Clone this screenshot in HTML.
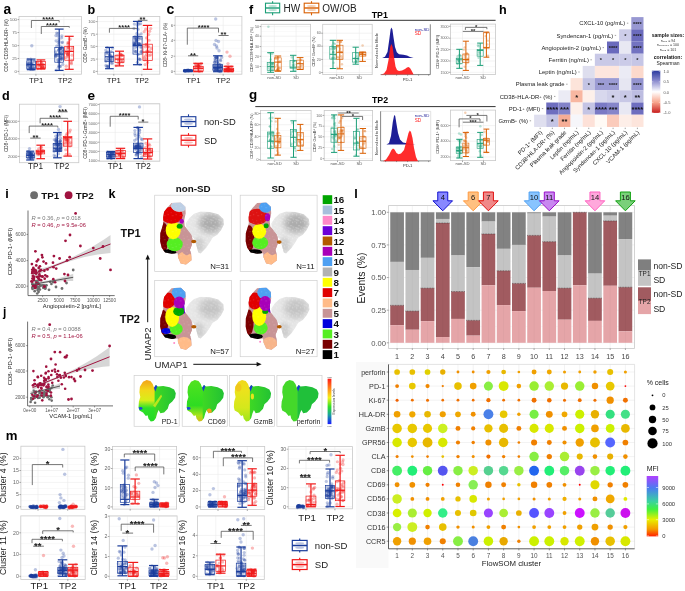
<!DOCTYPE html>
<html><head><meta charset="utf-8"><style>
html,body{margin:0;padding:0;background:#fff;width:685px;height:591px;overflow:hidden}
svg{display:block;will-change:transform;font-family:"Liberation Sans", sans-serif}
</style></head><body>
<svg width="685" height="591" viewBox="0 0 685 591">
<rect width="685" height="591" fill="#fff"/>
<text x="3.4" y="13.6" font-size="13.8" font-weight="bold" fill="#000">a</text>
<rect x="19" y="16.5" width="62.5" height="57.7" fill="#fff"/>
<line x1="19" y1="26.05" x2="81.5" y2="26.05" stroke="#f3f3f3" stroke-width="0.5"/>
<line x1="19" y1="39.05" x2="81.5" y2="39.05" stroke="#f3f3f3" stroke-width="0.5"/>
<line x1="19" y1="52.05" x2="81.5" y2="52.05" stroke="#f3f3f3" stroke-width="0.5"/>
<line x1="19" y1="64.95" x2="81.5" y2="64.95" stroke="#f3f3f3" stroke-width="0.5"/>
<line x1="19" y1="19.6" x2="81.5" y2="19.6" stroke="#ebebeb" stroke-width="0.6"/>
<line x1="19" y1="32.5" x2="81.5" y2="32.5" stroke="#ebebeb" stroke-width="0.6"/>
<line x1="19" y1="45.6" x2="81.5" y2="45.6" stroke="#ebebeb" stroke-width="0.6"/>
<line x1="19" y1="58.5" x2="81.5" y2="58.5" stroke="#ebebeb" stroke-width="0.6"/>
<line x1="19" y1="71.4" x2="81.5" y2="71.4" stroke="#ebebeb" stroke-width="0.6"/>
<line x1="35.9" y1="16.5" x2="35.9" y2="74.2" stroke="#ebebeb" stroke-width="0.6"/>
<line x1="63.9" y1="16.5" x2="63.9" y2="74.2" stroke="#ebebeb" stroke-width="0.6"/>
<rect x="19" y="16.5" width="62.5" height="57.7" fill="none" stroke="#c9c9c9" stroke-width="0.8"/>
<line x1="17.5" y1="19.6" x2="19" y2="19.6" stroke="#555" stroke-width="0.5"/>
<text x="17" y="21.11" font-size="4.3" text-anchor="end" fill="#666">100</text>
<line x1="17.5" y1="32.5" x2="19" y2="32.5" stroke="#555" stroke-width="0.5"/>
<text x="17" y="34.01" font-size="4.3" text-anchor="end" fill="#666">75</text>
<line x1="17.5" y1="45.6" x2="19" y2="45.6" stroke="#555" stroke-width="0.5"/>
<text x="17" y="47.11" font-size="4.3" text-anchor="end" fill="#666">50</text>
<line x1="17.5" y1="58.5" x2="19" y2="58.5" stroke="#555" stroke-width="0.5"/>
<text x="17" y="60.01" font-size="4.3" text-anchor="end" fill="#666">25</text>
<line x1="17.5" y1="71.4" x2="19" y2="71.4" stroke="#555" stroke-width="0.5"/>
<text x="17" y="72.91" font-size="4.3" text-anchor="end" fill="#666">0</text>
<line x1="35.9" y1="74.2" x2="35.9" y2="75.7" stroke="#555" stroke-width="0.5"/>
<line x1="63.9" y1="74.2" x2="63.9" y2="75.7" stroke="#555" stroke-width="0.5"/>
<circle cx="33.02" cy="67.76" r="1.6" fill="#1a3c9b" fill-opacity="0.3"/>
<circle cx="30.79" cy="64.91" r="1.6" fill="#1a3c9b" fill-opacity="0.3"/>
<circle cx="28.27" cy="67.46" r="1.6" fill="#1a3c9b" fill-opacity="0.3"/>
<circle cx="30.67" cy="67.67" r="1.6" fill="#1a3c9b" fill-opacity="0.3"/>
<circle cx="30.76" cy="59.12" r="1.6" fill="#1a3c9b" fill-opacity="0.3"/>
<circle cx="34.31" cy="61.52" r="1.6" fill="#1a3c9b" fill-opacity="0.3"/>
<circle cx="27.78" cy="59.42" r="1.6" fill="#1a3c9b" fill-opacity="0.3"/>
<circle cx="30.31" cy="69.05" r="1.6" fill="#1a3c9b" fill-opacity="0.3"/>
<circle cx="27.81" cy="64.32" r="1.6" fill="#1a3c9b" fill-opacity="0.3"/>
<circle cx="31.12" cy="64.45" r="1.6" fill="#1a3c9b" fill-opacity="0.3"/>
<circle cx="29.15" cy="62.77" r="1.6" fill="#1a3c9b" fill-opacity="0.3"/>
<circle cx="27.75" cy="63.25" r="1.6" fill="#1a3c9b" fill-opacity="0.3"/>
<circle cx="32.16" cy="65" r="1.6" fill="#1a3c9b" fill-opacity="0.3"/>
<circle cx="33.71" cy="68.94" r="1.6" fill="#1a3c9b" fill-opacity="0.3"/>
<circle cx="32.72" cy="63.59" r="1.6" fill="#1a3c9b" fill-opacity="0.3"/>
<circle cx="30.6" cy="69.03" r="1.6" fill="#1a3c9b" fill-opacity="0.3"/>
<circle cx="29.75" cy="66.21" r="1.6" fill="#1a3c9b" fill-opacity="0.3"/>
<circle cx="33.61" cy="68.45" r="1.6" fill="#1a3c9b" fill-opacity="0.3"/>
<circle cx="27.85" cy="65.34" r="1.6" fill="#1a3c9b" fill-opacity="0.3"/>
<circle cx="30.54" cy="67.36" r="1.6" fill="#1a3c9b" fill-opacity="0.3"/>
<circle cx="32.59" cy="65.35" r="1.6" fill="#1a3c9b" fill-opacity="0.3"/>
<circle cx="30.72" cy="63.07" r="1.6" fill="#1a3c9b" fill-opacity="0.3"/>
<circle cx="31.3" cy="67.35" r="1.6" fill="#1a3c9b" fill-opacity="0.3"/>
<circle cx="27.81" cy="64.87" r="1.6" fill="#1a3c9b" fill-opacity="0.3"/>
<circle cx="34.58" cy="66.6" r="1.6" fill="#1a3c9b" fill-opacity="0.3"/>
<circle cx="28.81" cy="63.27" r="1.6" fill="#1a3c9b" fill-opacity="0.3"/>
<circle cx="33.07" cy="69.51" r="1.6" fill="#1a3c9b" fill-opacity="0.3"/>
<circle cx="29.25" cy="68.22" r="1.6" fill="#1a3c9b" fill-opacity="0.3"/>
<circle cx="31.7" cy="69.2" r="1.6" fill="#1a3c9b" fill-opacity="0.3"/>
<circle cx="31.49" cy="63.08" r="1.6" fill="#1a3c9b" fill-opacity="0.3"/>
<circle cx="31.8" cy="45.7" r="1.68" fill="#1a3c9b" fill-opacity="0.3"/>
<rect x="26.8" y="60.9" width="8.7" height="8.1" fill="none" stroke="#1a3c9b" stroke-width="0.7"/>
<line x1="31.2" y1="59.1" x2="31.2" y2="69.7" stroke="#1a3c9b" stroke-width="1.2"/>
<line x1="26.85" y1="59.1" x2="35.55" y2="59.1" stroke="#1a3c9b" stroke-width="1.2"/>
<line x1="26.85" y1="69.7" x2="35.55" y2="69.7" stroke="#1a3c9b" stroke-width="1.2"/>
<line x1="26.8" y1="64.7" x2="35.5" y2="64.7" stroke="#1a3c9b" stroke-width="1.2"/>
<circle cx="37.71" cy="68.53" r="1.6" fill="#f01818" fill-opacity="0.3"/>
<circle cx="42.6" cy="67.2" r="1.6" fill="#f01818" fill-opacity="0.3"/>
<circle cx="41.66" cy="62.7" r="1.6" fill="#f01818" fill-opacity="0.3"/>
<circle cx="38.44" cy="65.19" r="1.6" fill="#f01818" fill-opacity="0.3"/>
<circle cx="42.51" cy="64.24" r="1.6" fill="#f01818" fill-opacity="0.3"/>
<circle cx="41.22" cy="68.54" r="1.6" fill="#f01818" fill-opacity="0.3"/>
<circle cx="37.56" cy="63.4" r="1.6" fill="#f01818" fill-opacity="0.3"/>
<circle cx="39.59" cy="64.71" r="1.6" fill="#f01818" fill-opacity="0.3"/>
<circle cx="41.09" cy="67.57" r="1.6" fill="#f01818" fill-opacity="0.3"/>
<circle cx="37.47" cy="62.05" r="1.6" fill="#f01818" fill-opacity="0.3"/>
<circle cx="40.97" cy="62.52" r="1.6" fill="#f01818" fill-opacity="0.3"/>
<circle cx="38.61" cy="66.04" r="1.6" fill="#f01818" fill-opacity="0.3"/>
<circle cx="42.59" cy="67.15" r="1.6" fill="#f01818" fill-opacity="0.3"/>
<circle cx="42.99" cy="66.84" r="1.6" fill="#f01818" fill-opacity="0.3"/>
<circle cx="44.23" cy="68.17" r="1.6" fill="#f01818" fill-opacity="0.3"/>
<circle cx="42.45" cy="66.65" r="1.6" fill="#f01818" fill-opacity="0.3"/>
<circle cx="40.83" cy="65.15" r="1.6" fill="#f01818" fill-opacity="0.3"/>
<circle cx="43.29" cy="64.46" r="1.6" fill="#f01818" fill-opacity="0.3"/>
<circle cx="43.78" cy="67.52" r="1.6" fill="#f01818" fill-opacity="0.3"/>
<rect x="36.5" y="61.6" width="8.8" height="6.7" fill="none" stroke="#f01818" stroke-width="0.7"/>
<line x1="40.9" y1="59.9" x2="40.9" y2="69" stroke="#f01818" stroke-width="1.2"/>
<line x1="36.5" y1="59.9" x2="45.3" y2="59.9" stroke="#f01818" stroke-width="1.2"/>
<line x1="36.5" y1="69" x2="45.3" y2="69" stroke="#f01818" stroke-width="1.2"/>
<line x1="36.5" y1="64.7" x2="45.3" y2="64.7" stroke="#f01818" stroke-width="1.2"/>
<circle cx="58.26" cy="55.45" r="1.6" fill="#1a3c9b" fill-opacity="0.3"/>
<circle cx="56.07" cy="54.94" r="1.6" fill="#1a3c9b" fill-opacity="0.3"/>
<circle cx="57.47" cy="59.79" r="1.6" fill="#1a3c9b" fill-opacity="0.3"/>
<circle cx="58.99" cy="62.14" r="1.6" fill="#1a3c9b" fill-opacity="0.3"/>
<circle cx="60.2" cy="48.77" r="1.6" fill="#1a3c9b" fill-opacity="0.3"/>
<circle cx="61.85" cy="56.8" r="1.6" fill="#1a3c9b" fill-opacity="0.3"/>
<circle cx="60.43" cy="59.71" r="1.6" fill="#1a3c9b" fill-opacity="0.3"/>
<circle cx="59.86" cy="58.62" r="1.6" fill="#1a3c9b" fill-opacity="0.3"/>
<circle cx="61.83" cy="47.86" r="1.6" fill="#1a3c9b" fill-opacity="0.3"/>
<circle cx="61.93" cy="58.04" r="1.6" fill="#1a3c9b" fill-opacity="0.3"/>
<circle cx="58.44" cy="67.14" r="1.6" fill="#1a3c9b" fill-opacity="0.3"/>
<circle cx="62.34" cy="47.46" r="1.6" fill="#1a3c9b" fill-opacity="0.3"/>
<circle cx="56.58" cy="33.12" r="1.6" fill="#1a3c9b" fill-opacity="0.3"/>
<circle cx="58.74" cy="61.69" r="1.6" fill="#1a3c9b" fill-opacity="0.3"/>
<circle cx="59.25" cy="41.53" r="1.6" fill="#1a3c9b" fill-opacity="0.3"/>
<circle cx="59.81" cy="52.59" r="1.6" fill="#1a3c9b" fill-opacity="0.3"/>
<circle cx="60.51" cy="66.44" r="1.6" fill="#1a3c9b" fill-opacity="0.3"/>
<circle cx="62.74" cy="64.47" r="1.6" fill="#1a3c9b" fill-opacity="0.3"/>
<circle cx="61.8" cy="35.84" r="1.6" fill="#1a3c9b" fill-opacity="0.3"/>
<circle cx="59.7" cy="66.46" r="1.6" fill="#1a3c9b" fill-opacity="0.3"/>
<circle cx="61.59" cy="37.82" r="1.6" fill="#1a3c9b" fill-opacity="0.3"/>
<circle cx="56.06" cy="40.87" r="1.6" fill="#1a3c9b" fill-opacity="0.3"/>
<circle cx="56.24" cy="69.98" r="1.6" fill="#1a3c9b" fill-opacity="0.3"/>
<circle cx="56.69" cy="46.05" r="1.6" fill="#1a3c9b" fill-opacity="0.3"/>
<circle cx="61.88" cy="58.78" r="1.6" fill="#1a3c9b" fill-opacity="0.3"/>
<circle cx="55.92" cy="56.5" r="1.6" fill="#1a3c9b" fill-opacity="0.3"/>
<circle cx="61.94" cy="42.77" r="1.6" fill="#1a3c9b" fill-opacity="0.3"/>
<circle cx="62.79" cy="49.97" r="1.6" fill="#1a3c9b" fill-opacity="0.3"/>
<circle cx="59.92" cy="48.54" r="1.6" fill="#1a3c9b" fill-opacity="0.3"/>
<circle cx="58.54" cy="50.32" r="1.6" fill="#1a3c9b" fill-opacity="0.3"/>
<circle cx="55.91" cy="35.55" r="1.6" fill="#1a3c9b" fill-opacity="0.3"/>
<circle cx="62.5" cy="42.06" r="1.6" fill="#1a3c9b" fill-opacity="0.3"/>
<circle cx="58.91" cy="44.7" r="1.6" fill="#1a3c9b" fill-opacity="0.3"/>
<circle cx="59.89" cy="55.69" r="1.6" fill="#1a3c9b" fill-opacity="0.3"/>
<circle cx="62.37" cy="54.71" r="1.6" fill="#1a3c9b" fill-opacity="0.3"/>
<circle cx="60.79" cy="46.91" r="1.6" fill="#1a3c9b" fill-opacity="0.3"/>
<circle cx="62.64" cy="51.86" r="1.6" fill="#1a3c9b" fill-opacity="0.3"/>
<circle cx="55.68" cy="51.75" r="1.6" fill="#1a3c9b" fill-opacity="0.3"/>
<circle cx="55.74" cy="55.98" r="1.6" fill="#1a3c9b" fill-opacity="0.3"/>
<circle cx="56.03" cy="55.21" r="1.6" fill="#1a3c9b" fill-opacity="0.3"/>
<circle cx="60.49" cy="48.36" r="1.6" fill="#1a3c9b" fill-opacity="0.3"/>
<circle cx="60.91" cy="57.86" r="1.6" fill="#1a3c9b" fill-opacity="0.3"/>
<circle cx="60.47" cy="48.3" r="1.6" fill="#1a3c9b" fill-opacity="0.3"/>
<circle cx="58.89" cy="39.47" r="1.6" fill="#1a3c9b" fill-opacity="0.3"/>
<circle cx="58.22" cy="42.32" r="1.6" fill="#1a3c9b" fill-opacity="0.3"/>
<circle cx="59.89" cy="52.86" r="1.6" fill="#1a3c9b" fill-opacity="0.3"/>
<circle cx="61.16" cy="52.98" r="1.6" fill="#1a3c9b" fill-opacity="0.3"/>
<circle cx="60.89" cy="55.83" r="1.6" fill="#1a3c9b" fill-opacity="0.3"/>
<circle cx="61.39" cy="50.69" r="1.6" fill="#1a3c9b" fill-opacity="0.3"/>
<circle cx="58.73" cy="50.17" r="1.6" fill="#1a3c9b" fill-opacity="0.3"/>
<circle cx="57.92" cy="33.31" r="1.6" fill="#1a3c9b" fill-opacity="0.3"/>
<circle cx="58.76" cy="59.74" r="1.6" fill="#1a3c9b" fill-opacity="0.3"/>
<circle cx="58.02" cy="36.09" r="1.6" fill="#1a3c9b" fill-opacity="0.3"/>
<circle cx="58.85" cy="65.65" r="1.6" fill="#1a3c9b" fill-opacity="0.3"/>
<circle cx="59.41" cy="49.19" r="1.6" fill="#1a3c9b" fill-opacity="0.3"/>
<circle cx="61.64" cy="59.34" r="1.6" fill="#1a3c9b" fill-opacity="0.3"/>
<rect x="54.8" y="47.4" width="8.8" height="14.8" fill="none" stroke="#1a3c9b" stroke-width="0.7"/>
<line x1="59.2" y1="29.1" x2="59.2" y2="70.4" stroke="#1a3c9b" stroke-width="1.2"/>
<line x1="54.8" y1="29.1" x2="63.6" y2="29.1" stroke="#1a3c9b" stroke-width="1.2"/>
<line x1="54.8" y1="70.4" x2="63.6" y2="70.4" stroke="#1a3c9b" stroke-width="1.2"/>
<line x1="54.8" y1="54.1" x2="63.6" y2="54.1" stroke="#1a3c9b" stroke-width="1.2"/>
<circle cx="68.43" cy="47.73" r="1.6" fill="#f01818" fill-opacity="0.3"/>
<circle cx="68.47" cy="47.22" r="1.6" fill="#f01818" fill-opacity="0.3"/>
<circle cx="71.16" cy="62.71" r="1.6" fill="#f01818" fill-opacity="0.3"/>
<circle cx="67.55" cy="53.76" r="1.6" fill="#f01818" fill-opacity="0.3"/>
<circle cx="67.09" cy="47.78" r="1.6" fill="#f01818" fill-opacity="0.3"/>
<circle cx="71.47" cy="63.65" r="1.6" fill="#f01818" fill-opacity="0.3"/>
<circle cx="67.79" cy="42.68" r="1.6" fill="#f01818" fill-opacity="0.3"/>
<circle cx="71.82" cy="60.45" r="1.6" fill="#f01818" fill-opacity="0.3"/>
<circle cx="69.98" cy="39.16" r="1.6" fill="#f01818" fill-opacity="0.3"/>
<circle cx="66.82" cy="53" r="1.6" fill="#f01818" fill-opacity="0.3"/>
<circle cx="72.42" cy="47.54" r="1.6" fill="#f01818" fill-opacity="0.3"/>
<circle cx="67.72" cy="54.37" r="1.6" fill="#f01818" fill-opacity="0.3"/>
<circle cx="72.03" cy="55.19" r="1.6" fill="#f01818" fill-opacity="0.3"/>
<circle cx="68.56" cy="53.08" r="1.6" fill="#f01818" fill-opacity="0.3"/>
<circle cx="66.69" cy="50.52" r="1.6" fill="#f01818" fill-opacity="0.3"/>
<circle cx="65.82" cy="57.6" r="1.6" fill="#f01818" fill-opacity="0.3"/>
<circle cx="67.58" cy="55.01" r="1.6" fill="#f01818" fill-opacity="0.3"/>
<circle cx="68.04" cy="51.85" r="1.6" fill="#f01818" fill-opacity="0.3"/>
<circle cx="68.55" cy="42.75" r="1.6" fill="#f01818" fill-opacity="0.3"/>
<circle cx="67.54" cy="55.09" r="1.6" fill="#f01818" fill-opacity="0.3"/>
<circle cx="67.87" cy="56.68" r="1.6" fill="#f01818" fill-opacity="0.3"/>
<circle cx="66.25" cy="66.14" r="1.6" fill="#f01818" fill-opacity="0.3"/>
<circle cx="71.16" cy="49.48" r="1.6" fill="#f01818" fill-opacity="0.3"/>
<circle cx="67.95" cy="44.13" r="1.6" fill="#f01818" fill-opacity="0.3"/>
<circle cx="65.82" cy="52.68" r="1.6" fill="#f01818" fill-opacity="0.3"/>
<rect x="64.7" y="46.3" width="9" height="13.9" fill="none" stroke="#f01818" stroke-width="0.7"/>
<line x1="69.2" y1="36.3" x2="69.2" y2="69.3" stroke="#f01818" stroke-width="1.2"/>
<line x1="64.7" y1="36.3" x2="73.7" y2="36.3" stroke="#f01818" stroke-width="1.2"/>
<line x1="64.7" y1="69.3" x2="73.7" y2="69.3" stroke="#f01818" stroke-width="1.2"/>
<line x1="64.7" y1="51.4" x2="73.7" y2="51.4" stroke="#f01818" stroke-width="1.2"/>
<path d="M31.4,28 L31.4,20.5 L59.2,20.5 L59.2,22.4" fill="none" stroke="#4a4a4a" stroke-width="0.75"/>
<text x="48.1" y="22.45" font-size="7.5" text-anchor="middle" font-weight="bold" fill="#1a1a1a">****</text>
<path d="M41.3,34 L41.3,26.5 L69.3,26.5 L69.3,27.7" fill="none" stroke="#4a4a4a" stroke-width="0.75"/>
<text x="51.9" y="28.45" font-size="7.5" text-anchor="middle" font-weight="bold" fill="#1a1a1a">****</text>
<text x="8.4" y="45.5" font-size="4.5" text-anchor="middle" fill="#333" transform="rotate(-90 8.4 45.5)">CD8<tspan baseline-shift="35%" font-size="70%">+</tspan> CD38<tspan baseline-shift="35%" font-size="70%">+</tspan>HLA-DR<tspan baseline-shift="35%" font-size="70%">+</tspan> (%)</text>
<text x="36.2" y="83" font-size="7.8" text-anchor="middle" fill="#222">TP1</text>
<text x="64.9" y="83" font-size="7.8" text-anchor="middle" fill="#222">TP2</text>
<text x="87.4" y="13.8" font-size="12.6" font-weight="bold" fill="#000">b</text>
<rect x="97.4" y="16.5" width="62.4" height="57.7" fill="#fff"/>
<line x1="97.4" y1="27.9" x2="159.8" y2="27.9" stroke="#f3f3f3" stroke-width="0.5"/>
<line x1="97.4" y1="40.3" x2="159.8" y2="40.3" stroke="#f3f3f3" stroke-width="0.5"/>
<line x1="97.4" y1="52.75" x2="159.8" y2="52.75" stroke="#f3f3f3" stroke-width="0.5"/>
<line x1="97.4" y1="65.25" x2="159.8" y2="65.25" stroke="#f3f3f3" stroke-width="0.5"/>
<line x1="97.4" y1="21.6" x2="159.8" y2="21.6" stroke="#ebebeb" stroke-width="0.6"/>
<line x1="97.4" y1="34.2" x2="159.8" y2="34.2" stroke="#ebebeb" stroke-width="0.6"/>
<line x1="97.4" y1="46.4" x2="159.8" y2="46.4" stroke="#ebebeb" stroke-width="0.6"/>
<line x1="97.4" y1="59.1" x2="159.8" y2="59.1" stroke="#ebebeb" stroke-width="0.6"/>
<line x1="97.4" y1="71.4" x2="159.8" y2="71.4" stroke="#ebebeb" stroke-width="0.6"/>
<line x1="113.8" y1="16.5" x2="113.8" y2="74.2" stroke="#ebebeb" stroke-width="0.6"/>
<line x1="141.8" y1="16.5" x2="141.8" y2="74.2" stroke="#ebebeb" stroke-width="0.6"/>
<rect x="97.4" y="16.5" width="62.4" height="57.7" fill="none" stroke="#c9c9c9" stroke-width="0.8"/>
<line x1="95.9" y1="21.6" x2="97.4" y2="21.6" stroke="#555" stroke-width="0.5"/>
<text x="95.4" y="23.11" font-size="4.3" text-anchor="end" fill="#666">100</text>
<line x1="95.9" y1="34.2" x2="97.4" y2="34.2" stroke="#555" stroke-width="0.5"/>
<text x="95.4" y="35.71" font-size="4.3" text-anchor="end" fill="#666">75</text>
<line x1="95.9" y1="46.4" x2="97.4" y2="46.4" stroke="#555" stroke-width="0.5"/>
<text x="95.4" y="47.91" font-size="4.3" text-anchor="end" fill="#666">50</text>
<line x1="95.9" y1="59.1" x2="97.4" y2="59.1" stroke="#555" stroke-width="0.5"/>
<text x="95.4" y="60.61" font-size="4.3" text-anchor="end" fill="#666">25</text>
<line x1="95.9" y1="71.4" x2="97.4" y2="71.4" stroke="#555" stroke-width="0.5"/>
<text x="95.4" y="72.91" font-size="4.3" text-anchor="end" fill="#666">0</text>
<line x1="113.8" y1="74.2" x2="113.8" y2="75.7" stroke="#555" stroke-width="0.5"/>
<line x1="141.8" y1="74.2" x2="141.8" y2="75.7" stroke="#555" stroke-width="0.5"/>
<circle cx="111.45" cy="63.2" r="1.6" fill="#1a3c9b" fill-opacity="0.3"/>
<circle cx="112.35" cy="63.16" r="1.6" fill="#1a3c9b" fill-opacity="0.3"/>
<circle cx="112.5" cy="56.52" r="1.6" fill="#1a3c9b" fill-opacity="0.3"/>
<circle cx="106.6" cy="66.59" r="1.6" fill="#1a3c9b" fill-opacity="0.3"/>
<circle cx="109.66" cy="54.44" r="1.6" fill="#1a3c9b" fill-opacity="0.3"/>
<circle cx="107.34" cy="47.68" r="1.6" fill="#1a3c9b" fill-opacity="0.3"/>
<circle cx="111.24" cy="60.81" r="1.6" fill="#1a3c9b" fill-opacity="0.3"/>
<circle cx="106.79" cy="59.67" r="1.6" fill="#1a3c9b" fill-opacity="0.3"/>
<circle cx="105.81" cy="50.1" r="1.6" fill="#1a3c9b" fill-opacity="0.3"/>
<circle cx="107.33" cy="51.86" r="1.6" fill="#1a3c9b" fill-opacity="0.3"/>
<circle cx="107.85" cy="65.98" r="1.6" fill="#1a3c9b" fill-opacity="0.3"/>
<circle cx="110.61" cy="58.89" r="1.6" fill="#1a3c9b" fill-opacity="0.3"/>
<circle cx="110.7" cy="61.04" r="1.6" fill="#1a3c9b" fill-opacity="0.3"/>
<circle cx="107.92" cy="66.44" r="1.6" fill="#1a3c9b" fill-opacity="0.3"/>
<circle cx="106.83" cy="53.68" r="1.6" fill="#1a3c9b" fill-opacity="0.3"/>
<circle cx="110.08" cy="54.96" r="1.6" fill="#1a3c9b" fill-opacity="0.3"/>
<circle cx="108.2" cy="58.54" r="1.6" fill="#1a3c9b" fill-opacity="0.3"/>
<circle cx="109.21" cy="59.88" r="1.6" fill="#1a3c9b" fill-opacity="0.3"/>
<circle cx="110.8" cy="56.67" r="1.6" fill="#1a3c9b" fill-opacity="0.3"/>
<circle cx="105.96" cy="61.36" r="1.6" fill="#1a3c9b" fill-opacity="0.3"/>
<circle cx="105.93" cy="65.4" r="1.6" fill="#1a3c9b" fill-opacity="0.3"/>
<circle cx="109.91" cy="55.2" r="1.6" fill="#1a3c9b" fill-opacity="0.3"/>
<circle cx="107.08" cy="52.54" r="1.6" fill="#1a3c9b" fill-opacity="0.3"/>
<circle cx="111.17" cy="51.59" r="1.6" fill="#1a3c9b" fill-opacity="0.3"/>
<circle cx="108.25" cy="67.47" r="1.6" fill="#1a3c9b" fill-opacity="0.3"/>
<circle cx="111.31" cy="57.08" r="1.6" fill="#1a3c9b" fill-opacity="0.3"/>
<circle cx="111.46" cy="59.21" r="1.6" fill="#1a3c9b" fill-opacity="0.3"/>
<circle cx="112.52" cy="48.18" r="1.6" fill="#1a3c9b" fill-opacity="0.3"/>
<rect x="105" y="52.1" width="8.7" height="9.5" fill="none" stroke="#1a3c9b" stroke-width="0.7"/>
<line x1="109.4" y1="47.4" x2="109.4" y2="68.7" stroke="#1a3c9b" stroke-width="1.2"/>
<line x1="105.05" y1="47.4" x2="113.75" y2="47.4" stroke="#1a3c9b" stroke-width="1.2"/>
<line x1="105.05" y1="68.7" x2="113.75" y2="68.7" stroke="#1a3c9b" stroke-width="1.2"/>
<line x1="105" y1="56.8" x2="113.7" y2="56.8" stroke="#1a3c9b" stroke-width="1.2"/>
<circle cx="119.39" cy="63.28" r="1.6" fill="#f01818" fill-opacity="0.3"/>
<circle cx="120.7" cy="55.2" r="1.6" fill="#f01818" fill-opacity="0.3"/>
<circle cx="118.56" cy="60.75" r="1.6" fill="#f01818" fill-opacity="0.3"/>
<circle cx="121.73" cy="55.21" r="1.6" fill="#f01818" fill-opacity="0.3"/>
<circle cx="119.78" cy="57.29" r="1.6" fill="#f01818" fill-opacity="0.3"/>
<circle cx="119.9" cy="54.04" r="1.6" fill="#f01818" fill-opacity="0.3"/>
<circle cx="121.74" cy="55.1" r="1.6" fill="#f01818" fill-opacity="0.3"/>
<circle cx="118.28" cy="63.61" r="1.6" fill="#f01818" fill-opacity="0.3"/>
<circle cx="121.76" cy="61.04" r="1.6" fill="#f01818" fill-opacity="0.3"/>
<circle cx="117.26" cy="55.88" r="1.6" fill="#f01818" fill-opacity="0.3"/>
<circle cx="122.84" cy="55.48" r="1.6" fill="#f01818" fill-opacity="0.3"/>
<circle cx="120.65" cy="54.15" r="1.6" fill="#f01818" fill-opacity="0.3"/>
<circle cx="122.53" cy="62.01" r="1.6" fill="#f01818" fill-opacity="0.3"/>
<circle cx="120.96" cy="60.68" r="1.6" fill="#f01818" fill-opacity="0.3"/>
<circle cx="116.01" cy="65.55" r="1.6" fill="#f01818" fill-opacity="0.3"/>
<circle cx="118.05" cy="59.59" r="1.6" fill="#f01818" fill-opacity="0.3"/>
<rect x="115" y="55.2" width="9" height="7.3" fill="none" stroke="#f01818" stroke-width="0.7"/>
<line x1="119.5" y1="51.2" x2="119.5" y2="65.9" stroke="#f01818" stroke-width="1.2"/>
<line x1="115" y1="51.2" x2="124" y2="51.2" stroke="#f01818" stroke-width="1.2"/>
<line x1="115" y1="65.9" x2="124" y2="65.9" stroke="#f01818" stroke-width="1.2"/>
<line x1="115" y1="59.1" x2="124" y2="59.1" stroke="#f01818" stroke-width="1.2"/>
<circle cx="138.68" cy="39.15" r="1.6" fill="#1a3c9b" fill-opacity="0.3"/>
<circle cx="136.54" cy="45.93" r="1.6" fill="#1a3c9b" fill-opacity="0.3"/>
<circle cx="134.08" cy="45.43" r="1.6" fill="#1a3c9b" fill-opacity="0.3"/>
<circle cx="134.48" cy="37.73" r="1.6" fill="#1a3c9b" fill-opacity="0.3"/>
<circle cx="134.73" cy="51.05" r="1.6" fill="#1a3c9b" fill-opacity="0.3"/>
<circle cx="140.91" cy="47.54" r="1.6" fill="#1a3c9b" fill-opacity="0.3"/>
<circle cx="141.12" cy="38.58" r="1.6" fill="#1a3c9b" fill-opacity="0.3"/>
<circle cx="135.97" cy="51.61" r="1.6" fill="#1a3c9b" fill-opacity="0.3"/>
<circle cx="136.11" cy="38.57" r="1.6" fill="#1a3c9b" fill-opacity="0.3"/>
<circle cx="138.16" cy="29.23" r="1.6" fill="#1a3c9b" fill-opacity="0.3"/>
<circle cx="137.91" cy="37.52" r="1.6" fill="#1a3c9b" fill-opacity="0.3"/>
<circle cx="135.34" cy="37.55" r="1.6" fill="#1a3c9b" fill-opacity="0.3"/>
<circle cx="136.16" cy="39.91" r="1.6" fill="#1a3c9b" fill-opacity="0.3"/>
<circle cx="136.05" cy="41.02" r="1.6" fill="#1a3c9b" fill-opacity="0.3"/>
<circle cx="135.63" cy="51.67" r="1.6" fill="#1a3c9b" fill-opacity="0.3"/>
<circle cx="140.36" cy="44.14" r="1.6" fill="#1a3c9b" fill-opacity="0.3"/>
<circle cx="141.15" cy="33.87" r="1.6" fill="#1a3c9b" fill-opacity="0.3"/>
<circle cx="139.48" cy="43.86" r="1.6" fill="#1a3c9b" fill-opacity="0.3"/>
<circle cx="134.09" cy="45.11" r="1.6" fill="#1a3c9b" fill-opacity="0.3"/>
<circle cx="138.1" cy="54.51" r="1.6" fill="#1a3c9b" fill-opacity="0.3"/>
<circle cx="139.01" cy="34.99" r="1.6" fill="#1a3c9b" fill-opacity="0.3"/>
<circle cx="137.22" cy="46.51" r="1.6" fill="#1a3c9b" fill-opacity="0.3"/>
<circle cx="137.36" cy="62.3" r="1.6" fill="#1a3c9b" fill-opacity="0.3"/>
<circle cx="139.06" cy="24.03" r="1.6" fill="#1a3c9b" fill-opacity="0.3"/>
<circle cx="139.96" cy="64.4" r="1.6" fill="#1a3c9b" fill-opacity="0.3"/>
<circle cx="138.81" cy="43.29" r="1.6" fill="#1a3c9b" fill-opacity="0.3"/>
<circle cx="135.06" cy="44.63" r="1.6" fill="#1a3c9b" fill-opacity="0.3"/>
<circle cx="139.56" cy="37.54" r="1.6" fill="#1a3c9b" fill-opacity="0.3"/>
<circle cx="136.73" cy="40.86" r="1.6" fill="#1a3c9b" fill-opacity="0.3"/>
<circle cx="137.17" cy="24.89" r="1.6" fill="#1a3c9b" fill-opacity="0.3"/>
<circle cx="139.94" cy="59.65" r="1.6" fill="#1a3c9b" fill-opacity="0.3"/>
<circle cx="136.91" cy="33.46" r="1.6" fill="#1a3c9b" fill-opacity="0.3"/>
<circle cx="140.98" cy="52.06" r="1.6" fill="#1a3c9b" fill-opacity="0.3"/>
<circle cx="135.54" cy="39.6" r="1.6" fill="#1a3c9b" fill-opacity="0.3"/>
<circle cx="138.22" cy="45.04" r="1.6" fill="#1a3c9b" fill-opacity="0.3"/>
<circle cx="136.94" cy="36.57" r="1.6" fill="#1a3c9b" fill-opacity="0.3"/>
<circle cx="140.95" cy="46.47" r="1.6" fill="#1a3c9b" fill-opacity="0.3"/>
<circle cx="138.43" cy="43.72" r="1.6" fill="#1a3c9b" fill-opacity="0.3"/>
<circle cx="140.55" cy="23.74" r="1.6" fill="#1a3c9b" fill-opacity="0.3"/>
<circle cx="139.78" cy="59.27" r="1.6" fill="#1a3c9b" fill-opacity="0.3"/>
<circle cx="134.58" cy="43.52" r="1.6" fill="#1a3c9b" fill-opacity="0.3"/>
<circle cx="134.31" cy="24.1" r="1.6" fill="#1a3c9b" fill-opacity="0.3"/>
<circle cx="136.35" cy="39.36" r="1.6" fill="#1a3c9b" fill-opacity="0.3"/>
<circle cx="134.93" cy="36.5" r="1.6" fill="#1a3c9b" fill-opacity="0.3"/>
<circle cx="133.99" cy="42.9" r="1.6" fill="#1a3c9b" fill-opacity="0.3"/>
<circle cx="134.91" cy="47.99" r="1.6" fill="#1a3c9b" fill-opacity="0.3"/>
<circle cx="136.53" cy="42.61" r="1.6" fill="#1a3c9b" fill-opacity="0.3"/>
<circle cx="141.25" cy="51.44" r="1.6" fill="#1a3c9b" fill-opacity="0.3"/>
<circle cx="134.44" cy="45.02" r="1.6" fill="#1a3c9b" fill-opacity="0.3"/>
<circle cx="135.79" cy="42.53" r="1.6" fill="#1a3c9b" fill-opacity="0.3"/>
<circle cx="133.97" cy="28.39" r="1.6" fill="#1a3c9b" fill-opacity="0.3"/>
<circle cx="134.9" cy="44.27" r="1.6" fill="#1a3c9b" fill-opacity="0.3"/>
<circle cx="137.76" cy="22.57" r="1.6" fill="#1a3c9b" fill-opacity="0.3"/>
<circle cx="139.02" cy="58.78" r="1.6" fill="#1a3c9b" fill-opacity="0.3"/>
<circle cx="135.05" cy="42.95" r="1.6" fill="#1a3c9b" fill-opacity="0.3"/>
<circle cx="139.64" cy="44.46" r="1.6" fill="#1a3c9b" fill-opacity="0.3"/>
<rect x="133" y="36.5" width="9.1" height="17.6" fill="none" stroke="#1a3c9b" stroke-width="0.7"/>
<line x1="137.5" y1="21.4" x2="137.5" y2="64.7" stroke="#1a3c9b" stroke-width="1.2"/>
<line x1="132.95" y1="21.4" x2="142.05" y2="21.4" stroke="#1a3c9b" stroke-width="1.2"/>
<line x1="132.95" y1="64.7" x2="142.05" y2="64.7" stroke="#1a3c9b" stroke-width="1.2"/>
<line x1="133" y1="45.3" x2="142.1" y2="45.3" stroke="#1a3c9b" stroke-width="1.2"/>
<circle cx="144.69" cy="59.98" r="1.6" fill="#f01818" fill-opacity="0.3"/>
<circle cx="145.63" cy="29.14" r="1.6" fill="#f01818" fill-opacity="0.3"/>
<circle cx="148.71" cy="34.59" r="1.6" fill="#f01818" fill-opacity="0.3"/>
<circle cx="147.56" cy="51.63" r="1.6" fill="#f01818" fill-opacity="0.3"/>
<circle cx="144.4" cy="57.82" r="1.6" fill="#f01818" fill-opacity="0.3"/>
<circle cx="145.78" cy="44.53" r="1.6" fill="#f01818" fill-opacity="0.3"/>
<circle cx="146.66" cy="58.99" r="1.6" fill="#f01818" fill-opacity="0.3"/>
<circle cx="151.43" cy="48.44" r="1.6" fill="#f01818" fill-opacity="0.3"/>
<circle cx="146.64" cy="54.37" r="1.6" fill="#f01818" fill-opacity="0.3"/>
<circle cx="149.09" cy="40.26" r="1.6" fill="#f01818" fill-opacity="0.3"/>
<circle cx="150.73" cy="54.86" r="1.6" fill="#f01818" fill-opacity="0.3"/>
<circle cx="144.2" cy="31.64" r="1.6" fill="#f01818" fill-opacity="0.3"/>
<circle cx="145.21" cy="46.85" r="1.6" fill="#f01818" fill-opacity="0.3"/>
<circle cx="149.39" cy="50.82" r="1.6" fill="#f01818" fill-opacity="0.3"/>
<circle cx="146.48" cy="37.94" r="1.6" fill="#f01818" fill-opacity="0.3"/>
<circle cx="149.66" cy="31.33" r="1.6" fill="#f01818" fill-opacity="0.3"/>
<circle cx="149.18" cy="55.52" r="1.6" fill="#f01818" fill-opacity="0.3"/>
<circle cx="147.63" cy="62.43" r="1.6" fill="#f01818" fill-opacity="0.3"/>
<circle cx="147.82" cy="46.66" r="1.6" fill="#f01818" fill-opacity="0.3"/>
<circle cx="150.75" cy="28.54" r="1.6" fill="#f01818" fill-opacity="0.3"/>
<circle cx="145.42" cy="56.19" r="1.6" fill="#f01818" fill-opacity="0.3"/>
<circle cx="146.38" cy="44.4" r="1.6" fill="#f01818" fill-opacity="0.3"/>
<circle cx="146.64" cy="51.14" r="1.6" fill="#f01818" fill-opacity="0.3"/>
<circle cx="145.07" cy="64.54" r="1.6" fill="#f01818" fill-opacity="0.3"/>
<circle cx="148.87" cy="46.93" r="1.6" fill="#f01818" fill-opacity="0.3"/>
<rect x="142.9" y="44.2" width="9.4" height="16.4" fill="none" stroke="#f01818" stroke-width="0.7"/>
<line x1="147.5" y1="25.4" x2="147.5" y2="69.3" stroke="#f01818" stroke-width="1.2"/>
<line x1="142.8" y1="25.4" x2="152.2" y2="25.4" stroke="#f01818" stroke-width="1.2"/>
<line x1="142.8" y1="69.3" x2="152.2" y2="69.3" stroke="#f01818" stroke-width="1.2"/>
<line x1="142.9" y1="52.1" x2="152.3" y2="52.1" stroke="#f01818" stroke-width="1.2"/>
<path d="M109.4,32.7 L109.4,28.4 L137.1,28.4 L137.1,28.4" fill="none" stroke="#4a4a4a" stroke-width="0.75"/>
<text x="124.2" y="30.35" font-size="7.5" text-anchor="middle" font-weight="bold" fill="#1a1a1a">****</text>
<path d="M137.8,20.3 L137.8,20.3 L147.5,20.3 L147.5,20.3" fill="none" stroke="#4a4a4a" stroke-width="0.75"/>
<text x="142.5" y="22.25" font-size="7.5" text-anchor="middle" font-weight="bold" fill="#1a1a1a">**</text>
<text x="87.2" y="45" font-size="4.6" text-anchor="middle" fill="#333" transform="rotate(-90 87.2 45)">CD8<tspan baseline-shift="35%" font-size="70%">+</tspan> GzmB<tspan baseline-shift="35%" font-size="70%">+</tspan> (%)</text>
<text x="113.8" y="83" font-size="7.8" text-anchor="middle" fill="#222">TP1</text>
<text x="141.8" y="83" font-size="7.8" text-anchor="middle" fill="#222">TP2</text>
<text x="166.6" y="13.5" font-size="14" font-weight="bold" fill="#000">c</text>
<rect x="175.1" y="16.5" width="66.8" height="57.7" fill="#fff"/>
<line x1="175.1" y1="32.8" x2="241.9" y2="32.8" stroke="#f3f3f3" stroke-width="0.5"/>
<line x1="175.1" y1="48.25" x2="241.9" y2="48.25" stroke="#f3f3f3" stroke-width="0.5"/>
<line x1="175.1" y1="63.8" x2="241.9" y2="63.8" stroke="#f3f3f3" stroke-width="0.5"/>
<line x1="175.1" y1="25.3" x2="241.9" y2="25.3" stroke="#ebebeb" stroke-width="0.6"/>
<line x1="175.1" y1="40.3" x2="241.9" y2="40.3" stroke="#ebebeb" stroke-width="0.6"/>
<line x1="175.1" y1="56.2" x2="241.9" y2="56.2" stroke="#ebebeb" stroke-width="0.6"/>
<line x1="175.1" y1="71.4" x2="241.9" y2="71.4" stroke="#ebebeb" stroke-width="0.6"/>
<line x1="193.4" y1="16.5" x2="193.4" y2="74.2" stroke="#ebebeb" stroke-width="0.6"/>
<line x1="223.2" y1="16.5" x2="223.2" y2="74.2" stroke="#ebebeb" stroke-width="0.6"/>
<rect x="175.1" y="16.5" width="66.8" height="57.7" fill="none" stroke="#c9c9c9" stroke-width="0.8"/>
<line x1="173.6" y1="25.3" x2="175.1" y2="25.3" stroke="#555" stroke-width="0.5"/>
<text x="173.1" y="26.8" font-size="4.3" text-anchor="end" fill="#666">6</text>
<line x1="173.6" y1="40.3" x2="175.1" y2="40.3" stroke="#555" stroke-width="0.5"/>
<text x="173.1" y="41.8" font-size="4.3" text-anchor="end" fill="#666">4</text>
<line x1="173.6" y1="56.2" x2="175.1" y2="56.2" stroke="#555" stroke-width="0.5"/>
<text x="173.1" y="57.71" font-size="4.3" text-anchor="end" fill="#666">2</text>
<line x1="173.6" y1="71.4" x2="175.1" y2="71.4" stroke="#555" stroke-width="0.5"/>
<text x="173.1" y="72.91" font-size="4.3" text-anchor="end" fill="#666">0</text>
<line x1="193.4" y1="74.2" x2="193.4" y2="75.7" stroke="#555" stroke-width="0.5"/>
<line x1="223.2" y1="74.2" x2="223.2" y2="75.7" stroke="#555" stroke-width="0.5"/>
<circle cx="185.18" cy="70.77" r="1.2" fill="#1a3c9b" fill-opacity="0.3"/>
<circle cx="188.02" cy="69.81" r="1.2" fill="#1a3c9b" fill-opacity="0.3"/>
<circle cx="188.42" cy="69.95" r="1.2" fill="#1a3c9b" fill-opacity="0.3"/>
<circle cx="187.06" cy="69.88" r="1.2" fill="#1a3c9b" fill-opacity="0.3"/>
<circle cx="189.76" cy="70.66" r="1.2" fill="#1a3c9b" fill-opacity="0.3"/>
<circle cx="184.97" cy="70.64" r="1.2" fill="#1a3c9b" fill-opacity="0.3"/>
<circle cx="188.71" cy="71.56" r="1.2" fill="#1a3c9b" fill-opacity="0.3"/>
<circle cx="189.92" cy="70.53" r="1.2" fill="#1a3c9b" fill-opacity="0.3"/>
<circle cx="189.36" cy="70.69" r="1.2" fill="#1a3c9b" fill-opacity="0.3"/>
<circle cx="184.78" cy="70.6" r="1.2" fill="#1a3c9b" fill-opacity="0.3"/>
<circle cx="186.29" cy="70.61" r="1.2" fill="#1a3c9b" fill-opacity="0.3"/>
<circle cx="191.01" cy="70.18" r="1.2" fill="#1a3c9b" fill-opacity="0.3"/>
<circle cx="187.05" cy="69.9" r="1.2" fill="#1a3c9b" fill-opacity="0.3"/>
<circle cx="187.41" cy="70.42" r="1.2" fill="#1a3c9b" fill-opacity="0.3"/>
<circle cx="188.76" cy="70.01" r="1.2" fill="#1a3c9b" fill-opacity="0.3"/>
<circle cx="191.08" cy="70.98" r="1.2" fill="#1a3c9b" fill-opacity="0.3"/>
<circle cx="184.75" cy="70.41" r="1.2" fill="#1a3c9b" fill-opacity="0.3"/>
<circle cx="184.76" cy="69.83" r="1.2" fill="#1a3c9b" fill-opacity="0.3"/>
<circle cx="187.38" cy="71.32" r="1.2" fill="#1a3c9b" fill-opacity="0.3"/>
<circle cx="184.83" cy="71.04" r="1.2" fill="#1a3c9b" fill-opacity="0.3"/>
<circle cx="188.85" cy="70.13" r="1.2" fill="#1a3c9b" fill-opacity="0.3"/>
<circle cx="188.43" cy="69.9" r="1.2" fill="#1a3c9b" fill-opacity="0.3"/>
<circle cx="186.19" cy="70.08" r="1.2" fill="#1a3c9b" fill-opacity="0.3"/>
<circle cx="185.05" cy="71.7" r="1.2" fill="#1a3c9b" fill-opacity="0.3"/>
<circle cx="185.95" cy="71.61" r="1.2" fill="#1a3c9b" fill-opacity="0.3"/>
<circle cx="186.95" cy="69.88" r="1.2" fill="#1a3c9b" fill-opacity="0.3"/>
<circle cx="190.14" cy="70.92" r="1.2" fill="#1a3c9b" fill-opacity="0.3"/>
<circle cx="190.84" cy="70.75" r="1.2" fill="#1a3c9b" fill-opacity="0.3"/>
<circle cx="187.24" cy="70.66" r="1.2" fill="#1a3c9b" fill-opacity="0.3"/>
<circle cx="184.24" cy="70.89" r="1.2" fill="#1a3c9b" fill-opacity="0.3"/>
<circle cx="187.48" cy="70.42" r="1.2" fill="#1a3c9b" fill-opacity="0.3"/>
<circle cx="186.63" cy="70.84" r="1.2" fill="#1a3c9b" fill-opacity="0.3"/>
<circle cx="184.9" cy="71.03" r="1.2" fill="#1a3c9b" fill-opacity="0.3"/>
<circle cx="190.19" cy="69.85" r="1.2" fill="#1a3c9b" fill-opacity="0.3"/>
<circle cx="189.63" cy="70.74" r="1.2" fill="#1a3c9b" fill-opacity="0.3"/>
<rect x="183.3" y="70.4" width="9.4" height="1" fill="none" stroke="#1a3c9b" stroke-width="0.7"/>
<line x1="188" y1="69.8" x2="188" y2="71.7" stroke="#1a3c9b" stroke-width="1.2"/>
<line x1="183.3" y1="69.8" x2="192.7" y2="69.8" stroke="#1a3c9b" stroke-width="1.2"/>
<line x1="183.3" y1="71.7" x2="192.7" y2="71.7" stroke="#1a3c9b" stroke-width="1.2"/>
<line x1="183.3" y1="70.9" x2="192.7" y2="70.9" stroke="#1a3c9b" stroke-width="1.2"/>
<circle cx="198.94" cy="66.9" r="1.6" fill="#f01818" fill-opacity="0.3"/>
<circle cx="200.95" cy="70.12" r="1.6" fill="#f01818" fill-opacity="0.3"/>
<circle cx="198.47" cy="64.65" r="1.6" fill="#f01818" fill-opacity="0.3"/>
<circle cx="202.01" cy="67.47" r="1.6" fill="#f01818" fill-opacity="0.3"/>
<circle cx="201.25" cy="63.67" r="1.6" fill="#f01818" fill-opacity="0.3"/>
<circle cx="196.53" cy="66.51" r="1.6" fill="#f01818" fill-opacity="0.3"/>
<circle cx="199.82" cy="67.14" r="1.6" fill="#f01818" fill-opacity="0.3"/>
<circle cx="200.5" cy="64.42" r="1.6" fill="#f01818" fill-opacity="0.3"/>
<circle cx="199.23" cy="71.44" r="1.6" fill="#f01818" fill-opacity="0.3"/>
<circle cx="195.3" cy="66.32" r="1.6" fill="#f01818" fill-opacity="0.3"/>
<circle cx="197.2" cy="65.84" r="1.6" fill="#f01818" fill-opacity="0.3"/>
<circle cx="198.7" cy="65.94" r="1.6" fill="#f01818" fill-opacity="0.3"/>
<circle cx="198.99" cy="66.61" r="1.6" fill="#f01818" fill-opacity="0.3"/>
<circle cx="196.04" cy="64.61" r="1.6" fill="#f01818" fill-opacity="0.3"/>
<circle cx="198.27" cy="66.47" r="1.6" fill="#f01818" fill-opacity="0.3"/>
<circle cx="198.57" cy="68.83" r="1.6" fill="#f01818" fill-opacity="0.3"/>
<circle cx="198.85" cy="64.56" r="1.6" fill="#f01818" fill-opacity="0.3"/>
<circle cx="195.13" cy="69.13" r="1.6" fill="#f01818" fill-opacity="0.3"/>
<circle cx="195.56" cy="64.11" r="1.6" fill="#f01818" fill-opacity="0.3"/>
<rect x="193.4" y="66.3" width="9.8" height="4.7" fill="none" stroke="#f01818" stroke-width="0.7"/>
<line x1="198.2" y1="63.3" x2="198.2" y2="71.7" stroke="#f01818" stroke-width="1.2"/>
<line x1="193.3" y1="63.3" x2="203.1" y2="63.3" stroke="#f01818" stroke-width="1.2"/>
<line x1="193.3" y1="71.7" x2="203.1" y2="71.7" stroke="#f01818" stroke-width="1.2"/>
<line x1="193.4" y1="68.3" x2="203.2" y2="68.3" stroke="#f01818" stroke-width="1.2"/>
<circle cx="221.1" cy="67.71" r="1.6" fill="#1a3c9b" fill-opacity="0.3"/>
<circle cx="218.44" cy="67.4" r="1.6" fill="#1a3c9b" fill-opacity="0.3"/>
<circle cx="218.78" cy="67.42" r="1.6" fill="#1a3c9b" fill-opacity="0.3"/>
<circle cx="216.2" cy="57.3" r="1.6" fill="#1a3c9b" fill-opacity="0.3"/>
<circle cx="219.28" cy="69.24" r="1.6" fill="#1a3c9b" fill-opacity="0.3"/>
<circle cx="221.42" cy="70.29" r="1.6" fill="#1a3c9b" fill-opacity="0.3"/>
<circle cx="215.04" cy="65.59" r="1.6" fill="#1a3c9b" fill-opacity="0.3"/>
<circle cx="214.27" cy="67.52" r="1.6" fill="#1a3c9b" fill-opacity="0.3"/>
<circle cx="214.04" cy="65.78" r="1.6" fill="#1a3c9b" fill-opacity="0.3"/>
<circle cx="220.46" cy="66.99" r="1.6" fill="#1a3c9b" fill-opacity="0.3"/>
<circle cx="217.75" cy="65.98" r="1.6" fill="#1a3c9b" fill-opacity="0.3"/>
<circle cx="216" cy="63.07" r="1.6" fill="#1a3c9b" fill-opacity="0.3"/>
<circle cx="220.44" cy="71.63" r="1.6" fill="#1a3c9b" fill-opacity="0.3"/>
<circle cx="215.61" cy="60.81" r="1.6" fill="#1a3c9b" fill-opacity="0.3"/>
<circle cx="219.85" cy="64.73" r="1.6" fill="#1a3c9b" fill-opacity="0.3"/>
<circle cx="216.85" cy="69.46" r="1.6" fill="#1a3c9b" fill-opacity="0.3"/>
<circle cx="213.8" cy="69.27" r="1.6" fill="#1a3c9b" fill-opacity="0.3"/>
<circle cx="217.51" cy="69.85" r="1.6" fill="#1a3c9b" fill-opacity="0.3"/>
<circle cx="214.38" cy="62.12" r="1.6" fill="#1a3c9b" fill-opacity="0.3"/>
<circle cx="215.93" cy="68.18" r="1.6" fill="#1a3c9b" fill-opacity="0.3"/>
<circle cx="221.42" cy="66.33" r="1.6" fill="#1a3c9b" fill-opacity="0.3"/>
<circle cx="215.75" cy="57.68" r="1.6" fill="#1a3c9b" fill-opacity="0.3"/>
<circle cx="220.1" cy="64.67" r="1.6" fill="#1a3c9b" fill-opacity="0.3"/>
<circle cx="217.33" cy="67.71" r="1.6" fill="#1a3c9b" fill-opacity="0.3"/>
<circle cx="214.83" cy="68.76" r="1.6" fill="#1a3c9b" fill-opacity="0.3"/>
<circle cx="217.12" cy="57.65" r="1.6" fill="#1a3c9b" fill-opacity="0.3"/>
<circle cx="221.47" cy="65.95" r="1.6" fill="#1a3c9b" fill-opacity="0.3"/>
<circle cx="220.79" cy="60.64" r="1.6" fill="#1a3c9b" fill-opacity="0.3"/>
<circle cx="220.55" cy="66.71" r="1.6" fill="#1a3c9b" fill-opacity="0.3"/>
<circle cx="221.62" cy="57.4" r="1.6" fill="#1a3c9b" fill-opacity="0.3"/>
<circle cx="219.9" cy="65.88" r="1.6" fill="#1a3c9b" fill-opacity="0.3"/>
<circle cx="214.38" cy="66.11" r="1.6" fill="#1a3c9b" fill-opacity="0.3"/>
<circle cx="215.72" cy="67.85" r="1.6" fill="#1a3c9b" fill-opacity="0.3"/>
<circle cx="217.38" cy="61.71" r="1.6" fill="#1a3c9b" fill-opacity="0.3"/>
<circle cx="218.34" cy="63.49" r="1.6" fill="#1a3c9b" fill-opacity="0.3"/>
<circle cx="215.02" cy="58.71" r="1.6" fill="#1a3c9b" fill-opacity="0.3"/>
<circle cx="215.77" cy="68.8" r="1.6" fill="#1a3c9b" fill-opacity="0.3"/>
<circle cx="221.23" cy="68.81" r="1.6" fill="#1a3c9b" fill-opacity="0.3"/>
<circle cx="220.77" cy="70.1" r="1.6" fill="#1a3c9b" fill-opacity="0.3"/>
<circle cx="214.62" cy="62.5" r="1.6" fill="#1a3c9b" fill-opacity="0.3"/>
<circle cx="215.68" cy="70.17" r="1.6" fill="#1a3c9b" fill-opacity="0.3"/>
<circle cx="220.31" cy="59.89" r="1.6" fill="#1a3c9b" fill-opacity="0.3"/>
<circle cx="215.19" cy="60.47" r="1.6" fill="#1a3c9b" fill-opacity="0.3"/>
<circle cx="215.6" cy="56.89" r="1.6" fill="#1a3c9b" fill-opacity="0.3"/>
<circle cx="218.65" cy="69.35" r="1.6" fill="#1a3c9b" fill-opacity="0.3"/>
<circle cx="215.41" cy="69.9" r="1.6" fill="#1a3c9b" fill-opacity="0.3"/>
<circle cx="217.32" cy="65.94" r="1.6" fill="#1a3c9b" fill-opacity="0.3"/>
<circle cx="216.71" cy="65.38" r="1.6" fill="#1a3c9b" fill-opacity="0.3"/>
<circle cx="216.66" cy="57.89" r="1.6" fill="#1a3c9b" fill-opacity="0.3"/>
<circle cx="218.99" cy="71.39" r="1.6" fill="#1a3c9b" fill-opacity="0.3"/>
<circle cx="215.7" cy="19" r="1.68" fill="#1a3c9b" fill-opacity="0.3"/>
<circle cx="216" cy="40.5" r="1.68" fill="#1a3c9b" fill-opacity="0.3"/>
<circle cx="218.5" cy="41.5" r="1.68" fill="#1a3c9b" fill-opacity="0.3"/>
<circle cx="214.5" cy="44.5" r="1.68" fill="#1a3c9b" fill-opacity="0.3"/>
<circle cx="217" cy="48" r="1.68" fill="#1a3c9b" fill-opacity="0.3"/>
<circle cx="219" cy="50.7" r="1.68" fill="#1a3c9b" fill-opacity="0.3"/>
<circle cx="216.5" cy="46" r="1.68" fill="#1a3c9b" fill-opacity="0.3"/>
<rect x="213" y="64.3" width="9.5" height="6.1" fill="none" stroke="#1a3c9b" stroke-width="0.7"/>
<line x1="217.8" y1="55.8" x2="217.8" y2="71.7" stroke="#1a3c9b" stroke-width="1.2"/>
<line x1="213.05" y1="55.8" x2="222.55" y2="55.8" stroke="#1a3c9b" stroke-width="1.2"/>
<line x1="213.05" y1="71.7" x2="222.55" y2="71.7" stroke="#1a3c9b" stroke-width="1.2"/>
<line x1="213" y1="67.7" x2="222.5" y2="67.7" stroke="#1a3c9b" stroke-width="1.2"/>
<circle cx="230.16" cy="70.08" r="1.6" fill="#f01818" fill-opacity="0.3"/>
<circle cx="227.77" cy="68.33" r="1.6" fill="#f01818" fill-opacity="0.3"/>
<circle cx="230.36" cy="70.49" r="1.6" fill="#f01818" fill-opacity="0.3"/>
<circle cx="230.12" cy="69.31" r="1.6" fill="#f01818" fill-opacity="0.3"/>
<circle cx="226.03" cy="69.49" r="1.6" fill="#f01818" fill-opacity="0.3"/>
<circle cx="231.41" cy="66.62" r="1.6" fill="#f01818" fill-opacity="0.3"/>
<circle cx="227.46" cy="70.15" r="1.6" fill="#f01818" fill-opacity="0.3"/>
<circle cx="224.85" cy="70.57" r="1.6" fill="#f01818" fill-opacity="0.3"/>
<circle cx="228.87" cy="70.77" r="1.6" fill="#f01818" fill-opacity="0.3"/>
<circle cx="232.46" cy="70.97" r="1.6" fill="#f01818" fill-opacity="0.3"/>
<circle cx="225.81" cy="69.44" r="1.6" fill="#f01818" fill-opacity="0.3"/>
<circle cx="226.04" cy="69.98" r="1.6" fill="#f01818" fill-opacity="0.3"/>
<circle cx="226.1" cy="66.58" r="1.6" fill="#f01818" fill-opacity="0.3"/>
<circle cx="228.13" cy="68.46" r="1.6" fill="#f01818" fill-opacity="0.3"/>
<circle cx="227.85" cy="68.87" r="1.6" fill="#f01818" fill-opacity="0.3"/>
<circle cx="232.63" cy="70.26" r="1.6" fill="#f01818" fill-opacity="0.3"/>
<circle cx="227.62" cy="69.88" r="1.6" fill="#f01818" fill-opacity="0.3"/>
<circle cx="230.22" cy="70.16" r="1.6" fill="#f01818" fill-opacity="0.3"/>
<circle cx="227.68" cy="68.93" r="1.6" fill="#f01818" fill-opacity="0.3"/>
<circle cx="228.8" cy="70.67" r="1.6" fill="#f01818" fill-opacity="0.3"/>
<circle cx="228.23" cy="70.52" r="1.6" fill="#f01818" fill-opacity="0.3"/>
<circle cx="228.2" cy="67.5" r="1.6" fill="#f01818" fill-opacity="0.3"/>
<circle cx="225.54" cy="70.38" r="1.6" fill="#f01818" fill-opacity="0.3"/>
<circle cx="230.41" cy="67.26" r="1.6" fill="#f01818" fill-opacity="0.3"/>
<circle cx="227.52" cy="69.05" r="1.6" fill="#f01818" fill-opacity="0.3"/>
<circle cx="228.47" cy="66.58" r="1.6" fill="#f01818" fill-opacity="0.3"/>
<circle cx="228.61" cy="69.06" r="1.6" fill="#f01818" fill-opacity="0.3"/>
<circle cx="232.54" cy="68.9" r="1.6" fill="#f01818" fill-opacity="0.3"/>
<circle cx="227.69" cy="70.8" r="1.6" fill="#f01818" fill-opacity="0.3"/>
<circle cx="232.18" cy="70.32" r="1.6" fill="#f01818" fill-opacity="0.3"/>
<circle cx="227" cy="52.1" r="1.68" fill="#f01818" fill-opacity="0.3"/>
<circle cx="230" cy="56.2" r="1.68" fill="#f01818" fill-opacity="0.3"/>
<circle cx="228" cy="63.6" r="1.68" fill="#f01818" fill-opacity="0.3"/>
<rect x="223.9" y="68.3" width="9.8" height="2.7" fill="none" stroke="#f01818" stroke-width="0.7"/>
<line x1="228.6" y1="66.3" x2="228.6" y2="71.7" stroke="#f01818" stroke-width="1.2"/>
<line x1="223.7" y1="66.3" x2="233.5" y2="66.3" stroke="#f01818" stroke-width="1.2"/>
<line x1="223.7" y1="71.7" x2="233.5" y2="71.7" stroke="#f01818" stroke-width="1.2"/>
<line x1="223.9" y1="69.7" x2="233.7" y2="69.7" stroke="#f01818" stroke-width="1.2"/>
<path d="M187.3,44.7 L187.3,28.1 L218.5,28.1 L218.5,32.5" fill="none" stroke="#4a4a4a" stroke-width="0.75"/>
<text x="203.6" y="30.05" font-size="7.5" text-anchor="middle" font-weight="bold" fill="#1a1a1a">****</text>
<path d="M218.5,35.5 L218.5,35.5 L228.6,35.5 L228.6,35.5" fill="none" stroke="#4a4a4a" stroke-width="0.75"/>
<text x="223.5" y="37.45" font-size="7.5" text-anchor="middle" font-weight="bold" fill="#1a1a1a">**</text>
<path d="M188,55.8 L188,55.8 L198.2,55.8 L198.2,55.8" fill="none" stroke="#4a4a4a" stroke-width="0.75"/>
<text x="193" y="57.75" font-size="7.5" text-anchor="middle" font-weight="bold" fill="#1a1a1a">**</text>
<text x="166.8" y="45" font-size="4.6" text-anchor="middle" fill="#333" transform="rotate(-90 166.8 45)">CD8<tspan baseline-shift="35%" font-size="70%">+</tspan> Ki-67<tspan baseline-shift="35%" font-size="70%">+</tspan>CLA<tspan baseline-shift="35%" font-size="70%">+</tspan> (%)</text>
<text x="193.4" y="83" font-size="7.8" text-anchor="middle" fill="#222">TP1</text>
<text x="223.2" y="83" font-size="7.8" text-anchor="middle" fill="#222">TP2</text>
<text x="2.1" y="100.2" font-size="12.6" font-weight="bold" fill="#000">d</text>
<rect x="19.4" y="104.2" width="59.4" height="58.5" fill="#fff"/>
<line x1="19.4" y1="130.05" x2="78.8" y2="130.05" stroke="#f3f3f3" stroke-width="0.5"/>
<line x1="19.4" y1="147.6" x2="78.8" y2="147.6" stroke="#f3f3f3" stroke-width="0.5"/>
<line x1="19.4" y1="121.3" x2="78.8" y2="121.3" stroke="#ebebeb" stroke-width="0.6"/>
<line x1="19.4" y1="138.8" x2="78.8" y2="138.8" stroke="#ebebeb" stroke-width="0.6"/>
<line x1="19.4" y1="156.4" x2="78.8" y2="156.4" stroke="#ebebeb" stroke-width="0.6"/>
<line x1="35.5" y1="104.2" x2="35.5" y2="162.7" stroke="#ebebeb" stroke-width="0.6"/>
<line x1="61.8" y1="104.2" x2="61.8" y2="162.7" stroke="#ebebeb" stroke-width="0.6"/>
<rect x="19.4" y="104.2" width="59.4" height="58.5" fill="none" stroke="#c9c9c9" stroke-width="0.8"/>
<line x1="17.9" y1="121.3" x2="19.4" y2="121.3" stroke="#555" stroke-width="0.5"/>
<text x="17.4" y="122.8" font-size="4.3" text-anchor="end" fill="#666">6000</text>
<line x1="17.9" y1="138.8" x2="19.4" y2="138.8" stroke="#555" stroke-width="0.5"/>
<text x="17.4" y="140.31" font-size="4.3" text-anchor="end" fill="#666">4000</text>
<line x1="17.9" y1="156.4" x2="19.4" y2="156.4" stroke="#555" stroke-width="0.5"/>
<text x="17.4" y="157.91" font-size="4.3" text-anchor="end" fill="#666">2000</text>
<line x1="35.5" y1="162.7" x2="35.5" y2="164.2" stroke="#555" stroke-width="0.5"/>
<line x1="61.8" y1="162.7" x2="61.8" y2="164.2" stroke="#555" stroke-width="0.5"/>
<circle cx="31.55" cy="156.23" r="1.6" fill="#1a3c9b" fill-opacity="0.3"/>
<circle cx="28.6" cy="152.83" r="1.6" fill="#1a3c9b" fill-opacity="0.3"/>
<circle cx="31.87" cy="153.93" r="1.6" fill="#1a3c9b" fill-opacity="0.3"/>
<circle cx="28.49" cy="155.46" r="1.6" fill="#1a3c9b" fill-opacity="0.3"/>
<circle cx="32.54" cy="154.96" r="1.6" fill="#1a3c9b" fill-opacity="0.3"/>
<circle cx="28.89" cy="151.33" r="1.6" fill="#1a3c9b" fill-opacity="0.3"/>
<circle cx="32.36" cy="157.16" r="1.6" fill="#1a3c9b" fill-opacity="0.3"/>
<circle cx="31.94" cy="158.47" r="1.6" fill="#1a3c9b" fill-opacity="0.3"/>
<circle cx="28.77" cy="158.19" r="1.6" fill="#1a3c9b" fill-opacity="0.3"/>
<circle cx="32.01" cy="155.48" r="1.6" fill="#1a3c9b" fill-opacity="0.3"/>
<circle cx="29.47" cy="154.98" r="1.6" fill="#1a3c9b" fill-opacity="0.3"/>
<circle cx="27.86" cy="154.37" r="1.6" fill="#1a3c9b" fill-opacity="0.3"/>
<circle cx="33.51" cy="158.22" r="1.6" fill="#1a3c9b" fill-opacity="0.3"/>
<circle cx="31.96" cy="156.08" r="1.6" fill="#1a3c9b" fill-opacity="0.3"/>
<circle cx="29.98" cy="156.18" r="1.6" fill="#1a3c9b" fill-opacity="0.3"/>
<circle cx="30.5" cy="153.81" r="1.6" fill="#1a3c9b" fill-opacity="0.3"/>
<circle cx="31.04" cy="155.1" r="1.6" fill="#1a3c9b" fill-opacity="0.3"/>
<circle cx="30.29" cy="153.45" r="1.6" fill="#1a3c9b" fill-opacity="0.3"/>
<circle cx="28.36" cy="153.98" r="1.6" fill="#1a3c9b" fill-opacity="0.3"/>
<circle cx="31.33" cy="153.17" r="1.6" fill="#1a3c9b" fill-opacity="0.3"/>
<circle cx="31.77" cy="154.63" r="1.6" fill="#1a3c9b" fill-opacity="0.3"/>
<circle cx="28.02" cy="151.58" r="1.6" fill="#1a3c9b" fill-opacity="0.3"/>
<circle cx="31.25" cy="158.58" r="1.6" fill="#1a3c9b" fill-opacity="0.3"/>
<circle cx="32.74" cy="154.87" r="1.6" fill="#1a3c9b" fill-opacity="0.3"/>
<circle cx="28.42" cy="158.27" r="1.6" fill="#1a3c9b" fill-opacity="0.3"/>
<circle cx="31.76" cy="154.5" r="1.6" fill="#1a3c9b" fill-opacity="0.3"/>
<circle cx="31.02" cy="157.66" r="1.6" fill="#1a3c9b" fill-opacity="0.3"/>
<circle cx="31.11" cy="153.06" r="1.6" fill="#1a3c9b" fill-opacity="0.3"/>
<circle cx="29.44" cy="156.4" r="1.6" fill="#1a3c9b" fill-opacity="0.3"/>
<circle cx="29.02" cy="154.2" r="1.6" fill="#1a3c9b" fill-opacity="0.3"/>
<circle cx="29.5" cy="148.6" r="1.68" fill="#1a3c9b" fill-opacity="0.3"/>
<rect x="26.3" y="152.8" width="8.1" height="5" fill="none" stroke="#1a3c9b" stroke-width="0.7"/>
<line x1="30.2" y1="151.2" x2="30.2" y2="160" stroke="#1a3c9b" stroke-width="1.2"/>
<line x1="26.15" y1="151.2" x2="34.25" y2="151.2" stroke="#1a3c9b" stroke-width="1.2"/>
<line x1="26.15" y1="160" x2="34.25" y2="160" stroke="#1a3c9b" stroke-width="1.2"/>
<line x1="26.3" y1="155.4" x2="34.4" y2="155.4" stroke="#1a3c9b" stroke-width="1.2"/>
<circle cx="41.46" cy="152.8" r="1.6" fill="#f01818" fill-opacity="0.3"/>
<circle cx="38.69" cy="148.86" r="1.6" fill="#f01818" fill-opacity="0.3"/>
<circle cx="39.02" cy="154.09" r="1.6" fill="#f01818" fill-opacity="0.3"/>
<circle cx="42.34" cy="150.56" r="1.6" fill="#f01818" fill-opacity="0.3"/>
<circle cx="43.21" cy="151.03" r="1.6" fill="#f01818" fill-opacity="0.3"/>
<circle cx="42.53" cy="151.16" r="1.6" fill="#f01818" fill-opacity="0.3"/>
<circle cx="40.76" cy="147.22" r="1.6" fill="#f01818" fill-opacity="0.3"/>
<circle cx="41.46" cy="147.43" r="1.6" fill="#f01818" fill-opacity="0.3"/>
<circle cx="37.48" cy="151.45" r="1.6" fill="#f01818" fill-opacity="0.3"/>
<circle cx="39.73" cy="153.82" r="1.6" fill="#f01818" fill-opacity="0.3"/>
<circle cx="41.15" cy="151.12" r="1.6" fill="#f01818" fill-opacity="0.3"/>
<circle cx="37.68" cy="154.47" r="1.6" fill="#f01818" fill-opacity="0.3"/>
<circle cx="38.17" cy="153.76" r="1.6" fill="#f01818" fill-opacity="0.3"/>
<circle cx="40.5" cy="153.44" r="1.6" fill="#f01818" fill-opacity="0.3"/>
<circle cx="38.43" cy="151.87" r="1.6" fill="#f01818" fill-opacity="0.3"/>
<circle cx="37.62" cy="151.96" r="1.6" fill="#f01818" fill-opacity="0.3"/>
<rect x="36.1" y="150.2" width="8.6" height="3.7" fill="none" stroke="#f01818" stroke-width="0.7"/>
<line x1="40.7" y1="145.2" x2="40.7" y2="158.7" stroke="#f01818" stroke-width="1.2"/>
<line x1="36.4" y1="145.2" x2="45" y2="145.2" stroke="#f01818" stroke-width="1.2"/>
<line x1="36.4" y1="158.7" x2="45" y2="158.7" stroke="#f01818" stroke-width="1.2"/>
<line x1="36.1" y1="151.8" x2="44.7" y2="151.8" stroke="#f01818" stroke-width="1.2"/>
<circle cx="59.15" cy="132.79" r="1.6" fill="#1a3c9b" fill-opacity="0.3"/>
<circle cx="54.12" cy="151.39" r="1.6" fill="#1a3c9b" fill-opacity="0.3"/>
<circle cx="60" cy="149.74" r="1.6" fill="#1a3c9b" fill-opacity="0.3"/>
<circle cx="56.37" cy="138.56" r="1.6" fill="#1a3c9b" fill-opacity="0.3"/>
<circle cx="55.84" cy="139.6" r="1.6" fill="#1a3c9b" fill-opacity="0.3"/>
<circle cx="60.12" cy="150.38" r="1.6" fill="#1a3c9b" fill-opacity="0.3"/>
<circle cx="60.47" cy="138.15" r="1.6" fill="#1a3c9b" fill-opacity="0.3"/>
<circle cx="57.19" cy="138.35" r="1.6" fill="#1a3c9b" fill-opacity="0.3"/>
<circle cx="57.95" cy="144.22" r="1.6" fill="#1a3c9b" fill-opacity="0.3"/>
<circle cx="60.51" cy="148.1" r="1.6" fill="#1a3c9b" fill-opacity="0.3"/>
<circle cx="60.05" cy="142.75" r="1.6" fill="#1a3c9b" fill-opacity="0.3"/>
<circle cx="60.62" cy="144.9" r="1.6" fill="#1a3c9b" fill-opacity="0.3"/>
<circle cx="55.21" cy="144.71" r="1.6" fill="#1a3c9b" fill-opacity="0.3"/>
<circle cx="59.03" cy="149.97" r="1.6" fill="#1a3c9b" fill-opacity="0.3"/>
<circle cx="60.21" cy="147.51" r="1.6" fill="#1a3c9b" fill-opacity="0.3"/>
<circle cx="54.33" cy="144.52" r="1.6" fill="#1a3c9b" fill-opacity="0.3"/>
<circle cx="57.88" cy="150.24" r="1.6" fill="#1a3c9b" fill-opacity="0.3"/>
<circle cx="55.25" cy="147.57" r="1.6" fill="#1a3c9b" fill-opacity="0.3"/>
<circle cx="55.65" cy="141.45" r="1.6" fill="#1a3c9b" fill-opacity="0.3"/>
<circle cx="56.23" cy="150.12" r="1.6" fill="#1a3c9b" fill-opacity="0.3"/>
<circle cx="57.09" cy="141.01" r="1.6" fill="#1a3c9b" fill-opacity="0.3"/>
<circle cx="59.57" cy="150.77" r="1.6" fill="#1a3c9b" fill-opacity="0.3"/>
<circle cx="57.45" cy="144.51" r="1.6" fill="#1a3c9b" fill-opacity="0.3"/>
<circle cx="60.5" cy="150.24" r="1.6" fill="#1a3c9b" fill-opacity="0.3"/>
<circle cx="54.29" cy="139.77" r="1.6" fill="#1a3c9b" fill-opacity="0.3"/>
<circle cx="55.11" cy="156.4" r="1.6" fill="#1a3c9b" fill-opacity="0.3"/>
<circle cx="60.84" cy="147.4" r="1.6" fill="#1a3c9b" fill-opacity="0.3"/>
<circle cx="59.91" cy="144.09" r="1.6" fill="#1a3c9b" fill-opacity="0.3"/>
<circle cx="59.44" cy="144.2" r="1.6" fill="#1a3c9b" fill-opacity="0.3"/>
<circle cx="55.79" cy="150.02" r="1.6" fill="#1a3c9b" fill-opacity="0.3"/>
<circle cx="56.33" cy="143.67" r="1.6" fill="#1a3c9b" fill-opacity="0.3"/>
<circle cx="56.43" cy="142.11" r="1.6" fill="#1a3c9b" fill-opacity="0.3"/>
<circle cx="58.17" cy="150.34" r="1.6" fill="#1a3c9b" fill-opacity="0.3"/>
<circle cx="59.6" cy="150.09" r="1.6" fill="#1a3c9b" fill-opacity="0.3"/>
<circle cx="54.11" cy="155.08" r="1.6" fill="#1a3c9b" fill-opacity="0.3"/>
<circle cx="56.72" cy="141.31" r="1.6" fill="#1a3c9b" fill-opacity="0.3"/>
<circle cx="55.75" cy="136.14" r="1.6" fill="#1a3c9b" fill-opacity="0.3"/>
<circle cx="60.39" cy="140.87" r="1.6" fill="#1a3c9b" fill-opacity="0.3"/>
<circle cx="56.23" cy="140.46" r="1.6" fill="#1a3c9b" fill-opacity="0.3"/>
<circle cx="56.38" cy="150.26" r="1.6" fill="#1a3c9b" fill-opacity="0.3"/>
<circle cx="60.02" cy="144.96" r="1.6" fill="#1a3c9b" fill-opacity="0.3"/>
<circle cx="59.85" cy="135.24" r="1.6" fill="#1a3c9b" fill-opacity="0.3"/>
<circle cx="60.26" cy="140.97" r="1.6" fill="#1a3c9b" fill-opacity="0.3"/>
<circle cx="56.41" cy="144.38" r="1.6" fill="#1a3c9b" fill-opacity="0.3"/>
<circle cx="57.39" cy="146.36" r="1.6" fill="#1a3c9b" fill-opacity="0.3"/>
<circle cx="59.52" cy="142.47" r="1.6" fill="#1a3c9b" fill-opacity="0.3"/>
<circle cx="55.09" cy="149.79" r="1.6" fill="#1a3c9b" fill-opacity="0.3"/>
<circle cx="58.59" cy="153.71" r="1.6" fill="#1a3c9b" fill-opacity="0.3"/>
<circle cx="59.26" cy="146.42" r="1.6" fill="#1a3c9b" fill-opacity="0.3"/>
<circle cx="57.9" cy="145.44" r="1.6" fill="#1a3c9b" fill-opacity="0.3"/>
<circle cx="57.71" cy="135.44" r="1.6" fill="#1a3c9b" fill-opacity="0.3"/>
<circle cx="58.95" cy="144.84" r="1.6" fill="#1a3c9b" fill-opacity="0.3"/>
<circle cx="60.06" cy="141.07" r="1.6" fill="#1a3c9b" fill-opacity="0.3"/>
<circle cx="56.85" cy="149.25" r="1.6" fill="#1a3c9b" fill-opacity="0.3"/>
<circle cx="55.91" cy="144.63" r="1.6" fill="#1a3c9b" fill-opacity="0.3"/>
<circle cx="60.41" cy="134.03" r="1.6" fill="#1a3c9b" fill-opacity="0.3"/>
<circle cx="58.5" cy="129.4" r="1.68" fill="#1a3c9b" fill-opacity="0.3"/>
<circle cx="60" cy="106.6" r="1.68" fill="#1a3c9b" fill-opacity="0.3"/>
<rect x="53.2" y="143.6" width="8.6" height="7.9" fill="none" stroke="#1a3c9b" stroke-width="0.7"/>
<line x1="57.4" y1="132.5" x2="57.4" y2="157.8" stroke="#1a3c9b" stroke-width="1.2"/>
<line x1="53.1" y1="132.5" x2="61.7" y2="132.5" stroke="#1a3c9b" stroke-width="1.2"/>
<line x1="53.1" y1="157.8" x2="61.7" y2="157.8" stroke="#1a3c9b" stroke-width="1.2"/>
<line x1="53.2" y1="148.2" x2="61.8" y2="148.2" stroke="#1a3c9b" stroke-width="1.2"/>
<circle cx="67.02" cy="141.11" r="1.6" fill="#f01818" fill-opacity="0.3"/>
<circle cx="68.7" cy="140.41" r="1.6" fill="#f01818" fill-opacity="0.3"/>
<circle cx="64.17" cy="142.62" r="1.6" fill="#f01818" fill-opacity="0.3"/>
<circle cx="65.09" cy="139.68" r="1.6" fill="#f01818" fill-opacity="0.3"/>
<circle cx="69.62" cy="132.09" r="1.6" fill="#f01818" fill-opacity="0.3"/>
<circle cx="70.35" cy="130.12" r="1.6" fill="#f01818" fill-opacity="0.3"/>
<circle cx="64.29" cy="144.53" r="1.6" fill="#f01818" fill-opacity="0.3"/>
<circle cx="66.17" cy="142.54" r="1.6" fill="#f01818" fill-opacity="0.3"/>
<circle cx="65.91" cy="139.44" r="1.6" fill="#f01818" fill-opacity="0.3"/>
<circle cx="67.06" cy="133.4" r="1.6" fill="#f01818" fill-opacity="0.3"/>
<circle cx="66.15" cy="154.3" r="1.6" fill="#f01818" fill-opacity="0.3"/>
<circle cx="69.93" cy="145.94" r="1.6" fill="#f01818" fill-opacity="0.3"/>
<circle cx="65.74" cy="139.51" r="1.6" fill="#f01818" fill-opacity="0.3"/>
<circle cx="67.33" cy="139.38" r="1.6" fill="#f01818" fill-opacity="0.3"/>
<circle cx="69.2" cy="143.25" r="1.6" fill="#f01818" fill-opacity="0.3"/>
<circle cx="67.54" cy="144.66" r="1.6" fill="#f01818" fill-opacity="0.3"/>
<circle cx="69.67" cy="137.83" r="1.6" fill="#f01818" fill-opacity="0.3"/>
<circle cx="67.59" cy="142.41" r="1.6" fill="#f01818" fill-opacity="0.3"/>
<circle cx="65.73" cy="137.81" r="1.6" fill="#f01818" fill-opacity="0.3"/>
<circle cx="67.87" cy="140.02" r="1.6" fill="#f01818" fill-opacity="0.3"/>
<circle cx="66.34" cy="135.22" r="1.6" fill="#f01818" fill-opacity="0.3"/>
<circle cx="69.58" cy="154.46" r="1.6" fill="#f01818" fill-opacity="0.3"/>
<circle cx="65.69" cy="149.73" r="1.6" fill="#f01818" fill-opacity="0.3"/>
<circle cx="64.95" cy="137.31" r="1.6" fill="#f01818" fill-opacity="0.3"/>
<circle cx="70.53" cy="142.53" r="1.6" fill="#f01818" fill-opacity="0.3"/>
<rect x="63.3" y="136.4" width="8.6" height="9.8" fill="none" stroke="#f01818" stroke-width="0.7"/>
<line x1="67.7" y1="121.3" x2="67.7" y2="156.1" stroke="#f01818" stroke-width="1.2"/>
<line x1="63.4" y1="121.3" x2="72" y2="121.3" stroke="#f01818" stroke-width="1.2"/>
<line x1="63.4" y1="156.1" x2="72" y2="156.1" stroke="#f01818" stroke-width="1.2"/>
<line x1="63.3" y1="137.7" x2="71.9" y2="137.7" stroke="#f01818" stroke-width="1.2"/>
<path d="M30.2,138.1 L30.2,138.1 L40.7,138.1 L40.7,138.1" fill="none" stroke="#4a4a4a" stroke-width="0.75"/>
<text x="35.5" y="140.05" font-size="7.5" text-anchor="middle" font-weight="bold" fill="#1a1a1a">**</text>
<path d="M29.2,133.1 L29.2,126.1 L57.8,126.1 L57.8,127.6" fill="none" stroke="#4a4a4a" stroke-width="0.75"/>
<text x="47" y="128.05" font-size="7.5" text-anchor="middle" font-weight="bold" fill="#1a1a1a">****</text>
<path d="M40.1,123.3 L40.1,118.3 L67.7,118.3 L67.7,119.3" fill="none" stroke="#4a4a4a" stroke-width="0.75"/>
<text x="55.2" y="120.25" font-size="7.5" text-anchor="middle" font-weight="bold" fill="#1a1a1a">****</text>
<path d="M57.8,111.8 L57.8,111.8 L67.7,111.8 L67.7,111.8" fill="none" stroke="#4a4a4a" stroke-width="0.75"/>
<text x="62.7" y="113.75" font-size="7.5" text-anchor="middle" font-weight="bold" fill="#1a1a1a">***</text>
<text x="7.8" y="133.5" font-size="4.6" text-anchor="middle" fill="#333" transform="rotate(-90 7.8 133.5)">CD8<tspan baseline-shift="35%" font-size="70%">+</tspan> PD-1<tspan baseline-shift="35%" font-size="70%">+</tspan> (MFI)</text>
<text x="35.5" y="169.4" font-size="8.2" text-anchor="middle" fill="#222">TP1</text>
<text x="61.8" y="169.4" font-size="8.2" text-anchor="middle" fill="#222">TP2</text>
<text x="87.4" y="100.1" font-size="13.6" font-weight="bold" fill="#000">e</text>
<rect x="99.4" y="103.7" width="60.4" height="57.5" fill="#fff"/>
<line x1="99.4" y1="104.4" x2="159.8" y2="104.4" stroke="#ebebeb" stroke-width="0.6"/>
<line x1="99.4" y1="113.8" x2="159.8" y2="113.8" stroke="#ebebeb" stroke-width="0.6"/>
<line x1="99.4" y1="123.1" x2="159.8" y2="123.1" stroke="#ebebeb" stroke-width="0.6"/>
<line x1="99.4" y1="132.4" x2="159.8" y2="132.4" stroke="#ebebeb" stroke-width="0.6"/>
<line x1="99.4" y1="142.2" x2="159.8" y2="142.2" stroke="#ebebeb" stroke-width="0.6"/>
<line x1="99.4" y1="151.4" x2="159.8" y2="151.4" stroke="#ebebeb" stroke-width="0.6"/>
<line x1="99.4" y1="160.9" x2="159.8" y2="160.9" stroke="#ebebeb" stroke-width="0.6"/>
<line x1="115.2" y1="103.7" x2="115.2" y2="161.2" stroke="#ebebeb" stroke-width="0.6"/>
<line x1="143.3" y1="103.7" x2="143.3" y2="161.2" stroke="#ebebeb" stroke-width="0.6"/>
<rect x="99.4" y="103.7" width="60.4" height="57.5" fill="none" stroke="#c9c9c9" stroke-width="0.8"/>
<line x1="97.9" y1="104.4" x2="99.4" y2="104.4" stroke="#555" stroke-width="0.5"/>
<text x="97.4" y="105.8" font-size="4.0" text-anchor="end" fill="#666">7000</text>
<line x1="97.9" y1="113.8" x2="99.4" y2="113.8" stroke="#555" stroke-width="0.5"/>
<text x="97.4" y="115.2" font-size="4.0" text-anchor="end" fill="#666">6000</text>
<line x1="97.9" y1="123.1" x2="99.4" y2="123.1" stroke="#555" stroke-width="0.5"/>
<text x="97.4" y="124.5" font-size="4.0" text-anchor="end" fill="#666">5000</text>
<line x1="97.9" y1="132.4" x2="99.4" y2="132.4" stroke="#555" stroke-width="0.5"/>
<text x="97.4" y="133.8" font-size="4.0" text-anchor="end" fill="#666">4000</text>
<line x1="97.9" y1="142.2" x2="99.4" y2="142.2" stroke="#555" stroke-width="0.5"/>
<text x="97.4" y="143.6" font-size="4.0" text-anchor="end" fill="#666">3000</text>
<line x1="97.9" y1="151.4" x2="99.4" y2="151.4" stroke="#555" stroke-width="0.5"/>
<text x="97.4" y="152.8" font-size="4.0" text-anchor="end" fill="#666">2000</text>
<line x1="97.9" y1="160.9" x2="99.4" y2="160.9" stroke="#555" stroke-width="0.5"/>
<text x="97.4" y="162.3" font-size="4.0" text-anchor="end" fill="#666">1000</text>
<line x1="115.2" y1="161.2" x2="115.2" y2="162.7" stroke="#555" stroke-width="0.5"/>
<line x1="143.3" y1="161.2" x2="143.3" y2="162.7" stroke="#555" stroke-width="0.5"/>
<circle cx="114.12" cy="157.21" r="1.6" fill="#1a3c9b" fill-opacity="0.3"/>
<circle cx="112.33" cy="155.89" r="1.6" fill="#1a3c9b" fill-opacity="0.3"/>
<circle cx="107.59" cy="152.19" r="1.6" fill="#1a3c9b" fill-opacity="0.3"/>
<circle cx="109.17" cy="155.81" r="1.6" fill="#1a3c9b" fill-opacity="0.3"/>
<circle cx="113.32" cy="153.69" r="1.6" fill="#1a3c9b" fill-opacity="0.3"/>
<circle cx="114.39" cy="154.29" r="1.6" fill="#1a3c9b" fill-opacity="0.3"/>
<circle cx="113.53" cy="156.09" r="1.6" fill="#1a3c9b" fill-opacity="0.3"/>
<circle cx="111.31" cy="155.63" r="1.6" fill="#1a3c9b" fill-opacity="0.3"/>
<circle cx="111.18" cy="152.91" r="1.6" fill="#1a3c9b" fill-opacity="0.3"/>
<circle cx="109.56" cy="156" r="1.6" fill="#1a3c9b" fill-opacity="0.3"/>
<circle cx="110.72" cy="156.64" r="1.6" fill="#1a3c9b" fill-opacity="0.3"/>
<circle cx="113.09" cy="152.42" r="1.6" fill="#1a3c9b" fill-opacity="0.3"/>
<circle cx="107.52" cy="158.02" r="1.6" fill="#1a3c9b" fill-opacity="0.3"/>
<circle cx="112.66" cy="152.82" r="1.6" fill="#1a3c9b" fill-opacity="0.3"/>
<circle cx="110.02" cy="156.73" r="1.6" fill="#1a3c9b" fill-opacity="0.3"/>
<circle cx="109.07" cy="157.65" r="1.6" fill="#1a3c9b" fill-opacity="0.3"/>
<circle cx="111.09" cy="158.29" r="1.6" fill="#1a3c9b" fill-opacity="0.3"/>
<circle cx="112.91" cy="153.75" r="1.6" fill="#1a3c9b" fill-opacity="0.3"/>
<circle cx="111.29" cy="155.2" r="1.6" fill="#1a3c9b" fill-opacity="0.3"/>
<circle cx="112.01" cy="152.33" r="1.6" fill="#1a3c9b" fill-opacity="0.3"/>
<circle cx="109.72" cy="153.7" r="1.6" fill="#1a3c9b" fill-opacity="0.3"/>
<circle cx="109.31" cy="155.56" r="1.6" fill="#1a3c9b" fill-opacity="0.3"/>
<circle cx="109.84" cy="155.84" r="1.6" fill="#1a3c9b" fill-opacity="0.3"/>
<circle cx="111.83" cy="153.77" r="1.6" fill="#1a3c9b" fill-opacity="0.3"/>
<circle cx="107.93" cy="153.63" r="1.6" fill="#1a3c9b" fill-opacity="0.3"/>
<circle cx="107.54" cy="157.95" r="1.6" fill="#1a3c9b" fill-opacity="0.3"/>
<circle cx="110.22" cy="156.34" r="1.6" fill="#1a3c9b" fill-opacity="0.3"/>
<circle cx="111.53" cy="158.31" r="1.6" fill="#1a3c9b" fill-opacity="0.3"/>
<circle cx="109.16" cy="153.44" r="1.6" fill="#1a3c9b" fill-opacity="0.3"/>
<circle cx="108.89" cy="153.07" r="1.6" fill="#1a3c9b" fill-opacity="0.3"/>
<rect x="106.6" y="152.6" width="8.6" height="4.3" fill="none" stroke="#1a3c9b" stroke-width="0.7"/>
<line x1="110.9" y1="151.4" x2="110.9" y2="158.6" stroke="#1a3c9b" stroke-width="1.2"/>
<line x1="106.6" y1="151.4" x2="115.2" y2="151.4" stroke="#1a3c9b" stroke-width="1.2"/>
<line x1="106.6" y1="158.6" x2="115.2" y2="158.6" stroke="#1a3c9b" stroke-width="1.2"/>
<line x1="106.6" y1="154.7" x2="115.2" y2="154.7" stroke="#1a3c9b" stroke-width="1.2"/>
<circle cx="119.31" cy="154.7" r="1.6" fill="#f01818" fill-opacity="0.3"/>
<circle cx="120.55" cy="153.58" r="1.6" fill="#f01818" fill-opacity="0.3"/>
<circle cx="118.76" cy="153.38" r="1.6" fill="#f01818" fill-opacity="0.3"/>
<circle cx="119.23" cy="154.9" r="1.6" fill="#f01818" fill-opacity="0.3"/>
<circle cx="123.45" cy="156.41" r="1.6" fill="#f01818" fill-opacity="0.3"/>
<circle cx="118.55" cy="150.72" r="1.6" fill="#f01818" fill-opacity="0.3"/>
<circle cx="118.27" cy="154.23" r="1.6" fill="#f01818" fill-opacity="0.3"/>
<circle cx="123.22" cy="157.29" r="1.6" fill="#f01818" fill-opacity="0.3"/>
<circle cx="116.75" cy="152.34" r="1.6" fill="#f01818" fill-opacity="0.3"/>
<circle cx="122.37" cy="150.57" r="1.6" fill="#f01818" fill-opacity="0.3"/>
<circle cx="120.81" cy="154.41" r="1.6" fill="#f01818" fill-opacity="0.3"/>
<circle cx="119.06" cy="154.48" r="1.6" fill="#f01818" fill-opacity="0.3"/>
<circle cx="123.9" cy="153.5" r="1.6" fill="#f01818" fill-opacity="0.3"/>
<circle cx="121.62" cy="154.85" r="1.6" fill="#f01818" fill-opacity="0.3"/>
<circle cx="122.05" cy="151.74" r="1.6" fill="#f01818" fill-opacity="0.3"/>
<circle cx="120.45" cy="153.05" r="1.6" fill="#f01818" fill-opacity="0.3"/>
<rect x="115.9" y="150.4" width="9.4" height="6.5" fill="none" stroke="#f01818" stroke-width="0.7"/>
<line x1="120.5" y1="148.3" x2="120.5" y2="158.6" stroke="#f01818" stroke-width="1.2"/>
<line x1="115.8" y1="148.3" x2="125.2" y2="148.3" stroke="#f01818" stroke-width="1.2"/>
<line x1="115.8" y1="158.6" x2="125.2" y2="158.6" stroke="#f01818" stroke-width="1.2"/>
<line x1="115.9" y1="153.3" x2="125.3" y2="153.3" stroke="#f01818" stroke-width="1.2"/>
<circle cx="138.41" cy="151.89" r="1.6" fill="#1a3c9b" fill-opacity="0.3"/>
<circle cx="142.17" cy="139.68" r="1.6" fill="#1a3c9b" fill-opacity="0.3"/>
<circle cx="136.36" cy="144.59" r="1.6" fill="#1a3c9b" fill-opacity="0.3"/>
<circle cx="136.42" cy="146.28" r="1.6" fill="#1a3c9b" fill-opacity="0.3"/>
<circle cx="136.76" cy="146.26" r="1.6" fill="#1a3c9b" fill-opacity="0.3"/>
<circle cx="134.86" cy="133.69" r="1.6" fill="#1a3c9b" fill-opacity="0.3"/>
<circle cx="137.37" cy="148.3" r="1.6" fill="#1a3c9b" fill-opacity="0.3"/>
<circle cx="137.57" cy="152.46" r="1.6" fill="#1a3c9b" fill-opacity="0.3"/>
<circle cx="140.27" cy="150.04" r="1.6" fill="#1a3c9b" fill-opacity="0.3"/>
<circle cx="136.66" cy="149.39" r="1.6" fill="#1a3c9b" fill-opacity="0.3"/>
<circle cx="140.56" cy="153.41" r="1.6" fill="#1a3c9b" fill-opacity="0.3"/>
<circle cx="138.61" cy="134.66" r="1.6" fill="#1a3c9b" fill-opacity="0.3"/>
<circle cx="137.38" cy="152.41" r="1.6" fill="#1a3c9b" fill-opacity="0.3"/>
<circle cx="135.13" cy="149.09" r="1.6" fill="#1a3c9b" fill-opacity="0.3"/>
<circle cx="137.89" cy="127.62" r="1.6" fill="#1a3c9b" fill-opacity="0.3"/>
<circle cx="138.09" cy="144.33" r="1.6" fill="#1a3c9b" fill-opacity="0.3"/>
<circle cx="141.38" cy="138.92" r="1.6" fill="#1a3c9b" fill-opacity="0.3"/>
<circle cx="136.23" cy="155.18" r="1.6" fill="#1a3c9b" fill-opacity="0.3"/>
<circle cx="135.2" cy="146.74" r="1.6" fill="#1a3c9b" fill-opacity="0.3"/>
<circle cx="135.31" cy="135.6" r="1.6" fill="#1a3c9b" fill-opacity="0.3"/>
<circle cx="140.11" cy="146.99" r="1.6" fill="#1a3c9b" fill-opacity="0.3"/>
<circle cx="139.65" cy="146.03" r="1.6" fill="#1a3c9b" fill-opacity="0.3"/>
<circle cx="139.73" cy="145.17" r="1.6" fill="#1a3c9b" fill-opacity="0.3"/>
<circle cx="134.83" cy="130.56" r="1.6" fill="#1a3c9b" fill-opacity="0.3"/>
<circle cx="134.43" cy="147.88" r="1.6" fill="#1a3c9b" fill-opacity="0.3"/>
<circle cx="134.97" cy="145.78" r="1.6" fill="#1a3c9b" fill-opacity="0.3"/>
<circle cx="137.99" cy="145.89" r="1.6" fill="#1a3c9b" fill-opacity="0.3"/>
<circle cx="141.24" cy="149.03" r="1.6" fill="#1a3c9b" fill-opacity="0.3"/>
<circle cx="139.42" cy="129.52" r="1.6" fill="#1a3c9b" fill-opacity="0.3"/>
<circle cx="137.34" cy="127.67" r="1.6" fill="#1a3c9b" fill-opacity="0.3"/>
<circle cx="141.64" cy="157.04" r="1.6" fill="#1a3c9b" fill-opacity="0.3"/>
<circle cx="141.87" cy="145.77" r="1.6" fill="#1a3c9b" fill-opacity="0.3"/>
<circle cx="134.79" cy="147.99" r="1.6" fill="#1a3c9b" fill-opacity="0.3"/>
<circle cx="135.96" cy="147.79" r="1.6" fill="#1a3c9b" fill-opacity="0.3"/>
<circle cx="140.24" cy="148.12" r="1.6" fill="#1a3c9b" fill-opacity="0.3"/>
<circle cx="138.35" cy="146.24" r="1.6" fill="#1a3c9b" fill-opacity="0.3"/>
<circle cx="140.03" cy="151.51" r="1.6" fill="#1a3c9b" fill-opacity="0.3"/>
<circle cx="139.68" cy="147.4" r="1.6" fill="#1a3c9b" fill-opacity="0.3"/>
<circle cx="137.69" cy="147.94" r="1.6" fill="#1a3c9b" fill-opacity="0.3"/>
<circle cx="141.01" cy="143.79" r="1.6" fill="#1a3c9b" fill-opacity="0.3"/>
<circle cx="141.65" cy="147.51" r="1.6" fill="#1a3c9b" fill-opacity="0.3"/>
<circle cx="136.36" cy="154.5" r="1.6" fill="#1a3c9b" fill-opacity="0.3"/>
<circle cx="136.86" cy="146.76" r="1.6" fill="#1a3c9b" fill-opacity="0.3"/>
<circle cx="140.95" cy="147.39" r="1.6" fill="#1a3c9b" fill-opacity="0.3"/>
<circle cx="139.57" cy="130.35" r="1.6" fill="#1a3c9b" fill-opacity="0.3"/>
<circle cx="134.62" cy="140.29" r="1.6" fill="#1a3c9b" fill-opacity="0.3"/>
<circle cx="137.2" cy="146.18" r="1.6" fill="#1a3c9b" fill-opacity="0.3"/>
<circle cx="136.64" cy="138.85" r="1.6" fill="#1a3c9b" fill-opacity="0.3"/>
<circle cx="137.4" cy="152.39" r="1.6" fill="#1a3c9b" fill-opacity="0.3"/>
<circle cx="139.54" cy="132.57" r="1.6" fill="#1a3c9b" fill-opacity="0.3"/>
<circle cx="138.36" cy="149.55" r="1.6" fill="#1a3c9b" fill-opacity="0.3"/>
<circle cx="134.67" cy="145.73" r="1.6" fill="#1a3c9b" fill-opacity="0.3"/>
<circle cx="136.24" cy="146.53" r="1.6" fill="#1a3c9b" fill-opacity="0.3"/>
<circle cx="136.49" cy="153.47" r="1.6" fill="#1a3c9b" fill-opacity="0.3"/>
<circle cx="138.96" cy="145.92" r="1.6" fill="#1a3c9b" fill-opacity="0.3"/>
<circle cx="137.85" cy="143.88" r="1.6" fill="#1a3c9b" fill-opacity="0.3"/>
<circle cx="139.5" cy="106.9" r="1.68" fill="#1a3c9b" fill-opacity="0.3"/>
<circle cx="139" cy="136.8" r="1.68" fill="#1a3c9b" fill-opacity="0.3"/>
<rect x="133.5" y="143.2" width="9.5" height="9.4" fill="none" stroke="#1a3c9b" stroke-width="0.7"/>
<line x1="138.2" y1="127.4" x2="138.2" y2="158.6" stroke="#1a3c9b" stroke-width="1.2"/>
<line x1="133.45" y1="127.4" x2="142.95" y2="127.4" stroke="#1a3c9b" stroke-width="1.2"/>
<line x1="133.45" y1="158.6" x2="142.95" y2="158.6" stroke="#1a3c9b" stroke-width="1.2"/>
<line x1="133.5" y1="148.3" x2="143" y2="148.3" stroke="#1a3c9b" stroke-width="1.2"/>
<circle cx="150" cy="152.69" r="1.6" fill="#f01818" fill-opacity="0.3"/>
<circle cx="149" cy="144.12" r="1.6" fill="#f01818" fill-opacity="0.3"/>
<circle cx="148.51" cy="156.43" r="1.6" fill="#f01818" fill-opacity="0.3"/>
<circle cx="151.75" cy="151.55" r="1.6" fill="#f01818" fill-opacity="0.3"/>
<circle cx="151.42" cy="150.82" r="1.6" fill="#f01818" fill-opacity="0.3"/>
<circle cx="146.54" cy="149.95" r="1.6" fill="#f01818" fill-opacity="0.3"/>
<circle cx="147.39" cy="145.64" r="1.6" fill="#f01818" fill-opacity="0.3"/>
<circle cx="147.89" cy="155.09" r="1.6" fill="#f01818" fill-opacity="0.3"/>
<circle cx="144.37" cy="152.83" r="1.6" fill="#f01818" fill-opacity="0.3"/>
<circle cx="149.44" cy="149.8" r="1.6" fill="#f01818" fill-opacity="0.3"/>
<circle cx="145.36" cy="153.75" r="1.6" fill="#f01818" fill-opacity="0.3"/>
<circle cx="149.53" cy="148.48" r="1.6" fill="#f01818" fill-opacity="0.3"/>
<circle cx="145.93" cy="143.32" r="1.6" fill="#f01818" fill-opacity="0.3"/>
<circle cx="146.42" cy="153.39" r="1.6" fill="#f01818" fill-opacity="0.3"/>
<circle cx="148.72" cy="153.41" r="1.6" fill="#f01818" fill-opacity="0.3"/>
<circle cx="149.02" cy="149.51" r="1.6" fill="#f01818" fill-opacity="0.3"/>
<circle cx="145.37" cy="147.6" r="1.6" fill="#f01818" fill-opacity="0.3"/>
<circle cx="149.41" cy="156.25" r="1.6" fill="#f01818" fill-opacity="0.3"/>
<circle cx="146.75" cy="150.57" r="1.6" fill="#f01818" fill-opacity="0.3"/>
<circle cx="148.1" cy="153.1" r="1.6" fill="#f01818" fill-opacity="0.3"/>
<circle cx="150.56" cy="156.14" r="1.6" fill="#f01818" fill-opacity="0.3"/>
<circle cx="144.12" cy="155.29" r="1.6" fill="#f01818" fill-opacity="0.3"/>
<circle cx="149.72" cy="145.24" r="1.6" fill="#f01818" fill-opacity="0.3"/>
<circle cx="149.97" cy="149.56" r="1.6" fill="#f01818" fill-opacity="0.3"/>
<circle cx="145.01" cy="153.57" r="1.6" fill="#f01818" fill-opacity="0.3"/>
<rect x="143.3" y="148.3" width="9.3" height="7.9" fill="none" stroke="#f01818" stroke-width="0.7"/>
<line x1="147.6" y1="138.9" x2="147.6" y2="159" stroke="#f01818" stroke-width="1.2"/>
<line x1="142.95" y1="138.9" x2="152.25" y2="138.9" stroke="#f01818" stroke-width="1.2"/>
<line x1="142.95" y1="159" x2="152.25" y2="159" stroke="#f01818" stroke-width="1.2"/>
<line x1="143.3" y1="152.6" x2="152.6" y2="152.6" stroke="#f01818" stroke-width="1.2"/>
<path d="M110.2,126.7 L110.2,116.3 L138.2,116.3 L138.2,119.5" fill="none" stroke="#4a4a4a" stroke-width="0.75"/>
<text x="124.6" y="118.25" font-size="7.5" text-anchor="middle" font-weight="bold" fill="#1a1a1a">****</text>
<path d="M138.2,122.1 L138.2,122.1 L148.3,122.1 L148.3,122.1" fill="none" stroke="#4a4a4a" stroke-width="0.75"/>
<text x="143" y="124.05" font-size="7.5" text-anchor="middle" font-weight="bold" fill="#1a1a1a">*</text>
<text x="87.2" y="133" font-size="4.6" text-anchor="middle" fill="#333" transform="rotate(-90 87.2 133)">CD8<tspan baseline-shift="35%" font-size="70%">+</tspan> PD-1<tspan baseline-shift="35%" font-size="70%">+</tspan>GzmB<tspan baseline-shift="35%" font-size="70%">+</tspan> (MFI)</text>
<text x="115.2" y="168.8" font-size="8.2" text-anchor="middle" fill="#222">TP1</text>
<text x="143.3" y="168.8" font-size="8.2" text-anchor="middle" fill="#222">TP2</text>
<rect x="181.15" y="116.7" width="14.7" height="9.8" fill="#fff" stroke="#1a3c9b" stroke-width="1.1"/>
<ellipse cx="188.5" cy="119.45" rx="4.41" ry="1" fill="#1a3c9b" fill-opacity="0.3"/>
<ellipse cx="188.5" cy="123.75" rx="4.41" ry="1" fill="#1a3c9b" fill-opacity="0.3"/>
<line x1="181.15" y1="121.6" x2="195.85" y2="121.6" stroke="#1a3c9b" stroke-width="1.4300000000000002"/>
<line x1="188.5" y1="114.3" x2="188.5" y2="116.7" stroke="#1a3c9b" stroke-width="1.1"/>
<line x1="188.5" y1="126.5" x2="188.5" y2="128.8" stroke="#1a3c9b" stroke-width="1.1"/>
<text x="203.9" y="125.3" font-size="9.4" fill="#222">non-SD</text>
<rect x="181.15" y="135.3" width="14.7" height="9.9" fill="#fff" stroke="#f01818" stroke-width="1.1"/>
<ellipse cx="188.5" cy="138.05" rx="4.41" ry="1" fill="#f01818" fill-opacity="0.3"/>
<ellipse cx="188.5" cy="142.4" rx="4.41" ry="1" fill="#f01818" fill-opacity="0.3"/>
<line x1="181.15" y1="140.2" x2="195.85" y2="140.2" stroke="#f01818" stroke-width="1.4300000000000002"/>
<line x1="188.5" y1="133.1" x2="188.5" y2="135.3" stroke="#f01818" stroke-width="1.1"/>
<line x1="188.5" y1="145.2" x2="188.5" y2="147.5" stroke="#f01818" stroke-width="1.1"/>
<text x="203.9" y="144.3" font-size="9.4" fill="#222">SD</text>
<text x="249" y="13.5" font-size="12.6" font-weight="bold" fill="#000">f</text>
<text x="249" y="99.4" font-size="13.4" font-weight="bold" fill="#000">g</text>
<rect x="265.5" y="3.2" width="14.2" height="9.6" fill="#fff" stroke="#1b9e77" stroke-width="1.1"/>
<ellipse cx="272.6" cy="5.9" rx="4.26" ry="1" fill="#1b9e77" fill-opacity="0.3"/>
<ellipse cx="272.6" cy="10.1" rx="4.26" ry="1" fill="#1b9e77" fill-opacity="0.3"/>
<line x1="265.5" y1="8" x2="279.7" y2="8" stroke="#1b9e77" stroke-width="1.4300000000000002"/>
<line x1="272.6" y1="1.2" x2="272.6" y2="3.2" stroke="#1b9e77" stroke-width="1.1"/>
<line x1="272.6" y1="12.8" x2="272.6" y2="15.3" stroke="#1b9e77" stroke-width="1.1"/>
<text x="283.5" y="11.8" font-size="10" fill="#222">HW</text>
<rect x="304.2" y="3.2" width="14.6" height="9.6" fill="#fff" stroke="#d95f02" stroke-width="1.1"/>
<ellipse cx="311.5" cy="5.9" rx="4.38" ry="1" fill="#d95f02" fill-opacity="0.3"/>
<ellipse cx="311.5" cy="10.1" rx="4.38" ry="1" fill="#d95f02" fill-opacity="0.3"/>
<line x1="304.2" y1="8" x2="318.8" y2="8" stroke="#d95f02" stroke-width="1.4300000000000002"/>
<line x1="311.5" y1="1.2" x2="311.5" y2="3.2" stroke="#d95f02" stroke-width="1.1"/>
<line x1="311.5" y1="12.8" x2="311.5" y2="15.3" stroke="#d95f02" stroke-width="1.1"/>
<text x="322.3" y="12.4" font-size="10" fill="#222">OW/OB</text>
<text x="379.8" y="17.8" font-size="8.8" text-anchor="middle" font-weight="bold" fill="#000">TP1</text>
<line x1="255.3" y1="20.3" x2="495.6" y2="20.3" stroke="#333" stroke-width="1.0"/>
<text x="380" y="102.9" font-size="8.8" text-anchor="middle" font-weight="bold" fill="#000">TP2</text>
<line x1="255.3" y1="106.6" x2="495.6" y2="106.6" stroke="#333" stroke-width="1.0"/>
<rect x="261.1" y="24.3" width="49.5" height="50.3" fill="#fff"/>
<line x1="261.1" y1="31.4" x2="310.6" y2="31.4" stroke="#f3f3f3" stroke-width="0.5"/>
<line x1="261.1" y1="41.4" x2="310.6" y2="41.4" stroke="#f3f3f3" stroke-width="0.5"/>
<line x1="261.1" y1="51.45" x2="310.6" y2="51.45" stroke="#f3f3f3" stroke-width="0.5"/>
<line x1="261.1" y1="61.4" x2="310.6" y2="61.4" stroke="#f3f3f3" stroke-width="0.5"/>
<line x1="261.1" y1="26.6" x2="310.6" y2="26.6" stroke="#ebebeb" stroke-width="0.6"/>
<line x1="261.1" y1="36.2" x2="310.6" y2="36.2" stroke="#ebebeb" stroke-width="0.6"/>
<line x1="261.1" y1="46.6" x2="310.6" y2="46.6" stroke="#ebebeb" stroke-width="0.6"/>
<line x1="261.1" y1="56.3" x2="310.6" y2="56.3" stroke="#ebebeb" stroke-width="0.6"/>
<line x1="261.1" y1="66.5" x2="310.6" y2="66.5" stroke="#ebebeb" stroke-width="0.6"/>
<line x1="274.3" y1="24.3" x2="274.3" y2="74.6" stroke="#ebebeb" stroke-width="0.6"/>
<line x1="296.1" y1="24.3" x2="296.1" y2="74.6" stroke="#ebebeb" stroke-width="0.6"/>
<rect x="261.1" y="24.3" width="49.5" height="50.3" fill="none" stroke="#c9c9c9" stroke-width="0.8"/>
<line x1="259.6" y1="26.6" x2="261.1" y2="26.6" stroke="#555" stroke-width="0.5"/>
<text x="259.1" y="27.86" font-size="3.6" text-anchor="end" fill="#666">50</text>
<line x1="259.6" y1="36.2" x2="261.1" y2="36.2" stroke="#555" stroke-width="0.5"/>
<text x="259.1" y="37.46" font-size="3.6" text-anchor="end" fill="#666">40</text>
<line x1="259.6" y1="46.6" x2="261.1" y2="46.6" stroke="#555" stroke-width="0.5"/>
<text x="259.1" y="47.86" font-size="3.6" text-anchor="end" fill="#666">30</text>
<line x1="259.6" y1="56.3" x2="261.1" y2="56.3" stroke="#555" stroke-width="0.5"/>
<text x="259.1" y="57.56" font-size="3.6" text-anchor="end" fill="#666">20</text>
<line x1="259.6" y1="66.5" x2="261.1" y2="66.5" stroke="#555" stroke-width="0.5"/>
<text x="259.1" y="67.76" font-size="3.6" text-anchor="end" fill="#666">10</text>
<line x1="274.3" y1="74.6" x2="274.3" y2="76.1" stroke="#555" stroke-width="0.5"/>
<line x1="296.1" y1="74.6" x2="296.1" y2="76.1" stroke="#555" stroke-width="0.5"/>
<circle cx="271.37" cy="67.91" r="1.2" fill="#1b9e77" fill-opacity="0.3"/>
<circle cx="272.2" cy="64.26" r="1.2" fill="#1b9e77" fill-opacity="0.3"/>
<circle cx="270.68" cy="62.74" r="1.2" fill="#1b9e77" fill-opacity="0.3"/>
<circle cx="269.97" cy="62.62" r="1.2" fill="#1b9e77" fill-opacity="0.3"/>
<circle cx="272.21" cy="54.06" r="1.2" fill="#1b9e77" fill-opacity="0.3"/>
<circle cx="268.22" cy="64.39" r="1.2" fill="#1b9e77" fill-opacity="0.3"/>
<circle cx="272.64" cy="67.18" r="1.2" fill="#1b9e77" fill-opacity="0.3"/>
<circle cx="269.74" cy="53.37" r="1.2" fill="#1b9e77" fill-opacity="0.3"/>
<circle cx="273.05" cy="63.49" r="1.2" fill="#1b9e77" fill-opacity="0.3"/>
<circle cx="272.33" cy="63.79" r="1.2" fill="#1b9e77" fill-opacity="0.3"/>
<circle cx="270.4" cy="69.75" r="1.2" fill="#1b9e77" fill-opacity="0.3"/>
<circle cx="270.57" cy="59.42" r="1.2" fill="#1b9e77" fill-opacity="0.3"/>
<circle cx="272.59" cy="62.89" r="1.2" fill="#1b9e77" fill-opacity="0.3"/>
<circle cx="269.11" cy="68.61" r="1.2" fill="#1b9e77" fill-opacity="0.3"/>
<circle cx="272" cy="70.22" r="1.2" fill="#1b9e77" fill-opacity="0.3"/>
<circle cx="271.87" cy="64.08" r="1.2" fill="#1b9e77" fill-opacity="0.3"/>
<circle cx="272.38" cy="66.27" r="1.2" fill="#1b9e77" fill-opacity="0.3"/>
<circle cx="272.7" cy="69.71" r="1.2" fill="#1b9e77" fill-opacity="0.3"/>
<circle cx="270.39" cy="65.41" r="1.2" fill="#1b9e77" fill-opacity="0.3"/>
<circle cx="268.4" cy="26.8" r="1.26" fill="#1b9e77" fill-opacity="0.3"/>
<rect x="267.2" y="62.6" width="6.9" height="7.7" fill="none" stroke="#1b9e77" stroke-width="0.6"/>
<line x1="270.6" y1="52.7" x2="270.6" y2="72.3" stroke="#1b9e77" stroke-width="1.0"/>
<line x1="267.15" y1="52.7" x2="274.05" y2="52.7" stroke="#1b9e77" stroke-width="1.0"/>
<line x1="267.15" y1="72.3" x2="274.05" y2="72.3" stroke="#1b9e77" stroke-width="1.0"/>
<line x1="267.2" y1="66.7" x2="274.1" y2="66.7" stroke="#1b9e77" stroke-width="1.0"/>
<circle cx="275.52" cy="58.15" r="1.2" fill="#d95f02" fill-opacity="0.3"/>
<circle cx="276" cy="58.82" r="1.2" fill="#d95f02" fill-opacity="0.3"/>
<circle cx="279.85" cy="61.29" r="1.2" fill="#d95f02" fill-opacity="0.3"/>
<circle cx="277" cy="69.79" r="1.2" fill="#d95f02" fill-opacity="0.3"/>
<circle cx="278.83" cy="70.26" r="1.2" fill="#d95f02" fill-opacity="0.3"/>
<circle cx="275.64" cy="66.83" r="1.2" fill="#d95f02" fill-opacity="0.3"/>
<circle cx="276.95" cy="65.02" r="1.2" fill="#d95f02" fill-opacity="0.3"/>
<circle cx="278.31" cy="68.42" r="1.2" fill="#d95f02" fill-opacity="0.3"/>
<circle cx="280.21" cy="67.84" r="1.2" fill="#d95f02" fill-opacity="0.3"/>
<circle cx="278.46" cy="66.69" r="1.2" fill="#d95f02" fill-opacity="0.3"/>
<circle cx="276.96" cy="69.76" r="1.2" fill="#d95f02" fill-opacity="0.3"/>
<circle cx="278.65" cy="70.61" r="1.2" fill="#d95f02" fill-opacity="0.3"/>
<circle cx="278.74" cy="68.12" r="1.2" fill="#d95f02" fill-opacity="0.3"/>
<circle cx="278.06" cy="58.41" r="1.2" fill="#d95f02" fill-opacity="0.3"/>
<circle cx="277.93" cy="69.36" r="1.2" fill="#d95f02" fill-opacity="0.3"/>
<circle cx="278.7" cy="62.26" r="1.2" fill="#d95f02" fill-opacity="0.3"/>
<rect x="274.6" y="57.8" width="6.6" height="12.5" fill="none" stroke="#d95f02" stroke-width="0.6"/>
<line x1="277.9" y1="56" x2="277.9" y2="71.3" stroke="#d95f02" stroke-width="1.0"/>
<line x1="274.6" y1="56" x2="281.2" y2="56" stroke="#d95f02" stroke-width="1.0"/>
<line x1="274.6" y1="71.3" x2="281.2" y2="71.3" stroke="#d95f02" stroke-width="1.0"/>
<line x1="274.6" y1="62.1" x2="281.2" y2="62.1" stroke="#d95f02" stroke-width="1.0"/>
<circle cx="295.08" cy="70.48" r="1.2" fill="#1b9e77" fill-opacity="0.3"/>
<circle cx="292.83" cy="65.02" r="1.2" fill="#1b9e77" fill-opacity="0.3"/>
<circle cx="291.72" cy="57.38" r="1.2" fill="#1b9e77" fill-opacity="0.3"/>
<circle cx="292.98" cy="62.12" r="1.2" fill="#1b9e77" fill-opacity="0.3"/>
<circle cx="294.21" cy="61.07" r="1.2" fill="#1b9e77" fill-opacity="0.3"/>
<circle cx="294.32" cy="64.4" r="1.2" fill="#1b9e77" fill-opacity="0.3"/>
<circle cx="294.56" cy="60.85" r="1.2" fill="#1b9e77" fill-opacity="0.3"/>
<circle cx="293.78" cy="65.83" r="1.2" fill="#1b9e77" fill-opacity="0.3"/>
<circle cx="294.45" cy="61.1" r="1.2" fill="#1b9e77" fill-opacity="0.3"/>
<rect x="290" y="60.4" width="6.4" height="7.8" fill="none" stroke="#1b9e77" stroke-width="0.6"/>
<line x1="293.2" y1="55.3" x2="293.2" y2="71.3" stroke="#1b9e77" stroke-width="1.0"/>
<line x1="290" y1="55.3" x2="296.4" y2="55.3" stroke="#1b9e77" stroke-width="1.0"/>
<line x1="290" y1="71.3" x2="296.4" y2="71.3" stroke="#1b9e77" stroke-width="1.0"/>
<line x1="290" y1="67.2" x2="296.4" y2="67.2" stroke="#1b9e77" stroke-width="1.0"/>
<circle cx="298.53" cy="67.59" r="1.2" fill="#d95f02" fill-opacity="0.3"/>
<circle cx="301.02" cy="59.91" r="1.2" fill="#d95f02" fill-opacity="0.3"/>
<circle cx="298.37" cy="67" r="1.2" fill="#d95f02" fill-opacity="0.3"/>
<circle cx="301.51" cy="66.22" r="1.2" fill="#d95f02" fill-opacity="0.3"/>
<circle cx="302.64" cy="67.98" r="1.2" fill="#d95f02" fill-opacity="0.3"/>
<circle cx="302.49" cy="64.8" r="1.2" fill="#d95f02" fill-opacity="0.3"/>
<circle cx="299.15" cy="62.89" r="1.2" fill="#d95f02" fill-opacity="0.3"/>
<rect x="296.8" y="60.1" width="6.7" height="9.1" fill="none" stroke="#d95f02" stroke-width="0.6"/>
<line x1="300.1" y1="57.6" x2="300.1" y2="69.5" stroke="#d95f02" stroke-width="1.0"/>
<line x1="296.75" y1="57.6" x2="303.45" y2="57.6" stroke="#d95f02" stroke-width="1.0"/>
<line x1="296.75" y1="69.5" x2="303.45" y2="69.5" stroke="#d95f02" stroke-width="1.0"/>
<line x1="296.8" y1="63.7" x2="303.5" y2="63.7" stroke="#d95f02" stroke-width="1.0"/>
<text x="253.2" y="49.5" font-size="3.9" text-anchor="middle" fill="#333" transform="rotate(-90 253.2 49.5)">CD8<tspan baseline-shift="35%" font-size="70%">+</tspan> CD38<tspan baseline-shift="35%" font-size="70%">+</tspan>HLA-DR<tspan baseline-shift="35%" font-size="70%">+</tspan> (%)</text>
<text x="274.3" y="79.3" font-size="4.2" text-anchor="middle" fill="#555">non-SD</text>
<text x="296.1" y="79.3" font-size="4.2" text-anchor="middle" fill="#555">SD</text>
<rect x="322.7" y="24.3" width="49.5" height="50.3" fill="#fff"/>
<line x1="322.7" y1="39.7" x2="372.2" y2="39.7" stroke="#f3f3f3" stroke-width="0.5"/>
<line x1="322.7" y1="52.8" x2="372.2" y2="52.8" stroke="#f3f3f3" stroke-width="0.5"/>
<line x1="322.7" y1="65.95" x2="372.2" y2="65.95" stroke="#f3f3f3" stroke-width="0.5"/>
<line x1="322.7" y1="33.2" x2="372.2" y2="33.2" stroke="#ebebeb" stroke-width="0.6"/>
<line x1="322.7" y1="46.2" x2="372.2" y2="46.2" stroke="#ebebeb" stroke-width="0.6"/>
<line x1="322.7" y1="59.4" x2="372.2" y2="59.4" stroke="#ebebeb" stroke-width="0.6"/>
<line x1="322.7" y1="72.5" x2="372.2" y2="72.5" stroke="#ebebeb" stroke-width="0.6"/>
<line x1="336.6" y1="24.3" x2="336.6" y2="74.6" stroke="#ebebeb" stroke-width="0.6"/>
<line x1="359.3" y1="24.3" x2="359.3" y2="74.6" stroke="#ebebeb" stroke-width="0.6"/>
<rect x="322.7" y="24.3" width="49.5" height="50.3" fill="none" stroke="#c9c9c9" stroke-width="0.8"/>
<line x1="321.2" y1="33.2" x2="322.7" y2="33.2" stroke="#555" stroke-width="0.5"/>
<text x="320.7" y="34.46" font-size="3.6" text-anchor="end" fill="#666">60</text>
<line x1="321.2" y1="46.2" x2="322.7" y2="46.2" stroke="#555" stroke-width="0.5"/>
<text x="320.7" y="47.46" font-size="3.6" text-anchor="end" fill="#666">40</text>
<line x1="321.2" y1="59.4" x2="322.7" y2="59.4" stroke="#555" stroke-width="0.5"/>
<text x="320.7" y="60.66" font-size="3.6" text-anchor="end" fill="#666">20</text>
<line x1="321.2" y1="72.5" x2="322.7" y2="72.5" stroke="#555" stroke-width="0.5"/>
<text x="320.7" y="73.76" font-size="3.6" text-anchor="end" fill="#666">0</text>
<line x1="336.6" y1="74.6" x2="336.6" y2="76.1" stroke="#555" stroke-width="0.5"/>
<line x1="359.3" y1="74.6" x2="359.3" y2="76.1" stroke="#555" stroke-width="0.5"/>
<circle cx="334.65" cy="58.18" r="1.2" fill="#1b9e77" fill-opacity="0.3"/>
<circle cx="333.66" cy="57.5" r="1.2" fill="#1b9e77" fill-opacity="0.3"/>
<circle cx="331.83" cy="58.51" r="1.2" fill="#1b9e77" fill-opacity="0.3"/>
<circle cx="333.42" cy="51.9" r="1.2" fill="#1b9e77" fill-opacity="0.3"/>
<circle cx="334.59" cy="55.18" r="1.2" fill="#1b9e77" fill-opacity="0.3"/>
<circle cx="333.6" cy="62.7" r="1.2" fill="#1b9e77" fill-opacity="0.3"/>
<circle cx="332.32" cy="45.4" r="1.2" fill="#1b9e77" fill-opacity="0.3"/>
<circle cx="335.27" cy="47.9" r="1.2" fill="#1b9e77" fill-opacity="0.3"/>
<circle cx="333.4" cy="43.07" r="1.2" fill="#1b9e77" fill-opacity="0.3"/>
<circle cx="331.37" cy="48.97" r="1.2" fill="#1b9e77" fill-opacity="0.3"/>
<circle cx="333.3" cy="47.48" r="1.2" fill="#1b9e77" fill-opacity="0.3"/>
<circle cx="334.8" cy="43.88" r="1.2" fill="#1b9e77" fill-opacity="0.3"/>
<circle cx="334.52" cy="48.75" r="1.2" fill="#1b9e77" fill-opacity="0.3"/>
<circle cx="333.29" cy="51.9" r="1.2" fill="#1b9e77" fill-opacity="0.3"/>
<circle cx="333.02" cy="52.78" r="1.2" fill="#1b9e77" fill-opacity="0.3"/>
<circle cx="334.52" cy="47.32" r="1.2" fill="#1b9e77" fill-opacity="0.3"/>
<circle cx="332.56" cy="47.2" r="1.2" fill="#1b9e77" fill-opacity="0.3"/>
<circle cx="332.79" cy="58.03" r="1.2" fill="#1b9e77" fill-opacity="0.3"/>
<circle cx="333.57" cy="49.35" r="1.2" fill="#1b9e77" fill-opacity="0.3"/>
<rect x="329.8" y="46.6" width="6.4" height="12.5" fill="none" stroke="#1b9e77" stroke-width="0.6"/>
<line x1="333" y1="40.3" x2="333" y2="68.5" stroke="#1b9e77" stroke-width="1.0"/>
<line x1="329.8" y1="40.3" x2="336.2" y2="40.3" stroke="#1b9e77" stroke-width="1.0"/>
<line x1="329.8" y1="68.5" x2="336.2" y2="68.5" stroke="#1b9e77" stroke-width="1.0"/>
<line x1="329.8" y1="54.3" x2="336.2" y2="54.3" stroke="#1b9e77" stroke-width="1.0"/>
<circle cx="338.38" cy="46.08" r="1.2" fill="#d95f02" fill-opacity="0.3"/>
<circle cx="341.13" cy="41.92" r="1.2" fill="#d95f02" fill-opacity="0.3"/>
<circle cx="340.68" cy="41.49" r="1.2" fill="#d95f02" fill-opacity="0.3"/>
<circle cx="341.98" cy="58.41" r="1.2" fill="#d95f02" fill-opacity="0.3"/>
<circle cx="341.45" cy="51.96" r="1.2" fill="#d95f02" fill-opacity="0.3"/>
<circle cx="337.54" cy="68" r="1.2" fill="#d95f02" fill-opacity="0.3"/>
<circle cx="338.02" cy="46.64" r="1.2" fill="#d95f02" fill-opacity="0.3"/>
<circle cx="341.99" cy="64.21" r="1.2" fill="#d95f02" fill-opacity="0.3"/>
<circle cx="337.55" cy="56.95" r="1.2" fill="#d95f02" fill-opacity="0.3"/>
<circle cx="340.01" cy="48.66" r="1.2" fill="#d95f02" fill-opacity="0.3"/>
<circle cx="337.44" cy="45.82" r="1.2" fill="#d95f02" fill-opacity="0.3"/>
<circle cx="341.32" cy="56.29" r="1.2" fill="#d95f02" fill-opacity="0.3"/>
<circle cx="341.47" cy="52.37" r="1.2" fill="#d95f02" fill-opacity="0.3"/>
<circle cx="338.6" cy="57.71" r="1.2" fill="#d95f02" fill-opacity="0.3"/>
<circle cx="339.45" cy="51.25" r="1.2" fill="#d95f02" fill-opacity="0.3"/>
<circle cx="337.76" cy="41.98" r="1.2" fill="#d95f02" fill-opacity="0.3"/>
<rect x="336.6" y="45.2" width="6.4" height="14.2" fill="none" stroke="#d95f02" stroke-width="0.6"/>
<line x1="339.8" y1="40.3" x2="339.8" y2="68.8" stroke="#d95f02" stroke-width="1.0"/>
<line x1="336.6" y1="40.3" x2="343" y2="40.3" stroke="#d95f02" stroke-width="1.0"/>
<line x1="336.6" y1="68.8" x2="343" y2="68.8" stroke="#d95f02" stroke-width="1.0"/>
<line x1="336.6" y1="52.3" x2="343" y2="52.3" stroke="#d95f02" stroke-width="1.0"/>
<circle cx="357.8" cy="59.12" r="1.2" fill="#1b9e77" fill-opacity="0.3"/>
<circle cx="357.17" cy="53.31" r="1.2" fill="#1b9e77" fill-opacity="0.3"/>
<circle cx="357.13" cy="56.2" r="1.2" fill="#1b9e77" fill-opacity="0.3"/>
<circle cx="355.61" cy="61.25" r="1.2" fill="#1b9e77" fill-opacity="0.3"/>
<circle cx="355.99" cy="61.33" r="1.2" fill="#1b9e77" fill-opacity="0.3"/>
<circle cx="356.94" cy="60.58" r="1.2" fill="#1b9e77" fill-opacity="0.3"/>
<circle cx="357.97" cy="58.38" r="1.2" fill="#1b9e77" fill-opacity="0.3"/>
<circle cx="356.32" cy="61.86" r="1.2" fill="#1b9e77" fill-opacity="0.3"/>
<circle cx="354.89" cy="58.46" r="1.2" fill="#1b9e77" fill-opacity="0.3"/>
<rect x="352.5" y="52.7" width="6.3" height="9.4" fill="none" stroke="#1b9e77" stroke-width="0.6"/>
<line x1="355.7" y1="47.2" x2="355.7" y2="64.2" stroke="#1b9e77" stroke-width="1.0"/>
<line x1="352.55" y1="47.2" x2="358.85" y2="47.2" stroke="#1b9e77" stroke-width="1.0"/>
<line x1="352.55" y1="64.2" x2="358.85" y2="64.2" stroke="#1b9e77" stroke-width="1.0"/>
<line x1="352.5" y1="58.4" x2="358.8" y2="58.4" stroke="#1b9e77" stroke-width="1.0"/>
<circle cx="363.09" cy="52.8" r="1.2" fill="#d95f02" fill-opacity="0.3"/>
<circle cx="362.42" cy="52.8" r="1.2" fill="#d95f02" fill-opacity="0.3"/>
<circle cx="362.06" cy="53.11" r="1.2" fill="#d95f02" fill-opacity="0.3"/>
<circle cx="361.04" cy="53.23" r="1.2" fill="#d95f02" fill-opacity="0.3"/>
<circle cx="360.57" cy="53.21" r="1.2" fill="#d95f02" fill-opacity="0.3"/>
<circle cx="365.05" cy="54.96" r="1.2" fill="#d95f02" fill-opacity="0.3"/>
<circle cx="362.63" cy="55.74" r="1.2" fill="#d95f02" fill-opacity="0.3"/>
<circle cx="362.6" cy="45.4" r="1.26" fill="#d95f02" fill-opacity="0.3"/>
<rect x="359.3" y="52.3" width="6.6" height="3.8" fill="none" stroke="#d95f02" stroke-width="0.6"/>
<line x1="362.6" y1="52" x2="362.6" y2="61.4" stroke="#d95f02" stroke-width="1.0"/>
<line x1="359.3" y1="52" x2="365.9" y2="52" stroke="#d95f02" stroke-width="1.0"/>
<line x1="359.3" y1="61.4" x2="365.9" y2="61.4" stroke="#d95f02" stroke-width="1.0"/>
<line x1="359.3" y1="54.3" x2="365.9" y2="54.3" stroke="#d95f02" stroke-width="1.0"/>
<text x="314.8" y="51.5" font-size="3.9" text-anchor="middle" fill="#333" transform="rotate(-90 314.8 51.5)">CD8<tspan baseline-shift="35%" font-size="70%">+</tspan> GzmB<tspan baseline-shift="35%" font-size="70%">+</tspan> (%)</text>
<text x="336.6" y="79.3" font-size="4.2" text-anchor="middle" fill="#555">non-SD</text>
<text x="359.3" y="79.3" font-size="4.2" text-anchor="middle" fill="#555">SD</text>
<line x1="430.3" y1="24.3" x2="430.3" y2="74.6" stroke="#333" stroke-width="0.6"/>
<line x1="380.6" y1="74.6" x2="430.3" y2="74.6" stroke="#333" stroke-width="0.6"/>
<path d="M382.1,58.1 L385,56.8 L387.5,52 L389.5,38 L390.6,29.5 L391.4,27.6 L392.4,29.5 L393.6,38 L395,47 L396.8,52.3 L399,54.2 L403.4,54.8 L407,55.5 L410,57 L413.6,58.1 Z" fill="#1e1e96"/>
<path d="M381.1,74.6 L384,73.5 L386.5,70 L388.5,60 L390.2,47 L391.4,43.9 L392.6,47 L394,57 L395.5,66.5 L397,70 L399,71 L402,70.6 L405,69 L407,67.6 L408.5,67.1 L410,68 L411.5,70.5 L413.6,74.6 Z" fill="#ff1a1a" fill-opacity="0.92"/>
<text x="414.8" y="30.7" font-size="4.3" fill="#1e1e96">non-SD</text>
<text x="414.8" y="35.3" font-size="4.6" fill="#ff1a1a">SD</text>
<text x="377.6" y="50.5" font-size="3.9" text-anchor="middle" fill="#333" transform="rotate(-90 377.6 50.5)">Normalized to Mode</text>
<line x1="385.6" y1="74.6" x2="385.6" y2="75.8" stroke="#333" stroke-width="0.4"/>
<line x1="396.6" y1="74.6" x2="396.6" y2="75.8" stroke="#333" stroke-width="0.4"/>
<line x1="407.6" y1="74.6" x2="407.6" y2="75.8" stroke="#333" stroke-width="0.4"/>
<line x1="418.6" y1="74.6" x2="418.6" y2="75.8" stroke="#333" stroke-width="0.4"/>
<line x1="428.6" y1="74.6" x2="428.6" y2="75.8" stroke="#333" stroke-width="0.4"/>
<text x="407.45" y="80.6" font-size="4.2" text-anchor="middle" fill="#333">PD-1</text>
<rect x="450.4" y="24.1" width="45.2" height="50.4" fill="#fff"/>
<line x1="450.4" y1="32.25" x2="495.6" y2="32.25" stroke="#f3f3f3" stroke-width="0.5"/>
<line x1="450.4" y1="43.9" x2="495.6" y2="43.9" stroke="#f3f3f3" stroke-width="0.5"/>
<line x1="450.4" y1="55.3" x2="495.6" y2="55.3" stroke="#f3f3f3" stroke-width="0.5"/>
<line x1="450.4" y1="66.65" x2="495.6" y2="66.65" stroke="#f3f3f3" stroke-width="0.5"/>
<line x1="450.4" y1="26.3" x2="495.6" y2="26.3" stroke="#ebebeb" stroke-width="0.6"/>
<line x1="450.4" y1="38.2" x2="495.6" y2="38.2" stroke="#ebebeb" stroke-width="0.6"/>
<line x1="450.4" y1="49.6" x2="495.6" y2="49.6" stroke="#ebebeb" stroke-width="0.6"/>
<line x1="450.4" y1="61" x2="495.6" y2="61" stroke="#ebebeb" stroke-width="0.6"/>
<line x1="450.4" y1="72.3" x2="495.6" y2="72.3" stroke="#ebebeb" stroke-width="0.6"/>
<line x1="462.5" y1="24.1" x2="462.5" y2="74.5" stroke="#ebebeb" stroke-width="0.6"/>
<line x1="483.2" y1="24.1" x2="483.2" y2="74.5" stroke="#ebebeb" stroke-width="0.6"/>
<rect x="450.4" y="24.1" width="45.2" height="50.4" fill="none" stroke="#c9c9c9" stroke-width="0.8"/>
<line x1="448.9" y1="26.3" x2="450.4" y2="26.3" stroke="#555" stroke-width="0.5"/>
<text x="448.4" y="27.56" font-size="3.6" text-anchor="end" fill="#666">3500</text>
<line x1="448.9" y1="38.2" x2="450.4" y2="38.2" stroke="#555" stroke-width="0.5"/>
<text x="448.4" y="39.46" font-size="3.6" text-anchor="end" fill="#666">3000</text>
<line x1="448.9" y1="49.6" x2="450.4" y2="49.6" stroke="#555" stroke-width="0.5"/>
<text x="448.4" y="50.86" font-size="3.6" text-anchor="end" fill="#666">2500</text>
<line x1="448.9" y1="61" x2="450.4" y2="61" stroke="#555" stroke-width="0.5"/>
<text x="448.4" y="62.26" font-size="3.6" text-anchor="end" fill="#666">2000</text>
<line x1="448.9" y1="72.3" x2="450.4" y2="72.3" stroke="#555" stroke-width="0.5"/>
<text x="448.4" y="73.56" font-size="3.6" text-anchor="end" fill="#666">1500</text>
<line x1="462.5" y1="74.5" x2="462.5" y2="76" stroke="#555" stroke-width="0.5"/>
<line x1="483.2" y1="74.5" x2="483.2" y2="76" stroke="#555" stroke-width="0.5"/>
<circle cx="460.97" cy="55.87" r="1.2" fill="#1b9e77" fill-opacity="0.3"/>
<circle cx="458.62" cy="60.86" r="1.2" fill="#1b9e77" fill-opacity="0.3"/>
<circle cx="457.49" cy="63.36" r="1.2" fill="#1b9e77" fill-opacity="0.3"/>
<circle cx="458.64" cy="59.31" r="1.2" fill="#1b9e77" fill-opacity="0.3"/>
<circle cx="459.86" cy="55.56" r="1.2" fill="#1b9e77" fill-opacity="0.3"/>
<circle cx="459.1" cy="62.04" r="1.2" fill="#1b9e77" fill-opacity="0.3"/>
<circle cx="458.92" cy="60.44" r="1.2" fill="#1b9e77" fill-opacity="0.3"/>
<circle cx="457.92" cy="59.99" r="1.2" fill="#1b9e77" fill-opacity="0.3"/>
<circle cx="459.41" cy="54.97" r="1.2" fill="#1b9e77" fill-opacity="0.3"/>
<circle cx="460.69" cy="60.32" r="1.2" fill="#1b9e77" fill-opacity="0.3"/>
<circle cx="460.56" cy="63.59" r="1.2" fill="#1b9e77" fill-opacity="0.3"/>
<circle cx="458.87" cy="61.56" r="1.2" fill="#1b9e77" fill-opacity="0.3"/>
<circle cx="457.47" cy="64.07" r="1.2" fill="#1b9e77" fill-opacity="0.3"/>
<circle cx="457.65" cy="56.28" r="1.2" fill="#1b9e77" fill-opacity="0.3"/>
<rect x="456.2" y="58.1" width="6.3" height="5.4" fill="none" stroke="#1b9e77" stroke-width="0.6"/>
<line x1="459.4" y1="49.3" x2="459.4" y2="68.3" stroke="#1b9e77" stroke-width="1.0"/>
<line x1="456.25" y1="49.3" x2="462.55" y2="49.3" stroke="#1b9e77" stroke-width="1.0"/>
<line x1="456.25" y1="68.3" x2="462.55" y2="68.3" stroke="#1b9e77" stroke-width="1.0"/>
<line x1="456.2" y1="59.1" x2="462.5" y2="59.1" stroke="#1b9e77" stroke-width="1.0"/>
<circle cx="463.74" cy="49.64" r="1.2" fill="#d95f02" fill-opacity="0.3"/>
<circle cx="464.76" cy="47.33" r="1.2" fill="#d95f02" fill-opacity="0.3"/>
<circle cx="468.05" cy="59.45" r="1.2" fill="#d95f02" fill-opacity="0.3"/>
<circle cx="468.07" cy="62.44" r="1.2" fill="#d95f02" fill-opacity="0.3"/>
<circle cx="464.32" cy="54.62" r="1.2" fill="#d95f02" fill-opacity="0.3"/>
<circle cx="467.73" cy="58.71" r="1.2" fill="#d95f02" fill-opacity="0.3"/>
<circle cx="466.01" cy="60.31" r="1.2" fill="#d95f02" fill-opacity="0.3"/>
<circle cx="467.22" cy="54.2" r="1.2" fill="#d95f02" fill-opacity="0.3"/>
<circle cx="466.15" cy="63.48" r="1.2" fill="#d95f02" fill-opacity="0.3"/>
<circle cx="467.63" cy="59.85" r="1.2" fill="#d95f02" fill-opacity="0.3"/>
<circle cx="464.99" cy="58.2" r="1.2" fill="#d95f02" fill-opacity="0.3"/>
<circle cx="464.73" cy="66.81" r="1.2" fill="#d95f02" fill-opacity="0.3"/>
<circle cx="465.02" cy="56.07" r="1.2" fill="#d95f02" fill-opacity="0.3"/>
<circle cx="466.97" cy="53.16" r="1.2" fill="#d95f02" fill-opacity="0.3"/>
<rect x="462.8" y="54" width="6.1" height="8.5" fill="none" stroke="#d95f02" stroke-width="0.6"/>
<line x1="465.9" y1="41.2" x2="465.9" y2="70.4" stroke="#d95f02" stroke-width="1.0"/>
<line x1="462.85" y1="41.2" x2="468.95" y2="41.2" stroke="#d95f02" stroke-width="1.0"/>
<line x1="462.85" y1="70.4" x2="468.95" y2="70.4" stroke="#d95f02" stroke-width="1.0"/>
<line x1="462.8" y1="59.6" x2="468.9" y2="59.6" stroke="#d95f02" stroke-width="1.0"/>
<circle cx="479.67" cy="50.34" r="1.2" fill="#1b9e77" fill-opacity="0.3"/>
<circle cx="478.41" cy="46.19" r="1.2" fill="#1b9e77" fill-opacity="0.3"/>
<circle cx="478.56" cy="54.6" r="1.2" fill="#1b9e77" fill-opacity="0.3"/>
<circle cx="478.51" cy="57.87" r="1.2" fill="#1b9e77" fill-opacity="0.3"/>
<circle cx="479.76" cy="53.08" r="1.2" fill="#1b9e77" fill-opacity="0.3"/>
<circle cx="477.99" cy="45.18" r="1.2" fill="#1b9e77" fill-opacity="0.3"/>
<circle cx="478.79" cy="52.09" r="1.2" fill="#1b9e77" fill-opacity="0.3"/>
<rect x="477.1" y="49.6" width="6.1" height="6.6" fill="none" stroke="#1b9e77" stroke-width="0.6"/>
<line x1="480.2" y1="43.1" x2="480.2" y2="65.4" stroke="#1b9e77" stroke-width="1.0"/>
<line x1="477.15" y1="43.1" x2="483.25" y2="43.1" stroke="#1b9e77" stroke-width="1.0"/>
<line x1="477.15" y1="65.4" x2="483.25" y2="65.4" stroke="#1b9e77" stroke-width="1.0"/>
<line x1="477.1" y1="50.4" x2="483.2" y2="50.4" stroke="#1b9e77" stroke-width="1.0"/>
<circle cx="485.57" cy="36.09" r="1.2" fill="#d95f02" fill-opacity="0.3"/>
<circle cx="487.33" cy="44.56" r="1.2" fill="#d95f02" fill-opacity="0.3"/>
<circle cx="487.84" cy="40.64" r="1.2" fill="#d95f02" fill-opacity="0.3"/>
<circle cx="488" cy="55.81" r="1.2" fill="#d95f02" fill-opacity="0.3"/>
<circle cx="487.47" cy="32.81" r="1.2" fill="#d95f02" fill-opacity="0.3"/>
<rect x="483.5" y="32.8" width="5.8" height="15.4" fill="none" stroke="#d95f02" stroke-width="0.6"/>
<line x1="486.4" y1="32.1" x2="486.4" y2="57.2" stroke="#d95f02" stroke-width="1.0"/>
<line x1="483.5" y1="32.1" x2="489.3" y2="32.1" stroke="#d95f02" stroke-width="1.0"/>
<line x1="483.5" y1="57.2" x2="489.3" y2="57.2" stroke="#d95f02" stroke-width="1.0"/>
<line x1="483.5" y1="47.4" x2="489.3" y2="47.4" stroke="#d95f02" stroke-width="1.0"/>
<path d="M465.4,29.9 L465.4,27.4 L486.9,27.4 L486.9,29.2" fill="none" stroke="#4a4a4a" stroke-width="0.75"/>
<text x="476.2" y="28.96" font-size="6" text-anchor="middle" font-weight="bold" fill="#1a1a1a">*</text>
<path d="M462.8,31.4 L462.8,31.4 L483.5,31.4 L483.5,31.4" fill="none" stroke="#4a4a4a" stroke-width="0.75"/>
<text x="473" y="32.96" font-size="6" text-anchor="middle" font-weight="bold" fill="#1a1a1a">**</text>
<text x="438.6" y="51.8" font-size="4.2" text-anchor="middle" fill="#333" transform="rotate(-90 438.6 51.8)">CD8<tspan baseline-shift="35%" font-size="70%">+</tspan> PD-1<tspan baseline-shift="35%" font-size="70%">+</tspan> (MFI)</text>
<text x="462.5" y="79.3" font-size="4.2" text-anchor="middle" fill="#555">non-SD</text>
<text x="483.2" y="79.3" font-size="4.2" text-anchor="middle" fill="#555">SD</text>
<rect x="260.4" y="110.5" width="50.7" height="50.1" fill="#fff"/>
<line x1="260.4" y1="119.1" x2="311.1" y2="119.1" stroke="#f3f3f3" stroke-width="0.5"/>
<line x1="260.4" y1="130.55" x2="311.1" y2="130.55" stroke="#f3f3f3" stroke-width="0.5"/>
<line x1="260.4" y1="142.25" x2="311.1" y2="142.25" stroke="#f3f3f3" stroke-width="0.5"/>
<line x1="260.4" y1="153.9" x2="311.1" y2="153.9" stroke="#f3f3f3" stroke-width="0.5"/>
<line x1="260.4" y1="113.5" x2="311.1" y2="113.5" stroke="#ebebeb" stroke-width="0.6"/>
<line x1="260.4" y1="124.7" x2="311.1" y2="124.7" stroke="#ebebeb" stroke-width="0.6"/>
<line x1="260.4" y1="136.4" x2="311.1" y2="136.4" stroke="#ebebeb" stroke-width="0.6"/>
<line x1="260.4" y1="148.1" x2="311.1" y2="148.1" stroke="#ebebeb" stroke-width="0.6"/>
<line x1="260.4" y1="159.7" x2="311.1" y2="159.7" stroke="#ebebeb" stroke-width="0.6"/>
<line x1="274.6" y1="110.5" x2="274.6" y2="160.6" stroke="#ebebeb" stroke-width="0.6"/>
<line x1="296.2" y1="110.5" x2="296.2" y2="160.6" stroke="#ebebeb" stroke-width="0.6"/>
<rect x="260.4" y="110.5" width="50.7" height="50.1" fill="none" stroke="#c9c9c9" stroke-width="0.8"/>
<line x1="258.9" y1="113.5" x2="260.4" y2="113.5" stroke="#555" stroke-width="0.5"/>
<text x="258.4" y="114.76" font-size="3.6" text-anchor="end" fill="#666">80</text>
<line x1="258.9" y1="124.7" x2="260.4" y2="124.7" stroke="#555" stroke-width="0.5"/>
<text x="258.4" y="125.96" font-size="3.6" text-anchor="end" fill="#666">60</text>
<line x1="258.9" y1="136.4" x2="260.4" y2="136.4" stroke="#555" stroke-width="0.5"/>
<text x="258.4" y="137.66" font-size="3.6" text-anchor="end" fill="#666">40</text>
<line x1="258.9" y1="148.1" x2="260.4" y2="148.1" stroke="#555" stroke-width="0.5"/>
<text x="258.4" y="149.36" font-size="3.6" text-anchor="end" fill="#666">20</text>
<line x1="258.9" y1="159.7" x2="260.4" y2="159.7" stroke="#555" stroke-width="0.5"/>
<text x="258.4" y="160.96" font-size="3.6" text-anchor="end" fill="#666">0</text>
<line x1="274.6" y1="160.6" x2="274.6" y2="162.1" stroke="#555" stroke-width="0.5"/>
<line x1="296.2" y1="160.6" x2="296.2" y2="162.1" stroke="#555" stroke-width="0.5"/>
<circle cx="272.2" cy="141.34" r="1.2" fill="#1b9e77" fill-opacity="0.3"/>
<circle cx="272.56" cy="142.76" r="1.2" fill="#1b9e77" fill-opacity="0.3"/>
<circle cx="271.39" cy="121.15" r="1.2" fill="#1b9e77" fill-opacity="0.3"/>
<circle cx="272.93" cy="135.5" r="1.2" fill="#1b9e77" fill-opacity="0.3"/>
<circle cx="272.82" cy="132.87" r="1.2" fill="#1b9e77" fill-opacity="0.3"/>
<circle cx="269.72" cy="126.35" r="1.2" fill="#1b9e77" fill-opacity="0.3"/>
<circle cx="271.18" cy="132.87" r="1.2" fill="#1b9e77" fill-opacity="0.3"/>
<circle cx="272.35" cy="132" r="1.2" fill="#1b9e77" fill-opacity="0.3"/>
<circle cx="271.54" cy="137.87" r="1.2" fill="#1b9e77" fill-opacity="0.3"/>
<circle cx="273" cy="132.92" r="1.2" fill="#1b9e77" fill-opacity="0.3"/>
<circle cx="272.59" cy="135.52" r="1.2" fill="#1b9e77" fill-opacity="0.3"/>
<circle cx="269.78" cy="118.28" r="1.2" fill="#1b9e77" fill-opacity="0.3"/>
<circle cx="268.23" cy="136.5" r="1.2" fill="#1b9e77" fill-opacity="0.3"/>
<circle cx="270.13" cy="126.49" r="1.2" fill="#1b9e77" fill-opacity="0.3"/>
<circle cx="268.36" cy="133.82" r="1.2" fill="#1b9e77" fill-opacity="0.3"/>
<circle cx="270.94" cy="146.56" r="1.2" fill="#1b9e77" fill-opacity="0.3"/>
<circle cx="268.79" cy="134.46" r="1.2" fill="#1b9e77" fill-opacity="0.3"/>
<circle cx="269.55" cy="132.95" r="1.2" fill="#1b9e77" fill-opacity="0.3"/>
<circle cx="271.4" cy="135.18" r="1.2" fill="#1b9e77" fill-opacity="0.3"/>
<circle cx="269.95" cy="139.81" r="1.2" fill="#1b9e77" fill-opacity="0.3"/>
<circle cx="269.71" cy="148.27" r="1.2" fill="#1b9e77" fill-opacity="0.3"/>
<circle cx="270.06" cy="139.94" r="1.2" fill="#1b9e77" fill-opacity="0.3"/>
<circle cx="272.48" cy="117.73" r="1.2" fill="#1b9e77" fill-opacity="0.3"/>
<circle cx="270.37" cy="140.95" r="1.2" fill="#1b9e77" fill-opacity="0.3"/>
<circle cx="271.64" cy="146.67" r="1.2" fill="#1b9e77" fill-opacity="0.3"/>
<circle cx="271.2" cy="140.17" r="1.2" fill="#1b9e77" fill-opacity="0.3"/>
<circle cx="271.15" cy="133.44" r="1.2" fill="#1b9e77" fill-opacity="0.3"/>
<circle cx="270.27" cy="133.66" r="1.2" fill="#1b9e77" fill-opacity="0.3"/>
<rect x="267.4" y="132" width="6.5" height="16.5" fill="none" stroke="#1b9e77" stroke-width="0.6"/>
<line x1="270.6" y1="112.7" x2="270.6" y2="158" stroke="#1b9e77" stroke-width="1.0"/>
<line x1="267.35" y1="112.7" x2="273.85" y2="112.7" stroke="#1b9e77" stroke-width="1.0"/>
<line x1="267.35" y1="158" x2="273.85" y2="158" stroke="#1b9e77" stroke-width="1.0"/>
<line x1="267.4" y1="141.2" x2="273.9" y2="141.2" stroke="#1b9e77" stroke-width="1.0"/>
<circle cx="279.38" cy="139.86" r="1.2" fill="#d95f02" fill-opacity="0.3"/>
<circle cx="277.18" cy="150.76" r="1.2" fill="#d95f02" fill-opacity="0.3"/>
<circle cx="276.91" cy="133.91" r="1.2" fill="#d95f02" fill-opacity="0.3"/>
<circle cx="276.21" cy="141.74" r="1.2" fill="#d95f02" fill-opacity="0.3"/>
<circle cx="279.07" cy="142.97" r="1.2" fill="#d95f02" fill-opacity="0.3"/>
<circle cx="275.78" cy="121.48" r="1.2" fill="#d95f02" fill-opacity="0.3"/>
<circle cx="279.36" cy="142.24" r="1.2" fill="#d95f02" fill-opacity="0.3"/>
<circle cx="278.21" cy="152.66" r="1.2" fill="#d95f02" fill-opacity="0.3"/>
<circle cx="276.94" cy="129.04" r="1.2" fill="#d95f02" fill-opacity="0.3"/>
<circle cx="278.29" cy="142.04" r="1.2" fill="#d95f02" fill-opacity="0.3"/>
<circle cx="277.45" cy="132.72" r="1.2" fill="#d95f02" fill-opacity="0.3"/>
<circle cx="278.17" cy="145.51" r="1.2" fill="#d95f02" fill-opacity="0.3"/>
<circle cx="276.79" cy="148.17" r="1.2" fill="#d95f02" fill-opacity="0.3"/>
<circle cx="279.67" cy="138.91" r="1.2" fill="#d95f02" fill-opacity="0.3"/>
<circle cx="279.07" cy="133.22" r="1.2" fill="#d95f02" fill-opacity="0.3"/>
<circle cx="275.92" cy="146.13" r="1.2" fill="#d95f02" fill-opacity="0.3"/>
<circle cx="277.43" cy="154.38" r="1.2" fill="#d95f02" fill-opacity="0.3"/>
<circle cx="276.77" cy="137.02" r="1.2" fill="#d95f02" fill-opacity="0.3"/>
<circle cx="275.82" cy="139.07" r="1.2" fill="#d95f02" fill-opacity="0.3"/>
<circle cx="277.91" cy="136.69" r="1.2" fill="#d95f02" fill-opacity="0.3"/>
<circle cx="279.84" cy="138.22" r="1.2" fill="#d95f02" fill-opacity="0.3"/>
<circle cx="279.62" cy="141.99" r="1.2" fill="#d95f02" fill-opacity="0.3"/>
<rect x="274.7" y="135.4" width="6.2" height="12.4" fill="none" stroke="#d95f02" stroke-width="0.6"/>
<line x1="277.8" y1="118.3" x2="277.8" y2="155.1" stroke="#d95f02" stroke-width="1.0"/>
<line x1="274.7" y1="118.3" x2="280.9" y2="118.3" stroke="#d95f02" stroke-width="1.0"/>
<line x1="274.7" y1="155.1" x2="280.9" y2="155.1" stroke="#d95f02" stroke-width="1.0"/>
<line x1="274.7" y1="141.2" x2="280.9" y2="141.2" stroke="#d95f02" stroke-width="1.0"/>
<circle cx="294.64" cy="148.19" r="1.2" fill="#1b9e77" fill-opacity="0.3"/>
<circle cx="295.64" cy="131.24" r="1.2" fill="#1b9e77" fill-opacity="0.3"/>
<circle cx="294.67" cy="148.08" r="1.2" fill="#1b9e77" fill-opacity="0.3"/>
<circle cx="292.89" cy="130.81" r="1.2" fill="#1b9e77" fill-opacity="0.3"/>
<circle cx="294.65" cy="142.16" r="1.2" fill="#1b9e77" fill-opacity="0.3"/>
<circle cx="291.25" cy="145.55" r="1.2" fill="#1b9e77" fill-opacity="0.3"/>
<circle cx="291.32" cy="134.47" r="1.2" fill="#1b9e77" fill-opacity="0.3"/>
<circle cx="292.28" cy="122.68" r="1.2" fill="#1b9e77" fill-opacity="0.3"/>
<circle cx="291.96" cy="132.14" r="1.2" fill="#1b9e77" fill-opacity="0.3"/>
<circle cx="291.58" cy="143.71" r="1.2" fill="#1b9e77" fill-opacity="0.3"/>
<circle cx="295.38" cy="130.79" r="1.2" fill="#1b9e77" fill-opacity="0.3"/>
<circle cx="295.67" cy="150.82" r="1.2" fill="#1b9e77" fill-opacity="0.3"/>
<circle cx="292.99" cy="136.13" r="1.2" fill="#1b9e77" fill-opacity="0.3"/>
<circle cx="295.64" cy="139.49" r="1.2" fill="#1b9e77" fill-opacity="0.3"/>
<rect x="290.4" y="129.5" width="6.2" height="16.8" fill="none" stroke="#1b9e77" stroke-width="0.6"/>
<line x1="293.5" y1="120.8" x2="293.5" y2="157.3" stroke="#1b9e77" stroke-width="1.0"/>
<line x1="290.4" y1="120.8" x2="296.6" y2="120.8" stroke="#1b9e77" stroke-width="1.0"/>
<line x1="290.4" y1="157.3" x2="296.6" y2="157.3" stroke="#1b9e77" stroke-width="1.0"/>
<line x1="290.4" y1="137.3" x2="296.6" y2="137.3" stroke="#1b9e77" stroke-width="1.0"/>
<circle cx="302.51" cy="145.77" r="1.2" fill="#d95f02" fill-opacity="0.3"/>
<circle cx="302.11" cy="144.94" r="1.2" fill="#d95f02" fill-opacity="0.3"/>
<circle cx="299.16" cy="140.93" r="1.2" fill="#d95f02" fill-opacity="0.3"/>
<circle cx="300.63" cy="135.64" r="1.2" fill="#d95f02" fill-opacity="0.3"/>
<circle cx="301.89" cy="139.38" r="1.2" fill="#d95f02" fill-opacity="0.3"/>
<circle cx="301.79" cy="133.38" r="1.2" fill="#d95f02" fill-opacity="0.3"/>
<circle cx="298.58" cy="134.59" r="1.2" fill="#d95f02" fill-opacity="0.3"/>
<circle cx="300.46" cy="142.8" r="1.2" fill="#d95f02" fill-opacity="0.3"/>
<circle cx="299.53" cy="141.99" r="1.2" fill="#d95f02" fill-opacity="0.3"/>
<circle cx="300.79" cy="128.78" r="1.2" fill="#d95f02" fill-opacity="0.3"/>
<circle cx="298.65" cy="145.8" r="1.2" fill="#d95f02" fill-opacity="0.3"/>
<rect x="297.2" y="132.4" width="6.3" height="13.6" fill="none" stroke="#d95f02" stroke-width="0.6"/>
<line x1="300.3" y1="124.4" x2="300.3" y2="150.4" stroke="#d95f02" stroke-width="1.0"/>
<line x1="297.15" y1="124.4" x2="303.45" y2="124.4" stroke="#d95f02" stroke-width="1.0"/>
<line x1="297.15" y1="150.4" x2="303.45" y2="150.4" stroke="#d95f02" stroke-width="1.0"/>
<line x1="297.2" y1="139.7" x2="303.5" y2="139.7" stroke="#d95f02" stroke-width="1.0"/>
<text x="252.6" y="136" font-size="3.9" text-anchor="middle" fill="#333" transform="rotate(-90 252.6 136)">CD8<tspan baseline-shift="35%" font-size="70%">+</tspan> CD38<tspan baseline-shift="35%" font-size="70%">+</tspan>HLA-DR<tspan baseline-shift="35%" font-size="70%">+</tspan> (%)</text>
<text x="274.6" y="165.4" font-size="4.2" text-anchor="middle" fill="#555">non-SD</text>
<text x="296.2" y="165.4" font-size="4.2" text-anchor="middle" fill="#555">SD</text>
<rect x="324.2" y="110.5" width="48.4" height="50.1" fill="#fff"/>
<line x1="324.2" y1="120.8" x2="372.6" y2="120.8" stroke="#f3f3f3" stroke-width="0.5"/>
<line x1="324.2" y1="131.5" x2="372.6" y2="131.5" stroke="#f3f3f3" stroke-width="0.5"/>
<line x1="324.2" y1="142.15" x2="372.6" y2="142.15" stroke="#f3f3f3" stroke-width="0.5"/>
<line x1="324.2" y1="153.1" x2="372.6" y2="153.1" stroke="#f3f3f3" stroke-width="0.5"/>
<line x1="324.2" y1="115.4" x2="372.6" y2="115.4" stroke="#ebebeb" stroke-width="0.6"/>
<line x1="324.2" y1="126.2" x2="372.6" y2="126.2" stroke="#ebebeb" stroke-width="0.6"/>
<line x1="324.2" y1="136.8" x2="372.6" y2="136.8" stroke="#ebebeb" stroke-width="0.6"/>
<line x1="324.2" y1="147.5" x2="372.6" y2="147.5" stroke="#ebebeb" stroke-width="0.6"/>
<line x1="324.2" y1="158.7" x2="372.6" y2="158.7" stroke="#ebebeb" stroke-width="0.6"/>
<line x1="337.5" y1="110.5" x2="337.5" y2="160.6" stroke="#ebebeb" stroke-width="0.6"/>
<line x1="359.4" y1="110.5" x2="359.4" y2="160.6" stroke="#ebebeb" stroke-width="0.6"/>
<rect x="324.2" y="110.5" width="48.4" height="50.1" fill="none" stroke="#c9c9c9" stroke-width="0.8"/>
<line x1="322.7" y1="115.4" x2="324.2" y2="115.4" stroke="#555" stroke-width="0.5"/>
<text x="322.2" y="116.66" font-size="3.6" text-anchor="end" fill="#666">100</text>
<line x1="322.7" y1="126.2" x2="324.2" y2="126.2" stroke="#555" stroke-width="0.5"/>
<text x="322.2" y="127.46" font-size="3.6" text-anchor="end" fill="#666">75</text>
<line x1="322.7" y1="136.8" x2="324.2" y2="136.8" stroke="#555" stroke-width="0.5"/>
<text x="322.2" y="138.06" font-size="3.6" text-anchor="end" fill="#666">50</text>
<line x1="322.7" y1="147.5" x2="324.2" y2="147.5" stroke="#555" stroke-width="0.5"/>
<text x="322.2" y="148.76" font-size="3.6" text-anchor="end" fill="#666">25</text>
<line x1="322.7" y1="158.7" x2="324.2" y2="158.7" stroke="#555" stroke-width="0.5"/>
<text x="322.2" y="159.96" font-size="3.6" text-anchor="end" fill="#666">0</text>
<line x1="337.5" y1="160.6" x2="337.5" y2="162.1" stroke="#555" stroke-width="0.5"/>
<line x1="359.4" y1="160.6" x2="359.4" y2="162.1" stroke="#555" stroke-width="0.5"/>
<circle cx="334.64" cy="118.34" r="1.2" fill="#1b9e77" fill-opacity="0.3"/>
<circle cx="334.17" cy="146.2" r="1.2" fill="#1b9e77" fill-opacity="0.3"/>
<circle cx="334.23" cy="128.75" r="1.2" fill="#1b9e77" fill-opacity="0.3"/>
<circle cx="334.56" cy="137.73" r="1.2" fill="#1b9e77" fill-opacity="0.3"/>
<circle cx="335.19" cy="133.44" r="1.2" fill="#1b9e77" fill-opacity="0.3"/>
<circle cx="336.27" cy="141.63" r="1.2" fill="#1b9e77" fill-opacity="0.3"/>
<circle cx="332.15" cy="118.31" r="1.2" fill="#1b9e77" fill-opacity="0.3"/>
<circle cx="335.04" cy="133.19" r="1.2" fill="#1b9e77" fill-opacity="0.3"/>
<circle cx="334.74" cy="136" r="1.2" fill="#1b9e77" fill-opacity="0.3"/>
<circle cx="334.22" cy="116.18" r="1.2" fill="#1b9e77" fill-opacity="0.3"/>
<circle cx="331.84" cy="133.98" r="1.2" fill="#1b9e77" fill-opacity="0.3"/>
<circle cx="332.12" cy="149.03" r="1.2" fill="#1b9e77" fill-opacity="0.3"/>
<circle cx="333.42" cy="115.78" r="1.2" fill="#1b9e77" fill-opacity="0.3"/>
<circle cx="335.15" cy="140.23" r="1.2" fill="#1b9e77" fill-opacity="0.3"/>
<circle cx="335.11" cy="123.07" r="1.2" fill="#1b9e77" fill-opacity="0.3"/>
<circle cx="336.01" cy="134.05" r="1.2" fill="#1b9e77" fill-opacity="0.3"/>
<circle cx="335.1" cy="125.51" r="1.2" fill="#1b9e77" fill-opacity="0.3"/>
<circle cx="334.64" cy="131.1" r="1.2" fill="#1b9e77" fill-opacity="0.3"/>
<circle cx="334.36" cy="134.43" r="1.2" fill="#1b9e77" fill-opacity="0.3"/>
<circle cx="332.21" cy="137.24" r="1.2" fill="#1b9e77" fill-opacity="0.3"/>
<circle cx="331.94" cy="127.69" r="1.2" fill="#1b9e77" fill-opacity="0.3"/>
<circle cx="332.52" cy="117.31" r="1.2" fill="#1b9e77" fill-opacity="0.3"/>
<circle cx="334.24" cy="124.09" r="1.2" fill="#1b9e77" fill-opacity="0.3"/>
<circle cx="334.3" cy="136.23" r="1.2" fill="#1b9e77" fill-opacity="0.3"/>
<circle cx="334.99" cy="131.08" r="1.2" fill="#1b9e77" fill-opacity="0.3"/>
<circle cx="336.01" cy="135.44" r="1.2" fill="#1b9e77" fill-opacity="0.3"/>
<circle cx="334.39" cy="132.01" r="1.2" fill="#1b9e77" fill-opacity="0.3"/>
<circle cx="333.65" cy="138.73" r="1.2" fill="#1b9e77" fill-opacity="0.3"/>
<rect x="331" y="128.1" width="6.2" height="14.1" fill="none" stroke="#1b9e77" stroke-width="0.6"/>
<line x1="334.1" y1="114.9" x2="334.1" y2="152.4" stroke="#1b9e77" stroke-width="1.0"/>
<line x1="331" y1="114.9" x2="337.2" y2="114.9" stroke="#1b9e77" stroke-width="1.0"/>
<line x1="331" y1="152.4" x2="337.2" y2="152.4" stroke="#1b9e77" stroke-width="1.0"/>
<line x1="331" y1="134.6" x2="337.2" y2="134.6" stroke="#1b9e77" stroke-width="1.0"/>
<circle cx="342" cy="130.13" r="1.2" fill="#d95f02" fill-opacity="0.3"/>
<circle cx="340.36" cy="138.05" r="1.2" fill="#d95f02" fill-opacity="0.3"/>
<circle cx="340.22" cy="120.94" r="1.2" fill="#d95f02" fill-opacity="0.3"/>
<circle cx="342.02" cy="132.37" r="1.2" fill="#d95f02" fill-opacity="0.3"/>
<circle cx="341.34" cy="142.13" r="1.2" fill="#d95f02" fill-opacity="0.3"/>
<circle cx="341.08" cy="136.74" r="1.2" fill="#d95f02" fill-opacity="0.3"/>
<circle cx="338.65" cy="135.41" r="1.2" fill="#d95f02" fill-opacity="0.3"/>
<circle cx="341.83" cy="135.56" r="1.2" fill="#d95f02" fill-opacity="0.3"/>
<circle cx="338.72" cy="136.72" r="1.2" fill="#d95f02" fill-opacity="0.3"/>
<circle cx="342.11" cy="131.15" r="1.2" fill="#d95f02" fill-opacity="0.3"/>
<circle cx="342.23" cy="117.98" r="1.2" fill="#d95f02" fill-opacity="0.3"/>
<circle cx="340.73" cy="130.12" r="1.2" fill="#d95f02" fill-opacity="0.3"/>
<circle cx="339.84" cy="131.73" r="1.2" fill="#d95f02" fill-opacity="0.3"/>
<circle cx="339.37" cy="137.92" r="1.2" fill="#d95f02" fill-opacity="0.3"/>
<circle cx="342.02" cy="130.98" r="1.2" fill="#d95f02" fill-opacity="0.3"/>
<circle cx="338.74" cy="138.69" r="1.2" fill="#d95f02" fill-opacity="0.3"/>
<circle cx="342.99" cy="130.08" r="1.2" fill="#d95f02" fill-opacity="0.3"/>
<circle cx="338.74" cy="144.81" r="1.2" fill="#d95f02" fill-opacity="0.3"/>
<circle cx="342.77" cy="133.55" r="1.2" fill="#d95f02" fill-opacity="0.3"/>
<circle cx="342.85" cy="127.23" r="1.2" fill="#d95f02" fill-opacity="0.3"/>
<circle cx="339.29" cy="122.74" r="1.2" fill="#d95f02" fill-opacity="0.3"/>
<circle cx="339.36" cy="137.43" r="1.2" fill="#d95f02" fill-opacity="0.3"/>
<rect x="337.8" y="127.3" width="6.3" height="15.4" fill="none" stroke="#d95f02" stroke-width="0.6"/>
<line x1="341" y1="114.9" x2="341" y2="150.4" stroke="#d95f02" stroke-width="1.0"/>
<line x1="337.85" y1="114.9" x2="344.15" y2="114.9" stroke="#d95f02" stroke-width="1.0"/>
<line x1="337.85" y1="150.4" x2="344.15" y2="150.4" stroke="#d95f02" stroke-width="1.0"/>
<line x1="337.8" y1="133.9" x2="344.1" y2="133.9" stroke="#d95f02" stroke-width="1.0"/>
<circle cx="354.98" cy="138.57" r="1.2" fill="#1b9e77" fill-opacity="0.3"/>
<circle cx="357.01" cy="141.87" r="1.2" fill="#1b9e77" fill-opacity="0.3"/>
<circle cx="354.9" cy="138.02" r="1.2" fill="#1b9e77" fill-opacity="0.3"/>
<circle cx="358.07" cy="129.44" r="1.2" fill="#1b9e77" fill-opacity="0.3"/>
<circle cx="356.01" cy="131.56" r="1.2" fill="#1b9e77" fill-opacity="0.3"/>
<circle cx="358" cy="145.39" r="1.2" fill="#1b9e77" fill-opacity="0.3"/>
<circle cx="357.32" cy="129.66" r="1.2" fill="#1b9e77" fill-opacity="0.3"/>
<circle cx="355.54" cy="136.19" r="1.2" fill="#1b9e77" fill-opacity="0.3"/>
<circle cx="354.3" cy="144.59" r="1.2" fill="#1b9e77" fill-opacity="0.3"/>
<circle cx="356.89" cy="142.93" r="1.2" fill="#1b9e77" fill-opacity="0.3"/>
<circle cx="357.7" cy="142.31" r="1.2" fill="#1b9e77" fill-opacity="0.3"/>
<circle cx="355.84" cy="154.98" r="1.2" fill="#1b9e77" fill-opacity="0.3"/>
<circle cx="356.04" cy="133.93" r="1.2" fill="#1b9e77" fill-opacity="0.3"/>
<circle cx="357.49" cy="148.77" r="1.2" fill="#1b9e77" fill-opacity="0.3"/>
<rect x="353.3" y="131.4" width="6.1" height="18.6" fill="none" stroke="#1b9e77" stroke-width="0.6"/>
<line x1="356.4" y1="118.3" x2="356.4" y2="156.2" stroke="#1b9e77" stroke-width="1.0"/>
<line x1="353.35" y1="118.3" x2="359.45" y2="118.3" stroke="#1b9e77" stroke-width="1.0"/>
<line x1="353.35" y1="156.2" x2="359.45" y2="156.2" stroke="#1b9e77" stroke-width="1.0"/>
<line x1="353.3" y1="143.1" x2="359.4" y2="143.1" stroke="#1b9e77" stroke-width="1.0"/>
<circle cx="360.65" cy="147.07" r="1.2" fill="#d95f02" fill-opacity="0.3"/>
<circle cx="363.62" cy="148.05" r="1.2" fill="#d95f02" fill-opacity="0.3"/>
<circle cx="364.63" cy="140.88" r="1.2" fill="#d95f02" fill-opacity="0.3"/>
<circle cx="364.71" cy="137.13" r="1.2" fill="#d95f02" fill-opacity="0.3"/>
<circle cx="363.41" cy="144.3" r="1.2" fill="#d95f02" fill-opacity="0.3"/>
<circle cx="361.33" cy="148.06" r="1.2" fill="#d95f02" fill-opacity="0.3"/>
<circle cx="365.04" cy="131.32" r="1.2" fill="#d95f02" fill-opacity="0.3"/>
<circle cx="364.41" cy="142.8" r="1.2" fill="#d95f02" fill-opacity="0.3"/>
<circle cx="364.62" cy="130.92" r="1.2" fill="#d95f02" fill-opacity="0.3"/>
<circle cx="364.06" cy="136.33" r="1.2" fill="#d95f02" fill-opacity="0.3"/>
<circle cx="361.26" cy="138.6" r="1.2" fill="#d95f02" fill-opacity="0.3"/>
<rect x="359.7" y="136.8" width="6.3" height="11.7" fill="none" stroke="#d95f02" stroke-width="0.6"/>
<line x1="362.9" y1="128.5" x2="362.9" y2="153.3" stroke="#d95f02" stroke-width="1.0"/>
<line x1="359.75" y1="128.5" x2="366.05" y2="128.5" stroke="#d95f02" stroke-width="1.0"/>
<line x1="359.75" y1="153.3" x2="366.05" y2="153.3" stroke="#d95f02" stroke-width="1.0"/>
<line x1="359.7" y1="141.2" x2="366" y2="141.2" stroke="#d95f02" stroke-width="1.0"/>
<path d="M338.2,113 L338.2,113 L358.7,113 L358.7,113" fill="none" stroke="#4a4a4a" stroke-width="0.75"/>
<text x="348.5" y="114.56" font-size="6" text-anchor="middle" font-weight="bold" fill="#1a1a1a">**</text>
<path d="M341.9,116.4 L341.9,116.4 L362.6,116.4 L362.6,120" fill="none" stroke="#4a4a4a" stroke-width="0.75"/>
<text x="352.8" y="117.96" font-size="6" text-anchor="middle" font-weight="bold" fill="#1a1a1a">*</text>
<text x="316" y="137" font-size="3.9" text-anchor="middle" fill="#333" transform="rotate(-90 316 137)">CD8<tspan baseline-shift="35%" font-size="70%">+</tspan> GzmB<tspan baseline-shift="35%" font-size="70%">+</tspan> (%)</text>
<text x="337.5" y="165.4" font-size="4.2" text-anchor="middle" fill="#555">non-SD</text>
<text x="359.4" y="165.4" font-size="4.2" text-anchor="middle" fill="#555">SD</text>
<line x1="380.6" y1="111.3" x2="430.7" y2="111.3" stroke="#d0d0d0" stroke-width="0.6"/>
<line x1="380.6" y1="111.3" x2="380.6" y2="160.9" stroke="#333" stroke-width="0.6"/>
<line x1="430.7" y1="111.3" x2="430.7" y2="160.9" stroke="#d0d0d0" stroke-width="0.6"/>
<line x1="380.6" y1="160.9" x2="430.7" y2="160.9" stroke="#333" stroke-width="0.6"/>
<path d="M386.4,144.6 L389,143 L391,136 L392.8,122 L394,116 L394.5,114.9 L395.2,116 L396.5,124 L398,133 L400,139.5 L403,142.4 L407,143.2 L411,144 L415.6,144.6 Z" fill="#1e1e96"/>
<path d="M383,161.2 L386,159.5 L389,155 L391.5,150 L393,148.5 L394.5,149.5 L396.5,153 L398.5,154.2 L401,153.6 L404,150 L406.5,141 L408.5,133 L409.8,130.5 L411,132 L412.5,138 L414,148 L416,157 L418,161.2 Z" fill="#ff1a1a" fill-opacity="0.92"/>
<text x="414.8" y="117" font-size="4.3" fill="#1e1e96">non-SD</text>
<text x="414.8" y="121.6" font-size="4.6" fill="#ff1a1a">SD</text>
<text x="377.7" y="137.5" font-size="3.9" text-anchor="middle" fill="#333" transform="rotate(-90 377.7 137.5)">Normalized to Mode</text>
<line x1="385.6" y1="160.9" x2="385.6" y2="162.1" stroke="#333" stroke-width="0.4"/>
<line x1="396.6" y1="160.9" x2="396.6" y2="162.1" stroke="#333" stroke-width="0.4"/>
<line x1="407.6" y1="160.9" x2="407.6" y2="162.1" stroke="#333" stroke-width="0.4"/>
<line x1="418.6" y1="160.9" x2="418.6" y2="162.1" stroke="#333" stroke-width="0.4"/>
<line x1="428.6" y1="160.9" x2="428.6" y2="162.1" stroke="#333" stroke-width="0.4"/>
<text x="407.65" y="166.9" font-size="4.2" text-anchor="middle" fill="#333">PD-1</text>
<rect x="450.4" y="110.1" width="45.2" height="50.5" fill="#fff"/>
<line x1="450.4" y1="133.4" x2="495.6" y2="133.4" stroke="#f3f3f3" stroke-width="0.5"/>
<line x1="450.4" y1="149.1" x2="495.6" y2="149.1" stroke="#f3f3f3" stroke-width="0.5"/>
<line x1="450.4" y1="125.6" x2="495.6" y2="125.6" stroke="#ebebeb" stroke-width="0.6"/>
<line x1="450.4" y1="141.2" x2="495.6" y2="141.2" stroke="#ebebeb" stroke-width="0.6"/>
<line x1="450.4" y1="157" x2="495.6" y2="157" stroke="#ebebeb" stroke-width="0.6"/>
<line x1="462.5" y1="110.1" x2="462.5" y2="160.6" stroke="#ebebeb" stroke-width="0.6"/>
<line x1="483.5" y1="110.1" x2="483.5" y2="160.6" stroke="#ebebeb" stroke-width="0.6"/>
<rect x="450.4" y="110.1" width="45.2" height="50.5" fill="none" stroke="#c9c9c9" stroke-width="0.8"/>
<line x1="448.9" y1="125.6" x2="450.4" y2="125.6" stroke="#555" stroke-width="0.5"/>
<text x="448.4" y="126.86" font-size="3.6" text-anchor="end" fill="#666">6000</text>
<line x1="448.9" y1="141.2" x2="450.4" y2="141.2" stroke="#555" stroke-width="0.5"/>
<text x="448.4" y="142.46" font-size="3.6" text-anchor="end" fill="#666">4000</text>
<line x1="448.9" y1="157" x2="450.4" y2="157" stroke="#555" stroke-width="0.5"/>
<text x="448.4" y="158.26" font-size="3.6" text-anchor="end" fill="#666">2000</text>
<line x1="462.5" y1="160.6" x2="462.5" y2="162.1" stroke="#555" stroke-width="0.5"/>
<line x1="483.5" y1="160.6" x2="483.5" y2="162.1" stroke="#555" stroke-width="0.5"/>
<circle cx="457.78" cy="148.45" r="1.2" fill="#1b9e77" fill-opacity="0.3"/>
<circle cx="460.24" cy="150.11" r="1.2" fill="#1b9e77" fill-opacity="0.3"/>
<circle cx="460.44" cy="146.47" r="1.2" fill="#1b9e77" fill-opacity="0.3"/>
<circle cx="460.11" cy="153.91" r="1.2" fill="#1b9e77" fill-opacity="0.3"/>
<circle cx="457.73" cy="147.52" r="1.2" fill="#1b9e77" fill-opacity="0.3"/>
<circle cx="457.79" cy="151.56" r="1.2" fill="#1b9e77" fill-opacity="0.3"/>
<circle cx="457.28" cy="150.91" r="1.2" fill="#1b9e77" fill-opacity="0.3"/>
<circle cx="461.07" cy="139.92" r="1.2" fill="#1b9e77" fill-opacity="0.3"/>
<circle cx="460.41" cy="143.34" r="1.2" fill="#1b9e77" fill-opacity="0.3"/>
<circle cx="460.15" cy="141.64" r="1.2" fill="#1b9e77" fill-opacity="0.3"/>
<circle cx="460.24" cy="152.75" r="1.2" fill="#1b9e77" fill-opacity="0.3"/>
<circle cx="458.49" cy="140.3" r="1.2" fill="#1b9e77" fill-opacity="0.3"/>
<circle cx="457.86" cy="150.67" r="1.2" fill="#1b9e77" fill-opacity="0.3"/>
<circle cx="458.42" cy="155.13" r="1.2" fill="#1b9e77" fill-opacity="0.3"/>
<circle cx="458.91" cy="151.21" r="1.2" fill="#1b9e77" fill-opacity="0.3"/>
<circle cx="458.86" cy="148.52" r="1.2" fill="#1b9e77" fill-opacity="0.3"/>
<circle cx="459.15" cy="147.85" r="1.2" fill="#1b9e77" fill-opacity="0.3"/>
<circle cx="460.5" cy="147.26" r="1.2" fill="#1b9e77" fill-opacity="0.3"/>
<circle cx="460.08" cy="155.76" r="1.2" fill="#1b9e77" fill-opacity="0.3"/>
<circle cx="457.31" cy="147.87" r="1.2" fill="#1b9e77" fill-opacity="0.3"/>
<circle cx="461.11" cy="152.43" r="1.2" fill="#1b9e77" fill-opacity="0.3"/>
<circle cx="460.1" cy="141.34" r="1.2" fill="#1b9e77" fill-opacity="0.3"/>
<circle cx="460.08" cy="152.6" r="1.2" fill="#1b9e77" fill-opacity="0.3"/>
<circle cx="458.97" cy="150.69" r="1.2" fill="#1b9e77" fill-opacity="0.3"/>
<circle cx="458.14" cy="157.28" r="1.2" fill="#1b9e77" fill-opacity="0.3"/>
<circle cx="460.2" cy="151.62" r="1.2" fill="#1b9e77" fill-opacity="0.3"/>
<circle cx="461.55" cy="149.84" r="1.2" fill="#1b9e77" fill-opacity="0.3"/>
<circle cx="460.22" cy="148.33" r="1.2" fill="#1b9e77" fill-opacity="0.3"/>
<circle cx="459.1" cy="133.6" r="1.26" fill="#1b9e77" fill-opacity="0.3"/>
<circle cx="461" cy="134.5" r="1.26" fill="#1b9e77" fill-opacity="0.3"/>
<rect x="456.2" y="147" width="6.3" height="6.3" fill="none" stroke="#1b9e77" stroke-width="0.6"/>
<line x1="459.4" y1="139.3" x2="459.4" y2="158" stroke="#1b9e77" stroke-width="1.0"/>
<line x1="456.25" y1="139.3" x2="462.55" y2="139.3" stroke="#1b9e77" stroke-width="1.0"/>
<line x1="456.25" y1="158" x2="462.55" y2="158" stroke="#1b9e77" stroke-width="1.0"/>
<line x1="456.2" y1="150.4" x2="462.5" y2="150.4" stroke="#1b9e77" stroke-width="1.0"/>
<circle cx="464.84" cy="133" r="1.2" fill="#d95f02" fill-opacity="0.3"/>
<circle cx="466.65" cy="150.32" r="1.2" fill="#d95f02" fill-opacity="0.3"/>
<circle cx="465.5" cy="134.5" r="1.2" fill="#d95f02" fill-opacity="0.3"/>
<circle cx="465.87" cy="145.24" r="1.2" fill="#d95f02" fill-opacity="0.3"/>
<circle cx="466.52" cy="145.05" r="1.2" fill="#d95f02" fill-opacity="0.3"/>
<circle cx="466.25" cy="137.71" r="1.2" fill="#d95f02" fill-opacity="0.3"/>
<circle cx="467.23" cy="132.56" r="1.2" fill="#d95f02" fill-opacity="0.3"/>
<circle cx="464.3" cy="140.6" r="1.2" fill="#d95f02" fill-opacity="0.3"/>
<circle cx="464.02" cy="140.51" r="1.2" fill="#d95f02" fill-opacity="0.3"/>
<circle cx="466.32" cy="151.41" r="1.2" fill="#d95f02" fill-opacity="0.3"/>
<circle cx="466.01" cy="149.99" r="1.2" fill="#d95f02" fill-opacity="0.3"/>
<circle cx="466.08" cy="141.52" r="1.2" fill="#d95f02" fill-opacity="0.3"/>
<circle cx="467.48" cy="147.31" r="1.2" fill="#d95f02" fill-opacity="0.3"/>
<circle cx="463.81" cy="149.38" r="1.2" fill="#d95f02" fill-opacity="0.3"/>
<circle cx="463.96" cy="145.94" r="1.2" fill="#d95f02" fill-opacity="0.3"/>
<circle cx="464.85" cy="144.09" r="1.2" fill="#d95f02" fill-opacity="0.3"/>
<circle cx="465.27" cy="141.19" r="1.2" fill="#d95f02" fill-opacity="0.3"/>
<circle cx="467.81" cy="145.72" r="1.2" fill="#d95f02" fill-opacity="0.3"/>
<circle cx="464.37" cy="147.08" r="1.2" fill="#d95f02" fill-opacity="0.3"/>
<circle cx="465.31" cy="136.34" r="1.2" fill="#d95f02" fill-opacity="0.3"/>
<circle cx="466.11" cy="147.82" r="1.2" fill="#d95f02" fill-opacity="0.3"/>
<circle cx="467.09" cy="152.71" r="1.2" fill="#d95f02" fill-opacity="0.3"/>
<circle cx="465.3" cy="112.7" r="1.26" fill="#d95f02" fill-opacity="0.3"/>
<rect x="462.8" y="143.1" width="6.1" height="9.8" fill="none" stroke="#d95f02" stroke-width="0.6"/>
<line x1="465.9" y1="132.4" x2="465.9" y2="156.5" stroke="#d95f02" stroke-width="1.0"/>
<line x1="462.85" y1="132.4" x2="468.95" y2="132.4" stroke="#d95f02" stroke-width="1.0"/>
<line x1="462.85" y1="156.5" x2="468.95" y2="156.5" stroke="#d95f02" stroke-width="1.0"/>
<line x1="462.8" y1="147.8" x2="468.9" y2="147.8" stroke="#d95f02" stroke-width="1.0"/>
<circle cx="478.55" cy="145.71" r="1.2" fill="#1b9e77" fill-opacity="0.3"/>
<circle cx="481.47" cy="145.48" r="1.2" fill="#1b9e77" fill-opacity="0.3"/>
<circle cx="477.99" cy="143.88" r="1.2" fill="#1b9e77" fill-opacity="0.3"/>
<circle cx="481.74" cy="142.73" r="1.2" fill="#1b9e77" fill-opacity="0.3"/>
<circle cx="479.85" cy="151.21" r="1.2" fill="#1b9e77" fill-opacity="0.3"/>
<circle cx="481.59" cy="147.13" r="1.2" fill="#1b9e77" fill-opacity="0.3"/>
<circle cx="480.21" cy="140.18" r="1.2" fill="#1b9e77" fill-opacity="0.3"/>
<circle cx="480.59" cy="146.41" r="1.2" fill="#1b9e77" fill-opacity="0.3"/>
<circle cx="479.6" cy="146.72" r="1.2" fill="#1b9e77" fill-opacity="0.3"/>
<circle cx="482.14" cy="139.86" r="1.2" fill="#1b9e77" fill-opacity="0.3"/>
<circle cx="481.9" cy="139.77" r="1.2" fill="#1b9e77" fill-opacity="0.3"/>
<circle cx="481.75" cy="134.97" r="1.2" fill="#1b9e77" fill-opacity="0.3"/>
<circle cx="480.96" cy="155.63" r="1.2" fill="#1b9e77" fill-opacity="0.3"/>
<circle cx="481.44" cy="145.03" r="1.2" fill="#1b9e77" fill-opacity="0.3"/>
<circle cx="480.3" cy="126.3" r="1.26" fill="#1b9e77" fill-opacity="0.3"/>
<rect x="477.1" y="139.3" width="6.1" height="9.2" fill="none" stroke="#1b9e77" stroke-width="0.6"/>
<line x1="480.2" y1="132.4" x2="480.2" y2="157.3" stroke="#1b9e77" stroke-width="1.0"/>
<line x1="477.15" y1="132.4" x2="483.25" y2="132.4" stroke="#1b9e77" stroke-width="1.0"/>
<line x1="477.15" y1="157.3" x2="483.25" y2="157.3" stroke="#1b9e77" stroke-width="1.0"/>
<line x1="477.1" y1="143.4" x2="483.2" y2="143.4" stroke="#1b9e77" stroke-width="1.0"/>
<circle cx="487.92" cy="141.99" r="1.2" fill="#d95f02" fill-opacity="0.3"/>
<circle cx="484.42" cy="139.83" r="1.2" fill="#d95f02" fill-opacity="0.3"/>
<circle cx="484.96" cy="138.36" r="1.2" fill="#d95f02" fill-opacity="0.3"/>
<circle cx="487.21" cy="152.16" r="1.2" fill="#d95f02" fill-opacity="0.3"/>
<circle cx="487.2" cy="141.05" r="1.2" fill="#d95f02" fill-opacity="0.3"/>
<circle cx="487.83" cy="138.8" r="1.2" fill="#d95f02" fill-opacity="0.3"/>
<circle cx="484.59" cy="131.71" r="1.2" fill="#d95f02" fill-opacity="0.3"/>
<circle cx="484.75" cy="144.82" r="1.2" fill="#d95f02" fill-opacity="0.3"/>
<circle cx="484.45" cy="151.69" r="1.2" fill="#d95f02" fill-opacity="0.3"/>
<circle cx="488.15" cy="141.55" r="1.2" fill="#d95f02" fill-opacity="0.3"/>
<circle cx="485.34" cy="140.06" r="1.2" fill="#d95f02" fill-opacity="0.3"/>
<rect x="483.5" y="138.3" width="5.8" height="6.8" fill="none" stroke="#d95f02" stroke-width="0.6"/>
<line x1="486.4" y1="129.1" x2="486.4" y2="152.4" stroke="#d95f02" stroke-width="1.0"/>
<line x1="483.5" y1="129.1" x2="489.3" y2="129.1" stroke="#d95f02" stroke-width="1.0"/>
<line x1="483.5" y1="152.4" x2="489.3" y2="152.4" stroke="#d95f02" stroke-width="1.0"/>
<line x1="483.5" y1="140.2" x2="489.3" y2="140.2" stroke="#d95f02" stroke-width="1.0"/>
<path d="M466.4,115.4 L466.4,115.4 L486.9,115.4 L486.9,121.5" fill="none" stroke="#4a4a4a" stroke-width="0.75"/>
<text x="477.7" y="116.96" font-size="6" text-anchor="middle" font-weight="bold" fill="#1a1a1a">*</text>
<path d="M459.1,127.3 L459.1,118.9 L480,118.9 L480,121.5" fill="none" stroke="#4a4a4a" stroke-width="0.75"/>
<text x="470.4" y="120.46" font-size="6" text-anchor="middle" font-weight="bold" fill="#1a1a1a">*</text>
<path d="M462.8,122.2 L462.8,122.2 L483.5,122.2 L483.5,122.2" fill="none" stroke="#4a4a4a" stroke-width="0.75"/>
<text x="473" y="123.76" font-size="6" text-anchor="middle" font-weight="bold" fill="#1a1a1a">***</text>
<text x="438.6" y="137" font-size="4.2" text-anchor="middle" fill="#333" transform="rotate(-90 438.6 137)">CD8<tspan baseline-shift="35%" font-size="70%">+</tspan> PD-1<tspan baseline-shift="35%" font-size="70%">+</tspan> (MFI)</text>
<text x="462.5" y="165.4" font-size="4.2" text-anchor="middle" fill="#555">non-SD</text>
<text x="483.5" y="165.4" font-size="4.2" text-anchor="middle" fill="#555">SD</text>
<text x="499" y="13.6" font-size="12.6" font-weight="bold" fill="#000">h</text>
<rect x="631.3" y="17.1" width="12.2" height="12.25" fill="#9898d2"/>
<text x="637.38" y="25.8" font-size="5.6" text-anchor="middle" font-weight="bold" fill="#1a1a1a">****</text>
<text x="625.3" y="25.3" font-size="5.9" text-anchor="end" fill="#222">CXCL-10 (pg/mL)</text>
<line x1="626.9" y1="23.2" x2="628.3" y2="23.2" stroke="#444" stroke-width="0.5"/>
<rect x="619.15" y="29.3" width="12.2" height="12.25" fill="#cdcde9"/>
<text x="625.23" y="38" font-size="5.6" text-anchor="middle" font-weight="bold" fill="#1a1a1a">*</text>
<rect x="631.3" y="29.3" width="12.2" height="12.25" fill="#6b6bbd"/>
<text x="637.38" y="38" font-size="5.6" text-anchor="middle" font-weight="bold" fill="#1a1a1a">****</text>
<text x="613.15" y="37.5" font-size="5.9" text-anchor="end" fill="#222">Syndencan-1 (pg/mL)</text>
<line x1="614.75" y1="35.4" x2="616.15" y2="35.4" stroke="#444" stroke-width="0.5"/>
<rect x="607" y="41.5" width="12.2" height="12.25" fill="#6a6abd"/>
<text x="613.08" y="50.2" font-size="5.6" text-anchor="middle" font-weight="bold" fill="#1a1a1a">****</text>
<rect x="619.15" y="41.5" width="12.2" height="12.25" fill="#e8e8f3"/>
<rect x="631.3" y="41.5" width="12.2" height="12.25" fill="#7373c1"/>
<text x="637.38" y="50.2" font-size="5.6" text-anchor="middle" font-weight="bold" fill="#1a1a1a">****</text>
<text x="601" y="49.7" font-size="5.9" text-anchor="end" fill="#222">Angiopoietin-2 (pg/mL)</text>
<line x1="602.6" y1="47.6" x2="604" y2="47.6" stroke="#444" stroke-width="0.5"/>
<rect x="594.85" y="53.7" width="12.2" height="12.25" fill="#c9c9e7"/>
<text x="600.93" y="62.4" font-size="5.6" text-anchor="middle" font-weight="bold" fill="#1a1a1a">*</text>
<rect x="607" y="53.7" width="12.2" height="12.25" fill="#c9c9e7"/>
<text x="613.08" y="62.4" font-size="5.6" text-anchor="middle" font-weight="bold" fill="#1a1a1a">*</text>
<rect x="619.15" y="53.7" width="12.2" height="12.25" fill="#cbcbe8"/>
<text x="625.23" y="62.4" font-size="5.6" text-anchor="middle" font-weight="bold" fill="#1a1a1a">*</text>
<rect x="631.3" y="53.7" width="12.2" height="12.25" fill="#c6c6e6"/>
<text x="637.38" y="62.4" font-size="5.6" text-anchor="middle" font-weight="bold" fill="#1a1a1a">*</text>
<text x="588.85" y="61.9" font-size="5.9" text-anchor="end" fill="#222">Ferritin (ng/mL)</text>
<line x1="590.45" y1="59.8" x2="591.85" y2="59.8" stroke="#444" stroke-width="0.5"/>
<rect x="582.7" y="65.9" width="12.2" height="12.25" fill="#dedeee"/>
<rect x="594.85" y="65.9" width="12.2" height="12.25" fill="#fde6de"/>
<rect x="607" y="65.9" width="12.2" height="12.25" fill="#fde6de"/>
<rect x="619.15" y="65.9" width="12.2" height="12.25" fill="#ebebf5"/>
<rect x="631.3" y="65.9" width="12.2" height="12.25" fill="#fcd9cc"/>
<text x="576.7" y="74.1" font-size="5.9" text-anchor="end" fill="#222">Leptin (ng/mL)</text>
<line x1="578.3" y1="72" x2="579.7" y2="72" stroke="#444" stroke-width="0.5"/>
<rect x="570.55" y="78.1" width="12.2" height="12.25" fill="#fde4da"/>
<rect x="582.7" y="78.1" width="12.2" height="12.25" fill="#c4c4e4"/>
<text x="588.78" y="86.8" font-size="5.6" text-anchor="middle" font-weight="bold" fill="#1a1a1a">*</text>
<rect x="594.85" y="78.1" width="12.2" height="12.25" fill="#9c9cd4"/>
<text x="600.93" y="86.8" font-size="5.6" text-anchor="middle" font-weight="bold" fill="#1a1a1a">***</text>
<rect x="607" y="78.1" width="12.2" height="12.25" fill="#9c9cd4"/>
<text x="613.08" y="86.8" font-size="5.6" text-anchor="middle" font-weight="bold" fill="#1a1a1a">****</text>
<rect x="619.15" y="78.1" width="12.2" height="12.25" fill="#e6e6f2"/>
<rect x="631.3" y="78.1" width="12.2" height="12.25" fill="#9494d0"/>
<text x="637.38" y="86.8" font-size="5.6" text-anchor="middle" font-weight="bold" fill="#1a1a1a">****</text>
<text x="564.55" y="86.3" font-size="5.9" text-anchor="end" fill="#222">Plasma leak grade</text>
<line x1="566.15" y1="84.2" x2="567.55" y2="84.2" stroke="#444" stroke-width="0.5"/>
<rect x="558.4" y="90.3" width="12.2" height="12.25" fill="#ebebf5"/>
<rect x="570.55" y="90.3" width="12.2" height="12.25" fill="#f8b7a1"/>
<text x="576.63" y="99.8" font-size="7.6" text-anchor="middle" font-weight="bold" fill="#111">*</text>
<rect x="582.7" y="90.3" width="12.2" height="12.25" fill="#fdf0ea"/>
<rect x="594.85" y="90.3" width="12.2" height="12.25" fill="#d8d8ed"/>
<rect x="607" y="90.3" width="12.2" height="12.25" fill="#cfcfe9"/>
<text x="613.08" y="99.8" font-size="7.6" text-anchor="middle" font-weight="bold" fill="#111">*</text>
<rect x="619.15" y="90.3" width="12.2" height="12.25" fill="#c8c8e6"/>
<text x="625.23" y="99.8" font-size="7.6" text-anchor="middle" font-weight="bold" fill="#111">*</text>
<rect x="631.3" y="90.3" width="12.2" height="12.25" fill="#bdbde1"/>
<text x="637.38" y="99.8" font-size="7.6" text-anchor="middle" font-weight="bold" fill="#111">**</text>
<text x="552.4" y="98.5" font-size="5.9" text-anchor="end" fill="#222">CD38<tspan baseline-shift="35%" font-size="70%">+</tspan>HLA-DR<tspan baseline-shift="35%" font-size="70%">+</tspan> (%)</text>
<line x1="554" y1="96.4" x2="555.4" y2="96.4" stroke="#444" stroke-width="0.5"/>
<rect x="546.25" y="102.5" width="12.2" height="12.25" fill="#6e6ebf"/>
<text x="552.33" y="112" font-size="7.6" text-anchor="middle" font-weight="bold" fill="#111">****</text>
<rect x="558.4" y="102.5" width="12.2" height="12.25" fill="#8282c8"/>
<text x="564.48" y="112" font-size="7.6" text-anchor="middle" font-weight="bold" fill="#111">***</text>
<rect x="570.55" y="102.5" width="12.2" height="12.25" fill="#fdf0ea"/>
<rect x="582.7" y="102.5" width="12.2" height="12.25" fill="#c4c4e4"/>
<text x="588.78" y="112" font-size="7.6" text-anchor="middle" font-weight="bold" fill="#111">*</text>
<rect x="594.85" y="102.5" width="12.2" height="12.25" fill="#7a7ac5"/>
<text x="600.93" y="112" font-size="7.6" text-anchor="middle" font-weight="bold" fill="#111">****</text>
<rect x="607" y="102.5" width="12.2" height="12.25" fill="#8686ca"/>
<text x="613.08" y="112" font-size="7.6" text-anchor="middle" font-weight="bold" fill="#111">***</text>
<rect x="619.15" y="102.5" width="12.2" height="12.25" fill="#e8e8f3"/>
<rect x="631.3" y="102.5" width="12.2" height="12.25" fill="#6e6ebf"/>
<text x="637.38" y="112" font-size="7.6" text-anchor="middle" font-weight="bold" fill="#111">****</text>
<text x="540.25" y="110.7" font-size="5.9" text-anchor="end" fill="#222">PD-1<tspan baseline-shift="35%" font-size="70%">+</tspan> (MFI)</text>
<line x1="541.85" y1="108.6" x2="543.25" y2="108.6" stroke="#444" stroke-width="0.5"/>
<rect x="534.1" y="114.7" width="12.2" height="12.25" fill="#dfdfef"/>
<rect x="546.25" y="114.7" width="12.2" height="12.25" fill="#c4c4e4"/>
<text x="552.33" y="124.2" font-size="7.6" text-anchor="middle" font-weight="bold" fill="#111">*</text>
<rect x="558.4" y="114.7" width="12.2" height="12.25" fill="#f6ad96"/>
<text x="564.48" y="124.2" font-size="7.6" text-anchor="middle" font-weight="bold" fill="#111">**</text>
<rect x="570.55" y="114.7" width="12.2" height="12.25" fill="#f6f6fa"/>
<rect x="582.7" y="114.7" width="12.2" height="12.25" fill="#fde1d8"/>
<rect x="594.85" y="114.7" width="12.2" height="12.25" fill="#fffaf5"/>
<rect x="607" y="114.7" width="12.2" height="12.25" fill="#fbcbbb"/>
<rect x="619.15" y="114.7" width="12.2" height="12.25" fill="#fdeee8"/>
<rect x="631.3" y="114.7" width="12.2" height="12.25" fill="#fde5dc"/>
<text x="528.1" y="122.9" font-size="5.9" text-anchor="end" fill="#222">GzmB<tspan baseline-shift="35%" font-size="70%">+</tspan> (%)</text>
<line x1="529.7" y1="120.8" x2="531.1" y2="120.8" stroke="#444" stroke-width="0.5"/>
<line x1="540.18" y1="127.7" x2="540.18" y2="129.1" stroke="#444" stroke-width="0.5"/>
<text x="542.58" y="132.9" font-size="5.9" text-anchor="end" fill="#222" transform="rotate(-45 542.58 132.9)">PD-1<tspan baseline-shift="35%" font-size="70%">+</tspan> (MFI)</text>
<line x1="552.33" y1="127.7" x2="552.33" y2="129.1" stroke="#444" stroke-width="0.5"/>
<text x="554.73" y="132.9" font-size="5.9" text-anchor="end" fill="#222" transform="rotate(-45 554.73 132.9)">CD38<tspan baseline-shift="35%" font-size="70%">+</tspan>HLA-DR<tspan baseline-shift="35%" font-size="70%">+</tspan> (%)</text>
<line x1="564.48" y1="127.7" x2="564.48" y2="129.1" stroke="#444" stroke-width="0.5"/>
<text x="566.88" y="132.9" font-size="5.9" text-anchor="end" fill="#222" transform="rotate(-45 566.88 132.9)">Plasma leak grade</text>
<line x1="576.63" y1="127.7" x2="576.63" y2="129.1" stroke="#444" stroke-width="0.5"/>
<text x="579.03" y="132.9" font-size="5.9" text-anchor="end" fill="#222" transform="rotate(-45 579.03 132.9)">Leptin (ng/mL)</text>
<line x1="588.78" y1="127.7" x2="588.78" y2="129.1" stroke="#444" stroke-width="0.5"/>
<text x="591.18" y="132.9" font-size="5.9" text-anchor="end" fill="#222" transform="rotate(-45 591.18 132.9)">Ferritin (ng/mL)</text>
<line x1="600.93" y1="127.7" x2="600.93" y2="129.1" stroke="#444" stroke-width="0.5"/>
<text x="603.33" y="132.9" font-size="5.9" text-anchor="end" fill="#222" transform="rotate(-45 603.33 132.9)">Angiopoietin-2 (pg/mL)</text>
<line x1="613.08" y1="127.7" x2="613.08" y2="129.1" stroke="#444" stroke-width="0.5"/>
<text x="615.48" y="132.9" font-size="5.9" text-anchor="end" fill="#222" transform="rotate(-45 615.48 132.9)">Syndencan-1 (pg/mL)</text>
<line x1="625.23" y1="127.7" x2="625.23" y2="129.1" stroke="#444" stroke-width="0.5"/>
<text x="627.62" y="132.9" font-size="5.9" text-anchor="end" fill="#222" transform="rotate(-45 627.62 132.9)">CXCL-10 (pg/mL)</text>
<line x1="637.38" y1="127.7" x2="637.38" y2="129.1" stroke="#444" stroke-width="0.5"/>
<text x="639.78" y="132.9" font-size="5.9" text-anchor="end" fill="#222" transform="rotate(-45 639.78 132.9)">VCAM-1 (pg/mL)</text>
<text x="668" y="36.6" font-size="5.0" text-anchor="middle" font-weight="bold" fill="#111">sample sizes:</text>
<text x="668" y="41.8" font-size="3.6" text-anchor="middle" fill="#333">n<tspan font-size="2.5">TP1</tspan> = 94</text>
<text x="668" y="46.2" font-size="3.6" text-anchor="middle" fill="#333">n<tspan font-size="2.5">TP2/TP1</tspan> = 100</text>
<text x="668" y="51" font-size="3.6" text-anchor="middle" fill="#333">n<tspan font-size="2.5">TP2</tspan> = 101</text>
<text x="668" y="58.6" font-size="5.2" text-anchor="middle" font-weight="bold" fill="#111">correlation:</text>
<text x="668" y="65" font-size="5.0" text-anchor="middle" fill="#222">Spearman</text>
<defs><linearGradient id="hgr" x1="0" y1="0" x2="0" y2="1"><stop offset="0" stop-color="#2b3a9f"/><stop offset="0.25" stop-color="#8f8fd0"/><stop offset="0.5" stop-color="#ffffff"/><stop offset="0.75" stop-color="#f7a58c"/><stop offset="1" stop-color="#c81e1e"/></linearGradient></defs>
<rect x="651.9" y="70.7" width="8.4" height="42.2" fill="url(#hgr)"/>
<text x="663.5" y="72.9" font-size="4.0" fill="#555">1.0</text>
<line x1="651.9" y1="71.5" x2="653.4" y2="71.5" stroke="#fff" stroke-width="0.4"/>
<line x1="658.8" y1="71.5" x2="660.3" y2="71.5" stroke="#fff" stroke-width="0.4"/>
<text x="663.5" y="83.2" font-size="4.0" fill="#555">0.5</text>
<line x1="651.9" y1="81.8" x2="653.4" y2="81.8" stroke="#fff" stroke-width="0.4"/>
<line x1="658.8" y1="81.8" x2="660.3" y2="81.8" stroke="#fff" stroke-width="0.4"/>
<text x="663.5" y="93.5" font-size="4.0" fill="#555">0.0</text>
<line x1="651.9" y1="92.1" x2="653.4" y2="92.1" stroke="#fff" stroke-width="0.4"/>
<line x1="658.8" y1="92.1" x2="660.3" y2="92.1" stroke="#fff" stroke-width="0.4"/>
<text x="663.5" y="103.8" font-size="4.0" fill="#555">-0.5</text>
<line x1="651.9" y1="102.4" x2="653.4" y2="102.4" stroke="#fff" stroke-width="0.4"/>
<line x1="658.8" y1="102.4" x2="660.3" y2="102.4" stroke="#fff" stroke-width="0.4"/>
<text x="663.5" y="114" font-size="4.0" fill="#555">-1.0</text>
<line x1="651.9" y1="112.6" x2="653.4" y2="112.6" stroke="#fff" stroke-width="0.4"/>
<line x1="658.8" y1="112.6" x2="660.3" y2="112.6" stroke="#fff" stroke-width="0.4"/>
<text x="5.3" y="197.6" font-size="12.6" font-weight="bold" fill="#000">i</text>
<circle cx="34.1" cy="195.2" r="3.9" fill="#6e6e6e"/>
<text x="41.3" y="199.4" font-size="9.8" font-weight="bold" fill="#111">TP1</text>
<circle cx="68.6" cy="195.2" r="3.9" fill="#a0133f"/>
<text x="75.8" y="199.4" font-size="9.8" font-weight="bold" fill="#111">TP2</text>
<line x1="28" y1="210.5" x2="28" y2="295.6" stroke="#333" stroke-width="0.7"/>
<line x1="28" y1="295.6" x2="114.7" y2="295.6" stroke="#333" stroke-width="0.7"/>
<line x1="26.5" y1="234.4" x2="28" y2="234.4" stroke="#333" stroke-width="0.5"/>
<text x="25.8" y="236" font-size="4.6" text-anchor="end" fill="#555">6000</text>
<line x1="26.5" y1="260.6" x2="28" y2="260.6" stroke="#333" stroke-width="0.5"/>
<text x="25.8" y="262.2" font-size="4.6" text-anchor="end" fill="#555">4000</text>
<line x1="26.5" y1="286.2" x2="28" y2="286.2" stroke="#333" stroke-width="0.5"/>
<text x="25.8" y="287.8" font-size="4.6" text-anchor="end" fill="#555">2000</text>
<line x1="42.6" y1="295.6" x2="42.6" y2="297.1" stroke="#333" stroke-width="0.5"/>
<text x="42.6" y="301.8" font-size="4.6" text-anchor="middle" fill="#555">2500</text>
<line x1="58.9" y1="295.6" x2="58.9" y2="297.1" stroke="#333" stroke-width="0.5"/>
<text x="58.9" y="301.8" font-size="4.6" text-anchor="middle" fill="#555">5000</text>
<line x1="75.1" y1="295.6" x2="75.1" y2="297.1" stroke="#333" stroke-width="0.5"/>
<text x="75.1" y="301.8" font-size="4.6" text-anchor="middle" fill="#555">7500</text>
<line x1="93.4" y1="295.6" x2="93.4" y2="297.1" stroke="#333" stroke-width="0.5"/>
<text x="93.4" y="301.8" font-size="4.6" text-anchor="middle" fill="#555">10000</text>
<line x1="109.6" y1="295.6" x2="109.6" y2="297.1" stroke="#333" stroke-width="0.5"/>
<text x="109.6" y="301.8" font-size="4.6" text-anchor="middle" fill="#555">12500</text>
<text x="71.85" y="307.9" font-size="5.8" text-anchor="middle" fill="#222">Angiopoietin-2 [pg/mL]</text>
<text x="12.3" y="251.5" font-size="5.9" text-anchor="middle" fill="#222" transform="rotate(-90 12.3 251.5)">CD8<tspan baseline-shift="35%" font-size="70%">+</tspan> PD-1<tspan baseline-shift="35%" font-size="70%">+</tspan> (MFI)</text>
<path d="M33,270.6 L39.46,269.05 L45.92,267.25 L52.38,265.19 L58.83,262.87 L65.29,260.29 L71.75,257.45 L78.21,254.35 L84.67,251 L91.12,247.39 L97.58,243.52 L104.04,239.39 L110.5,235 L110.5,253 L104.04,253.63 L97.58,254.52 L91.12,255.66 L84.67,257.07 L78.21,258.73 L71.75,260.65 L65.29,262.83 L58.83,265.27 L52.38,267.96 L45.92,270.92 L39.46,274.13 L33,277.6 Z" fill="#cfcfcf" fill-opacity="0.85"/>
<path d="M31.4,282 L34.88,281.86 L38.37,281.62 L41.85,281.28 L45.33,280.83 L48.82,280.29 L52.3,279.65 L55.78,278.91 L59.27,278.07 L62.75,277.12 L66.23,276.08 L69.72,274.94 L73.2,273.7 L73.2,280.9 L69.72,280.88 L66.23,280.95 L62.75,281.12 L59.27,281.4 L55.78,281.78 L52.3,282.25 L48.82,282.82 L45.33,283.5 L41.85,284.28 L38.37,285.15 L34.88,286.12 L31.4,287.2 Z" fill="#cfcfcf" fill-opacity="0.85"/>
<circle cx="36.74" cy="285.11" r="1.35" fill="#6e6e6e"/>
<circle cx="53.16" cy="282.1" r="1.35" fill="#6e6e6e"/>
<circle cx="45.45" cy="285.8" r="1.35" fill="#6e6e6e"/>
<circle cx="32.57" cy="288.97" r="1.35" fill="#6e6e6e"/>
<circle cx="34.68" cy="291.22" r="1.35" fill="#6e6e6e"/>
<circle cx="37.24" cy="293.5" r="1.35" fill="#6e6e6e"/>
<circle cx="36.92" cy="287.01" r="1.35" fill="#6e6e6e"/>
<circle cx="45.54" cy="287.73" r="1.35" fill="#6e6e6e"/>
<circle cx="38.55" cy="288.56" r="1.35" fill="#6e6e6e"/>
<circle cx="37.55" cy="290.07" r="1.35" fill="#6e6e6e"/>
<circle cx="36.63" cy="287.4" r="1.35" fill="#6e6e6e"/>
<circle cx="38.71" cy="287" r="1.35" fill="#6e6e6e"/>
<circle cx="45.29" cy="288.68" r="1.35" fill="#6e6e6e"/>
<circle cx="37.28" cy="281.77" r="1.35" fill="#6e6e6e"/>
<circle cx="38.41" cy="283.73" r="1.35" fill="#6e6e6e"/>
<circle cx="38.61" cy="288.17" r="1.35" fill="#6e6e6e"/>
<circle cx="43.27" cy="287.84" r="1.35" fill="#6e6e6e"/>
<circle cx="42.16" cy="285.47" r="1.35" fill="#6e6e6e"/>
<circle cx="39.98" cy="285.01" r="1.35" fill="#6e6e6e"/>
<circle cx="46.47" cy="285.36" r="1.35" fill="#6e6e6e"/>
<circle cx="43.87" cy="285.31" r="1.35" fill="#6e6e6e"/>
<circle cx="32.51" cy="287.47" r="1.35" fill="#6e6e6e"/>
<circle cx="32.55" cy="287.84" r="1.35" fill="#6e6e6e"/>
<circle cx="39.87" cy="289.62" r="1.35" fill="#6e6e6e"/>
<circle cx="32.29" cy="283.8" r="1.35" fill="#6e6e6e"/>
<circle cx="37.54" cy="283.05" r="1.35" fill="#6e6e6e"/>
<circle cx="51.43" cy="284" r="1.35" fill="#6e6e6e"/>
<circle cx="38.59" cy="291.85" r="1.35" fill="#6e6e6e"/>
<circle cx="36.49" cy="281.65" r="1.35" fill="#6e6e6e"/>
<circle cx="35.19" cy="286.42" r="1.35" fill="#6e6e6e"/>
<circle cx="40.03" cy="286.23" r="1.35" fill="#6e6e6e"/>
<circle cx="50.26" cy="281.94" r="1.35" fill="#6e6e6e"/>
<circle cx="33.66" cy="285.23" r="1.35" fill="#6e6e6e"/>
<circle cx="35.74" cy="280.98" r="1.35" fill="#6e6e6e"/>
<circle cx="37.45" cy="280.75" r="1.35" fill="#6e6e6e"/>
<circle cx="34.99" cy="287.95" r="1.35" fill="#6e6e6e"/>
<circle cx="73.2" cy="270" r="1.4" fill="#6e6e6e"/>
<circle cx="62" cy="288.5" r="1.4" fill="#6e6e6e"/>
<circle cx="66.5" cy="283" r="1.4" fill="#6e6e6e"/>
<circle cx="56" cy="287" r="1.4" fill="#6e6e6e"/>
<circle cx="49" cy="289.8" r="1.4" fill="#6e6e6e"/>
<circle cx="36.26" cy="265.4" r="1.35" fill="#a0133f"/>
<circle cx="40.83" cy="269.96" r="1.35" fill="#a0133f"/>
<circle cx="36.13" cy="273.42" r="1.35" fill="#a0133f"/>
<circle cx="53.53" cy="267.24" r="1.35" fill="#a0133f"/>
<circle cx="33.65" cy="278.47" r="1.35" fill="#a0133f"/>
<circle cx="47.54" cy="269.52" r="1.35" fill="#a0133f"/>
<circle cx="33.73" cy="278.18" r="1.35" fill="#a0133f"/>
<circle cx="35.18" cy="287.9" r="1.35" fill="#a0133f"/>
<circle cx="53.3" cy="279.14" r="1.35" fill="#a0133f"/>
<circle cx="31.5" cy="281.4" r="1.35" fill="#a0133f"/>
<circle cx="55.09" cy="282.25" r="1.35" fill="#a0133f"/>
<circle cx="39.34" cy="271.49" r="1.35" fill="#a0133f"/>
<circle cx="44.71" cy="278.65" r="1.35" fill="#a0133f"/>
<circle cx="32.81" cy="275.98" r="1.35" fill="#a0133f"/>
<circle cx="46.04" cy="263.42" r="1.35" fill="#a0133f"/>
<circle cx="45.3" cy="275.29" r="1.35" fill="#a0133f"/>
<circle cx="34.22" cy="271.72" r="1.35" fill="#a0133f"/>
<circle cx="33.85" cy="285.79" r="1.35" fill="#a0133f"/>
<circle cx="44.39" cy="270.79" r="1.35" fill="#a0133f"/>
<circle cx="44.58" cy="286.53" r="1.35" fill="#a0133f"/>
<circle cx="35.44" cy="285.41" r="1.35" fill="#a0133f"/>
<circle cx="40.26" cy="270.49" r="1.35" fill="#a0133f"/>
<circle cx="38.81" cy="276.49" r="1.35" fill="#a0133f"/>
<circle cx="37.2" cy="276.89" r="1.35" fill="#a0133f"/>
<circle cx="38.82" cy="279.04" r="1.35" fill="#a0133f"/>
<circle cx="39.7" cy="279.87" r="1.35" fill="#a0133f"/>
<circle cx="39.91" cy="266.24" r="1.35" fill="#a0133f"/>
<circle cx="35.52" cy="270.16" r="1.35" fill="#a0133f"/>
<circle cx="38.73" cy="267.96" r="1.35" fill="#a0133f"/>
<circle cx="41.12" cy="280.17" r="1.35" fill="#a0133f"/>
<circle cx="38.38" cy="283.95" r="1.35" fill="#a0133f"/>
<circle cx="32.28" cy="271.98" r="1.35" fill="#a0133f"/>
<circle cx="42.63" cy="276.72" r="1.35" fill="#a0133f"/>
<circle cx="32.42" cy="278.53" r="1.35" fill="#a0133f"/>
<circle cx="64.4" cy="274.05" r="1.35" fill="#a0133f"/>
<circle cx="32.25" cy="269.82" r="1.35" fill="#a0133f"/>
<circle cx="35.85" cy="271.32" r="1.35" fill="#a0133f"/>
<circle cx="38.15" cy="259.67" r="1.35" fill="#a0133f"/>
<circle cx="33.29" cy="269.3" r="1.35" fill="#a0133f"/>
<circle cx="56.22" cy="268.56" r="1.35" fill="#a0133f"/>
<circle cx="42.08" cy="276.43" r="1.35" fill="#a0133f"/>
<circle cx="39.91" cy="276.19" r="1.35" fill="#a0133f"/>
<circle cx="36.05" cy="273.31" r="1.35" fill="#a0133f"/>
<circle cx="31.89" cy="264.06" r="1.35" fill="#a0133f"/>
<circle cx="47.14" cy="276.39" r="1.35" fill="#a0133f"/>
<circle cx="33.07" cy="285.78" r="1.35" fill="#a0133f"/>
<circle cx="42.39" cy="257.33" r="1.35" fill="#a0133f"/>
<circle cx="34.48" cy="270.52" r="1.35" fill="#a0133f"/>
<circle cx="32.28" cy="273.15" r="1.35" fill="#a0133f"/>
<circle cx="34.09" cy="269.7" r="1.35" fill="#a0133f"/>
<circle cx="32.27" cy="281.56" r="1.35" fill="#a0133f"/>
<circle cx="35.57" cy="287.21" r="1.35" fill="#a0133f"/>
<circle cx="38.08" cy="277.84" r="1.35" fill="#a0133f"/>
<circle cx="33.79" cy="279.92" r="1.35" fill="#a0133f"/>
<circle cx="33.33" cy="267.91" r="1.35" fill="#a0133f"/>
<circle cx="43.55" cy="261.62" r="1.35" fill="#a0133f"/>
<circle cx="34.4" cy="276.76" r="1.35" fill="#a0133f"/>
<circle cx="36.44" cy="282.89" r="1.35" fill="#a0133f"/>
<circle cx="36.83" cy="261.3" r="1.35" fill="#a0133f"/>
<circle cx="39.37" cy="274.47" r="1.35" fill="#a0133f"/>
<circle cx="52.97" cy="262.64" r="1.35" fill="#a0133f"/>
<circle cx="44.17" cy="286.49" r="1.35" fill="#a0133f"/>
<circle cx="75.6" cy="213.4" r="1.4" fill="#a0133f"/>
<circle cx="70" cy="235" r="1.4" fill="#a0133f"/>
<circle cx="65.5" cy="240.8" r="1.4" fill="#a0133f"/>
<circle cx="80.4" cy="246" r="1.4" fill="#a0133f"/>
<circle cx="93.3" cy="248.1" r="1.4" fill="#a0133f"/>
<circle cx="103" cy="246.5" r="1.4" fill="#a0133f"/>
<circle cx="100.2" cy="258.5" r="1.4" fill="#a0133f"/>
<circle cx="110.5" cy="269.9" r="1.4" fill="#a0133f"/>
<circle cx="35.4" cy="251.3" r="1.4" fill="#a0133f"/>
<circle cx="41.9" cy="255.1" r="1.4" fill="#a0133f"/>
<circle cx="53.9" cy="256.1" r="1.4" fill="#a0133f"/>
<circle cx="69.7" cy="257.2" r="1.4" fill="#a0133f"/>
<circle cx="67.1" cy="260.4" r="1.4" fill="#a0133f"/>
<circle cx="59.6" cy="258.5" r="1.4" fill="#a0133f"/>
<circle cx="68" cy="275" r="1.4" fill="#a0133f"/>
<circle cx="65" cy="281" r="1.4" fill="#a0133f"/>
<line x1="33" y1="274.1" x2="110.5" y2="244" stroke="#a0133f" stroke-width="1.0"/>
<line x1="31.4" y1="284.6" x2="73.2" y2="277.3" stroke="#555" stroke-width="1.0"/>
<text x="31.5" y="219.6" font-size="5.75" fill="#777"><tspan font-style="italic">R</tspan> = 0.36, <tspan font-style="italic">p</tspan> = 0.018</text>
<text x="31.5" y="227.1" font-size="5.75" fill="#a0133f"><tspan font-style="italic">R</tspan> = 0.46, <tspan font-style="italic">p</tspan> = 9.5e-06</text>
<text x="3" y="316.1" font-size="12" font-weight="bold" fill="#000">j</text>
<line x1="27.6" y1="321.6" x2="27.6" y2="405.9" stroke="#333" stroke-width="0.7"/>
<line x1="27.6" y1="405.9" x2="113" y2="405.9" stroke="#333" stroke-width="0.7"/>
<line x1="26.1" y1="345.6" x2="27.6" y2="345.6" stroke="#333" stroke-width="0.5"/>
<text x="25.4" y="347.2" font-size="4.6" text-anchor="end" fill="#555">6000</text>
<line x1="26.1" y1="371" x2="27.6" y2="371" stroke="#333" stroke-width="0.5"/>
<text x="25.4" y="372.6" font-size="4.6" text-anchor="end" fill="#555">4000</text>
<line x1="26.1" y1="397.2" x2="27.6" y2="397.2" stroke="#333" stroke-width="0.5"/>
<text x="25.4" y="398.8" font-size="4.6" text-anchor="end" fill="#555">2000</text>
<line x1="29.8" y1="405.9" x2="29.8" y2="407.4" stroke="#333" stroke-width="0.5"/>
<text x="29.8" y="412.1" font-size="4.6" text-anchor="middle" fill="#555">0e+00</text>
<line x1="51.7" y1="405.9" x2="51.7" y2="407.4" stroke="#333" stroke-width="0.5"/>
<text x="51.7" y="412.1" font-size="4.6" text-anchor="middle" fill="#555">1e+07</text>
<line x1="73.2" y1="405.9" x2="73.2" y2="407.4" stroke="#333" stroke-width="0.5"/>
<text x="73.2" y="412.1" font-size="4.6" text-anchor="middle" fill="#555">2e+07</text>
<line x1="94.6" y1="405.9" x2="94.6" y2="407.4" stroke="#333" stroke-width="0.5"/>
<text x="94.6" y="412.1" font-size="4.6" text-anchor="middle" fill="#555">3e+07</text>
<text x="70.8" y="418.3" font-size="5.8" text-anchor="middle" fill="#222">VCAM-1 [pg/mL]</text>
<text x="12" y="361.5" font-size="5.9" text-anchor="middle" fill="#222" transform="rotate(-90 12 361.5)">CD8<tspan baseline-shift="35%" font-size="70%">+</tspan> PD-1<tspan baseline-shift="35%" font-size="70%">+</tspan> (MFI)</text>
<path d="M32.5,384.6 L38.92,382.94 L45.35,381.02 L51.77,378.84 L58.2,376.39 L64.62,373.68 L71.05,370.7 L77.47,367.46 L83.9,363.96 L90.32,360.19 L96.75,356.16 L103.17,351.86 L109.6,347.3 L109.6,366.3 L103.17,366.87 L96.75,367.71 L90.32,368.81 L83.9,370.18 L77.47,371.81 L71.05,373.7 L64.62,375.86 L58.2,378.28 L51.77,380.96 L45.35,383.91 L38.92,387.12 L32.5,390.6 Z" fill="#cfcfcf" fill-opacity="0.85"/>
<path d="M30.5,391.3 L32.96,391.07 L35.42,390.75 L37.88,390.35 L40.33,389.87 L42.79,389.3 L45.25,388.65 L47.71,387.92 L50.17,387.1 L52.62,386.2 L55.08,385.22 L57.54,384.15 L60,383 L60,389 L57.54,389.1 L55.08,389.28 L52.62,389.55 L50.17,389.9 L47.71,390.33 L45.25,390.85 L42.79,391.45 L40.33,392.13 L37.88,392.9 L35.42,393.75 L32.96,394.68 L30.5,395.7 Z" fill="#cfcfcf" fill-opacity="0.85"/>
<circle cx="50" cy="389.85" r="1.3" fill="#6e6e6e"/>
<circle cx="52.73" cy="385.43" r="1.3" fill="#6e6e6e"/>
<circle cx="33.78" cy="390.78" r="1.3" fill="#6e6e6e"/>
<circle cx="37.83" cy="395.35" r="1.3" fill="#6e6e6e"/>
<circle cx="36.03" cy="396.54" r="1.3" fill="#6e6e6e"/>
<circle cx="42.9" cy="396.13" r="1.3" fill="#6e6e6e"/>
<circle cx="48.84" cy="396.24" r="1.3" fill="#6e6e6e"/>
<circle cx="43.39" cy="395.02" r="1.3" fill="#6e6e6e"/>
<circle cx="44.4" cy="392.05" r="1.3" fill="#6e6e6e"/>
<circle cx="36.65" cy="395.52" r="1.3" fill="#6e6e6e"/>
<circle cx="47.58" cy="397.25" r="1.3" fill="#6e6e6e"/>
<circle cx="49.36" cy="399.32" r="1.3" fill="#6e6e6e"/>
<circle cx="49.59" cy="391.58" r="1.3" fill="#6e6e6e"/>
<circle cx="39.4" cy="393.03" r="1.3" fill="#6e6e6e"/>
<circle cx="51.39" cy="397.18" r="1.3" fill="#6e6e6e"/>
<circle cx="45.35" cy="395.53" r="1.3" fill="#6e6e6e"/>
<circle cx="44.63" cy="395.18" r="1.3" fill="#6e6e6e"/>
<circle cx="30.64" cy="401.91" r="1.3" fill="#6e6e6e"/>
<circle cx="48.49" cy="390.53" r="1.3" fill="#6e6e6e"/>
<circle cx="44.1" cy="393.44" r="1.3" fill="#6e6e6e"/>
<circle cx="43.01" cy="392.85" r="1.3" fill="#6e6e6e"/>
<circle cx="33.03" cy="396.5" r="1.3" fill="#6e6e6e"/>
<circle cx="40.49" cy="392.58" r="1.3" fill="#6e6e6e"/>
<circle cx="31.31" cy="399.48" r="1.3" fill="#6e6e6e"/>
<circle cx="34.74" cy="398" r="1.3" fill="#6e6e6e"/>
<circle cx="51.71" cy="400.61" r="1.3" fill="#6e6e6e"/>
<circle cx="35.17" cy="394.77" r="1.3" fill="#6e6e6e"/>
<circle cx="51.54" cy="387.8" r="1.3" fill="#6e6e6e"/>
<circle cx="31.9" cy="399.42" r="1.3" fill="#6e6e6e"/>
<circle cx="39.28" cy="397.82" r="1.3" fill="#6e6e6e"/>
<circle cx="49.54" cy="389.59" r="1.3" fill="#6e6e6e"/>
<circle cx="35.09" cy="402.8" r="1.3" fill="#6e6e6e"/>
<circle cx="35.98" cy="391.46" r="1.3" fill="#6e6e6e"/>
<circle cx="37.98" cy="398.05" r="1.3" fill="#6e6e6e"/>
<circle cx="44.08" cy="396.01" r="1.3" fill="#6e6e6e"/>
<circle cx="35.87" cy="394.74" r="1.3" fill="#6e6e6e"/>
<circle cx="46.33" cy="392.26" r="1.3" fill="#6e6e6e"/>
<circle cx="40.62" cy="395.41" r="1.3" fill="#6e6e6e"/>
<circle cx="39.51" cy="397.73" r="1.3" fill="#6e6e6e"/>
<circle cx="31.12" cy="397.94" r="1.3" fill="#6e6e6e"/>
<circle cx="47.91" cy="395.96" r="1.3" fill="#6e6e6e"/>
<circle cx="43.44" cy="397.2" r="1.3" fill="#6e6e6e"/>
<circle cx="48.46" cy="371.18" r="1.3" fill="#a0133f"/>
<circle cx="60.82" cy="377.78" r="1.3" fill="#a0133f"/>
<circle cx="51.26" cy="374.96" r="1.3" fill="#a0133f"/>
<circle cx="37.77" cy="395.57" r="1.3" fill="#a0133f"/>
<circle cx="44.17" cy="383.89" r="1.3" fill="#a0133f"/>
<circle cx="57.38" cy="377.1" r="1.3" fill="#a0133f"/>
<circle cx="58.41" cy="380.68" r="1.3" fill="#a0133f"/>
<circle cx="45.9" cy="372.75" r="1.3" fill="#a0133f"/>
<circle cx="45.91" cy="379.37" r="1.3" fill="#a0133f"/>
<circle cx="39.54" cy="383.64" r="1.3" fill="#a0133f"/>
<circle cx="40.41" cy="383.35" r="1.3" fill="#a0133f"/>
<circle cx="37.34" cy="385.16" r="1.3" fill="#a0133f"/>
<circle cx="42.27" cy="400.36" r="1.3" fill="#a0133f"/>
<circle cx="34.45" cy="383.98" r="1.3" fill="#a0133f"/>
<circle cx="41.8" cy="384.84" r="1.3" fill="#a0133f"/>
<circle cx="48.55" cy="378.35" r="1.3" fill="#a0133f"/>
<circle cx="32.9" cy="385.35" r="1.3" fill="#a0133f"/>
<circle cx="46.25" cy="390" r="1.3" fill="#a0133f"/>
<circle cx="37.97" cy="384.92" r="1.3" fill="#a0133f"/>
<circle cx="45.68" cy="373.53" r="1.3" fill="#a0133f"/>
<circle cx="55.61" cy="364.53" r="1.3" fill="#a0133f"/>
<circle cx="60.07" cy="352.14" r="1.3" fill="#a0133f"/>
<circle cx="38.18" cy="387.09" r="1.3" fill="#a0133f"/>
<circle cx="37.73" cy="376.69" r="1.3" fill="#a0133f"/>
<circle cx="66.86" cy="355.59" r="1.3" fill="#a0133f"/>
<circle cx="46.52" cy="393.55" r="1.3" fill="#a0133f"/>
<circle cx="41.18" cy="375.7" r="1.3" fill="#a0133f"/>
<circle cx="48.33" cy="387.91" r="1.3" fill="#a0133f"/>
<circle cx="69" cy="377.15" r="1.3" fill="#a0133f"/>
<circle cx="44.8" cy="379.09" r="1.3" fill="#a0133f"/>
<circle cx="54.79" cy="369.53" r="1.3" fill="#a0133f"/>
<circle cx="34.95" cy="384.07" r="1.3" fill="#a0133f"/>
<circle cx="50.88" cy="395.67" r="1.3" fill="#a0133f"/>
<circle cx="71.48" cy="377.08" r="1.3" fill="#a0133f"/>
<circle cx="59.84" cy="375.09" r="1.3" fill="#a0133f"/>
<circle cx="48.35" cy="384.59" r="1.3" fill="#a0133f"/>
<circle cx="46.57" cy="386.58" r="1.3" fill="#a0133f"/>
<circle cx="52.15" cy="370.79" r="1.3" fill="#a0133f"/>
<circle cx="44.2" cy="384.02" r="1.3" fill="#a0133f"/>
<circle cx="57" cy="374.37" r="1.3" fill="#a0133f"/>
<circle cx="48.61" cy="386.65" r="1.3" fill="#a0133f"/>
<circle cx="58.13" cy="371" r="1.3" fill="#a0133f"/>
<circle cx="36.99" cy="396.73" r="1.3" fill="#a0133f"/>
<circle cx="35.59" cy="392.18" r="1.3" fill="#a0133f"/>
<circle cx="33.15" cy="398.81" r="1.3" fill="#a0133f"/>
<circle cx="33.4" cy="371.09" r="1.3" fill="#a0133f"/>
<circle cx="44.17" cy="380.84" r="1.3" fill="#a0133f"/>
<circle cx="43.48" cy="385.48" r="1.3" fill="#a0133f"/>
<circle cx="63.82" cy="377.51" r="1.3" fill="#a0133f"/>
<circle cx="41.52" cy="388.66" r="1.3" fill="#a0133f"/>
<circle cx="41.69" cy="395.44" r="1.3" fill="#a0133f"/>
<circle cx="45.64" cy="380.19" r="1.3" fill="#a0133f"/>
<circle cx="51.03" cy="392.53" r="1.3" fill="#a0133f"/>
<circle cx="35.15" cy="392.71" r="1.3" fill="#a0133f"/>
<circle cx="47.98" cy="391.05" r="1.3" fill="#a0133f"/>
<circle cx="64.77" cy="372.85" r="1.3" fill="#a0133f"/>
<circle cx="34.12" cy="396.24" r="1.3" fill="#a0133f"/>
<circle cx="41.18" cy="387.77" r="1.3" fill="#a0133f"/>
<circle cx="48.54" cy="376.97" r="1.3" fill="#a0133f"/>
<circle cx="52.25" cy="382.84" r="1.3" fill="#a0133f"/>
<circle cx="39.86" cy="385.07" r="1.3" fill="#a0133f"/>
<circle cx="44.07" cy="377.82" r="1.3" fill="#a0133f"/>
<circle cx="46.83" cy="387.16" r="1.3" fill="#a0133f"/>
<circle cx="46.55" cy="395.14" r="1.3" fill="#a0133f"/>
<circle cx="55.26" cy="371.82" r="1.3" fill="#a0133f"/>
<circle cx="39.6" cy="390.81" r="1.3" fill="#a0133f"/>
<circle cx="34.52" cy="380.22" r="1.3" fill="#a0133f"/>
<circle cx="32.32" cy="394.81" r="1.3" fill="#a0133f"/>
<circle cx="37.92" cy="377.14" r="1.3" fill="#a0133f"/>
<circle cx="61.78" cy="384.18" r="1.3" fill="#a0133f"/>
<circle cx="65.14" cy="388.8" r="1.3" fill="#a0133f"/>
<circle cx="46.22" cy="366.65" r="1.3" fill="#a0133f"/>
<circle cx="41.97" cy="392.9" r="1.3" fill="#a0133f"/>
<circle cx="59.17" cy="375.28" r="1.3" fill="#a0133f"/>
<circle cx="49.7" cy="324.7" r="1.4" fill="#a0133f"/>
<circle cx="109.6" cy="346" r="1.4" fill="#a0133f"/>
<circle cx="54.8" cy="352.1" r="1.4" fill="#a0133f"/>
<circle cx="65" cy="357.2" r="1.4" fill="#a0133f"/>
<circle cx="66" cy="357.2" r="1.4" fill="#a0133f"/>
<circle cx="51" cy="359" r="1.4" fill="#a0133f"/>
<circle cx="79" cy="369" r="1.4" fill="#a0133f"/>
<circle cx="77" cy="370.5" r="1.4" fill="#a0133f"/>
<circle cx="74" cy="379" r="1.4" fill="#a0133f"/>
<circle cx="75" cy="381" r="1.4" fill="#a0133f"/>
<circle cx="80.5" cy="376.5" r="1.4" fill="#a0133f"/>
<circle cx="65.8" cy="376" r="1.4" fill="#a0133f"/>
<circle cx="68.5" cy="399.5" r="1.4" fill="#a0133f"/>
<circle cx="71.5" cy="399" r="1.4" fill="#a0133f"/>
<circle cx="92.5" cy="370.6" r="1.4" fill="#a0133f"/>
<circle cx="85" cy="370" r="1.4" fill="#a0133f"/>
<line x1="32.5" y1="387.6" x2="109.6" y2="356.8" stroke="#a0133f" stroke-width="1.0"/>
<line x1="30.5" y1="393.5" x2="60" y2="386" stroke="#555" stroke-width="1.0"/>
<text x="31.5" y="331" font-size="5.75" fill="#777"><tspan font-style="italic">R</tspan> = 0.4, <tspan font-style="italic">p</tspan> = 0.0088</text>
<text x="31.5" y="338.1" font-size="5.75" fill="#a0133f"><tspan font-style="italic">R</tspan> = 0.5, <tspan font-style="italic">p</tspan> = 1.1e-06</text>
<defs><filter id="bl08" x="-50%" y="-50%" width="200%" height="200%"><feGaussianBlur stdDeviation="0.7"/></filter><filter id="bl15" x="-50%" y="-50%" width="200%" height="200%"><feGaussianBlur stdDeviation="1.5"/></filter><filter id="bl2" x="-50%" y="-50%" width="200%" height="200%"><feGaussianBlur stdDeviation="2"/></filter><filter id="bl3" x="-50%" y="-50%" width="200%" height="200%"><feGaussianBlur stdDeviation="3"/></filter></defs>
<defs><clipPath id="umG"><path d="M31,28.4 L34.7,22.8 L39.4,18.6 L45.9,16.3 L55.2,16.8 L63.6,19.1 L68.7,23.8 L69.2,29.3 L66.4,34.9 L62.6,39.6 L58,42.4 L55.2,47 L51.5,52.6 L45.9,58.2 L43.6,57.2 L41.3,48.9 L39.4,43.3 L35.7,40.5 L32,35.8 Z"/></clipPath><clipPath id="umL"><path d="M16.9,7.8 L26,7.2 L30.6,11.5 L31,18 L29.5,25 L30,31 L33,35 L36.5,39.5 L38,44.3 L37.2,49.5 L35.2,54.7 L36.5,58.6 L36.8,65.1 L31.3,69.4 L26,68.2 L23.3,62 L23,58 L16.9,58.6 L10.4,57.2 L7,52.5 L5.4,46 L5.6,38 L7.2,33 L8.6,28 L8.4,22 L9.4,16.5 L12.5,12.5 Z"/></clipPath><pattern id="speck" width="8" height="8" patternUnits="userSpaceOnUse"><circle cx="2.6" cy="1.2" r="0.45" fill="#fff" fill-opacity="0.55"/><circle cx="5.2" cy="0.6" r="0.45" fill="#fff" fill-opacity="0.55"/><circle cx="4.3" cy="2.9" r="0.45" fill="#fff" fill-opacity="0.55"/><circle cx="0.5" cy="4.1" r="0.45" fill="#fff" fill-opacity="0.55"/><circle cx="0.3" cy="3.5" r="0.45" fill="#fff" fill-opacity="0.55"/><circle cx="0.6" cy="0.7" r="0.45" fill="#fff" fill-opacity="0.55"/><circle cx="3.4" cy="6.6" r="0.45" fill="#fff" fill-opacity="0.55"/><circle cx="1.0" cy="1.8" r="0.45" fill="#fff" fill-opacity="0.55"/><circle cx="5.0" cy="7.6" r="0.45" fill="#fff" fill-opacity="0.55"/><circle cx="4.6" cy="3.2" r="0.45" fill="#fff" fill-opacity="0.55"/><circle cx="7.8" cy="0.4" r="0.45" fill="#fff" fill-opacity="0.55"/><circle cx="6.9" cy="2.3" r="0.45" fill="#fff" fill-opacity="0.55"/><circle cx="1.2" cy="0.9" r="0.45" fill="#fff" fill-opacity="0.55"/><circle cx="2.5" cy="6.5" r="0.45" fill="#fff" fill-opacity="0.55"/></pattern><pattern id="speckw" width="8" height="8" patternUnits="userSpaceOnUse"><circle cx="1.4" cy="4.7" r="0.35" fill="#fff" fill-opacity="0.35"/><circle cx="5.1" cy="3.0" r="0.35" fill="#fff" fill-opacity="0.35"/><circle cx="4.4" cy="0.5" r="0.35" fill="#fff" fill-opacity="0.35"/><circle cx="0.5" cy="1.6" r="0.35" fill="#fff" fill-opacity="0.35"/><circle cx="5.4" cy="3.4" r="0.35" fill="#fff" fill-opacity="0.35"/><circle cx="2.5" cy="4.7" r="0.35" fill="#fff" fill-opacity="0.35"/></pattern></defs>
<text x="108.6" y="197.8" font-size="12.6" font-weight="bold" fill="#000">k</text>
<text x="193.2" y="192.3" font-size="9.8" text-anchor="middle" font-weight="bold" fill="#111">non-SD</text>
<text x="278.4" y="192.3" font-size="9.8" text-anchor="middle" font-weight="bold" fill="#111">SD</text>
<text x="130.6" y="236.9" font-size="11" text-anchor="middle" font-weight="bold" fill="#111">TP1</text>
<text x="129.9" y="323.1" font-size="11" text-anchor="middle" font-weight="bold" fill="#111">TP2</text>
<line x1="147.7" y1="257.5" x2="147.7" y2="322.2" stroke="#111" stroke-width="1.0"/>
<path d="M147.7,254.6 L145.5,259.6 L149.9,259.6 Z" fill="#111"/>
<text x="151.4" y="344" font-size="9.6" text-anchor="middle" fill="#222" transform="rotate(-90 151.4 344)">UMAP2</text>
<text x="154.5" y="368.4" font-size="9.6" fill="#222">UMAP1</text>
<line x1="193.3" y1="364.3" x2="258.5" y2="364.3" stroke="#111" stroke-width="1.0"/>
<path d="M261.6,364.3 L256.6,362.1 L256.6,366.5 Z" fill="#111"/>
<rect x="154.7" y="195.2" width="76.9" height="76.3" fill="#fff" stroke="#cfcfcf" stroke-width="0.7"/>
<g transform="translate(154.7,195.2)">
<g clip-path="url(#umG)">
<rect x="25" y="10" width="50" height="55" fill="#e6e6e6"/>
<ellipse cx="56" cy="28" rx="12" ry="10" fill="#acacac" filter="url(#bl3)" fill-opacity="1.0"/>
<ellipse cx="44" cy="50" rx="6" ry="8" fill="#cdcdcd" filter="url(#bl2)"/>
<rect x="25" y="10" width="50" height="55" fill="url(#speck)"/>
</g>
<g clip-path="url(#umL)">
<rect x="0" y="0" width="45" height="75" fill="#c89496"/>
<ellipse cx="8.5" cy="42" rx="5.5" ry="15" fill="#7a0000" filter="url(#bl08)" fill-opacity="1"/>
<ellipse cx="14" cy="57" rx="7.5" ry="3" fill="#000000" filter="url(#bl08)" fill-opacity="1"/>
<ellipse cx="30" cy="64" rx="8" ry="7.5" fill="#ffbb88" filter="url(#bl08)" fill-opacity="1"/>
<ellipse cx="32" cy="45" rx="7" ry="15" fill="#c89496" filter="url(#bl08)" fill-opacity="1"/>
<ellipse cx="20" cy="49" rx="8" ry="7" fill="#55ee22" filter="url(#bl08)" fill-opacity="1"/>
<ellipse cx="18.5" cy="35" rx="7.5" ry="9" fill="#ffff00" filter="url(#bl08)" fill-opacity="1"/>
<ellipse cx="25" cy="31" rx="3" ry="2.5" fill="#00a500" filter="url(#bl08)" fill-opacity="1"/>
<ellipse cx="17" cy="20" rx="11" ry="8.5" fill="#e00000" filter="url(#bl08)" fill-opacity="1"/>
<ellipse cx="24.5" cy="11" rx="8" ry="5.5" fill="#ffffff" filter="url(#bl08)" fill-opacity="1"/>
<ellipse cx="24.5" cy="11" rx="8" ry="5.5" fill="#a7bfdc" filter="url(#bl08)" fill-opacity="0.75"/>
<ellipse cx="27" cy="26" rx="2.2" ry="2.5" fill="#a800b8" filter="url(#bl08)" fill-opacity="1"/>
<rect x="0" y="0" width="45" height="75" fill="url(#speckw)"/>
</g>
<ellipse cx="39" cy="46.3" rx="2.6" ry="1.8" fill="#b35a00" filter="url(#bl08)" fill-opacity="1"/>
</g>
<text x="229" y="269.2" font-size="7.8" text-anchor="end" fill="#151515">N=31</text>
<rect x="240.2" y="195.2" width="76.9" height="76.3" fill="#fff" stroke="#cfcfcf" stroke-width="0.7"/>
<g transform="translate(240.2,195.2)">
<g clip-path="url(#umG)">
<rect x="25" y="10" width="50" height="55" fill="#e6e6e6"/>
<ellipse cx="56" cy="28" rx="12" ry="10" fill="#acacac" filter="url(#bl3)" fill-opacity="1.0"/>
<ellipse cx="44" cy="50" rx="6" ry="8" fill="#cdcdcd" filter="url(#bl2)"/>
<rect x="25" y="10" width="50" height="55" fill="url(#speck)"/>
</g>
<g clip-path="url(#umL)">
<rect x="0" y="0" width="45" height="75" fill="#c89496"/>
<ellipse cx="9" cy="43" rx="5.2" ry="13" fill="#7a0000" filter="url(#bl08)" fill-opacity="1"/>
<ellipse cx="14.3" cy="57" rx="7.5" ry="3" fill="#000000" filter="url(#bl08)" fill-opacity="1"/>
<ellipse cx="30" cy="64" rx="8" ry="7.5" fill="#ffbb88" filter="url(#bl08)" fill-opacity="1"/>
<ellipse cx="32" cy="46" rx="7" ry="14" fill="#c89496" filter="url(#bl08)" fill-opacity="1"/>
<ellipse cx="20" cy="47.5" rx="8" ry="6.5" fill="#55ee22" filter="url(#bl08)" fill-opacity="1"/>
<ellipse cx="19" cy="36" rx="7" ry="7.5" fill="#ffff00" filter="url(#bl08)" fill-opacity="1"/>
<ellipse cx="26" cy="30.6" rx="2.5" ry="2.5" fill="#00a500" filter="url(#bl08)" fill-opacity="1"/>
<ellipse cx="17" cy="21.5" rx="10.5" ry="8" fill="#e00000" filter="url(#bl08)" fill-opacity="0.88"/>
<ellipse cx="25.4" cy="12" rx="6.5" ry="5.5" fill="#4ea0f2" filter="url(#bl08)" fill-opacity="1"/>
<ellipse cx="27.4" cy="22.1" rx="2.8" ry="4" fill="#a800b8" filter="url(#bl08)" fill-opacity="1"/>
<rect x="0" y="0" width="45" height="75" fill="url(#speckw)"/>
</g>
<ellipse cx="39" cy="46.9" rx="2.4" ry="1.8" fill="#b35a00" filter="url(#bl08)" fill-opacity="1"/>
</g>
<text x="314.5" y="269.2" font-size="7.8" text-anchor="end" fill="#151515">N=11</text>
<rect x="154.7" y="280.4" width="76.9" height="76.3" fill="#fff" stroke="#cfcfcf" stroke-width="0.7"/>
<g transform="translate(154.7,280.4)">
<g clip-path="url(#umG)">
<rect x="25" y="10" width="50" height="55" fill="#e6e6e6"/>
<ellipse cx="56" cy="28" rx="12" ry="10" fill="#acacac" filter="url(#bl3)" fill-opacity="0.6"/>
<ellipse cx="44" cy="50" rx="6" ry="8" fill="#cdcdcd" filter="url(#bl2)"/>
<rect x="25" y="10" width="50" height="55" fill="url(#speck)"/>
</g>
<g clip-path="url(#umL)">
<rect x="0" y="0" width="45" height="75" fill="#c89496"/>
<ellipse cx="8.5" cy="42" rx="5" ry="12.5" fill="#7a0000" filter="url(#bl08)" fill-opacity="1"/>
<ellipse cx="14" cy="56.5" rx="7.5" ry="3" fill="#000000" filter="url(#bl08)" fill-opacity="1"/>
<ellipse cx="11.5" cy="50.5" rx="5" ry="3" fill="#0000dd" filter="url(#bl08)" fill-opacity="1"/>
<ellipse cx="31" cy="49.5" rx="7" ry="10" fill="#c89496" filter="url(#bl08)" fill-opacity="1"/>
<ellipse cx="29.3" cy="63.5" rx="8" ry="7" fill="#ffbb88" filter="url(#bl08)" fill-opacity="1"/>
<ellipse cx="21.5" cy="48.5" rx="6.5" ry="6" fill="#55ee22" filter="url(#bl08)" fill-opacity="1"/>
<ellipse cx="17.5" cy="36.5" rx="7" ry="10" fill="#ffff00" filter="url(#bl08)" fill-opacity="1"/>
<ellipse cx="28.5" cy="27.5" rx="3" ry="6" fill="#6a00d8" filter="url(#bl08)" fill-opacity="1"/>
<ellipse cx="24" cy="31" rx="5.5" ry="4.5" fill="#00a500" filter="url(#bl08)" fill-opacity="1"/>
<ellipse cx="13" cy="20" rx="7.5" ry="8" fill="#e00000" filter="url(#bl08)" fill-opacity="1"/>
<ellipse cx="25" cy="12.2" rx="8" ry="6.5" fill="#4ea0f2" filter="url(#bl08)" fill-opacity="1"/>
<ellipse cx="24.5" cy="22" rx="5.5" ry="6" fill="#a800b8" filter="url(#bl08)" fill-opacity="1"/>
<rect x="0" y="0" width="45" height="75" fill="url(#speckw)"/>
</g>
<ellipse cx="39.1" cy="46.3" rx="2.6" ry="1.8" fill="#b35a00" filter="url(#bl08)" fill-opacity="1"/>
<ellipse cx="19.5" cy="62.5" rx="1" ry="1" fill="#ff88c8" filter="url(#bl08)" fill-opacity="1"/>
</g>
<text x="229" y="354.4" font-size="7.8" text-anchor="end" fill="#151515">N=57</text>
<rect x="240.2" y="280.4" width="76.9" height="76.3" fill="#fff" stroke="#cfcfcf" stroke-width="0.7"/>
<g transform="translate(240.2,280.4)">
<g clip-path="url(#umG)">
<rect x="25" y="10" width="50" height="55" fill="#e6e6e6"/>
<ellipse cx="56" cy="28" rx="12" ry="10" fill="#acacac" filter="url(#bl3)" fill-opacity="0.6"/>
<ellipse cx="44" cy="50" rx="6" ry="8" fill="#cdcdcd" filter="url(#bl2)"/>
<rect x="25" y="10" width="50" height="55" fill="url(#speck)"/>
</g>
<g clip-path="url(#umL)">
<rect x="0" y="0" width="45" height="75" fill="#c89496"/>
<ellipse cx="8.5" cy="42" rx="5" ry="13" fill="#7a0000" filter="url(#bl08)" fill-opacity="1"/>
<ellipse cx="15" cy="56" rx="7.5" ry="3" fill="#000000" filter="url(#bl08)" fill-opacity="1"/>
<ellipse cx="31.5" cy="47" rx="6.5" ry="11" fill="#c89496" filter="url(#bl08)" fill-opacity="1"/>
<ellipse cx="29.4" cy="63" rx="7.5" ry="6.5" fill="#ffbb88" filter="url(#bl08)" fill-opacity="0.85"/>
<ellipse cx="20.5" cy="47.5" rx="7" ry="6.5" fill="#55ee22" filter="url(#bl08)" fill-opacity="1"/>
<ellipse cx="19" cy="35.5" rx="7" ry="10" fill="#ffff00" filter="url(#bl08)" fill-opacity="1"/>
<ellipse cx="29.5" cy="27" rx="2.5" ry="5" fill="#6a00d8" filter="url(#bl08)" fill-opacity="1"/>
<ellipse cx="25" cy="31" rx="3" ry="2.5" fill="#00a500" filter="url(#bl08)" fill-opacity="1"/>
<ellipse cx="14.5" cy="20.5" rx="7" ry="8.5" fill="#e00000" filter="url(#bl08)" fill-opacity="1"/>
<ellipse cx="25" cy="12.2" rx="8" ry="6.5" fill="#4ea0f2" filter="url(#bl08)" fill-opacity="1"/>
<ellipse cx="25" cy="23" rx="6" ry="7.5" fill="#a800b8" filter="url(#bl08)" fill-opacity="1"/>
<rect x="0" y="0" width="45" height="75" fill="url(#speckw)"/>
</g>
<ellipse cx="39.1" cy="46.3" rx="2.4" ry="1.8" fill="#b35a00" filter="url(#bl08)" fill-opacity="1"/>
<ellipse cx="19.9" cy="61.3" rx="1" ry="1" fill="#ff88c8" filter="url(#bl08)" fill-opacity="1"/>
</g>
<text x="314.5" y="354.4" font-size="7.8" text-anchor="end" fill="#151515">N=27</text>
<rect x="322.7" y="195.2" width="9.5" height="8.9" fill="#00a500"/>
<text x="333.4" y="203.4" font-size="9.8" font-weight="bold" fill="#111">16</text>
<rect x="322.7" y="205.53" width="9.5" height="8.9" fill="#a7bfdc"/>
<text x="333.4" y="213.73" font-size="9.8" font-weight="bold" fill="#111">15</text>
<rect x="322.7" y="215.86" width="9.5" height="8.9" fill="#ff88c8"/>
<text x="333.4" y="224.06" font-size="9.8" font-weight="bold" fill="#111">14</text>
<rect x="322.7" y="226.19" width="9.5" height="8.9" fill="#6a00d8"/>
<text x="333.4" y="234.39" font-size="9.8" font-weight="bold" fill="#111">13</text>
<rect x="322.7" y="236.52" width="9.5" height="8.9" fill="#b35a00"/>
<text x="333.4" y="244.72" font-size="9.8" font-weight="bold" fill="#111">12</text>
<rect x="322.7" y="246.85" width="9.5" height="8.9" fill="#a800b8"/>
<text x="333.4" y="255.05" font-size="9.8" font-weight="bold" fill="#111">11</text>
<rect x="322.7" y="257.18" width="9.5" height="8.9" fill="#4ea0f2"/>
<text x="333.4" y="265.38" font-size="9.8" font-weight="bold" fill="#111">10</text>
<rect x="322.7" y="267.51" width="9.5" height="8.9" fill="#b2b2b2"/>
<text x="333.4" y="275.71" font-size="9.8" font-weight="bold" fill="#111">9</text>
<rect x="322.7" y="277.84" width="9.5" height="8.9" fill="#ffff00"/>
<text x="333.4" y="286.04" font-size="9.8" font-weight="bold" fill="#111">8</text>
<rect x="322.7" y="288.17" width="9.5" height="8.9" fill="#e00000"/>
<text x="333.4" y="296.37" font-size="9.8" font-weight="bold" fill="#111">7</text>
<rect x="322.7" y="298.5" width="9.5" height="8.9" fill="#ffbb88"/>
<text x="333.4" y="306.7" font-size="9.8" font-weight="bold" fill="#111">6</text>
<rect x="322.7" y="308.83" width="9.5" height="8.9" fill="#c89496"/>
<text x="333.4" y="317.03" font-size="9.8" font-weight="bold" fill="#111">5</text>
<rect x="322.7" y="319.16" width="9.5" height="8.9" fill="#0000dd"/>
<text x="333.4" y="327.36" font-size="9.8" font-weight="bold" fill="#111">4</text>
<rect x="322.7" y="329.49" width="9.5" height="8.9" fill="#55ee22"/>
<text x="333.4" y="337.69" font-size="9.8" font-weight="bold" fill="#111">3</text>
<rect x="322.7" y="339.82" width="9.5" height="8.9" fill="#7a0000"/>
<text x="333.4" y="348.02" font-size="9.8" font-weight="bold" fill="#111">2</text>
<rect x="322.7" y="350.15" width="9.5" height="8.9" fill="#000000"/>
<text x="333.4" y="358.35" font-size="9.8" font-weight="bold" fill="#111">1</text>
<defs><clipPath id="silc"><path d="M12.6,4.6 L16.3,5.5 L18.6,8.7 L19.9,12.3 L21.8,9.6 L23.6,11 L29.1,10.5 L35.5,11.9 L40,14.2 L41.7,17.8 L41,22.4 L38.2,26.1 L35,28.8 L33.6,33.4 L30,37 L26.3,37.9 L24.5,34.7 L23.1,37.9 L21.8,42.5 L19.5,45.7 L16.7,46.2 L14.4,43.4 L13.5,39.8 L11.7,40.7 L8.9,37 L5.3,35.2 L4.4,31.5 L4.8,26 L6.2,21.5 L5.3,16.9 L5.8,11.4 L8.9,6.4 Z"/></clipPath><linearGradient id="g_pd1" x1="0" y1="0" x2="0" y2="1"><stop offset="0" stop-color="#f28a18"/><stop offset="0.3" stop-color="#f2d81a"/><stop offset="0.5" stop-color="#d8ee1a"/><stop offset="0.65" stop-color="#2ee02a"/><stop offset="1" stop-color="#22d822"/></linearGradient><linearGradient id="g_cd69" x1="0" y1="0" x2="0" y2="1"><stop offset="0" stop-color="#58e41e"/><stop offset="0.6" stop-color="#2edc22"/><stop offset="0.8" stop-color="#a8e41a"/><stop offset="1" stop-color="#f2a21c"/></linearGradient><linearGradient id="g_gzmb" x1="0" y1="0" x2="0" y2="1"><stop offset="0" stop-color="#f2d21c"/><stop offset="0.3" stop-color="#ece21c"/><stop offset="0.65" stop-color="#d4e81c"/><stop offset="1" stop-color="#8ee41c"/></linearGradient><linearGradient id="g_right" x1="0" y1="0" x2="1" y2="0"><stop offset="0" stop-color="#3ed824"/><stop offset="1" stop-color="#1ebe36"/></linearGradient></defs>
<rect x="134.1" y="375.4" width="45.1" height="50.9" fill="#fff" stroke="#cfcfcf" stroke-width="0.7"/>
<g transform="translate(134.1,375.4)"><g clip-path="url(#silc)">
<rect x="0" y="0" width="21" height="50" fill="url(#g_pd1)"/>
<rect x="20.5" y="0" width="25" height="50" fill="url(#g_right)"/>
<path d="M19,30 L27,19 L28,21 L21,32 Z" fill="#d8ea1c" fill-opacity="0.8"/>
<ellipse cx="6" cy="33" rx="2.5" ry="1.3" fill="#1a4ad8"/>
</g>
<path d="M19.9,12.3 L21.8,9.6 L23.2,10.8 L21.2,16 Z" fill="#1a3ad0"/>
</g>
<text x="177.6" y="423.7" font-size="7.0" text-anchor="end" fill="#222">PD-1</text>
<rect x="182.2" y="375.4" width="45.1" height="50.9" fill="#fff" stroke="#cfcfcf" stroke-width="0.7"/>
<g transform="translate(182.2,375.4)"><g clip-path="url(#silc)">
<rect x="0" y="0" width="21" height="50" fill="url(#g_cd69)"/>
<rect x="20.5" y="0" width="25" height="50" fill="url(#g_right)"/>
<ellipse cx="27" cy="36" rx="2.5" ry="3" fill="#f2a21c"/>
<ellipse cx="6" cy="33" rx="2.5" ry="1.3" fill="#1a4ad8"/>
</g>
<path d="M19.9,12.3 L21.8,9.6 L23.2,10.8 L21.2,16 Z" fill="#1a3ad0"/>
</g>
<text x="225.7" y="423.7" font-size="7.0" text-anchor="end" fill="#222">CD69</text>
<rect x="229.4" y="375.4" width="45.1" height="50.9" fill="#fff" stroke="#cfcfcf" stroke-width="0.7"/>
<g transform="translate(229.4,375.4)"><g clip-path="url(#silc)">
<rect x="0" y="0" width="21" height="50" fill="url(#g_gzmb)"/>
<rect x="20.5" y="0" width="25" height="50" fill="url(#g_right)"/>
<ellipse cx="9" cy="12" rx="3" ry="4" fill="#f2b81c" fill-opacity="0.6"/>
<ellipse cx="23" cy="21" rx="1.6" ry="3" fill="#e8e41c"/>
</g>
<path d="M19.9,12.3 L21.8,9.6 L23.2,10.8 L21.2,16 Z" fill="#1a3ad0"/>
</g>
<text x="272.9" y="423.7" font-size="7.0" text-anchor="end" fill="#222">GzmB</text>
<rect x="276.9" y="375.4" width="45.1" height="50.9" fill="#fff" stroke="#cfcfcf" stroke-width="0.7"/>
<g transform="translate(276.9,375.4)"><g clip-path="url(#silc)">
<rect x="0" y="0" width="21" height="50" fill="#44d82a"/>
<rect x="20.5" y="0" width="25" height="50" fill="#20c03a"/>
</g>
<path d="M19.9,12.3 L21.8,9.6 L23.2,10.8 L21.2,16 Z" fill="#1a3ad0"/>
</g>
<text x="320.4" y="423.7" font-size="7.0" text-anchor="end" fill="#222">perforin</text>
<defs><linearGradient id="g_rb" x1="0" y1="0" x2="0" y2="1"><stop offset="0" stop-color="#ff1a1a"/><stop offset="0.25" stop-color="#ff9a1a"/><stop offset="0.42" stop-color="#f2f21a"/><stop offset="0.62" stop-color="#2ee02a"/><stop offset="0.8" stop-color="#1aa0a0"/><stop offset="1" stop-color="#1a1aff"/></linearGradient></defs>
<rect x="327.6" y="378.7" width="3.8" height="45.4" fill="url(#g_rb)"/>
<text x="329.5" y="377.6" font-size="2.2" text-anchor="middle" fill="#333">High</text>
<text x="329.5" y="427" font-size="2.2" text-anchor="middle" fill="#333">Low</text>
<text x="335.5" y="401.4" font-size="3.4" text-anchor="middle" fill="#333" transform="rotate(-90 335.5 401.4)">Expression levels</text>
<text x="354.3" y="197.6" font-size="12.6" font-weight="bold" fill="#000">l</text>
<rect x="388.6" y="205.6" width="246" height="142.8" fill="#fff"/>
<line x1="388.6" y1="342.8" x2="634.6" y2="342.8" stroke="#ebebeb" stroke-width="0.6"/>
<line x1="388.6" y1="310.18" x2="634.6" y2="310.18" stroke="#ebebeb" stroke-width="0.6"/>
<line x1="388.6" y1="277.55" x2="634.6" y2="277.55" stroke="#ebebeb" stroke-width="0.6"/>
<line x1="388.6" y1="244.93" x2="634.6" y2="244.93" stroke="#ebebeb" stroke-width="0.6"/>
<line x1="388.6" y1="212.3" x2="634.6" y2="212.3" stroke="#ebebeb" stroke-width="0.6"/>
<line x1="388.6" y1="326.49" x2="634.6" y2="326.49" stroke="#f4f4f4" stroke-width="0.5"/>
<line x1="388.6" y1="293.86" x2="634.6" y2="293.86" stroke="#f4f4f4" stroke-width="0.5"/>
<line x1="388.6" y1="261.24" x2="634.6" y2="261.24" stroke="#f4f4f4" stroke-width="0.5"/>
<line x1="388.6" y1="228.61" x2="634.6" y2="228.61" stroke="#f4f4f4" stroke-width="0.5"/>
<line x1="397.1" y1="205.6" x2="397.1" y2="348.4" stroke="#ebebeb" stroke-width="0.6"/>
<line x1="412.32" y1="205.6" x2="412.32" y2="348.4" stroke="#ebebeb" stroke-width="0.6"/>
<line x1="427.54" y1="205.6" x2="427.54" y2="348.4" stroke="#ebebeb" stroke-width="0.6"/>
<line x1="442.76" y1="205.6" x2="442.76" y2="348.4" stroke="#ebebeb" stroke-width="0.6"/>
<line x1="457.98" y1="205.6" x2="457.98" y2="348.4" stroke="#ebebeb" stroke-width="0.6"/>
<line x1="473.2" y1="205.6" x2="473.2" y2="348.4" stroke="#ebebeb" stroke-width="0.6"/>
<line x1="488.42" y1="205.6" x2="488.42" y2="348.4" stroke="#ebebeb" stroke-width="0.6"/>
<line x1="503.64" y1="205.6" x2="503.64" y2="348.4" stroke="#ebebeb" stroke-width="0.6"/>
<line x1="518.86" y1="205.6" x2="518.86" y2="348.4" stroke="#ebebeb" stroke-width="0.6"/>
<line x1="534.08" y1="205.6" x2="534.08" y2="348.4" stroke="#ebebeb" stroke-width="0.6"/>
<line x1="549.3" y1="205.6" x2="549.3" y2="348.4" stroke="#ebebeb" stroke-width="0.6"/>
<line x1="564.52" y1="205.6" x2="564.52" y2="348.4" stroke="#ebebeb" stroke-width="0.6"/>
<line x1="579.74" y1="205.6" x2="579.74" y2="348.4" stroke="#ebebeb" stroke-width="0.6"/>
<line x1="594.96" y1="205.6" x2="594.96" y2="348.4" stroke="#ebebeb" stroke-width="0.6"/>
<line x1="610.18" y1="205.6" x2="610.18" y2="348.4" stroke="#ebebeb" stroke-width="0.6"/>
<line x1="625.4" y1="205.6" x2="625.4" y2="348.4" stroke="#ebebeb" stroke-width="0.6"/>
<rect x="390.25" y="212.3" width="13.7" height="49.59" fill="#7f7f7f" fill-opacity="0.98"/>
<rect x="390.25" y="261.89" width="13.7" height="43.46" fill="#c4c4c4"/>
<rect x="390.25" y="305.35" width="13.7" height="19.84" fill="#a15b60"/>
<rect x="390.25" y="325.18" width="13.7" height="17.62" fill="#e5a5a8"/>
<line x1="397.1" y1="212.3" x2="397.1" y2="342.8" stroke="#000" stroke-width="0.4" stroke-opacity="0.08"/>
<line x1="390.25" y1="305.35" x2="403.95" y2="305.35" stroke="#333" stroke-width="0.6" stroke-dasharray="0.8,0.8"/>
<rect x="405.47" y="212.3" width="13.7" height="57.68" fill="#7f7f7f" fill-opacity="0.98"/>
<rect x="405.47" y="269.98" width="13.7" height="41.11" fill="#c4c4c4"/>
<rect x="405.47" y="311.09" width="13.7" height="18.66" fill="#a15b60"/>
<rect x="405.47" y="329.75" width="13.7" height="13.05" fill="#e5a5a8"/>
<line x1="412.32" y1="212.3" x2="412.32" y2="342.8" stroke="#000" stroke-width="0.4" stroke-opacity="0.08"/>
<line x1="405.47" y1="311.09" x2="419.17" y2="311.09" stroke="#333" stroke-width="0.6" stroke-dasharray="0.8,0.8"/>
<rect x="420.69" y="212.3" width="13.7" height="45.54" fill="#7f7f7f" fill-opacity="0.98"/>
<rect x="420.69" y="257.84" width="13.7" height="30.28" fill="#c4c4c4"/>
<rect x="420.69" y="288.12" width="13.7" height="33.02" fill="#a15b60"/>
<rect x="420.69" y="321.14" width="13.7" height="21.66" fill="#e5a5a8"/>
<line x1="427.54" y1="212.3" x2="427.54" y2="342.8" stroke="#000" stroke-width="0.4" stroke-opacity="0.08"/>
<line x1="420.69" y1="288.12" x2="434.39" y2="288.12" stroke="#333" stroke-width="0.6" stroke-dasharray="0.8,0.8"/>
<rect x="435.91" y="212.3" width="13.7" height="6.66" fill="#7f7f7f" fill-opacity="0.98"/>
<rect x="435.91" y="218.96" width="13.7" height="4.05" fill="#c4c4c4"/>
<rect x="435.91" y="223" width="13.7" height="114.06" fill="#a15b60"/>
<rect x="435.91" y="337.06" width="13.7" height="5.74" fill="#e5a5a8"/>
<line x1="442.76" y1="212.3" x2="442.76" y2="342.8" stroke="#000" stroke-width="0.4" stroke-opacity="0.08"/>
<line x1="435.91" y1="223" x2="449.61" y2="223" stroke="#333" stroke-width="0.6" stroke-dasharray="0.8,0.8"/>
<rect x="451.13" y="212.3" width="13.7" height="43.2" fill="#7f7f7f" fill-opacity="0.98"/>
<rect x="451.13" y="255.5" width="13.7" height="36.02" fill="#c4c4c4"/>
<rect x="451.13" y="291.51" width="13.7" height="27.4" fill="#a15b60"/>
<rect x="451.13" y="318.92" width="13.7" height="23.88" fill="#e5a5a8"/>
<line x1="457.98" y1="212.3" x2="457.98" y2="342.8" stroke="#000" stroke-width="0.4" stroke-opacity="0.08"/>
<line x1="451.13" y1="291.51" x2="464.83" y2="291.51" stroke="#333" stroke-width="0.6" stroke-dasharray="0.8,0.8"/>
<rect x="466.35" y="212.3" width="13.7" height="54.81" fill="#7f7f7f" fill-opacity="0.98"/>
<rect x="466.35" y="267.11" width="13.7" height="53.24" fill="#c4c4c4"/>
<rect x="466.35" y="320.35" width="13.7" height="15.27" fill="#a15b60"/>
<rect x="466.35" y="335.62" width="13.7" height="7.18" fill="#e5a5a8"/>
<line x1="473.2" y1="212.3" x2="473.2" y2="342.8" stroke="#000" stroke-width="0.4" stroke-opacity="0.08"/>
<line x1="466.35" y1="320.35" x2="480.05" y2="320.35" stroke="#333" stroke-width="0.6" stroke-dasharray="0.8,0.8"/>
<rect x="481.57" y="212.3" width="13.7" height="9.27" fill="#7f7f7f" fill-opacity="0.98"/>
<rect x="481.57" y="221.57" width="13.7" height="12.4" fill="#c4c4c4"/>
<rect x="481.57" y="233.96" width="13.7" height="51.29" fill="#a15b60"/>
<rect x="481.57" y="285.25" width="13.7" height="57.55" fill="#e5a5a8"/>
<line x1="488.42" y1="212.3" x2="488.42" y2="342.8" stroke="#000" stroke-width="0.4" stroke-opacity="0.08"/>
<line x1="481.57" y1="233.96" x2="495.27" y2="233.96" stroke="#333" stroke-width="0.6" stroke-dasharray="0.8,0.8"/>
<rect x="496.79" y="212.3" width="13.7" height="36.54" fill="#7f7f7f" fill-opacity="0.98"/>
<rect x="496.79" y="248.84" width="13.7" height="21.92" fill="#c4c4c4"/>
<rect x="496.79" y="270.76" width="13.7" height="34.32" fill="#a15b60"/>
<rect x="496.79" y="305.09" width="13.7" height="37.71" fill="#e5a5a8"/>
<line x1="503.64" y1="212.3" x2="503.64" y2="342.8" stroke="#000" stroke-width="0.4" stroke-opacity="0.08"/>
<line x1="496.79" y1="270.76" x2="510.49" y2="270.76" stroke="#333" stroke-width="0.6" stroke-dasharray="0.8,0.8"/>
<rect x="512.01" y="212.3" width="13.7" height="32.62" fill="#7f7f7f" fill-opacity="0.98"/>
<rect x="512.01" y="244.93" width="13.7" height="38.5" fill="#c4c4c4"/>
<rect x="512.01" y="283.42" width="13.7" height="27.67" fill="#a15b60"/>
<rect x="512.01" y="311.09" width="13.7" height="31.71" fill="#e5a5a8"/>
<line x1="518.86" y1="212.3" x2="518.86" y2="342.8" stroke="#000" stroke-width="0.4" stroke-opacity="0.08"/>
<line x1="512.01" y1="283.42" x2="525.71" y2="283.42" stroke="#333" stroke-width="0.6" stroke-dasharray="0.8,0.8"/>
<rect x="527.23" y="212.3" width="13.7" height="1.31" fill="#7f7f7f" fill-opacity="0.98"/>
<rect x="527.23" y="213.61" width="13.7" height="21.79" fill="#c4c4c4"/>
<rect x="527.23" y="235.4" width="13.7" height="52.33" fill="#a15b60"/>
<rect x="527.23" y="287.73" width="13.7" height="55.07" fill="#e5a5a8"/>
<line x1="534.08" y1="212.3" x2="534.08" y2="342.8" stroke="#000" stroke-width="0.4" stroke-opacity="0.08"/>
<line x1="527.23" y1="235.4" x2="540.93" y2="235.4" stroke="#333" stroke-width="0.6" stroke-dasharray="0.8,0.8"/>
<rect x="542.45" y="212.3" width="13.7" height="4.31" fill="#7f7f7f" fill-opacity="0.98"/>
<rect x="542.45" y="216.61" width="13.7" height="25.06" fill="#c4c4c4"/>
<rect x="542.45" y="241.66" width="13.7" height="49.33" fill="#a15b60"/>
<rect x="542.45" y="290.99" width="13.7" height="51.81" fill="#e5a5a8"/>
<line x1="549.3" y1="212.3" x2="549.3" y2="342.8" stroke="#000" stroke-width="0.4" stroke-opacity="0.08"/>
<line x1="542.45" y1="241.66" x2="556.15" y2="241.66" stroke="#333" stroke-width="0.6" stroke-dasharray="0.8,0.8"/>
<rect x="557.67" y="212.3" width="13.7" height="43.2" fill="#7f7f7f" fill-opacity="0.98"/>
<rect x="557.67" y="255.5" width="13.7" height="32.62" fill="#c4c4c4"/>
<rect x="557.67" y="288.12" width="13.7" height="31.58" fill="#a15b60"/>
<rect x="557.67" y="319.7" width="13.7" height="23.1" fill="#e5a5a8"/>
<line x1="564.52" y1="212.3" x2="564.52" y2="342.8" stroke="#000" stroke-width="0.4" stroke-opacity="0.08"/>
<line x1="557.67" y1="288.12" x2="571.37" y2="288.12" stroke="#333" stroke-width="0.6" stroke-dasharray="0.8,0.8"/>
<rect x="572.89" y="212.3" width="13.7" height="0" fill="#7f7f7f" fill-opacity="0.98"/>
<rect x="572.89" y="212.3" width="13.7" height="0" fill="#c4c4c4"/>
<rect x="572.89" y="212.3" width="13.7" height="72.95" fill="#a15b60"/>
<rect x="572.89" y="285.25" width="13.7" height="57.55" fill="#e5a5a8"/>
<line x1="579.74" y1="212.3" x2="579.74" y2="342.8" stroke="#000" stroke-width="0.4" stroke-opacity="0.08"/>
<line x1="572.89" y1="212.3" x2="586.59" y2="212.3" stroke="#333" stroke-width="0.6" stroke-dasharray="0.8,0.8"/>
<rect x="588.11" y="212.3" width="13.7" height="61.33" fill="#7f7f7f" fill-opacity="0.98"/>
<rect x="588.11" y="273.63" width="13.7" height="24.53" fill="#c4c4c4"/>
<rect x="588.11" y="298.17" width="13.7" height="22.71" fill="#a15b60"/>
<rect x="588.11" y="320.88" width="13.7" height="21.92" fill="#e5a5a8"/>
<line x1="594.96" y1="212.3" x2="594.96" y2="342.8" stroke="#000" stroke-width="0.4" stroke-opacity="0.08"/>
<line x1="588.11" y1="298.17" x2="601.81" y2="298.17" stroke="#333" stroke-width="0.6" stroke-dasharray="0.8,0.8"/>
<rect x="603.33" y="212.3" width="13.7" height="3.39" fill="#7f7f7f" fill-opacity="0.98"/>
<rect x="603.33" y="215.69" width="13.7" height="5.22" fill="#c4c4c4"/>
<rect x="603.33" y="220.91" width="13.7" height="64.86" fill="#a15b60"/>
<rect x="603.33" y="285.77" width="13.7" height="57.03" fill="#e5a5a8"/>
<line x1="610.18" y1="212.3" x2="610.18" y2="342.8" stroke="#000" stroke-width="0.4" stroke-opacity="0.08"/>
<line x1="603.33" y1="220.91" x2="617.03" y2="220.91" stroke="#333" stroke-width="0.6" stroke-dasharray="0.8,0.8"/>
<rect x="618.55" y="212.3" width="13.7" height="26.75" fill="#7f7f7f" fill-opacity="0.98"/>
<rect x="618.55" y="239.05" width="13.7" height="48.15" fill="#c4c4c4"/>
<rect x="618.55" y="287.21" width="13.7" height="44.11" fill="#a15b60"/>
<rect x="618.55" y="331.32" width="13.7" height="11.48" fill="#e5a5a8"/>
<line x1="625.4" y1="212.3" x2="625.4" y2="342.8" stroke="#000" stroke-width="0.4" stroke-opacity="0.08"/>
<line x1="618.55" y1="287.21" x2="632.25" y2="287.21" stroke="#333" stroke-width="0.6" stroke-dasharray="0.8,0.8"/>
<rect x="388.6" y="205.6" width="246" height="142.8" fill="none" stroke="#c9c9c9" stroke-width="0.8"/>
<line x1="386.8" y1="212.3" x2="388.6" y2="212.3" stroke="#555" stroke-width="0.5"/>
<text x="386" y="215.1" font-size="7.6" text-anchor="end" fill="#555">1.00</text>
<line x1="386.8" y1="244.93" x2="388.6" y2="244.93" stroke="#555" stroke-width="0.5"/>
<text x="386" y="247.73" font-size="7.6" text-anchor="end" fill="#555">0.75</text>
<line x1="386.8" y1="277.55" x2="388.6" y2="277.55" stroke="#555" stroke-width="0.5"/>
<text x="386" y="280.35" font-size="7.6" text-anchor="end" fill="#555">0.50</text>
<line x1="386.8" y1="310.18" x2="388.6" y2="310.18" stroke="#555" stroke-width="0.5"/>
<text x="386" y="312.98" font-size="7.6" text-anchor="end" fill="#555">0.25</text>
<line x1="386.8" y1="342.8" x2="388.6" y2="342.8" stroke="#555" stroke-width="0.5"/>
<text x="386" y="345.6" font-size="7.6" text-anchor="end" fill="#555">0.00</text>
<text x="364.6" y="278" font-size="10.4" text-anchor="middle" fill="#222" transform="rotate(-90 364.6 278)">Events (%)</text>
<line x1="397.1" y1="348.4" x2="397.1" y2="350" stroke="#555" stroke-width="0.5"/>
<text x="397.1" y="358.9" font-size="7.2" text-anchor="middle" fill="#444">1</text>
<line x1="412.32" y1="348.4" x2="412.32" y2="350" stroke="#555" stroke-width="0.5"/>
<text x="412.32" y="358.9" font-size="7.2" text-anchor="middle" fill="#444">2</text>
<line x1="427.54" y1="348.4" x2="427.54" y2="350" stroke="#555" stroke-width="0.5"/>
<text x="427.54" y="358.9" font-size="7.2" text-anchor="middle" fill="#444">3</text>
<line x1="442.76" y1="348.4" x2="442.76" y2="350" stroke="#555" stroke-width="0.5"/>
<text x="442.76" y="358.9" font-size="7.2" text-anchor="middle" fill="#444">4</text>
<line x1="457.98" y1="348.4" x2="457.98" y2="350" stroke="#555" stroke-width="0.5"/>
<text x="457.98" y="358.9" font-size="7.2" text-anchor="middle" fill="#444">5</text>
<line x1="473.2" y1="348.4" x2="473.2" y2="350" stroke="#555" stroke-width="0.5"/>
<text x="473.2" y="358.9" font-size="7.2" text-anchor="middle" fill="#444">6</text>
<line x1="488.42" y1="348.4" x2="488.42" y2="350" stroke="#555" stroke-width="0.5"/>
<text x="488.42" y="358.9" font-size="7.2" text-anchor="middle" fill="#444">7</text>
<line x1="503.64" y1="348.4" x2="503.64" y2="350" stroke="#555" stroke-width="0.5"/>
<text x="503.64" y="358.9" font-size="7.2" text-anchor="middle" fill="#444">8</text>
<line x1="518.86" y1="348.4" x2="518.86" y2="350" stroke="#555" stroke-width="0.5"/>
<text x="518.86" y="358.9" font-size="7.2" text-anchor="middle" fill="#444">9</text>
<line x1="534.08" y1="348.4" x2="534.08" y2="350" stroke="#555" stroke-width="0.5"/>
<text x="534.08" y="358.9" font-size="7.2" text-anchor="middle" fill="#444">10</text>
<line x1="549.3" y1="348.4" x2="549.3" y2="350" stroke="#555" stroke-width="0.5"/>
<text x="549.3" y="358.9" font-size="7.2" text-anchor="middle" fill="#444">11</text>
<line x1="564.52" y1="348.4" x2="564.52" y2="350" stroke="#555" stroke-width="0.5"/>
<text x="564.52" y="358.9" font-size="7.2" text-anchor="middle" fill="#444">12</text>
<line x1="579.74" y1="348.4" x2="579.74" y2="350" stroke="#555" stroke-width="0.5"/>
<text x="579.74" y="358.9" font-size="7.2" text-anchor="middle" fill="#444">13</text>
<line x1="594.96" y1="348.4" x2="594.96" y2="350" stroke="#555" stroke-width="0.5"/>
<text x="594.96" y="358.9" font-size="7.2" text-anchor="middle" fill="#444">14</text>
<line x1="610.18" y1="348.4" x2="610.18" y2="350" stroke="#555" stroke-width="0.5"/>
<text x="610.18" y="358.9" font-size="7.2" text-anchor="middle" fill="#444">15</text>
<line x1="625.4" y1="348.4" x2="625.4" y2="350" stroke="#555" stroke-width="0.5"/>
<text x="625.4" y="358.9" font-size="7.2" text-anchor="middle" fill="#444">16</text>
<path d="M437.76,192.0 L447.76,192.0 L447.76,200.8 L452.56,200.8 L442.76,210.8 L432.96,200.8 L437.76,200.8 Z" fill="#8888ff" stroke="#1010d0" stroke-width="1.0"/>
<text x="442.76" y="199.6" font-size="7.6" text-anchor="middle" fill="#111">4</text>
<path d="M468.2,192.0 L478.2,192.0 L478.2,200.8 L483,200.8 L473.2,210.8 L463.4,200.8 L468.2,200.8 Z" fill="#ffc080" stroke="#ff9a40" stroke-width="1.0"/>
<text x="473.2" y="199.6" font-size="7.6" text-anchor="middle" fill="#111">6</text>
<path d="M483.42,192.0 L493.42,192.0 L493.42,200.8 L498.22,200.8 L488.42,210.8 L478.62,200.8 L483.42,200.8 Z" fill="#f08888" stroke="#e01010" stroke-width="1.0"/>
<text x="488.42" y="199.6" font-size="7.6" text-anchor="middle" fill="#111">7</text>
<path d="M529.08,192.0 L539.08,192.0 L539.08,200.8 L543.88,200.8 L534.08,210.8 L524.28,200.8 L529.08,200.8 Z" fill="#88c4ff" stroke="#4ea0f2" stroke-width="1.0"/>
<text x="534.08" y="199.6" font-size="7.6" text-anchor="middle" fill="#111">10</text>
<path d="M544.3,192.0 L554.3,192.0 L554.3,200.8 L559.1,200.8 L549.3,210.8 L539.5,200.8 L544.3,200.8 Z" fill="#c888f0" stroke="#9a10c8" stroke-width="1.0"/>
<text x="549.3" y="199.6" font-size="7.6" text-anchor="middle" fill="#111">11</text>
<path d="M589.96,192.0 L599.96,192.0 L599.96,200.8 L604.76,200.8 L594.96,210.8 L585.16,200.8 L589.96,200.8 Z" fill="#ffa8dc" stroke="#ff60c0" stroke-width="1.0"/>
<text x="594.96" y="199.6" font-size="7.6" text-anchor="middle" fill="#111">14</text>
<path d="M620.4,192.0 L630.4,192.0 L630.4,200.8 L635.2,200.8 L625.4,210.8 L615.6,200.8 L620.4,200.8 Z" fill="#7ad07a" stroke="#10a010" stroke-width="1.0"/>
<text x="625.4" y="199.6" font-size="7.6" text-anchor="middle" fill="#111">16</text>
<rect x="638" y="259.4" width="13" height="11.2" fill="#7f7f7f"/>
<rect x="638" y="270.6" width="13" height="15.2" fill="#c4c4c4"/>
<rect x="638" y="287.3" width="13" height="13.6" fill="#a15b60"/>
<rect x="638" y="300.9" width="13" height="13.2" fill="#e5a5a8"/>
<text x="653.4" y="268.9" font-size="8.6" fill="#222">non-SD</text>
<text x="653.4" y="283" font-size="8.6" fill="#222">SD</text>
<text x="653.4" y="297.4" font-size="8.6" fill="#222">non-SD</text>
<text x="653.4" y="311.5" font-size="8.6" fill="#222">SD</text>
<text x="644.6" y="276" font-size="6.4" text-anchor="middle" fill="#222">TP1</text>
<text x="644.6" y="303.8" font-size="6.4" text-anchor="middle" fill="#222">TP2</text>
<rect x="356" y="362" width="32.5" height="206" fill="#f9f9f9"/>
<rect x="388.5" y="364.4" width="246.1" height="184.4" fill="#fff"/>
<line x1="388.5" y1="372" x2="634.6" y2="372" stroke="#ebebeb" stroke-width="0.6"/>
<line x1="388.5" y1="386.1" x2="634.6" y2="386.1" stroke="#ebebeb" stroke-width="0.6"/>
<line x1="388.5" y1="400.2" x2="634.6" y2="400.2" stroke="#ebebeb" stroke-width="0.6"/>
<line x1="388.5" y1="414.3" x2="634.6" y2="414.3" stroke="#ebebeb" stroke-width="0.6"/>
<line x1="388.5" y1="428.4" x2="634.6" y2="428.4" stroke="#ebebeb" stroke-width="0.6"/>
<line x1="388.5" y1="442.5" x2="634.6" y2="442.5" stroke="#ebebeb" stroke-width="0.6"/>
<line x1="388.5" y1="456.6" x2="634.6" y2="456.6" stroke="#ebebeb" stroke-width="0.6"/>
<line x1="388.5" y1="470.7" x2="634.6" y2="470.7" stroke="#ebebeb" stroke-width="0.6"/>
<line x1="388.5" y1="484.8" x2="634.6" y2="484.8" stroke="#ebebeb" stroke-width="0.6"/>
<line x1="388.5" y1="498.9" x2="634.6" y2="498.9" stroke="#ebebeb" stroke-width="0.6"/>
<line x1="388.5" y1="513" x2="634.6" y2="513" stroke="#ebebeb" stroke-width="0.6"/>
<line x1="388.5" y1="527.1" x2="634.6" y2="527.1" stroke="#ebebeb" stroke-width="0.6"/>
<line x1="388.5" y1="541.2" x2="634.6" y2="541.2" stroke="#ebebeb" stroke-width="0.6"/>
<line x1="397.1" y1="364.4" x2="397.1" y2="548.8" stroke="#ebebeb" stroke-width="0.6"/>
<line x1="412.32" y1="364.4" x2="412.32" y2="548.8" stroke="#ebebeb" stroke-width="0.6"/>
<line x1="427.54" y1="364.4" x2="427.54" y2="548.8" stroke="#ebebeb" stroke-width="0.6"/>
<line x1="442.76" y1="364.4" x2="442.76" y2="548.8" stroke="#ebebeb" stroke-width="0.6"/>
<line x1="457.98" y1="364.4" x2="457.98" y2="548.8" stroke="#ebebeb" stroke-width="0.6"/>
<line x1="473.2" y1="364.4" x2="473.2" y2="548.8" stroke="#ebebeb" stroke-width="0.6"/>
<line x1="488.42" y1="364.4" x2="488.42" y2="548.8" stroke="#ebebeb" stroke-width="0.6"/>
<line x1="503.64" y1="364.4" x2="503.64" y2="548.8" stroke="#ebebeb" stroke-width="0.6"/>
<line x1="518.86" y1="364.4" x2="518.86" y2="548.8" stroke="#ebebeb" stroke-width="0.6"/>
<line x1="534.08" y1="364.4" x2="534.08" y2="548.8" stroke="#ebebeb" stroke-width="0.6"/>
<line x1="549.3" y1="364.4" x2="549.3" y2="548.8" stroke="#ebebeb" stroke-width="0.6"/>
<line x1="564.52" y1="364.4" x2="564.52" y2="548.8" stroke="#ebebeb" stroke-width="0.6"/>
<line x1="579.74" y1="364.4" x2="579.74" y2="548.8" stroke="#ebebeb" stroke-width="0.6"/>
<line x1="594.96" y1="364.4" x2="594.96" y2="548.8" stroke="#ebebeb" stroke-width="0.6"/>
<line x1="610.18" y1="364.4" x2="610.18" y2="548.8" stroke="#ebebeb" stroke-width="0.6"/>
<line x1="625.4" y1="364.4" x2="625.4" y2="548.8" stroke="#ebebeb" stroke-width="0.6"/>
<line x1="388.5" y1="364.4" x2="634.6" y2="364.4" stroke="#d0d0d0" stroke-width="0.6"/>
<line x1="634.6" y1="364.4" x2="634.6" y2="548.8" stroke="#d0d0d0" stroke-width="0.6"/>
<line x1="388.5" y1="364.4" x2="388.5" y2="548.8" stroke="#333" stroke-width="0.8"/>
<line x1="388.5" y1="548.8" x2="634.6" y2="548.8" stroke="#333" stroke-width="0.8"/>
<line x1="386.7" y1="372" x2="388.5" y2="372" stroke="#333" stroke-width="0.5"/>
<text x="385.5" y="374.5" font-size="7.2" text-anchor="end" fill="#333">perforin</text>
<circle cx="397.1" cy="372" r="2.85" fill="#e8c000"/>
<circle cx="412.32" cy="372" r="2.85" fill="#e8c000"/>
<circle cx="427.54" cy="372" r="2.85" fill="#e0d000"/>
<circle cx="442.76" cy="372" r="2.66" fill="#e8b000"/>
<circle cx="457.98" cy="372" r="1.42" fill="#f09000"/>
<circle cx="473.2" cy="372" r="1.42" fill="#f09000"/>
<circle cx="488.42" cy="372" r="2.09" fill="#f0a000"/>
<circle cx="503.64" cy="372" r="2.37" fill="#e8b800"/>
<circle cx="518.86" cy="372" r="1.33" fill="#f0a000"/>
<circle cx="534.08" cy="372" r="2.47" fill="#f0a000"/>
<circle cx="549.3" cy="372" r="2.47" fill="#f0a800"/>
<circle cx="564.52" cy="372" r="1.52" fill="#f0a000"/>
<circle cx="579.74" cy="372" r="1.42" fill="#f0a000"/>
<circle cx="594.96" cy="372" r="1.71" fill="#f0a000"/>
<circle cx="610.18" cy="372" r="3.04" fill="#e8c000"/>
<circle cx="625.4" cy="372" r="1.52" fill="#f0a000"/>
<line x1="386.7" y1="386.1" x2="388.5" y2="386.1" stroke="#333" stroke-width="0.5"/>
<text x="385.5" y="388.6" font-size="7.2" text-anchor="end" fill="#333">PD-1</text>
<circle cx="397.1" cy="386.1" r="1.9" fill="#f08000"/>
<circle cx="412.32" cy="386.1" r="3.32" fill="#e8c800"/>
<circle cx="427.54" cy="386.1" r="2.09" fill="#f08800"/>
<circle cx="442.76" cy="386.1" r="1.14" fill="#f08000"/>
<circle cx="457.98" cy="386.1" r="3.8" fill="#e8c000"/>
<circle cx="473.2" cy="386.1" r="3.32" fill="#f0a000"/>
<circle cx="488.42" cy="386.1" r="4.55" fill="#88ee44"/>
<circle cx="503.64" cy="386.1" r="4.93" fill="#d8e800"/>
<circle cx="518.86" cy="386.1" r="2.28" fill="#f0a000"/>
<circle cx="534.08" cy="386.1" r="4.74" fill="#99ee33"/>
<circle cx="549.3" cy="386.1" r="4.74" fill="#aaee33"/>
<circle cx="564.52" cy="386.1" r="3.61" fill="#e8b800"/>
<circle cx="579.74" cy="386.1" r="4.74" fill="#99ee33"/>
<circle cx="594.96" cy="386.1" r="3.23" fill="#f09000"/>
<circle cx="610.18" cy="386.1" r="4.37" fill="#e8c800"/>
<circle cx="625.4" cy="386.1" r="0.9" fill="#ff0000"/>
<line x1="386.7" y1="400.2" x2="388.5" y2="400.2" stroke="#333" stroke-width="0.5"/>
<text x="385.5" y="402.7" font-size="7.2" text-anchor="end" fill="#333">Ki-67</text>
<circle cx="397.1" cy="400.2" r="1.52" fill="#f06000"/>
<circle cx="412.32" cy="400.2" r="1.42" fill="#f07000"/>
<circle cx="427.54" cy="400.2" r="1.52" fill="#f07000"/>
<circle cx="442.76" cy="400.2" r="1.33" fill="#f07000"/>
<circle cx="457.98" cy="400.2" r="1.42" fill="#f07000"/>
<circle cx="473.2" cy="400.2" r="1.33" fill="#f07000"/>
<circle cx="488.42" cy="400.2" r="2.09" fill="#f07000"/>
<circle cx="503.64" cy="400.2" r="1.42" fill="#f07000"/>
<circle cx="518.86" cy="400.2" r="1.33" fill="#f07000"/>
<circle cx="534.08" cy="400.2" r="2.47" fill="#f07000"/>
<circle cx="549.3" cy="400.2" r="2.28" fill="#f07000"/>
<circle cx="564.52" cy="400.2" r="1.52" fill="#f07000"/>
<circle cx="579.74" cy="400.2" r="1.9" fill="#f07000"/>
<circle cx="594.96" cy="400.2" r="1.52" fill="#f07000"/>
<circle cx="610.18" cy="400.2" r="3.61" fill="#f09000"/>
<circle cx="625.4" cy="400.2" r="2.47" fill="#f07000"/>
<line x1="386.7" y1="414.3" x2="388.5" y2="414.3" stroke="#333" stroke-width="0.5"/>
<text x="385.5" y="416.8" font-size="7.2" text-anchor="end" fill="#333">HLA-DR</text>
<circle cx="397.1" cy="414.3" r="3.32" fill="#f0a000"/>
<circle cx="412.32" cy="414.3" r="3.13" fill="#f0a800"/>
<circle cx="427.54" cy="414.3" r="3.32" fill="#e8b800"/>
<circle cx="442.76" cy="414.3" r="3.04" fill="#f0a000"/>
<circle cx="457.98" cy="414.3" r="2.85" fill="#f0a800"/>
<circle cx="473.2" cy="414.3" r="2.47" fill="#f09000"/>
<circle cx="488.42" cy="414.3" r="4.93" fill="#4a80e8"/>
<circle cx="503.64" cy="414.3" r="3.8" fill="#e8c800"/>
<circle cx="518.86" cy="414.3" r="1.71" fill="#f0a000"/>
<circle cx="534.08" cy="414.3" r="4.55" fill="#77ee44"/>
<circle cx="549.3" cy="414.3" r="3.42" fill="#f09000"/>
<circle cx="564.52" cy="414.3" r="2.85" fill="#f0a800"/>
<circle cx="579.74" cy="414.3" r="4.55" fill="#ccf000"/>
<circle cx="594.96" cy="414.3" r="4.18" fill="#e8b000"/>
<circle cx="610.18" cy="414.3" r="4.55" fill="#33e080"/>
<circle cx="625.4" cy="414.3" r="4.55" fill="#44e088"/>
<line x1="386.7" y1="428.4" x2="388.5" y2="428.4" stroke="#333" stroke-width="0.5"/>
<text x="385.5" y="430.9" font-size="7.2" text-anchor="end" fill="#333">GzmB</text>
<circle cx="397.1" cy="428.4" r="4.74" fill="#e8c800"/>
<circle cx="412.32" cy="428.4" r="4.74" fill="#e8c800"/>
<circle cx="427.54" cy="428.4" r="4.55" fill="#e8c800"/>
<circle cx="442.76" cy="428.4" r="4.74" fill="#ccf020"/>
<circle cx="457.98" cy="428.4" r="2.47" fill="#f08000"/>
<circle cx="473.2" cy="428.4" r="2.09" fill="#f08000"/>
<circle cx="488.42" cy="428.4" r="4.18" fill="#e8c000"/>
<circle cx="503.64" cy="428.4" r="4.55" fill="#e8c000"/>
<circle cx="518.86" cy="428.4" r="2.47" fill="#f08000"/>
<circle cx="534.08" cy="428.4" r="4.55" fill="#d8e800"/>
<circle cx="549.3" cy="428.4" r="4.55" fill="#d8e800"/>
<circle cx="564.52" cy="428.4" r="2.47" fill="#f09000"/>
<circle cx="579.74" cy="428.4" r="4.74" fill="#ccf000"/>
<circle cx="594.96" cy="428.4" r="3.8" fill="#f0a000"/>
<circle cx="610.18" cy="428.4" r="4.37" fill="#ccf000"/>
<circle cx="625.4" cy="428.4" r="4.37" fill="#e8b800"/>
<line x1="386.7" y1="442.5" x2="388.5" y2="442.5" stroke="#333" stroke-width="0.5"/>
<text x="385.5" y="445" font-size="7.2" text-anchor="end" fill="#333">GPR56</text>
<circle cx="397.1" cy="442.5" r="4.74" fill="#d8e800"/>
<circle cx="412.32" cy="442.5" r="4.74" fill="#e8c800"/>
<circle cx="427.54" cy="442.5" r="4.93" fill="#e8b800"/>
<circle cx="442.76" cy="442.5" r="4.74" fill="#d8e800"/>
<circle cx="457.98" cy="442.5" r="2.09" fill="#f08000"/>
<circle cx="473.2" cy="442.5" r="1.71" fill="#f08000"/>
<circle cx="488.42" cy="442.5" r="3.04" fill="#f09000"/>
<circle cx="503.64" cy="442.5" r="4.74" fill="#e8b800"/>
<circle cx="518.86" cy="442.5" r="1.33" fill="#f08000"/>
<circle cx="534.08" cy="442.5" r="3.04" fill="#f08000"/>
<circle cx="549.3" cy="442.5" r="2.47" fill="#f08000"/>
<circle cx="564.52" cy="442.5" r="2.09" fill="#f09000"/>
<circle cx="579.74" cy="442.5" r="4.18" fill="#f0a000"/>
<circle cx="594.96" cy="442.5" r="4.93" fill="#e8c000"/>
<circle cx="610.18" cy="442.5" r="4.93" fill="#5566ff"/>
<circle cx="625.4" cy="442.5" r="2.85" fill="#f08000"/>
<line x1="386.7" y1="456.6" x2="388.5" y2="456.6" stroke="#333" stroke-width="0.5"/>
<text x="385.5" y="459.1" font-size="7.2" text-anchor="end" fill="#333">CLA</text>
<circle cx="397.1" cy="456.6" r="1.52" fill="#f08000"/>
<circle cx="412.32" cy="456.6" r="1.33" fill="#f09000"/>
<circle cx="427.54" cy="456.6" r="1.33" fill="#f08000"/>
<circle cx="442.76" cy="456.6" r="1.33" fill="#e8c000"/>
<circle cx="457.98" cy="456.6" r="1.71" fill="#f08000"/>
<circle cx="473.2" cy="456.6" r="1.52" fill="#f09000"/>
<circle cx="488.42" cy="456.6" r="2.09" fill="#f07000"/>
<circle cx="503.64" cy="456.6" r="1.71" fill="#f08000"/>
<circle cx="518.86" cy="456.6" r="1.33" fill="#f08000"/>
<circle cx="534.08" cy="456.6" r="4.74" fill="#88ee44"/>
<circle cx="549.3" cy="456.6" r="2.66" fill="#f08000"/>
<circle cx="564.52" cy="456.6" r="4.74" fill="#aaee33"/>
<circle cx="579.74" cy="456.6" r="3.04" fill="#e8b800"/>
<circle cx="594.96" cy="456.6" r="2.28" fill="#f09000"/>
<circle cx="610.18" cy="456.6" r="3.04" fill="#e8b000"/>
<circle cx="625.4" cy="456.6" r="2.28" fill="#f09000"/>
<line x1="386.7" y1="470.7" x2="388.5" y2="470.7" stroke="#333" stroke-width="0.5"/>
<text x="385.5" y="473.2" font-size="7.2" text-anchor="end" fill="#333">CD8</text>
<circle cx="397.1" cy="470.7" r="4.93" fill="#44ee66"/>
<circle cx="412.32" cy="470.7" r="4.93" fill="#22ee77"/>
<circle cx="427.54" cy="470.7" r="4.74" fill="#66ee44"/>
<circle cx="442.76" cy="470.7" r="4.93" fill="#5555f0"/>
<circle cx="457.98" cy="470.7" r="4.74" fill="#88ee44"/>
<circle cx="473.2" cy="470.7" r="4.74" fill="#ccee22"/>
<circle cx="488.42" cy="470.7" r="4.74" fill="#55d090"/>
<circle cx="503.64" cy="470.7" r="4.74" fill="#55d890"/>
<circle cx="518.86" cy="470.7" r="4.74" fill="#99ee44"/>
<circle cx="534.08" cy="470.7" r="4.93" fill="#2266ee"/>
<circle cx="549.3" cy="470.7" r="4.93" fill="#22ee77"/>
<circle cx="564.52" cy="470.7" r="4.74" fill="#55ee66"/>
<circle cx="579.74" cy="470.7" r="4.93" fill="#9944ee"/>
<circle cx="594.96" cy="470.7" r="4.74" fill="#99ee44"/>
<circle cx="610.18" cy="470.7" r="4.74" fill="#22ee77"/>
<circle cx="625.4" cy="470.7" r="4.93" fill="#22ee77"/>
<line x1="386.7" y1="484.8" x2="388.5" y2="484.8" stroke="#333" stroke-width="0.5"/>
<text x="385.5" y="487.3" font-size="7.2" text-anchor="end" fill="#333">CD69</text>
<circle cx="397.1" cy="484.8" r="2.47" fill="#f09000"/>
<circle cx="412.32" cy="484.8" r="2.85" fill="#f09000"/>
<circle cx="427.54" cy="484.8" r="2.09" fill="#f08000"/>
<circle cx="442.76" cy="484.8" r="0.95" fill="#ff0000"/>
<circle cx="457.98" cy="484.8" r="2.28" fill="#f08000"/>
<circle cx="473.2" cy="484.8" r="4.74" fill="#88ee55"/>
<circle cx="488.42" cy="484.8" r="3.23" fill="#f08000"/>
<circle cx="503.64" cy="484.8" r="2.47" fill="#f08000"/>
<circle cx="518.86" cy="484.8" r="1.71" fill="#e8c000"/>
<circle cx="534.08" cy="484.8" r="3.23" fill="#f08000"/>
<circle cx="549.3" cy="484.8" r="2.85" fill="#f08000"/>
<circle cx="564.52" cy="484.8" r="1.9" fill="#f09000"/>
<circle cx="579.74" cy="484.8" r="0.95" fill="#ff0000"/>
<circle cx="594.96" cy="484.8" r="4.55" fill="#e0d800"/>
<circle cx="610.18" cy="484.8" r="2.66" fill="#f08000"/>
<circle cx="625.4" cy="484.8" r="2.85" fill="#f08000"/>
<line x1="386.7" y1="498.9" x2="388.5" y2="498.9" stroke="#333" stroke-width="0.5"/>
<text x="385.5" y="501.4" font-size="7.2" text-anchor="end" fill="#333">CD56</text>
<circle cx="397.1" cy="498.9" r="4.74" fill="#ccee22"/>
<circle cx="412.32" cy="498.9" r="1.9" fill="#f09000"/>
<circle cx="427.54" cy="498.9" r="1.9" fill="#f09000"/>
<circle cx="442.76" cy="498.9" r="1.9" fill="#f0a000"/>
<circle cx="457.98" cy="498.9" r="2.66" fill="#e8c000"/>
<circle cx="473.2" cy="498.9" r="3.8" fill="#d8e800"/>
<circle cx="488.42" cy="498.9" r="1.52" fill="#f0a000"/>
<circle cx="503.64" cy="498.9" r="1.33" fill="#f0a000"/>
<circle cx="518.86" cy="498.9" r="1.33" fill="#f0a000"/>
<circle cx="534.08" cy="498.9" r="1.52" fill="#f09000"/>
<circle cx="549.3" cy="498.9" r="1.52" fill="#f0a000"/>
<circle cx="564.52" cy="498.9" r="2.09" fill="#f0b000"/>
<circle cx="579.74" cy="498.9" r="1.52" fill="#f0a000"/>
<circle cx="594.96" cy="498.9" r="2.47" fill="#f09000"/>
<circle cx="610.18" cy="498.9" r="4.37" fill="#f0a800"/>
<circle cx="625.4" cy="498.9" r="1.9" fill="#e0e800"/>
<line x1="386.7" y1="513" x2="388.5" y2="513" stroke="#333" stroke-width="0.5"/>
<text x="385.5" y="515.5" font-size="7.2" text-anchor="end" fill="#333">CD38</text>
<circle cx="397.1" cy="513" r="4.37" fill="#d8f000"/>
<circle cx="412.32" cy="513" r="4.55" fill="#aaee33"/>
<circle cx="427.54" cy="513" r="4.18" fill="#d0f000"/>
<circle cx="442.76" cy="513" r="4.74" fill="#33ee88"/>
<circle cx="457.98" cy="513" r="3.04" fill="#e8c000"/>
<circle cx="473.2" cy="513" r="3.32" fill="#e0c800"/>
<circle cx="488.42" cy="513" r="4.55" fill="#9944ff"/>
<circle cx="503.64" cy="513" r="4.37" fill="#aaee33"/>
<circle cx="518.86" cy="513" r="2.85" fill="#e8b000"/>
<circle cx="534.08" cy="513" r="4.93" fill="#5555ff"/>
<circle cx="549.3" cy="513" r="4.93" fill="#9944ff"/>
<circle cx="564.52" cy="513" r="1.9" fill="#f0a000"/>
<circle cx="579.74" cy="513" r="4.93" fill="#cc11ff"/>
<circle cx="594.96" cy="513" r="4.74" fill="#99ee44"/>
<circle cx="610.18" cy="513" r="4.74" fill="#55cc99"/>
<circle cx="625.4" cy="513" r="4.93" fill="#cc11ee"/>
<line x1="386.7" y1="527.1" x2="388.5" y2="527.1" stroke="#333" stroke-width="0.5"/>
<text x="385.5" y="529.6" font-size="7.2" text-anchor="end" fill="#333">CD16</text>
<circle cx="397.1" cy="527.1" r="4.18" fill="#99ee44"/>
<circle cx="412.32" cy="527.1" r="4.93" fill="#ccee22"/>
<circle cx="427.54" cy="527.1" r="2.28" fill="#f08000"/>
<circle cx="442.76" cy="527.1" r="3.8" fill="#e8c000"/>
<circle cx="457.98" cy="527.1" r="1.71" fill="#f09000"/>
<circle cx="473.2" cy="527.1" r="1.52" fill="#f09000"/>
<circle cx="488.42" cy="527.1" r="1.9" fill="#f0a000"/>
<circle cx="503.64" cy="527.1" r="2.47" fill="#f08000"/>
<circle cx="518.86" cy="527.1" r="1.33" fill="#f09000"/>
<circle cx="534.08" cy="527.1" r="1.9" fill="#f0a000"/>
<circle cx="549.3" cy="527.1" r="1.9" fill="#f0a000"/>
<circle cx="564.52" cy="527.1" r="1.9" fill="#f0a000"/>
<circle cx="579.74" cy="527.1" r="2.66" fill="#f0a000"/>
<circle cx="594.96" cy="527.1" r="3.42" fill="#f0a000"/>
<circle cx="610.18" cy="527.1" r="2.66" fill="#f09000"/>
<circle cx="625.4" cy="527.1" r="2.09" fill="#f0a000"/>
<line x1="386.7" y1="541.2" x2="388.5" y2="541.2" stroke="#333" stroke-width="0.5"/>
<text x="385.5" y="543.7" font-size="7.2" text-anchor="end" fill="#333">CCR5</text>
<circle cx="397.1" cy="541.2" r="4.18" fill="#f0a000"/>
<circle cx="412.32" cy="541.2" r="3.61" fill="#f09000"/>
<circle cx="427.54" cy="541.2" r="3.8" fill="#f0a000"/>
<circle cx="442.76" cy="541.2" r="3.04" fill="#f08000"/>
<circle cx="457.98" cy="541.2" r="4.93" fill="#88ee44"/>
<circle cx="473.2" cy="541.2" r="4.93" fill="#4a80e0"/>
<circle cx="488.42" cy="541.2" r="4.74" fill="#ccf000"/>
<circle cx="503.64" cy="541.2" r="4.18" fill="#e8a800"/>
<circle cx="518.86" cy="541.2" r="1.71" fill="#f08000"/>
<circle cx="534.08" cy="541.2" r="4.93" fill="#ccf000"/>
<circle cx="549.3" cy="541.2" r="4.93" fill="#ccf000"/>
<circle cx="564.52" cy="541.2" r="4.18" fill="#d8e800"/>
<circle cx="579.74" cy="541.2" r="4.93" fill="#d0f000"/>
<circle cx="594.96" cy="541.2" r="4.18" fill="#f09000"/>
<circle cx="610.18" cy="541.2" r="4.74" fill="#e8c000"/>
<circle cx="625.4" cy="541.2" r="4.93" fill="#d8e800"/>
<line x1="397.1" y1="548.8" x2="397.1" y2="550.4" stroke="#333" stroke-width="0.5"/>
<text x="397.1" y="558.3" font-size="6.4" text-anchor="middle" fill="#555">1</text>
<line x1="412.32" y1="548.8" x2="412.32" y2="550.4" stroke="#333" stroke-width="0.5"/>
<text x="412.32" y="558.3" font-size="6.4" text-anchor="middle" fill="#555">2</text>
<line x1="427.54" y1="548.8" x2="427.54" y2="550.4" stroke="#333" stroke-width="0.5"/>
<text x="427.54" y="558.3" font-size="6.4" text-anchor="middle" fill="#555">3</text>
<line x1="442.76" y1="548.8" x2="442.76" y2="550.4" stroke="#333" stroke-width="0.5"/>
<text x="442.76" y="558.3" font-size="6.4" text-anchor="middle" fill="#555">4</text>
<line x1="457.98" y1="548.8" x2="457.98" y2="550.4" stroke="#333" stroke-width="0.5"/>
<text x="457.98" y="558.3" font-size="6.4" text-anchor="middle" fill="#555">5</text>
<line x1="473.2" y1="548.8" x2="473.2" y2="550.4" stroke="#333" stroke-width="0.5"/>
<text x="473.2" y="558.3" font-size="6.4" text-anchor="middle" fill="#555">6</text>
<line x1="488.42" y1="548.8" x2="488.42" y2="550.4" stroke="#333" stroke-width="0.5"/>
<text x="488.42" y="558.3" font-size="6.4" text-anchor="middle" fill="#555">7</text>
<line x1="503.64" y1="548.8" x2="503.64" y2="550.4" stroke="#333" stroke-width="0.5"/>
<text x="503.64" y="558.3" font-size="6.4" text-anchor="middle" fill="#555">8</text>
<line x1="518.86" y1="548.8" x2="518.86" y2="550.4" stroke="#333" stroke-width="0.5"/>
<text x="518.86" y="558.3" font-size="6.4" text-anchor="middle" fill="#555">9</text>
<line x1="534.08" y1="548.8" x2="534.08" y2="550.4" stroke="#333" stroke-width="0.5"/>
<text x="534.08" y="558.3" font-size="6.4" text-anchor="middle" fill="#555">10</text>
<line x1="549.3" y1="548.8" x2="549.3" y2="550.4" stroke="#333" stroke-width="0.5"/>
<text x="549.3" y="558.3" font-size="6.4" text-anchor="middle" fill="#555">11</text>
<line x1="564.52" y1="548.8" x2="564.52" y2="550.4" stroke="#333" stroke-width="0.5"/>
<text x="564.52" y="558.3" font-size="6.4" text-anchor="middle" fill="#555">12</text>
<line x1="579.74" y1="548.8" x2="579.74" y2="550.4" stroke="#333" stroke-width="0.5"/>
<text x="579.74" y="558.3" font-size="6.4" text-anchor="middle" fill="#555">13</text>
<line x1="594.96" y1="548.8" x2="594.96" y2="550.4" stroke="#333" stroke-width="0.5"/>
<text x="594.96" y="558.3" font-size="6.4" text-anchor="middle" fill="#555">14</text>
<line x1="610.18" y1="548.8" x2="610.18" y2="550.4" stroke="#333" stroke-width="0.5"/>
<text x="610.18" y="558.3" font-size="6.4" text-anchor="middle" fill="#555">15</text>
<line x1="625.4" y1="548.8" x2="625.4" y2="550.4" stroke="#333" stroke-width="0.5"/>
<text x="625.4" y="558.3" font-size="6.4" text-anchor="middle" fill="#555">16</text>
<text x="511.5" y="566.2" font-size="7.8" text-anchor="middle" fill="#222">FlowSOM cluster</text>
<text x="646.7" y="384.6" font-size="7.0" fill="#222">% cells</text>
<circle cx="652.5" cy="395.3" r="0.9" fill="#000"/>
<text x="662.2" y="397.4" font-size="5.8" fill="#333">0</text>
<circle cx="652.5" cy="407.4" r="2.9" fill="#000"/>
<text x="662.2" y="409.5" font-size="5.8" fill="#333">25</text>
<circle cx="652.5" cy="419.5" r="3.7" fill="#000"/>
<text x="662.2" y="421.6" font-size="5.8" fill="#333">50</text>
<circle cx="652.5" cy="431" r="4.3" fill="#000"/>
<text x="662.2" y="433.1" font-size="5.8" fill="#333">75</text>
<circle cx="652.5" cy="443.4" r="5.1" fill="#000"/>
<text x="662.2" y="445.5" font-size="5.8" fill="#333">100</text>
<text x="646.7" y="471.3" font-size="7.0" fill="#222">MFI</text>
<defs><linearGradient id="g_mfi" x1="0" y1="0" x2="0" y2="1"><stop offset="0" stop-color="#b040ff"/><stop offset="0.2" stop-color="#4a7cf0"/><stop offset="0.42" stop-color="#3ad2a0"/><stop offset="0.55" stop-color="#40f040"/><stop offset="0.72" stop-color="#e8f000"/><stop offset="0.88" stop-color="#f59a00"/><stop offset="1" stop-color="#ff2000"/></linearGradient></defs>
<rect x="646.7" y="476" width="11.5" height="60.4" fill="url(#g_mfi)"/>
<line x1="646.7" y1="487.5" x2="649" y2="487.5" stroke="#fff" stroke-width="0.5"/>
<line x1="655.9" y1="487.5" x2="658.2" y2="487.5" stroke="#fff" stroke-width="0.5"/>
<text x="662.2" y="489.6" font-size="5.8" fill="#333">9000</text>
<line x1="646.7" y1="503.9" x2="649" y2="503.9" stroke="#fff" stroke-width="0.5"/>
<line x1="655.9" y1="503.9" x2="658.2" y2="503.9" stroke="#fff" stroke-width="0.5"/>
<text x="662.2" y="506" font-size="5.8" fill="#333">6000</text>
<line x1="646.7" y1="519.7" x2="649" y2="519.7" stroke="#fff" stroke-width="0.5"/>
<line x1="655.9" y1="519.7" x2="658.2" y2="519.7" stroke="#fff" stroke-width="0.5"/>
<text x="662.2" y="521.8" font-size="5.8" fill="#333">3000</text>
<line x1="646.7" y1="535.9" x2="649" y2="535.9" stroke="#fff" stroke-width="0.5"/>
<line x1="655.9" y1="535.9" x2="658.2" y2="535.9" stroke="#fff" stroke-width="0.5"/>
<text x="662.2" y="538" font-size="5.8" fill="#333">0</text>
<text x="5.8" y="439.8" font-size="13.2" font-weight="bold" fill="#000">m</text>
<rect x="20.9" y="446.2" width="64" height="63.1" fill="#fff"/>
<line x1="20.9" y1="464.45" x2="84.9" y2="464.45" stroke="#f3f3f3" stroke-width="0.5"/>
<line x1="20.9" y1="476.45" x2="84.9" y2="476.45" stroke="#f3f3f3" stroke-width="0.5"/>
<line x1="20.9" y1="488.5" x2="84.9" y2="488.5" stroke="#f3f3f3" stroke-width="0.5"/>
<line x1="20.9" y1="500.7" x2="84.9" y2="500.7" stroke="#f3f3f3" stroke-width="0.5"/>
<line x1="20.9" y1="458.4" x2="84.9" y2="458.4" stroke="#ebebeb" stroke-width="0.6"/>
<line x1="20.9" y1="470.5" x2="84.9" y2="470.5" stroke="#ebebeb" stroke-width="0.6"/>
<line x1="20.9" y1="482.4" x2="84.9" y2="482.4" stroke="#ebebeb" stroke-width="0.6"/>
<line x1="20.9" y1="494.6" x2="84.9" y2="494.6" stroke="#ebebeb" stroke-width="0.6"/>
<line x1="20.9" y1="506.8" x2="84.9" y2="506.8" stroke="#ebebeb" stroke-width="0.6"/>
<line x1="38" y1="446.2" x2="38" y2="509.3" stroke="#ebebeb" stroke-width="0.6"/>
<line x1="67.7" y1="446.2" x2="67.7" y2="509.3" stroke="#ebebeb" stroke-width="0.6"/>
<rect x="20.9" y="446.2" width="64" height="63.1" fill="none" stroke="#c9c9c9" stroke-width="0.8"/>
<line x1="19.4" y1="458.4" x2="20.9" y2="458.4" stroke="#555" stroke-width="0.5"/>
<text x="18.9" y="460.22" font-size="5.2" text-anchor="end" fill="#666">20</text>
<line x1="19.4" y1="470.5" x2="20.9" y2="470.5" stroke="#555" stroke-width="0.5"/>
<text x="18.9" y="472.32" font-size="5.2" text-anchor="end" fill="#666">15</text>
<line x1="19.4" y1="482.4" x2="20.9" y2="482.4" stroke="#555" stroke-width="0.5"/>
<text x="18.9" y="484.22" font-size="5.2" text-anchor="end" fill="#666">10</text>
<line x1="19.4" y1="494.6" x2="20.9" y2="494.6" stroke="#555" stroke-width="0.5"/>
<text x="18.9" y="496.42" font-size="5.2" text-anchor="end" fill="#666">5</text>
<line x1="19.4" y1="506.8" x2="20.9" y2="506.8" stroke="#555" stroke-width="0.5"/>
<text x="18.9" y="508.62" font-size="5.2" text-anchor="end" fill="#666">0</text>
<line x1="38" y1="509.3" x2="38" y2="510.8" stroke="#555" stroke-width="0.5"/>
<line x1="67.7" y1="509.3" x2="67.7" y2="510.8" stroke="#555" stroke-width="0.5"/>
<circle cx="31.63" cy="506.8" r="1.6" fill="#1a3c9b" fill-opacity="0.45"/>
<circle cx="31.05" cy="507.44" r="1.6" fill="#1a3c9b" fill-opacity="0.45"/>
<circle cx="31.54" cy="506.9" r="1.6" fill="#1a3c9b" fill-opacity="0.45"/>
<circle cx="36.48" cy="506.59" r="1.6" fill="#1a3c9b" fill-opacity="0.45"/>
<circle cx="36.77" cy="507.26" r="1.6" fill="#1a3c9b" fill-opacity="0.45"/>
<circle cx="33.79" cy="507.06" r="1.6" fill="#1a3c9b" fill-opacity="0.45"/>
<circle cx="34.06" cy="506.52" r="1.6" fill="#1a3c9b" fill-opacity="0.45"/>
<circle cx="36.98" cy="506.61" r="1.6" fill="#1a3c9b" fill-opacity="0.45"/>
<circle cx="36.89" cy="507.51" r="1.6" fill="#1a3c9b" fill-opacity="0.45"/>
<circle cx="30.1" cy="506.32" r="1.6" fill="#1a3c9b" fill-opacity="0.45"/>
<circle cx="33.29" cy="507.43" r="1.6" fill="#1a3c9b" fill-opacity="0.45"/>
<circle cx="31.16" cy="507.03" r="1.6" fill="#1a3c9b" fill-opacity="0.45"/>
<circle cx="32.51" cy="507.37" r="1.6" fill="#1a3c9b" fill-opacity="0.45"/>
<circle cx="36.48" cy="507.32" r="1.6" fill="#1a3c9b" fill-opacity="0.45"/>
<circle cx="31.27" cy="507.32" r="1.6" fill="#1a3c9b" fill-opacity="0.45"/>
<circle cx="33.01" cy="507.47" r="1.6" fill="#1a3c9b" fill-opacity="0.45"/>
<circle cx="33.24" cy="507.61" r="1.6" fill="#1a3c9b" fill-opacity="0.45"/>
<circle cx="36.9" cy="507.45" r="1.6" fill="#1a3c9b" fill-opacity="0.45"/>
<circle cx="35.77" cy="507.44" r="1.6" fill="#1a3c9b" fill-opacity="0.45"/>
<circle cx="34.1" cy="506.15" r="1.6" fill="#1a3c9b" fill-opacity="0.45"/>
<circle cx="36.9" cy="506.73" r="1.6" fill="#1a3c9b" fill-opacity="0.45"/>
<circle cx="30.02" cy="506.67" r="1.6" fill="#1a3c9b" fill-opacity="0.45"/>
<circle cx="32.85" cy="506.2" r="1.6" fill="#1a3c9b" fill-opacity="0.45"/>
<circle cx="36.72" cy="506.02" r="1.6" fill="#1a3c9b" fill-opacity="0.45"/>
<circle cx="36.32" cy="506.9" r="1.6" fill="#1a3c9b" fill-opacity="0.45"/>
<circle cx="31.17" cy="506.52" r="1.6" fill="#1a3c9b" fill-opacity="0.45"/>
<circle cx="33.1" cy="506.04" r="1.6" fill="#1a3c9b" fill-opacity="0.45"/>
<circle cx="35.32" cy="507.1" r="1.6" fill="#1a3c9b" fill-opacity="0.45"/>
<circle cx="36.87" cy="507.46" r="1.6" fill="#1a3c9b" fill-opacity="0.45"/>
<circle cx="35.48" cy="507.79" r="1.6" fill="#1a3c9b" fill-opacity="0.45"/>
<line x1="29.4" y1="506.8" x2="37.5" y2="506.8" stroke="#1a3c9b" stroke-width="1.8"/>
<circle cx="46.75" cy="505.91" r="1.6" fill="#f01818" fill-opacity="0.45"/>
<circle cx="44.95" cy="506.77" r="1.6" fill="#f01818" fill-opacity="0.45"/>
<circle cx="46.49" cy="506.61" r="1.6" fill="#f01818" fill-opacity="0.45"/>
<circle cx="46.33" cy="506.12" r="1.6" fill="#f01818" fill-opacity="0.45"/>
<circle cx="46.86" cy="506.63" r="1.6" fill="#f01818" fill-opacity="0.45"/>
<circle cx="41.1" cy="506.49" r="1.6" fill="#f01818" fill-opacity="0.45"/>
<circle cx="44.28" cy="505.87" r="1.6" fill="#f01818" fill-opacity="0.45"/>
<circle cx="42.55" cy="505.82" r="1.6" fill="#f01818" fill-opacity="0.45"/>
<circle cx="40.29" cy="506.14" r="1.6" fill="#f01818" fill-opacity="0.45"/>
<circle cx="41.44" cy="506.35" r="1.6" fill="#f01818" fill-opacity="0.45"/>
<circle cx="45.32" cy="506.63" r="1.6" fill="#f01818" fill-opacity="0.45"/>
<circle cx="45.89" cy="507.6" r="1.6" fill="#f01818" fill-opacity="0.45"/>
<circle cx="46.16" cy="507.7" r="1.6" fill="#f01818" fill-opacity="0.45"/>
<circle cx="43.89" cy="507.14" r="1.6" fill="#f01818" fill-opacity="0.45"/>
<circle cx="46.06" cy="506.89" r="1.6" fill="#f01818" fill-opacity="0.45"/>
<circle cx="40.81" cy="506.84" r="1.6" fill="#f01818" fill-opacity="0.45"/>
<circle cx="43.56" cy="506.16" r="1.6" fill="#f01818" fill-opacity="0.45"/>
<circle cx="40.46" cy="506.17" r="1.6" fill="#f01818" fill-opacity="0.45"/>
<circle cx="44.75" cy="507.42" r="1.6" fill="#f01818" fill-opacity="0.45"/>
<circle cx="44.46" cy="506.65" r="1.6" fill="#f01818" fill-opacity="0.45"/>
<line x1="39.3" y1="506.8" x2="47.4" y2="506.8" stroke="#f01818" stroke-width="1.8"/>
<circle cx="63.24" cy="507.58" r="1.6" fill="#1a3c9b" fill-opacity="0.45"/>
<circle cx="62.09" cy="507.22" r="1.6" fill="#1a3c9b" fill-opacity="0.45"/>
<circle cx="65.55" cy="506.84" r="1.6" fill="#1a3c9b" fill-opacity="0.45"/>
<circle cx="64.08" cy="507.26" r="1.6" fill="#1a3c9b" fill-opacity="0.45"/>
<circle cx="64.98" cy="505.87" r="1.6" fill="#1a3c9b" fill-opacity="0.45"/>
<circle cx="60.02" cy="507.79" r="1.6" fill="#1a3c9b" fill-opacity="0.45"/>
<circle cx="64.18" cy="506.32" r="1.6" fill="#1a3c9b" fill-opacity="0.45"/>
<circle cx="64.15" cy="506.14" r="1.6" fill="#1a3c9b" fill-opacity="0.45"/>
<circle cx="61.39" cy="506.68" r="1.6" fill="#1a3c9b" fill-opacity="0.45"/>
<circle cx="60.45" cy="506.08" r="1.6" fill="#1a3c9b" fill-opacity="0.45"/>
<circle cx="62.45" cy="507.09" r="1.6" fill="#1a3c9b" fill-opacity="0.45"/>
<circle cx="61.09" cy="507.12" r="1.6" fill="#1a3c9b" fill-opacity="0.45"/>
<circle cx="65.87" cy="505.91" r="1.6" fill="#1a3c9b" fill-opacity="0.45"/>
<circle cx="60.8" cy="505.98" r="1.6" fill="#1a3c9b" fill-opacity="0.45"/>
<circle cx="63.68" cy="506.63" r="1.6" fill="#1a3c9b" fill-opacity="0.45"/>
<circle cx="61.96" cy="506.29" r="1.6" fill="#1a3c9b" fill-opacity="0.45"/>
<circle cx="64.39" cy="507.32" r="1.6" fill="#1a3c9b" fill-opacity="0.45"/>
<circle cx="62.02" cy="507.45" r="1.6" fill="#1a3c9b" fill-opacity="0.45"/>
<circle cx="60.46" cy="506.49" r="1.6" fill="#1a3c9b" fill-opacity="0.45"/>
<circle cx="65.7" cy="506.26" r="1.6" fill="#1a3c9b" fill-opacity="0.45"/>
<circle cx="59.84" cy="505.86" r="1.6" fill="#1a3c9b" fill-opacity="0.45"/>
<circle cx="63.64" cy="507.44" r="1.6" fill="#1a3c9b" fill-opacity="0.45"/>
<circle cx="59.17" cy="506.76" r="1.6" fill="#1a3c9b" fill-opacity="0.45"/>
<circle cx="61.65" cy="506.46" r="1.6" fill="#1a3c9b" fill-opacity="0.45"/>
<circle cx="60.49" cy="506.57" r="1.6" fill="#1a3c9b" fill-opacity="0.45"/>
<circle cx="59.82" cy="507.64" r="1.6" fill="#1a3c9b" fill-opacity="0.45"/>
<circle cx="60.23" cy="506.87" r="1.6" fill="#1a3c9b" fill-opacity="0.45"/>
<circle cx="63.41" cy="507.11" r="1.6" fill="#1a3c9b" fill-opacity="0.45"/>
<circle cx="62.22" cy="506.85" r="1.6" fill="#1a3c9b" fill-opacity="0.45"/>
<circle cx="65.54" cy="506.15" r="1.6" fill="#1a3c9b" fill-opacity="0.45"/>
<circle cx="60.24" cy="506.4" r="1.6" fill="#1a3c9b" fill-opacity="0.45"/>
<circle cx="64.13" cy="506.65" r="1.6" fill="#1a3c9b" fill-opacity="0.45"/>
<circle cx="61.61" cy="505.95" r="1.6" fill="#1a3c9b" fill-opacity="0.45"/>
<circle cx="59.71" cy="507.1" r="1.6" fill="#1a3c9b" fill-opacity="0.45"/>
<circle cx="60.45" cy="506.72" r="1.6" fill="#1a3c9b" fill-opacity="0.45"/>
<line x1="58.3" y1="506.8" x2="66.5" y2="506.8" stroke="#1a3c9b" stroke-width="1.8"/>
<circle cx="75.92" cy="506.07" r="1.6" fill="#f01818" fill-opacity="0.45"/>
<circle cx="73.09" cy="506.77" r="1.6" fill="#f01818" fill-opacity="0.45"/>
<circle cx="76.28" cy="506.56" r="1.6" fill="#f01818" fill-opacity="0.45"/>
<circle cx="72.23" cy="506.95" r="1.6" fill="#f01818" fill-opacity="0.45"/>
<circle cx="71.72" cy="507.62" r="1.6" fill="#f01818" fill-opacity="0.45"/>
<circle cx="75.64" cy="507.25" r="1.6" fill="#f01818" fill-opacity="0.45"/>
<circle cx="69.14" cy="507.78" r="1.6" fill="#f01818" fill-opacity="0.45"/>
<circle cx="73.04" cy="507" r="1.6" fill="#f01818" fill-opacity="0.45"/>
<circle cx="72.98" cy="506.83" r="1.6" fill="#f01818" fill-opacity="0.45"/>
<circle cx="76.05" cy="506.35" r="1.6" fill="#f01818" fill-opacity="0.45"/>
<circle cx="69.83" cy="507.8" r="1.6" fill="#f01818" fill-opacity="0.45"/>
<circle cx="70.76" cy="506.36" r="1.6" fill="#f01818" fill-opacity="0.45"/>
<circle cx="72.16" cy="507.6" r="1.6" fill="#f01818" fill-opacity="0.45"/>
<circle cx="71.67" cy="505.83" r="1.6" fill="#f01818" fill-opacity="0.45"/>
<circle cx="70.8" cy="506.26" r="1.6" fill="#f01818" fill-opacity="0.45"/>
<circle cx="68.86" cy="507.58" r="1.6" fill="#f01818" fill-opacity="0.45"/>
<circle cx="74.5" cy="506.07" r="1.6" fill="#f01818" fill-opacity="0.45"/>
<circle cx="70.62" cy="507.76" r="1.6" fill="#f01818" fill-opacity="0.45"/>
<circle cx="74.23" cy="506.69" r="1.6" fill="#f01818" fill-opacity="0.45"/>
<circle cx="73.28" cy="507.77" r="1.6" fill="#f01818" fill-opacity="0.45"/>
<circle cx="70.59" cy="507.06" r="1.6" fill="#f01818" fill-opacity="0.45"/>
<circle cx="68.83" cy="506.77" r="1.6" fill="#f01818" fill-opacity="0.45"/>
<circle cx="70.56" cy="506.48" r="1.6" fill="#f01818" fill-opacity="0.45"/>
<circle cx="71.81" cy="506.65" r="1.6" fill="#f01818" fill-opacity="0.45"/>
<circle cx="75.77" cy="506.53" r="1.6" fill="#f01818" fill-opacity="0.45"/>
<line x1="68.2" y1="506.8" x2="77.1" y2="506.8" stroke="#f01818" stroke-width="1.8"/>
<circle cx="62.9" cy="449.4" r="1.7" fill="#1a3c9b" fill-opacity="0.3"/>
<circle cx="64.7" cy="474.3" r="1.7" fill="#1a3c9b" fill-opacity="0.3"/>
<circle cx="60.1" cy="494.6" r="1.7" fill="#1a3c9b" fill-opacity="0.3"/>
<circle cx="60.9" cy="497.9" r="1.7" fill="#1a3c9b" fill-opacity="0.3"/>
<circle cx="63.9" cy="500.4" r="1.7" fill="#1a3c9b" fill-opacity="0.3"/>
<circle cx="59.4" cy="502.6" r="1.7" fill="#1a3c9b" fill-opacity="0.3"/>
<circle cx="73.1" cy="504.2" r="1.7" fill="#f01818" fill-opacity="0.3"/>
<path d="M32.3,485.1 L32.3,464.6 L62.7,464.6 L62.7,467.5" fill="none" stroke="#4a4a4a" stroke-width="0.75"/>
<text x="47.5" y="467.07" font-size="9.5" text-anchor="middle" font-weight="bold" fill="#1a1a1a">*</text>
<text x="6.4" y="477.8" font-size="8.7" text-anchor="middle" fill="#222" transform="rotate(-90 6.4 477.8)">Cluster 4 (%)</text>
<rect x="112.4" y="446.4" width="64.2" height="62.7" fill="#fff"/>
<line x1="112.4" y1="459" x2="176.6" y2="459" stroke="#f3f3f3" stroke-width="0.5"/>
<line x1="112.4" y1="478.15" x2="176.6" y2="478.15" stroke="#f3f3f3" stroke-width="0.5"/>
<line x1="112.4" y1="497.35" x2="176.6" y2="497.35" stroke="#f3f3f3" stroke-width="0.5"/>
<line x1="112.4" y1="449.5" x2="176.6" y2="449.5" stroke="#ebebeb" stroke-width="0.6"/>
<line x1="112.4" y1="468.5" x2="176.6" y2="468.5" stroke="#ebebeb" stroke-width="0.6"/>
<line x1="112.4" y1="487.8" x2="176.6" y2="487.8" stroke="#ebebeb" stroke-width="0.6"/>
<line x1="112.4" y1="506.9" x2="176.6" y2="506.9" stroke="#ebebeb" stroke-width="0.6"/>
<line x1="130.2" y1="446.4" x2="130.2" y2="509.1" stroke="#ebebeb" stroke-width="0.6"/>
<line x1="159.6" y1="446.4" x2="159.6" y2="509.1" stroke="#ebebeb" stroke-width="0.6"/>
<rect x="112.4" y="446.4" width="64.2" height="62.7" fill="none" stroke="#c9c9c9" stroke-width="0.8"/>
<line x1="110.9" y1="449.5" x2="112.4" y2="449.5" stroke="#555" stroke-width="0.5"/>
<text x="110.4" y="451.32" font-size="5.2" text-anchor="end" fill="#666">30</text>
<line x1="110.9" y1="468.5" x2="112.4" y2="468.5" stroke="#555" stroke-width="0.5"/>
<text x="110.4" y="470.32" font-size="5.2" text-anchor="end" fill="#666">20</text>
<line x1="110.9" y1="487.8" x2="112.4" y2="487.8" stroke="#555" stroke-width="0.5"/>
<text x="110.4" y="489.62" font-size="5.2" text-anchor="end" fill="#666">10</text>
<line x1="110.9" y1="506.9" x2="112.4" y2="506.9" stroke="#555" stroke-width="0.5"/>
<text x="110.4" y="508.72" font-size="5.2" text-anchor="end" fill="#666">0</text>
<line x1="130.2" y1="509.1" x2="130.2" y2="510.6" stroke="#555" stroke-width="0.5"/>
<line x1="159.6" y1="509.1" x2="159.6" y2="510.6" stroke="#555" stroke-width="0.5"/>
<circle cx="127.17" cy="494.41" r="1.6" fill="#1a3c9b" fill-opacity="0.3"/>
<circle cx="126.3" cy="490.21" r="1.6" fill="#1a3c9b" fill-opacity="0.3"/>
<circle cx="124.14" cy="490.9" r="1.6" fill="#1a3c9b" fill-opacity="0.3"/>
<circle cx="125.84" cy="487.48" r="1.6" fill="#1a3c9b" fill-opacity="0.3"/>
<circle cx="125.86" cy="490.72" r="1.6" fill="#1a3c9b" fill-opacity="0.3"/>
<circle cx="122.18" cy="492.22" r="1.6" fill="#1a3c9b" fill-opacity="0.3"/>
<circle cx="123.29" cy="473.22" r="1.6" fill="#1a3c9b" fill-opacity="0.3"/>
<circle cx="128.44" cy="475.18" r="1.6" fill="#1a3c9b" fill-opacity="0.3"/>
<circle cx="125.81" cy="493.95" r="1.6" fill="#1a3c9b" fill-opacity="0.3"/>
<circle cx="123.04" cy="497.19" r="1.6" fill="#1a3c9b" fill-opacity="0.3"/>
<circle cx="121.54" cy="486.82" r="1.6" fill="#1a3c9b" fill-opacity="0.3"/>
<circle cx="123.99" cy="484.75" r="1.6" fill="#1a3c9b" fill-opacity="0.3"/>
<circle cx="124.27" cy="504.53" r="1.6" fill="#1a3c9b" fill-opacity="0.3"/>
<circle cx="121.58" cy="490.66" r="1.6" fill="#1a3c9b" fill-opacity="0.3"/>
<circle cx="125.73" cy="495.56" r="1.6" fill="#1a3c9b" fill-opacity="0.3"/>
<circle cx="124.27" cy="493.18" r="1.6" fill="#1a3c9b" fill-opacity="0.3"/>
<circle cx="124.05" cy="486.9" r="1.6" fill="#1a3c9b" fill-opacity="0.3"/>
<circle cx="125.97" cy="496.71" r="1.6" fill="#1a3c9b" fill-opacity="0.3"/>
<circle cx="128.28" cy="478.17" r="1.6" fill="#1a3c9b" fill-opacity="0.3"/>
<circle cx="123.9" cy="488.13" r="1.6" fill="#1a3c9b" fill-opacity="0.3"/>
<circle cx="126.83" cy="467.04" r="1.6" fill="#1a3c9b" fill-opacity="0.3"/>
<circle cx="124.59" cy="498" r="1.6" fill="#1a3c9b" fill-opacity="0.3"/>
<circle cx="126.43" cy="500.01" r="1.6" fill="#1a3c9b" fill-opacity="0.3"/>
<circle cx="125.66" cy="467.95" r="1.6" fill="#1a3c9b" fill-opacity="0.3"/>
<circle cx="122.65" cy="470.63" r="1.6" fill="#1a3c9b" fill-opacity="0.3"/>
<circle cx="124.17" cy="485.34" r="1.6" fill="#1a3c9b" fill-opacity="0.3"/>
<circle cx="122.96" cy="489.08" r="1.6" fill="#1a3c9b" fill-opacity="0.3"/>
<circle cx="122.2" cy="491.65" r="1.6" fill="#1a3c9b" fill-opacity="0.3"/>
<circle cx="125.53" cy="502.63" r="1.6" fill="#1a3c9b" fill-opacity="0.3"/>
<circle cx="122.27" cy="495.15" r="1.6" fill="#1a3c9b" fill-opacity="0.3"/>
<circle cx="124.83" cy="486.78" r="1.6" fill="#1a3c9b" fill-opacity="0.3"/>
<circle cx="122.85" cy="489.48" r="1.6" fill="#1a3c9b" fill-opacity="0.3"/>
<circle cx="125.44" cy="501.06" r="1.6" fill="#1a3c9b" fill-opacity="0.3"/>
<circle cx="125.08" cy="492.35" r="1.6" fill="#1a3c9b" fill-opacity="0.3"/>
<circle cx="122.11" cy="485.53" r="1.6" fill="#1a3c9b" fill-opacity="0.3"/>
<rect x="120.3" y="484.5" width="9.1" height="17.8" fill="none" stroke="#1a3c9b" stroke-width="0.7"/>
<line x1="124.85" y1="460" x2="124.85" y2="504.6" stroke="#1a3c9b" stroke-width="1.2"/>
<line x1="120.3" y1="460" x2="129.4" y2="460" stroke="#1a3c9b" stroke-width="1.2"/>
<line x1="120.3" y1="504.6" x2="129.4" y2="504.6" stroke="#1a3c9b" stroke-width="1.2"/>
<line x1="120.3" y1="499.3" x2="129.4" y2="499.3" stroke="#1a3c9b" stroke-width="1.2"/>
<circle cx="138.77" cy="483.29" r="1.6" fill="#f01818" fill-opacity="0.3"/>
<circle cx="138.2" cy="494.96" r="1.6" fill="#f01818" fill-opacity="0.3"/>
<circle cx="132.46" cy="495.32" r="1.6" fill="#f01818" fill-opacity="0.3"/>
<circle cx="132.54" cy="503.44" r="1.6" fill="#f01818" fill-opacity="0.3"/>
<circle cx="135.25" cy="495.03" r="1.6" fill="#f01818" fill-opacity="0.3"/>
<circle cx="135.8" cy="487.5" r="1.6" fill="#f01818" fill-opacity="0.3"/>
<circle cx="131.81" cy="492.92" r="1.6" fill="#f01818" fill-opacity="0.3"/>
<circle cx="136.01" cy="492.96" r="1.6" fill="#f01818" fill-opacity="0.3"/>
<circle cx="133.87" cy="486.6" r="1.6" fill="#f01818" fill-opacity="0.3"/>
<circle cx="133.6" cy="498.86" r="1.6" fill="#f01818" fill-opacity="0.3"/>
<circle cx="136.58" cy="494.66" r="1.6" fill="#f01818" fill-opacity="0.3"/>
<circle cx="136.91" cy="492.6" r="1.6" fill="#f01818" fill-opacity="0.3"/>
<circle cx="131.31" cy="493.36" r="1.6" fill="#f01818" fill-opacity="0.3"/>
<circle cx="134.05" cy="492.02" r="1.6" fill="#f01818" fill-opacity="0.3"/>
<circle cx="137.8" cy="503.53" r="1.6" fill="#f01818" fill-opacity="0.3"/>
<circle cx="138.19" cy="495.78" r="1.6" fill="#f01818" fill-opacity="0.3"/>
<circle cx="136.4" cy="474.9" r="1.68" fill="#f01818" fill-opacity="0.3"/>
<rect x="130.4" y="491.2" width="9.4" height="8.1" fill="none" stroke="#f01818" stroke-width="0.7"/>
<line x1="135.1" y1="479" x2="135.1" y2="503.8" stroke="#f01818" stroke-width="1.2"/>
<line x1="130.4" y1="479" x2="139.8" y2="479" stroke="#f01818" stroke-width="1.2"/>
<line x1="130.4" y1="503.8" x2="139.8" y2="503.8" stroke="#f01818" stroke-width="1.2"/>
<line x1="130.4" y1="497" x2="139.8" y2="497" stroke="#f01818" stroke-width="1.2"/>
<circle cx="157.32" cy="503.86" r="1.6" fill="#1a3c9b" fill-opacity="0.3"/>
<circle cx="156.12" cy="503.11" r="1.6" fill="#1a3c9b" fill-opacity="0.3"/>
<circle cx="151.05" cy="503.53" r="1.6" fill="#1a3c9b" fill-opacity="0.3"/>
<circle cx="155.08" cy="505.7" r="1.6" fill="#1a3c9b" fill-opacity="0.3"/>
<circle cx="157.04" cy="505.84" r="1.6" fill="#1a3c9b" fill-opacity="0.3"/>
<circle cx="155.55" cy="503.79" r="1.6" fill="#1a3c9b" fill-opacity="0.3"/>
<circle cx="157.08" cy="506.24" r="1.6" fill="#1a3c9b" fill-opacity="0.3"/>
<circle cx="155.1" cy="501.03" r="1.6" fill="#1a3c9b" fill-opacity="0.3"/>
<circle cx="154.15" cy="505.1" r="1.6" fill="#1a3c9b" fill-opacity="0.3"/>
<circle cx="150.77" cy="506.03" r="1.6" fill="#1a3c9b" fill-opacity="0.3"/>
<circle cx="157.75" cy="503.99" r="1.6" fill="#1a3c9b" fill-opacity="0.3"/>
<circle cx="157.57" cy="504.88" r="1.6" fill="#1a3c9b" fill-opacity="0.3"/>
<circle cx="153.46" cy="506.35" r="1.6" fill="#1a3c9b" fill-opacity="0.3"/>
<circle cx="153.27" cy="504.13" r="1.6" fill="#1a3c9b" fill-opacity="0.3"/>
<circle cx="157.89" cy="503.07" r="1.6" fill="#1a3c9b" fill-opacity="0.3"/>
<circle cx="154.49" cy="504.46" r="1.6" fill="#1a3c9b" fill-opacity="0.3"/>
<circle cx="157.76" cy="503.61" r="1.6" fill="#1a3c9b" fill-opacity="0.3"/>
<circle cx="156.08" cy="502.76" r="1.6" fill="#1a3c9b" fill-opacity="0.3"/>
<circle cx="153.24" cy="499.62" r="1.6" fill="#1a3c9b" fill-opacity="0.3"/>
<circle cx="154.55" cy="504.03" r="1.6" fill="#1a3c9b" fill-opacity="0.3"/>
<circle cx="157.02" cy="503.24" r="1.6" fill="#1a3c9b" fill-opacity="0.3"/>
<circle cx="151.48" cy="505.69" r="1.6" fill="#1a3c9b" fill-opacity="0.3"/>
<circle cx="150.78" cy="504.58" r="1.6" fill="#1a3c9b" fill-opacity="0.3"/>
<circle cx="153.47" cy="503.44" r="1.6" fill="#1a3c9b" fill-opacity="0.3"/>
<circle cx="154.31" cy="505.6" r="1.6" fill="#1a3c9b" fill-opacity="0.3"/>
<circle cx="154.08" cy="504.92" r="1.6" fill="#1a3c9b" fill-opacity="0.3"/>
<circle cx="154.86" cy="505.6" r="1.6" fill="#1a3c9b" fill-opacity="0.3"/>
<circle cx="153.48" cy="504.75" r="1.6" fill="#1a3c9b" fill-opacity="0.3"/>
<circle cx="155.15" cy="506.3" r="1.6" fill="#1a3c9b" fill-opacity="0.3"/>
<circle cx="153.78" cy="502.92" r="1.6" fill="#1a3c9b" fill-opacity="0.3"/>
<circle cx="154.12" cy="505.19" r="1.6" fill="#1a3c9b" fill-opacity="0.3"/>
<circle cx="154.93" cy="505.82" r="1.6" fill="#1a3c9b" fill-opacity="0.3"/>
<circle cx="153.64" cy="506.33" r="1.6" fill="#1a3c9b" fill-opacity="0.3"/>
<circle cx="150.89" cy="502.42" r="1.6" fill="#1a3c9b" fill-opacity="0.3"/>
<circle cx="156.36" cy="502.4" r="1.6" fill="#1a3c9b" fill-opacity="0.3"/>
<circle cx="153.59" cy="504.13" r="1.6" fill="#1a3c9b" fill-opacity="0.3"/>
<circle cx="156.51" cy="505.43" r="1.6" fill="#1a3c9b" fill-opacity="0.3"/>
<circle cx="150.6" cy="503.31" r="1.6" fill="#1a3c9b" fill-opacity="0.3"/>
<circle cx="156.88" cy="501.09" r="1.6" fill="#1a3c9b" fill-opacity="0.3"/>
<circle cx="151.08" cy="506.25" r="1.6" fill="#1a3c9b" fill-opacity="0.3"/>
<circle cx="152.33" cy="500.2" r="1.6" fill="#1a3c9b" fill-opacity="0.3"/>
<circle cx="153.86" cy="503.81" r="1.6" fill="#1a3c9b" fill-opacity="0.3"/>
<circle cx="154.3" cy="481.8" r="1.68" fill="#1a3c9b" fill-opacity="0.3"/>
<circle cx="155" cy="487.5" r="1.68" fill="#1a3c9b" fill-opacity="0.3"/>
<circle cx="153" cy="492.4" r="1.68" fill="#1a3c9b" fill-opacity="0.3"/>
<circle cx="158" cy="485.6" r="1.68" fill="#1a3c9b" fill-opacity="0.3"/>
<circle cx="156.5" cy="483" r="1.68" fill="#1a3c9b" fill-opacity="0.3"/>
<rect x="149.7" y="502.8" width="9.1" height="3.6" fill="none" stroke="#1a3c9b" stroke-width="0.7"/>
<line x1="154.25" y1="499.3" x2="154.25" y2="506.9" stroke="#1a3c9b" stroke-width="1.2"/>
<line x1="149.7" y1="499.3" x2="158.8" y2="499.3" stroke="#1a3c9b" stroke-width="1.2"/>
<line x1="149.7" y1="506.9" x2="158.8" y2="506.9" stroke="#1a3c9b" stroke-width="1.2"/>
<line x1="149.7" y1="504.6" x2="158.8" y2="504.6" stroke="#1a3c9b" stroke-width="1.2"/>
<circle cx="163.43" cy="505.44" r="1.6" fill="#f01818" fill-opacity="0.3"/>
<circle cx="167.81" cy="503.07" r="1.6" fill="#f01818" fill-opacity="0.3"/>
<circle cx="166.42" cy="506.14" r="1.6" fill="#f01818" fill-opacity="0.3"/>
<circle cx="165.3" cy="505.93" r="1.6" fill="#f01818" fill-opacity="0.3"/>
<circle cx="163.7" cy="506.04" r="1.6" fill="#f01818" fill-opacity="0.3"/>
<circle cx="165.5" cy="503.33" r="1.6" fill="#f01818" fill-opacity="0.3"/>
<circle cx="161.19" cy="503.97" r="1.6" fill="#f01818" fill-opacity="0.3"/>
<circle cx="162.04" cy="505.33" r="1.6" fill="#f01818" fill-opacity="0.3"/>
<circle cx="166.17" cy="505.92" r="1.6" fill="#f01818" fill-opacity="0.3"/>
<circle cx="165.97" cy="504.36" r="1.6" fill="#f01818" fill-opacity="0.3"/>
<circle cx="162.7" cy="504.4" r="1.6" fill="#f01818" fill-opacity="0.3"/>
<circle cx="161.74" cy="505.07" r="1.6" fill="#f01818" fill-opacity="0.3"/>
<circle cx="162" cy="505.01" r="1.6" fill="#f01818" fill-opacity="0.3"/>
<circle cx="165.45" cy="504.53" r="1.6" fill="#f01818" fill-opacity="0.3"/>
<circle cx="166.45" cy="503.12" r="1.6" fill="#f01818" fill-opacity="0.3"/>
<circle cx="167.05" cy="506.03" r="1.6" fill="#f01818" fill-opacity="0.3"/>
<circle cx="164.67" cy="505.47" r="1.6" fill="#f01818" fill-opacity="0.3"/>
<circle cx="165.32" cy="506.3" r="1.6" fill="#f01818" fill-opacity="0.3"/>
<circle cx="162.33" cy="503.58" r="1.6" fill="#f01818" fill-opacity="0.3"/>
<circle cx="163.19" cy="504.17" r="1.6" fill="#f01818" fill-opacity="0.3"/>
<circle cx="162.64" cy="505.95" r="1.6" fill="#f01818" fill-opacity="0.3"/>
<circle cx="167.29" cy="504.09" r="1.6" fill="#f01818" fill-opacity="0.3"/>
<circle cx="162.9" cy="504.24" r="1.6" fill="#f01818" fill-opacity="0.3"/>
<circle cx="167.68" cy="506.25" r="1.6" fill="#f01818" fill-opacity="0.3"/>
<circle cx="162.78" cy="505.55" r="1.6" fill="#f01818" fill-opacity="0.3"/>
<circle cx="166" cy="503.15" r="1.6" fill="#f01818" fill-opacity="0.3"/>
<circle cx="166.72" cy="505.62" r="1.6" fill="#f01818" fill-opacity="0.3"/>
<circle cx="165.87" cy="506.83" r="1.6" fill="#f01818" fill-opacity="0.3"/>
<circle cx="165.07" cy="504.65" r="1.6" fill="#f01818" fill-opacity="0.3"/>
<circle cx="163.3" cy="504.82" r="1.6" fill="#f01818" fill-opacity="0.3"/>
<circle cx="165.49" cy="504.89" r="1.6" fill="#f01818" fill-opacity="0.3"/>
<circle cx="165" cy="505.57" r="1.6" fill="#f01818" fill-opacity="0.3"/>
<circle cx="166.15" cy="506.36" r="1.6" fill="#f01818" fill-opacity="0.3"/>
<circle cx="164.63" cy="504.86" r="1.6" fill="#f01818" fill-opacity="0.3"/>
<circle cx="160.59" cy="504.57" r="1.6" fill="#f01818" fill-opacity="0.3"/>
<rect x="159.6" y="503.8" width="9.1" height="2.6" fill="none" stroke="#f01818" stroke-width="0.7"/>
<line x1="164.15" y1="503" x2="164.15" y2="506.9" stroke="#f01818" stroke-width="1.2"/>
<line x1="159.6" y1="503" x2="168.7" y2="503" stroke="#f01818" stroke-width="1.2"/>
<line x1="159.6" y1="506.9" x2="168.7" y2="506.9" stroke="#f01818" stroke-width="1.2"/>
<line x1="159.6" y1="505" x2="168.7" y2="505" stroke="#f01818" stroke-width="1.2"/>
<path d="M124.3,457.4 L124.3,454 L154.7,454 L154.7,461.2" fill="none" stroke="#4a4a4a" stroke-width="0.75"/>
<text x="139.8" y="456.47" font-size="9.5" text-anchor="middle" font-weight="bold" fill="#1a1a1a">****</text>
<path d="M135.2,471.1 L135.2,467 L163.8,467 L163.8,474.4" fill="none" stroke="#4a4a4a" stroke-width="0.75"/>
<text x="150.4" y="469.47" font-size="9.5" text-anchor="middle" font-weight="bold" fill="#1a1a1a">****</text>
<text x="97.4" y="477.9" font-size="8.7" text-anchor="middle" fill="#222" transform="rotate(-90 97.4 477.9)">Cluster 6 (%)</text>
<rect x="200.4" y="446.4" width="64.3" height="63.1" fill="#fff"/>
<line x1="200.4" y1="466.05" x2="264.7" y2="466.05" stroke="#f3f3f3" stroke-width="0.5"/>
<line x1="200.4" y1="482.5" x2="264.7" y2="482.5" stroke="#f3f3f3" stroke-width="0.5"/>
<line x1="200.4" y1="498.75" x2="264.7" y2="498.75" stroke="#f3f3f3" stroke-width="0.5"/>
<line x1="200.4" y1="457.7" x2="264.7" y2="457.7" stroke="#ebebeb" stroke-width="0.6"/>
<line x1="200.4" y1="474.4" x2="264.7" y2="474.4" stroke="#ebebeb" stroke-width="0.6"/>
<line x1="200.4" y1="490.6" x2="264.7" y2="490.6" stroke="#ebebeb" stroke-width="0.6"/>
<line x1="200.4" y1="506.9" x2="264.7" y2="506.9" stroke="#ebebeb" stroke-width="0.6"/>
<line x1="218" y1="446.4" x2="218" y2="509.5" stroke="#ebebeb" stroke-width="0.6"/>
<line x1="247.3" y1="446.4" x2="247.3" y2="509.5" stroke="#ebebeb" stroke-width="0.6"/>
<rect x="200.4" y="446.4" width="64.3" height="63.1" fill="none" stroke="#c9c9c9" stroke-width="0.8"/>
<line x1="198.9" y1="457.7" x2="200.4" y2="457.7" stroke="#555" stroke-width="0.5"/>
<text x="198.4" y="459.52" font-size="5.2" text-anchor="end" fill="#666">60</text>
<line x1="198.9" y1="474.4" x2="200.4" y2="474.4" stroke="#555" stroke-width="0.5"/>
<text x="198.4" y="476.22" font-size="5.2" text-anchor="end" fill="#666">40</text>
<line x1="198.9" y1="490.6" x2="200.4" y2="490.6" stroke="#555" stroke-width="0.5"/>
<text x="198.4" y="492.42" font-size="5.2" text-anchor="end" fill="#666">20</text>
<line x1="198.9" y1="506.9" x2="200.4" y2="506.9" stroke="#555" stroke-width="0.5"/>
<text x="198.4" y="508.72" font-size="5.2" text-anchor="end" fill="#666">0</text>
<line x1="218" y1="509.5" x2="218" y2="511" stroke="#555" stroke-width="0.5"/>
<line x1="247.3" y1="509.5" x2="247.3" y2="511" stroke="#555" stroke-width="0.5"/>
<circle cx="215.22" cy="503.18" r="1.6" fill="#1a3c9b" fill-opacity="0.3"/>
<circle cx="212.99" cy="504.17" r="1.6" fill="#1a3c9b" fill-opacity="0.3"/>
<circle cx="215.64" cy="504.62" r="1.6" fill="#1a3c9b" fill-opacity="0.3"/>
<circle cx="210.81" cy="504.3" r="1.6" fill="#1a3c9b" fill-opacity="0.3"/>
<circle cx="209.15" cy="504.87" r="1.6" fill="#1a3c9b" fill-opacity="0.3"/>
<circle cx="215.33" cy="504.17" r="1.6" fill="#1a3c9b" fill-opacity="0.3"/>
<circle cx="209.84" cy="505.95" r="1.6" fill="#1a3c9b" fill-opacity="0.3"/>
<circle cx="211.59" cy="504.37" r="1.6" fill="#1a3c9b" fill-opacity="0.3"/>
<circle cx="213.63" cy="505.78" r="1.6" fill="#1a3c9b" fill-opacity="0.3"/>
<circle cx="214.12" cy="503.95" r="1.6" fill="#1a3c9b" fill-opacity="0.3"/>
<circle cx="211.34" cy="505.71" r="1.6" fill="#1a3c9b" fill-opacity="0.3"/>
<circle cx="210.86" cy="505.62" r="1.6" fill="#1a3c9b" fill-opacity="0.3"/>
<circle cx="210.78" cy="503.76" r="1.6" fill="#1a3c9b" fill-opacity="0.3"/>
<circle cx="215.02" cy="501.55" r="1.6" fill="#1a3c9b" fill-opacity="0.3"/>
<circle cx="212.09" cy="505.33" r="1.6" fill="#1a3c9b" fill-opacity="0.3"/>
<circle cx="211.98" cy="506.04" r="1.6" fill="#1a3c9b" fill-opacity="0.3"/>
<circle cx="210.61" cy="503.24" r="1.6" fill="#1a3c9b" fill-opacity="0.3"/>
<circle cx="213.19" cy="502.55" r="1.6" fill="#1a3c9b" fill-opacity="0.3"/>
<circle cx="208.84" cy="504.96" r="1.6" fill="#1a3c9b" fill-opacity="0.3"/>
<circle cx="212.25" cy="502.95" r="1.6" fill="#1a3c9b" fill-opacity="0.3"/>
<circle cx="209.8" cy="506.18" r="1.6" fill="#1a3c9b" fill-opacity="0.3"/>
<circle cx="212.08" cy="505.09" r="1.6" fill="#1a3c9b" fill-opacity="0.3"/>
<circle cx="216.32" cy="504.99" r="1.6" fill="#1a3c9b" fill-opacity="0.3"/>
<circle cx="215.66" cy="506.87" r="1.6" fill="#1a3c9b" fill-opacity="0.3"/>
<circle cx="210.04" cy="503.7" r="1.6" fill="#1a3c9b" fill-opacity="0.3"/>
<circle cx="212.49" cy="504.16" r="1.6" fill="#1a3c9b" fill-opacity="0.3"/>
<circle cx="212.64" cy="503.35" r="1.6" fill="#1a3c9b" fill-opacity="0.3"/>
<circle cx="209.94" cy="503.17" r="1.6" fill="#1a3c9b" fill-opacity="0.3"/>
<circle cx="213.06" cy="506.6" r="1.6" fill="#1a3c9b" fill-opacity="0.3"/>
<circle cx="214.85" cy="502.48" r="1.6" fill="#1a3c9b" fill-opacity="0.3"/>
<circle cx="210.13" cy="501.67" r="1.6" fill="#1a3c9b" fill-opacity="0.3"/>
<circle cx="209.8" cy="505.92" r="1.6" fill="#1a3c9b" fill-opacity="0.3"/>
<circle cx="210.63" cy="506.29" r="1.6" fill="#1a3c9b" fill-opacity="0.3"/>
<circle cx="209.85" cy="502.34" r="1.6" fill="#1a3c9b" fill-opacity="0.3"/>
<circle cx="214.12" cy="506.29" r="1.6" fill="#1a3c9b" fill-opacity="0.3"/>
<circle cx="213.4" cy="488.6" r="1.68" fill="#1a3c9b" fill-opacity="0.3"/>
<circle cx="209.9" cy="494.7" r="1.68" fill="#1a3c9b" fill-opacity="0.3"/>
<rect x="208" y="502" width="9.2" height="4.1" fill="none" stroke="#1a3c9b" stroke-width="0.7"/>
<line x1="212.6" y1="501.5" x2="212.6" y2="506.9" stroke="#1a3c9b" stroke-width="1.2"/>
<line x1="208" y1="501.5" x2="217.2" y2="501.5" stroke="#1a3c9b" stroke-width="1.2"/>
<line x1="208" y1="506.9" x2="217.2" y2="506.9" stroke="#1a3c9b" stroke-width="1.2"/>
<line x1="208" y1="504.6" x2="217.2" y2="504.6" stroke="#1a3c9b" stroke-width="1.2"/>
<circle cx="220.75" cy="503.85" r="1.6" fill="#f01818" fill-opacity="0.3"/>
<circle cx="225.61" cy="503.17" r="1.6" fill="#f01818" fill-opacity="0.3"/>
<circle cx="226.12" cy="505.52" r="1.6" fill="#f01818" fill-opacity="0.3"/>
<circle cx="219.81" cy="503.98" r="1.6" fill="#f01818" fill-opacity="0.3"/>
<circle cx="221.67" cy="501.88" r="1.6" fill="#f01818" fill-opacity="0.3"/>
<circle cx="222.42" cy="504.97" r="1.6" fill="#f01818" fill-opacity="0.3"/>
<circle cx="225.46" cy="504.35" r="1.6" fill="#f01818" fill-opacity="0.3"/>
<circle cx="225.76" cy="503.5" r="1.6" fill="#f01818" fill-opacity="0.3"/>
<circle cx="226.52" cy="505.27" r="1.6" fill="#f01818" fill-opacity="0.3"/>
<circle cx="222.62" cy="503.41" r="1.6" fill="#f01818" fill-opacity="0.3"/>
<circle cx="220.38" cy="503.31" r="1.6" fill="#f01818" fill-opacity="0.3"/>
<circle cx="225.72" cy="506.74" r="1.6" fill="#f01818" fill-opacity="0.3"/>
<circle cx="221.25" cy="503.69" r="1.6" fill="#f01818" fill-opacity="0.3"/>
<circle cx="219.73" cy="502.27" r="1.6" fill="#f01818" fill-opacity="0.3"/>
<circle cx="223.96" cy="503.78" r="1.6" fill="#f01818" fill-opacity="0.3"/>
<circle cx="225.5" cy="502.04" r="1.6" fill="#f01818" fill-opacity="0.3"/>
<circle cx="221.73" cy="504.02" r="1.6" fill="#f01818" fill-opacity="0.3"/>
<circle cx="226.43" cy="505.7" r="1.6" fill="#f01818" fill-opacity="0.3"/>
<circle cx="225.2" cy="505.69" r="1.6" fill="#f01818" fill-opacity="0.3"/>
<circle cx="225.89" cy="503.03" r="1.6" fill="#f01818" fill-opacity="0.3"/>
<circle cx="219.07" cy="503.98" r="1.6" fill="#f01818" fill-opacity="0.3"/>
<circle cx="221.08" cy="502.44" r="1.6" fill="#f01818" fill-opacity="0.3"/>
<circle cx="225.23" cy="503.35" r="1.6" fill="#f01818" fill-opacity="0.3"/>
<circle cx="221.94" cy="502.64" r="1.6" fill="#f01818" fill-opacity="0.3"/>
<circle cx="224.12" cy="502.78" r="1.6" fill="#f01818" fill-opacity="0.3"/>
<circle cx="224.56" cy="502.49" r="1.6" fill="#f01818" fill-opacity="0.3"/>
<circle cx="219.58" cy="502.04" r="1.6" fill="#f01818" fill-opacity="0.3"/>
<circle cx="225.31" cy="506.43" r="1.6" fill="#f01818" fill-opacity="0.3"/>
<circle cx="224.5" cy="496.7" r="1.68" fill="#f01818" fill-opacity="0.3"/>
<rect x="218" y="502.2" width="9.5" height="3.8" fill="none" stroke="#f01818" stroke-width="0.7"/>
<line x1="222.75" y1="501.5" x2="222.75" y2="506.9" stroke="#f01818" stroke-width="1.2"/>
<line x1="218" y1="501.5" x2="227.5" y2="501.5" stroke="#f01818" stroke-width="1.2"/>
<line x1="218" y1="506.9" x2="227.5" y2="506.9" stroke="#f01818" stroke-width="1.2"/>
<line x1="218" y1="504.3" x2="227.5" y2="504.3" stroke="#f01818" stroke-width="1.2"/>
<circle cx="245.88" cy="497.24" r="1.6" fill="#1a3c9b" fill-opacity="0.3"/>
<circle cx="241.59" cy="500.5" r="1.6" fill="#1a3c9b" fill-opacity="0.3"/>
<circle cx="239.81" cy="503.55" r="1.6" fill="#1a3c9b" fill-opacity="0.3"/>
<circle cx="238.48" cy="486.52" r="1.6" fill="#1a3c9b" fill-opacity="0.3"/>
<circle cx="238.95" cy="485.54" r="1.6" fill="#1a3c9b" fill-opacity="0.3"/>
<circle cx="245.17" cy="490.59" r="1.6" fill="#1a3c9b" fill-opacity="0.3"/>
<circle cx="245.37" cy="495.13" r="1.6" fill="#1a3c9b" fill-opacity="0.3"/>
<circle cx="239.41" cy="468.18" r="1.6" fill="#1a3c9b" fill-opacity="0.3"/>
<circle cx="245.85" cy="483.42" r="1.6" fill="#1a3c9b" fill-opacity="0.3"/>
<circle cx="243.34" cy="498.38" r="1.6" fill="#1a3c9b" fill-opacity="0.3"/>
<circle cx="238.52" cy="478.82" r="1.6" fill="#1a3c9b" fill-opacity="0.3"/>
<circle cx="244.59" cy="491.22" r="1.6" fill="#1a3c9b" fill-opacity="0.3"/>
<circle cx="240.96" cy="498.88" r="1.6" fill="#1a3c9b" fill-opacity="0.3"/>
<circle cx="245.09" cy="494.31" r="1.6" fill="#1a3c9b" fill-opacity="0.3"/>
<circle cx="241.67" cy="494.97" r="1.6" fill="#1a3c9b" fill-opacity="0.3"/>
<circle cx="245.09" cy="483.75" r="1.6" fill="#1a3c9b" fill-opacity="0.3"/>
<circle cx="239.7" cy="466.93" r="1.6" fill="#1a3c9b" fill-opacity="0.3"/>
<circle cx="245.71" cy="492.97" r="1.6" fill="#1a3c9b" fill-opacity="0.3"/>
<circle cx="243.72" cy="493.26" r="1.6" fill="#1a3c9b" fill-opacity="0.3"/>
<circle cx="241.21" cy="500.79" r="1.6" fill="#1a3c9b" fill-opacity="0.3"/>
<circle cx="244.82" cy="501.48" r="1.6" fill="#1a3c9b" fill-opacity="0.3"/>
<circle cx="242.04" cy="491.58" r="1.6" fill="#1a3c9b" fill-opacity="0.3"/>
<circle cx="240.6" cy="492.07" r="1.6" fill="#1a3c9b" fill-opacity="0.3"/>
<circle cx="243.57" cy="494.04" r="1.6" fill="#1a3c9b" fill-opacity="0.3"/>
<circle cx="241.04" cy="497.69" r="1.6" fill="#1a3c9b" fill-opacity="0.3"/>
<circle cx="238.79" cy="496.64" r="1.6" fill="#1a3c9b" fill-opacity="0.3"/>
<circle cx="239.3" cy="482.18" r="1.6" fill="#1a3c9b" fill-opacity="0.3"/>
<circle cx="243.46" cy="497.31" r="1.6" fill="#1a3c9b" fill-opacity="0.3"/>
<circle cx="242.94" cy="502.75" r="1.6" fill="#1a3c9b" fill-opacity="0.3"/>
<circle cx="242.24" cy="495.02" r="1.6" fill="#1a3c9b" fill-opacity="0.3"/>
<circle cx="244.2" cy="489.71" r="1.6" fill="#1a3c9b" fill-opacity="0.3"/>
<circle cx="239.98" cy="495.86" r="1.6" fill="#1a3c9b" fill-opacity="0.3"/>
<circle cx="244.64" cy="497.08" r="1.6" fill="#1a3c9b" fill-opacity="0.3"/>
<circle cx="245.72" cy="476.84" r="1.6" fill="#1a3c9b" fill-opacity="0.3"/>
<circle cx="244.69" cy="492.68" r="1.6" fill="#1a3c9b" fill-opacity="0.3"/>
<circle cx="243.11" cy="463.66" r="1.6" fill="#1a3c9b" fill-opacity="0.3"/>
<circle cx="241" cy="491.24" r="1.6" fill="#1a3c9b" fill-opacity="0.3"/>
<circle cx="244.75" cy="469.96" r="1.6" fill="#1a3c9b" fill-opacity="0.3"/>
<circle cx="238.95" cy="485.12" r="1.6" fill="#1a3c9b" fill-opacity="0.3"/>
<circle cx="240.48" cy="462.17" r="1.6" fill="#1a3c9b" fill-opacity="0.3"/>
<circle cx="245.61" cy="475.07" r="1.6" fill="#1a3c9b" fill-opacity="0.3"/>
<circle cx="243.68" cy="481.73" r="1.6" fill="#1a3c9b" fill-opacity="0.3"/>
<circle cx="245.58" cy="492.58" r="1.6" fill="#1a3c9b" fill-opacity="0.3"/>
<circle cx="240.08" cy="493.66" r="1.6" fill="#1a3c9b" fill-opacity="0.3"/>
<circle cx="240.71" cy="496.73" r="1.6" fill="#1a3c9b" fill-opacity="0.3"/>
<circle cx="243.86" cy="493.49" r="1.6" fill="#1a3c9b" fill-opacity="0.3"/>
<circle cx="245.21" cy="489" r="1.6" fill="#1a3c9b" fill-opacity="0.3"/>
<circle cx="244.17" cy="463.88" r="1.6" fill="#1a3c9b" fill-opacity="0.3"/>
<circle cx="245.92" cy="490.56" r="1.6" fill="#1a3c9b" fill-opacity="0.3"/>
<circle cx="238.71" cy="463.38" r="1.6" fill="#1a3c9b" fill-opacity="0.3"/>
<circle cx="239.79" cy="479.73" r="1.6" fill="#1a3c9b" fill-opacity="0.3"/>
<circle cx="239.93" cy="500.27" r="1.6" fill="#1a3c9b" fill-opacity="0.3"/>
<circle cx="240.86" cy="485.13" r="1.6" fill="#1a3c9b" fill-opacity="0.3"/>
<circle cx="238.99" cy="494.9" r="1.6" fill="#1a3c9b" fill-opacity="0.3"/>
<circle cx="238.22" cy="462.4" r="1.6" fill="#1a3c9b" fill-opacity="0.3"/>
<circle cx="241.42" cy="489.55" r="1.6" fill="#1a3c9b" fill-opacity="0.3"/>
<rect x="237.4" y="483.3" width="9.5" height="18.2" fill="none" stroke="#1a3c9b" stroke-width="0.7"/>
<line x1="242.15" y1="460.7" x2="242.15" y2="507.3" stroke="#1a3c9b" stroke-width="1.2"/>
<line x1="237.4" y1="460.7" x2="246.9" y2="460.7" stroke="#1a3c9b" stroke-width="1.2"/>
<line x1="237.4" y1="507.3" x2="246.9" y2="507.3" stroke="#1a3c9b" stroke-width="1.2"/>
<line x1="237.4" y1="495.4" x2="246.9" y2="495.4" stroke="#1a3c9b" stroke-width="1.2"/>
<circle cx="254.08" cy="503.14" r="1.6" fill="#f01818" fill-opacity="0.3"/>
<circle cx="252.81" cy="472.85" r="1.6" fill="#f01818" fill-opacity="0.3"/>
<circle cx="254.94" cy="486.72" r="1.6" fill="#f01818" fill-opacity="0.3"/>
<circle cx="251.15" cy="495.86" r="1.6" fill="#f01818" fill-opacity="0.3"/>
<circle cx="254.34" cy="497.06" r="1.6" fill="#f01818" fill-opacity="0.3"/>
<circle cx="249.21" cy="492.76" r="1.6" fill="#f01818" fill-opacity="0.3"/>
<circle cx="253" cy="484.5" r="1.6" fill="#f01818" fill-opacity="0.3"/>
<circle cx="252.41" cy="485.78" r="1.6" fill="#f01818" fill-opacity="0.3"/>
<circle cx="252.38" cy="490.21" r="1.6" fill="#f01818" fill-opacity="0.3"/>
<circle cx="255.77" cy="501.58" r="1.6" fill="#f01818" fill-opacity="0.3"/>
<circle cx="252.9" cy="491.64" r="1.6" fill="#f01818" fill-opacity="0.3"/>
<circle cx="249.34" cy="493.4" r="1.6" fill="#f01818" fill-opacity="0.3"/>
<circle cx="254.11" cy="486.22" r="1.6" fill="#f01818" fill-opacity="0.3"/>
<circle cx="251.62" cy="471.72" r="1.6" fill="#f01818" fill-opacity="0.3"/>
<circle cx="254.03" cy="484.88" r="1.6" fill="#f01818" fill-opacity="0.3"/>
<circle cx="248.72" cy="491.82" r="1.6" fill="#f01818" fill-opacity="0.3"/>
<circle cx="254.74" cy="483.79" r="1.6" fill="#f01818" fill-opacity="0.3"/>
<circle cx="254.1" cy="472.12" r="1.6" fill="#f01818" fill-opacity="0.3"/>
<circle cx="254.33" cy="498.14" r="1.6" fill="#f01818" fill-opacity="0.3"/>
<circle cx="255.76" cy="490.92" r="1.6" fill="#f01818" fill-opacity="0.3"/>
<circle cx="251.88" cy="488.14" r="1.6" fill="#f01818" fill-opacity="0.3"/>
<circle cx="251.29" cy="496.52" r="1.6" fill="#f01818" fill-opacity="0.3"/>
<circle cx="248.61" cy="499.74" r="1.6" fill="#f01818" fill-opacity="0.3"/>
<circle cx="254.92" cy="472.46" r="1.6" fill="#f01818" fill-opacity="0.3"/>
<circle cx="254.52" cy="477.94" r="1.6" fill="#f01818" fill-opacity="0.3"/>
<circle cx="255.05" cy="487.81" r="1.6" fill="#f01818" fill-opacity="0.3"/>
<circle cx="248.93" cy="497.4" r="1.6" fill="#f01818" fill-opacity="0.3"/>
<circle cx="255.69" cy="493.55" r="1.6" fill="#f01818" fill-opacity="0.3"/>
<circle cx="252.85" cy="487.04" r="1.6" fill="#f01818" fill-opacity="0.3"/>
<circle cx="254.11" cy="490.24" r="1.6" fill="#f01818" fill-opacity="0.3"/>
<circle cx="250.32" cy="472.63" r="1.6" fill="#f01818" fill-opacity="0.3"/>
<circle cx="254.06" cy="484.24" r="1.6" fill="#f01818" fill-opacity="0.3"/>
<circle cx="250.92" cy="493.68" r="1.6" fill="#f01818" fill-opacity="0.3"/>
<circle cx="251.58" cy="491.11" r="1.6" fill="#f01818" fill-opacity="0.3"/>
<circle cx="255.42" cy="494.1" r="1.6" fill="#f01818" fill-opacity="0.3"/>
<rect x="247.6" y="483.3" width="9.2" height="12.9" fill="none" stroke="#f01818" stroke-width="0.7"/>
<line x1="252.2" y1="468.8" x2="252.2" y2="505.3" stroke="#f01818" stroke-width="1.2"/>
<line x1="247.6" y1="468.8" x2="256.8" y2="468.8" stroke="#f01818" stroke-width="1.2"/>
<line x1="247.6" y1="505.3" x2="256.8" y2="505.3" stroke="#f01818" stroke-width="1.2"/>
<line x1="247.6" y1="490.1" x2="256.8" y2="490.1" stroke="#f01818" stroke-width="1.2"/>
<path d="M213.4,458.2 L213.4,451.3 L241.5,451.3 L241.5,452.8" fill="none" stroke="#4a4a4a" stroke-width="0.75"/>
<text x="227.8" y="453.77" font-size="9.5" text-anchor="middle" font-weight="bold" fill="#1a1a1a">****</text>
<path d="M223.3,466.2 L223.3,457.9 L252.6,457.9 L252.6,462" fill="none" stroke="#4a4a4a" stroke-width="0.75"/>
<text x="238.5" y="460.37" font-size="9.5" text-anchor="middle" font-weight="bold" fill="#1a1a1a">****</text>
<text x="185.5" y="477.9" font-size="8.7" text-anchor="middle" fill="#222" transform="rotate(-90 185.5 477.9)">Cluster 7 (%)</text>
<rect x="288.2" y="446.6" width="64.2" height="62.2" fill="#fff"/>
<line x1="288.2" y1="458.8" x2="352.4" y2="458.8" stroke="#f3f3f3" stroke-width="0.5"/>
<line x1="288.2" y1="478.05" x2="352.4" y2="478.05" stroke="#f3f3f3" stroke-width="0.5"/>
<line x1="288.2" y1="497.25" x2="352.4" y2="497.25" stroke="#f3f3f3" stroke-width="0.5"/>
<line x1="288.2" y1="449.2" x2="352.4" y2="449.2" stroke="#ebebeb" stroke-width="0.6"/>
<line x1="288.2" y1="468.4" x2="352.4" y2="468.4" stroke="#ebebeb" stroke-width="0.6"/>
<line x1="288.2" y1="487.7" x2="352.4" y2="487.7" stroke="#ebebeb" stroke-width="0.6"/>
<line x1="288.2" y1="506.8" x2="352.4" y2="506.8" stroke="#ebebeb" stroke-width="0.6"/>
<line x1="306" y1="446.6" x2="306" y2="508.8" stroke="#ebebeb" stroke-width="0.6"/>
<line x1="334.9" y1="446.6" x2="334.9" y2="508.8" stroke="#ebebeb" stroke-width="0.6"/>
<rect x="288.2" y="446.6" width="64.2" height="62.2" fill="none" stroke="#c9c9c9" stroke-width="0.8"/>
<line x1="286.7" y1="449.2" x2="288.2" y2="449.2" stroke="#555" stroke-width="0.5"/>
<text x="286.2" y="451.02" font-size="5.2" text-anchor="end" fill="#666">30</text>
<line x1="286.7" y1="468.4" x2="288.2" y2="468.4" stroke="#555" stroke-width="0.5"/>
<text x="286.2" y="470.22" font-size="5.2" text-anchor="end" fill="#666">20</text>
<line x1="286.7" y1="487.7" x2="288.2" y2="487.7" stroke="#555" stroke-width="0.5"/>
<text x="286.2" y="489.52" font-size="5.2" text-anchor="end" fill="#666">10</text>
<line x1="286.7" y1="506.8" x2="288.2" y2="506.8" stroke="#555" stroke-width="0.5"/>
<text x="286.2" y="508.62" font-size="5.2" text-anchor="end" fill="#666">0</text>
<line x1="306" y1="508.8" x2="306" y2="510.3" stroke="#555" stroke-width="0.5"/>
<line x1="334.9" y1="508.8" x2="334.9" y2="510.3" stroke="#555" stroke-width="0.5"/>
<circle cx="299.6" cy="506.73" r="1.6" fill="#1a3c9b" fill-opacity="0.45"/>
<circle cx="297.46" cy="507.56" r="1.6" fill="#1a3c9b" fill-opacity="0.45"/>
<circle cx="302.99" cy="507.6" r="1.6" fill="#1a3c9b" fill-opacity="0.45"/>
<circle cx="299.19" cy="505.76" r="1.6" fill="#1a3c9b" fill-opacity="0.45"/>
<circle cx="297.77" cy="505.75" r="1.6" fill="#1a3c9b" fill-opacity="0.45"/>
<circle cx="297.56" cy="506.89" r="1.6" fill="#1a3c9b" fill-opacity="0.45"/>
<circle cx="299.89" cy="507.18" r="1.6" fill="#1a3c9b" fill-opacity="0.45"/>
<circle cx="302.57" cy="506.1" r="1.6" fill="#1a3c9b" fill-opacity="0.45"/>
<circle cx="298.53" cy="506.1" r="1.6" fill="#1a3c9b" fill-opacity="0.45"/>
<circle cx="297.61" cy="506.79" r="1.6" fill="#1a3c9b" fill-opacity="0.45"/>
<circle cx="298.69" cy="505.64" r="1.6" fill="#1a3c9b" fill-opacity="0.45"/>
<circle cx="303.44" cy="506.31" r="1.6" fill="#1a3c9b" fill-opacity="0.45"/>
<circle cx="303.83" cy="507.55" r="1.6" fill="#1a3c9b" fill-opacity="0.45"/>
<circle cx="301.91" cy="505.87" r="1.6" fill="#1a3c9b" fill-opacity="0.45"/>
<circle cx="298.4" cy="505.87" r="1.6" fill="#1a3c9b" fill-opacity="0.45"/>
<circle cx="302.41" cy="506.48" r="1.6" fill="#1a3c9b" fill-opacity="0.45"/>
<circle cx="299.43" cy="505.34" r="1.6" fill="#1a3c9b" fill-opacity="0.45"/>
<circle cx="299.79" cy="506.2" r="1.6" fill="#1a3c9b" fill-opacity="0.45"/>
<circle cx="297.87" cy="505.87" r="1.6" fill="#1a3c9b" fill-opacity="0.45"/>
<circle cx="299.41" cy="506.26" r="1.6" fill="#1a3c9b" fill-opacity="0.45"/>
<circle cx="300.76" cy="506.6" r="1.6" fill="#1a3c9b" fill-opacity="0.45"/>
<circle cx="303.18" cy="505.98" r="1.6" fill="#1a3c9b" fill-opacity="0.45"/>
<circle cx="298.05" cy="506" r="1.6" fill="#1a3c9b" fill-opacity="0.45"/>
<circle cx="298.87" cy="506.62" r="1.6" fill="#1a3c9b" fill-opacity="0.45"/>
<circle cx="300.64" cy="506.04" r="1.6" fill="#1a3c9b" fill-opacity="0.45"/>
<line x1="296.9" y1="506.3" x2="304.7" y2="506.3" stroke="#1a3c9b" stroke-width="1.8"/>
<circle cx="315.01" cy="501.98" r="1.6" fill="#f01818" fill-opacity="0.3"/>
<circle cx="309.91" cy="501.49" r="1.6" fill="#f01818" fill-opacity="0.3"/>
<circle cx="311.77" cy="499.6" r="1.6" fill="#f01818" fill-opacity="0.3"/>
<circle cx="309.65" cy="500" r="1.6" fill="#f01818" fill-opacity="0.3"/>
<circle cx="312.54" cy="502.37" r="1.6" fill="#f01818" fill-opacity="0.3"/>
<circle cx="310.51" cy="504.11" r="1.6" fill="#f01818" fill-opacity="0.3"/>
<circle cx="309.44" cy="485.99" r="1.6" fill="#f01818" fill-opacity="0.3"/>
<circle cx="308.91" cy="500.23" r="1.6" fill="#f01818" fill-opacity="0.3"/>
<circle cx="313.87" cy="498.28" r="1.6" fill="#f01818" fill-opacity="0.3"/>
<circle cx="310.93" cy="491.91" r="1.6" fill="#f01818" fill-opacity="0.3"/>
<circle cx="314.32" cy="505.43" r="1.6" fill="#f01818" fill-opacity="0.3"/>
<circle cx="314.71" cy="487.41" r="1.6" fill="#f01818" fill-opacity="0.3"/>
<circle cx="310.27" cy="496.64" r="1.6" fill="#f01818" fill-opacity="0.3"/>
<circle cx="308.02" cy="504.52" r="1.6" fill="#f01818" fill-opacity="0.3"/>
<circle cx="307.14" cy="500.47" r="1.6" fill="#f01818" fill-opacity="0.3"/>
<circle cx="314.06" cy="495.07" r="1.6" fill="#f01818" fill-opacity="0.3"/>
<circle cx="313.33" cy="489.26" r="1.6" fill="#f01818" fill-opacity="0.3"/>
<circle cx="307.46" cy="505.51" r="1.6" fill="#f01818" fill-opacity="0.3"/>
<circle cx="307.26" cy="505.8" r="1.6" fill="#f01818" fill-opacity="0.3"/>
<circle cx="309.8" cy="499.17" r="1.6" fill="#f01818" fill-opacity="0.3"/>
<circle cx="313.64" cy="488.27" r="1.6" fill="#f01818" fill-opacity="0.3"/>
<rect x="306" y="496.1" width="9.9" height="9.9" fill="none" stroke="#f01818" stroke-width="0.7"/>
<line x1="310.95" y1="483.9" x2="310.95" y2="506.8" stroke="#f01818" stroke-width="1.2"/>
<line x1="306" y1="483.9" x2="315.9" y2="483.9" stroke="#f01818" stroke-width="1.2"/>
<line x1="306" y1="506.8" x2="315.9" y2="506.8" stroke="#f01818" stroke-width="1.2"/>
<line x1="306" y1="504.5" x2="315.9" y2="504.5" stroke="#f01818" stroke-width="1.2"/>
<circle cx="330.47" cy="491.93" r="1.6" fill="#1a3c9b" fill-opacity="0.3"/>
<circle cx="329.91" cy="493.03" r="1.6" fill="#1a3c9b" fill-opacity="0.3"/>
<circle cx="327.12" cy="476.64" r="1.6" fill="#1a3c9b" fill-opacity="0.3"/>
<circle cx="326.49" cy="495.54" r="1.6" fill="#1a3c9b" fill-opacity="0.3"/>
<circle cx="330.39" cy="490.89" r="1.6" fill="#1a3c9b" fill-opacity="0.3"/>
<circle cx="333.24" cy="496.52" r="1.6" fill="#1a3c9b" fill-opacity="0.3"/>
<circle cx="332.78" cy="476.65" r="1.6" fill="#1a3c9b" fill-opacity="0.3"/>
<circle cx="332.2" cy="486.55" r="1.6" fill="#1a3c9b" fill-opacity="0.3"/>
<circle cx="327.99" cy="504.94" r="1.6" fill="#1a3c9b" fill-opacity="0.3"/>
<circle cx="328.3" cy="495.84" r="1.6" fill="#1a3c9b" fill-opacity="0.3"/>
<circle cx="331.94" cy="486.04" r="1.6" fill="#1a3c9b" fill-opacity="0.3"/>
<circle cx="330.84" cy="487.61" r="1.6" fill="#1a3c9b" fill-opacity="0.3"/>
<circle cx="326.91" cy="495.6" r="1.6" fill="#1a3c9b" fill-opacity="0.3"/>
<circle cx="327.35" cy="473.99" r="1.6" fill="#1a3c9b" fill-opacity="0.3"/>
<circle cx="329.9" cy="495.36" r="1.6" fill="#1a3c9b" fill-opacity="0.3"/>
<circle cx="332.65" cy="478.14" r="1.6" fill="#1a3c9b" fill-opacity="0.3"/>
<circle cx="332.24" cy="490.73" r="1.6" fill="#1a3c9b" fill-opacity="0.3"/>
<circle cx="331.62" cy="486.17" r="1.6" fill="#1a3c9b" fill-opacity="0.3"/>
<circle cx="328.84" cy="490.74" r="1.6" fill="#1a3c9b" fill-opacity="0.3"/>
<circle cx="333.14" cy="487.17" r="1.6" fill="#1a3c9b" fill-opacity="0.3"/>
<circle cx="328.52" cy="489.72" r="1.6" fill="#1a3c9b" fill-opacity="0.3"/>
<circle cx="329.32" cy="488.77" r="1.6" fill="#1a3c9b" fill-opacity="0.3"/>
<circle cx="327.01" cy="495.14" r="1.6" fill="#1a3c9b" fill-opacity="0.3"/>
<circle cx="330.26" cy="502.92" r="1.6" fill="#1a3c9b" fill-opacity="0.3"/>
<circle cx="327.92" cy="472.42" r="1.6" fill="#1a3c9b" fill-opacity="0.3"/>
<circle cx="331.65" cy="486.82" r="1.6" fill="#1a3c9b" fill-opacity="0.3"/>
<circle cx="332.06" cy="494.43" r="1.6" fill="#1a3c9b" fill-opacity="0.3"/>
<circle cx="330.67" cy="494.24" r="1.6" fill="#1a3c9b" fill-opacity="0.3"/>
<circle cx="331.06" cy="491.33" r="1.6" fill="#1a3c9b" fill-opacity="0.3"/>
<circle cx="327.82" cy="498.34" r="1.6" fill="#1a3c9b" fill-opacity="0.3"/>
<circle cx="332.35" cy="488.5" r="1.6" fill="#1a3c9b" fill-opacity="0.3"/>
<circle cx="327.3" cy="506.38" r="1.6" fill="#1a3c9b" fill-opacity="0.3"/>
<circle cx="327.11" cy="495.19" r="1.6" fill="#1a3c9b" fill-opacity="0.3"/>
<circle cx="328.32" cy="492.76" r="1.6" fill="#1a3c9b" fill-opacity="0.3"/>
<circle cx="327.29" cy="491.57" r="1.6" fill="#1a3c9b" fill-opacity="0.3"/>
<circle cx="327.56" cy="486.8" r="1.6" fill="#1a3c9b" fill-opacity="0.3"/>
<circle cx="331.01" cy="490.13" r="1.6" fill="#1a3c9b" fill-opacity="0.3"/>
<circle cx="326.82" cy="490.17" r="1.6" fill="#1a3c9b" fill-opacity="0.3"/>
<circle cx="332.17" cy="487.56" r="1.6" fill="#1a3c9b" fill-opacity="0.3"/>
<circle cx="330.93" cy="488.62" r="1.6" fill="#1a3c9b" fill-opacity="0.3"/>
<circle cx="329.16" cy="492.25" r="1.6" fill="#1a3c9b" fill-opacity="0.3"/>
<circle cx="326.31" cy="490.77" r="1.6" fill="#1a3c9b" fill-opacity="0.3"/>
<circle cx="327.2" cy="492.88" r="1.6" fill="#1a3c9b" fill-opacity="0.3"/>
<circle cx="329.88" cy="495.93" r="1.6" fill="#1a3c9b" fill-opacity="0.3"/>
<circle cx="326.3" cy="481.4" r="1.6" fill="#1a3c9b" fill-opacity="0.3"/>
<circle cx="329.87" cy="495.25" r="1.6" fill="#1a3c9b" fill-opacity="0.3"/>
<circle cx="329.01" cy="496.57" r="1.6" fill="#1a3c9b" fill-opacity="0.3"/>
<circle cx="327.7" cy="496.42" r="1.6" fill="#1a3c9b" fill-opacity="0.3"/>
<circle cx="330.66" cy="493.53" r="1.6" fill="#1a3c9b" fill-opacity="0.3"/>
<circle cx="331.81" cy="483.89" r="1.6" fill="#1a3c9b" fill-opacity="0.3"/>
<circle cx="331.93" cy="498.6" r="1.6" fill="#1a3c9b" fill-opacity="0.3"/>
<circle cx="327.96" cy="489.09" r="1.6" fill="#1a3c9b" fill-opacity="0.3"/>
<circle cx="329.96" cy="491.76" r="1.6" fill="#1a3c9b" fill-opacity="0.3"/>
<circle cx="332.67" cy="491.86" r="1.6" fill="#1a3c9b" fill-opacity="0.3"/>
<circle cx="327.29" cy="502.81" r="1.6" fill="#1a3c9b" fill-opacity="0.3"/>
<circle cx="332.43" cy="496.56" r="1.6" fill="#1a3c9b" fill-opacity="0.3"/>
<circle cx="329" cy="464.9" r="1.68" fill="#1a3c9b" fill-opacity="0.3"/>
<circle cx="331" cy="454.7" r="1.68" fill="#1a3c9b" fill-opacity="0.3"/>
<circle cx="327" cy="465.5" r="1.68" fill="#1a3c9b" fill-opacity="0.3"/>
<rect x="325.5" y="485.4" width="9" height="13" fill="none" stroke="#1a3c9b" stroke-width="0.7"/>
<line x1="330" y1="469" x2="330" y2="506.8" stroke="#1a3c9b" stroke-width="1.2"/>
<line x1="325.5" y1="469" x2="334.5" y2="469" stroke="#1a3c9b" stroke-width="1.2"/>
<line x1="325.5" y1="506.8" x2="334.5" y2="506.8" stroke="#1a3c9b" stroke-width="1.2"/>
<line x1="325.5" y1="490.8" x2="334.5" y2="490.8" stroke="#1a3c9b" stroke-width="1.2"/>
<circle cx="337.09" cy="481.68" r="1.6" fill="#f01818" fill-opacity="0.3"/>
<circle cx="343.03" cy="487.02" r="1.6" fill="#f01818" fill-opacity="0.3"/>
<circle cx="339.64" cy="473.29" r="1.6" fill="#f01818" fill-opacity="0.3"/>
<circle cx="339.68" cy="499.2" r="1.6" fill="#f01818" fill-opacity="0.3"/>
<circle cx="336.22" cy="490.85" r="1.6" fill="#f01818" fill-opacity="0.3"/>
<circle cx="342.62" cy="461.81" r="1.6" fill="#f01818" fill-opacity="0.3"/>
<circle cx="339.48" cy="499.77" r="1.6" fill="#f01818" fill-opacity="0.3"/>
<circle cx="343.01" cy="500.6" r="1.6" fill="#f01818" fill-opacity="0.3"/>
<circle cx="342.91" cy="500.35" r="1.6" fill="#f01818" fill-opacity="0.3"/>
<circle cx="341.94" cy="484.32" r="1.6" fill="#f01818" fill-opacity="0.3"/>
<circle cx="336.36" cy="472.38" r="1.6" fill="#f01818" fill-opacity="0.3"/>
<circle cx="337.02" cy="504.18" r="1.6" fill="#f01818" fill-opacity="0.3"/>
<circle cx="339.29" cy="480.61" r="1.6" fill="#f01818" fill-opacity="0.3"/>
<circle cx="342.28" cy="485.95" r="1.6" fill="#f01818" fill-opacity="0.3"/>
<circle cx="341.06" cy="490.07" r="1.6" fill="#f01818" fill-opacity="0.3"/>
<circle cx="336.63" cy="499.03" r="1.6" fill="#f01818" fill-opacity="0.3"/>
<circle cx="337.41" cy="461.77" r="1.6" fill="#f01818" fill-opacity="0.3"/>
<circle cx="338.45" cy="489.11" r="1.6" fill="#f01818" fill-opacity="0.3"/>
<circle cx="341.8" cy="471.01" r="1.6" fill="#f01818" fill-opacity="0.3"/>
<circle cx="337.06" cy="488.32" r="1.6" fill="#f01818" fill-opacity="0.3"/>
<circle cx="340.35" cy="464.19" r="1.6" fill="#f01818" fill-opacity="0.3"/>
<circle cx="337.98" cy="495.09" r="1.6" fill="#f01818" fill-opacity="0.3"/>
<circle cx="343.09" cy="459.93" r="1.6" fill="#f01818" fill-opacity="0.3"/>
<circle cx="337.19" cy="490.48" r="1.6" fill="#f01818" fill-opacity="0.3"/>
<circle cx="337.29" cy="470.09" r="1.6" fill="#f01818" fill-opacity="0.3"/>
<circle cx="341.05" cy="496.94" r="1.6" fill="#f01818" fill-opacity="0.3"/>
<circle cx="343.35" cy="490.26" r="1.6" fill="#f01818" fill-opacity="0.3"/>
<circle cx="343.67" cy="482.58" r="1.6" fill="#f01818" fill-opacity="0.3"/>
<circle cx="342.96" cy="491.26" r="1.6" fill="#f01818" fill-opacity="0.3"/>
<circle cx="340.03" cy="493.9" r="1.6" fill="#f01818" fill-opacity="0.3"/>
<circle cx="340.63" cy="488.7" r="1.6" fill="#f01818" fill-opacity="0.3"/>
<circle cx="340.17" cy="492.74" r="1.6" fill="#f01818" fill-opacity="0.3"/>
<circle cx="340.57" cy="468.3" r="1.6" fill="#f01818" fill-opacity="0.3"/>
<circle cx="342.62" cy="492.33" r="1.6" fill="#f01818" fill-opacity="0.3"/>
<circle cx="341.5" cy="496.53" r="1.6" fill="#f01818" fill-opacity="0.3"/>
<circle cx="343" cy="464.5" r="1.68" fill="#f01818" fill-opacity="0.3"/>
<rect x="335.4" y="480.9" width="9.4" height="19.8" fill="none" stroke="#f01818" stroke-width="0.7"/>
<line x1="340.1" y1="455.3" x2="340.1" y2="506.5" stroke="#f01818" stroke-width="1.2"/>
<line x1="335.4" y1="455.3" x2="344.8" y2="455.3" stroke="#f01818" stroke-width="1.2"/>
<line x1="335.4" y1="506.5" x2="344.8" y2="506.5" stroke="#f01818" stroke-width="1.2"/>
<line x1="335.4" y1="490.3" x2="344.8" y2="490.3" stroke="#f01818" stroke-width="1.2"/>
<path d="M300.4,477.4 L300.4,477.4 L311,477.4 L311,477.4" fill="none" stroke="#4a4a4a" stroke-width="0.75"/>
<text x="305.2" y="479.87" font-size="9.5" text-anchor="middle" font-weight="bold" fill="#1a1a1a">***</text>
<path d="M299.4,463.4 L299.4,460.3 L329.6,460.3 L329.6,462.6" fill="none" stroke="#4a4a4a" stroke-width="0.75"/>
<text x="314.4" y="462.77" font-size="9.5" text-anchor="middle" font-weight="bold" fill="#1a1a1a">****</text>
<path d="M310.1,454.2 L310.1,451.5 L340.2,451.5 L340.2,453.2" fill="none" stroke="#4a4a4a" stroke-width="0.75"/>
<text x="325.3" y="453.97" font-size="9.5" text-anchor="middle" font-weight="bold" fill="#1a1a1a">*</text>
<text x="273.2" y="477.8" font-size="8.7" text-anchor="middle" fill="#222" transform="rotate(-90 273.2 477.8)">Cluster 10 (%)</text>
<text x="307.1" y="520.9" font-size="9.6" text-anchor="middle" fill="#222">TP1</text>
<text x="335.3" y="520.9" font-size="9.6" text-anchor="middle" fill="#222">TP2</text>
<rect x="20.8" y="515.9" width="64.4" height="63.5" fill="#fff"/>
<line x1="20.8" y1="543.6" x2="85.2" y2="543.6" stroke="#f3f3f3" stroke-width="0.5"/>
<line x1="20.8" y1="565.35" x2="85.2" y2="565.35" stroke="#f3f3f3" stroke-width="0.5"/>
<line x1="20.8" y1="532.8" x2="85.2" y2="532.8" stroke="#ebebeb" stroke-width="0.6"/>
<line x1="20.8" y1="554.4" x2="85.2" y2="554.4" stroke="#ebebeb" stroke-width="0.6"/>
<line x1="20.8" y1="576.3" x2="85.2" y2="576.3" stroke="#ebebeb" stroke-width="0.6"/>
<line x1="39.3" y1="515.9" x2="39.3" y2="579.4" stroke="#ebebeb" stroke-width="0.6"/>
<line x1="67.8" y1="515.9" x2="67.8" y2="579.4" stroke="#ebebeb" stroke-width="0.6"/>
<rect x="20.8" y="515.9" width="64.4" height="63.5" fill="none" stroke="#c9c9c9" stroke-width="0.8"/>
<line x1="19.3" y1="532.8" x2="20.8" y2="532.8" stroke="#555" stroke-width="0.5"/>
<text x="18.8" y="534.62" font-size="5.2" text-anchor="end" fill="#666">20</text>
<line x1="19.3" y1="554.4" x2="20.8" y2="554.4" stroke="#555" stroke-width="0.5"/>
<text x="18.8" y="556.22" font-size="5.2" text-anchor="end" fill="#666">10</text>
<line x1="19.3" y1="576.3" x2="20.8" y2="576.3" stroke="#555" stroke-width="0.5"/>
<text x="18.8" y="578.12" font-size="5.2" text-anchor="end" fill="#666">0</text>
<line x1="39.3" y1="579.4" x2="39.3" y2="580.9" stroke="#555" stroke-width="0.5"/>
<line x1="67.8" y1="579.4" x2="67.8" y2="580.9" stroke="#555" stroke-width="0.5"/>
<circle cx="33.19" cy="575.91" r="1.6" fill="#1a3c9b" fill-opacity="0.45"/>
<circle cx="33.57" cy="575.77" r="1.6" fill="#1a3c9b" fill-opacity="0.45"/>
<circle cx="35.59" cy="575.32" r="1.6" fill="#1a3c9b" fill-opacity="0.45"/>
<circle cx="32.79" cy="576.53" r="1.6" fill="#1a3c9b" fill-opacity="0.45"/>
<circle cx="33.92" cy="576.81" r="1.6" fill="#1a3c9b" fill-opacity="0.45"/>
<circle cx="31.61" cy="575.72" r="1.6" fill="#1a3c9b" fill-opacity="0.45"/>
<circle cx="31.72" cy="575.26" r="1.6" fill="#1a3c9b" fill-opacity="0.45"/>
<circle cx="30.05" cy="576.03" r="1.6" fill="#1a3c9b" fill-opacity="0.45"/>
<circle cx="31.67" cy="576.16" r="1.6" fill="#1a3c9b" fill-opacity="0.45"/>
<circle cx="36.52" cy="576.99" r="1.6" fill="#1a3c9b" fill-opacity="0.45"/>
<circle cx="35.18" cy="575.66" r="1.6" fill="#1a3c9b" fill-opacity="0.45"/>
<circle cx="32.3" cy="576.8" r="1.6" fill="#1a3c9b" fill-opacity="0.45"/>
<circle cx="31.21" cy="576.65" r="1.6" fill="#1a3c9b" fill-opacity="0.45"/>
<circle cx="31.29" cy="575.9" r="1.6" fill="#1a3c9b" fill-opacity="0.45"/>
<circle cx="33.57" cy="576.92" r="1.6" fill="#1a3c9b" fill-opacity="0.45"/>
<circle cx="34.84" cy="576.68" r="1.6" fill="#1a3c9b" fill-opacity="0.45"/>
<circle cx="32.05" cy="575.7" r="1.6" fill="#1a3c9b" fill-opacity="0.45"/>
<circle cx="35.85" cy="576.17" r="1.6" fill="#1a3c9b" fill-opacity="0.45"/>
<circle cx="34.75" cy="575.2" r="1.6" fill="#1a3c9b" fill-opacity="0.45"/>
<circle cx="29.95" cy="575.85" r="1.6" fill="#1a3c9b" fill-opacity="0.45"/>
<circle cx="31.74" cy="575.53" r="1.6" fill="#1a3c9b" fill-opacity="0.45"/>
<circle cx="35.46" cy="576.84" r="1.6" fill="#1a3c9b" fill-opacity="0.45"/>
<circle cx="31.14" cy="575.2" r="1.6" fill="#1a3c9b" fill-opacity="0.45"/>
<circle cx="30.88" cy="575.37" r="1.6" fill="#1a3c9b" fill-opacity="0.45"/>
<circle cx="34.78" cy="575.76" r="1.6" fill="#1a3c9b" fill-opacity="0.45"/>
<circle cx="36.64" cy="575.04" r="1.6" fill="#1a3c9b" fill-opacity="0.45"/>
<circle cx="33.41" cy="575.27" r="1.6" fill="#1a3c9b" fill-opacity="0.45"/>
<circle cx="35.7" cy="575.76" r="1.6" fill="#1a3c9b" fill-opacity="0.45"/>
<circle cx="31.26" cy="576.17" r="1.6" fill="#1a3c9b" fill-opacity="0.45"/>
<circle cx="35.87" cy="575.03" r="1.6" fill="#1a3c9b" fill-opacity="0.45"/>
<line x1="29" y1="576" x2="37.3" y2="576" stroke="#1a3c9b" stroke-width="1.8"/>
<circle cx="35.4" cy="569.8" r="1.7" fill="#1a3c9b" fill-opacity="0.3"/>
<circle cx="43.34" cy="573.86" r="1.6" fill="#f01818" fill-opacity="0.3"/>
<circle cx="45.62" cy="575.42" r="1.6" fill="#f01818" fill-opacity="0.3"/>
<circle cx="46.6" cy="572.34" r="1.6" fill="#f01818" fill-opacity="0.3"/>
<circle cx="40.1" cy="574.21" r="1.6" fill="#f01818" fill-opacity="0.3"/>
<circle cx="40.29" cy="575.2" r="1.6" fill="#f01818" fill-opacity="0.3"/>
<circle cx="42.09" cy="573.24" r="1.6" fill="#f01818" fill-opacity="0.3"/>
<circle cx="40.75" cy="573.84" r="1.6" fill="#f01818" fill-opacity="0.3"/>
<circle cx="41.73" cy="573.36" r="1.6" fill="#f01818" fill-opacity="0.3"/>
<circle cx="45.02" cy="574.23" r="1.6" fill="#f01818" fill-opacity="0.3"/>
<circle cx="44.47" cy="573.46" r="1.6" fill="#f01818" fill-opacity="0.3"/>
<circle cx="39.51" cy="574.71" r="1.6" fill="#f01818" fill-opacity="0.3"/>
<circle cx="47.01" cy="575.66" r="1.6" fill="#f01818" fill-opacity="0.3"/>
<circle cx="39.34" cy="572.81" r="1.6" fill="#f01818" fill-opacity="0.3"/>
<circle cx="47.16" cy="572.27" r="1.6" fill="#f01818" fill-opacity="0.3"/>
<circle cx="39.51" cy="573.18" r="1.6" fill="#f01818" fill-opacity="0.3"/>
<circle cx="46.53" cy="574.52" r="1.6" fill="#f01818" fill-opacity="0.3"/>
<circle cx="45.73" cy="575.27" r="1.6" fill="#f01818" fill-opacity="0.3"/>
<circle cx="44.91" cy="574.75" r="1.6" fill="#f01818" fill-opacity="0.3"/>
<circle cx="40.1" cy="575.62" r="1.6" fill="#f01818" fill-opacity="0.3"/>
<circle cx="43.17" cy="573.41" r="1.6" fill="#f01818" fill-opacity="0.3"/>
<circle cx="42.61" cy="571.95" r="1.6" fill="#f01818" fill-opacity="0.3"/>
<circle cx="43.5" cy="555.5" r="1.68" fill="#f01818" fill-opacity="0.3"/>
<rect x="38.5" y="572" width="9.6" height="3.8" fill="none" stroke="#f01818" stroke-width="0.7"/>
<line x1="43.3" y1="571.6" x2="43.3" y2="576.3" stroke="#f01818" stroke-width="1.2"/>
<line x1="38.5" y1="571.6" x2="48.1" y2="571.6" stroke="#f01818" stroke-width="1.2"/>
<line x1="38.5" y1="576.3" x2="48.1" y2="576.3" stroke="#f01818" stroke-width="1.2"/>
<line x1="38.5" y1="574" x2="48.1" y2="574" stroke="#f01818" stroke-width="1.2"/>
<circle cx="59.3" cy="572.81" r="1.6" fill="#1a3c9b" fill-opacity="0.3"/>
<circle cx="63.73" cy="567.8" r="1.6" fill="#1a3c9b" fill-opacity="0.3"/>
<circle cx="65.07" cy="569.42" r="1.6" fill="#1a3c9b" fill-opacity="0.3"/>
<circle cx="60.98" cy="568.45" r="1.6" fill="#1a3c9b" fill-opacity="0.3"/>
<circle cx="63.55" cy="567.64" r="1.6" fill="#1a3c9b" fill-opacity="0.3"/>
<circle cx="62.12" cy="563.59" r="1.6" fill="#1a3c9b" fill-opacity="0.3"/>
<circle cx="58.76" cy="572.35" r="1.6" fill="#1a3c9b" fill-opacity="0.3"/>
<circle cx="63.14" cy="565.56" r="1.6" fill="#1a3c9b" fill-opacity="0.3"/>
<circle cx="61.11" cy="573.28" r="1.6" fill="#1a3c9b" fill-opacity="0.3"/>
<circle cx="63.31" cy="573.32" r="1.6" fill="#1a3c9b" fill-opacity="0.3"/>
<circle cx="65.79" cy="568.93" r="1.6" fill="#1a3c9b" fill-opacity="0.3"/>
<circle cx="62.98" cy="570.17" r="1.6" fill="#1a3c9b" fill-opacity="0.3"/>
<circle cx="61.52" cy="561.9" r="1.6" fill="#1a3c9b" fill-opacity="0.3"/>
<circle cx="63.5" cy="570.64" r="1.6" fill="#1a3c9b" fill-opacity="0.3"/>
<circle cx="63.02" cy="567.6" r="1.6" fill="#1a3c9b" fill-opacity="0.3"/>
<circle cx="60.75" cy="573.38" r="1.6" fill="#1a3c9b" fill-opacity="0.3"/>
<circle cx="59.85" cy="569.45" r="1.6" fill="#1a3c9b" fill-opacity="0.3"/>
<circle cx="59.14" cy="569.34" r="1.6" fill="#1a3c9b" fill-opacity="0.3"/>
<circle cx="60.73" cy="572.98" r="1.6" fill="#1a3c9b" fill-opacity="0.3"/>
<circle cx="59.87" cy="566.62" r="1.6" fill="#1a3c9b" fill-opacity="0.3"/>
<circle cx="60.57" cy="570.25" r="1.6" fill="#1a3c9b" fill-opacity="0.3"/>
<circle cx="64.86" cy="564.71" r="1.6" fill="#1a3c9b" fill-opacity="0.3"/>
<circle cx="63.59" cy="570.2" r="1.6" fill="#1a3c9b" fill-opacity="0.3"/>
<circle cx="59" cy="561.51" r="1.6" fill="#1a3c9b" fill-opacity="0.3"/>
<circle cx="62.26" cy="571.16" r="1.6" fill="#1a3c9b" fill-opacity="0.3"/>
<circle cx="64.16" cy="569.16" r="1.6" fill="#1a3c9b" fill-opacity="0.3"/>
<circle cx="59.01" cy="575.38" r="1.6" fill="#1a3c9b" fill-opacity="0.3"/>
<circle cx="62.12" cy="569.5" r="1.6" fill="#1a3c9b" fill-opacity="0.3"/>
<circle cx="61.1" cy="569.84" r="1.6" fill="#1a3c9b" fill-opacity="0.3"/>
<circle cx="59.33" cy="572.68" r="1.6" fill="#1a3c9b" fill-opacity="0.3"/>
<circle cx="66.13" cy="573.08" r="1.6" fill="#1a3c9b" fill-opacity="0.3"/>
<circle cx="64.24" cy="568.18" r="1.6" fill="#1a3c9b" fill-opacity="0.3"/>
<circle cx="62.48" cy="569.08" r="1.6" fill="#1a3c9b" fill-opacity="0.3"/>
<circle cx="63.25" cy="572.99" r="1.6" fill="#1a3c9b" fill-opacity="0.3"/>
<circle cx="65.24" cy="571.26" r="1.6" fill="#1a3c9b" fill-opacity="0.3"/>
<circle cx="64.69" cy="574.4" r="1.6" fill="#1a3c9b" fill-opacity="0.3"/>
<circle cx="65.56" cy="574.87" r="1.6" fill="#1a3c9b" fill-opacity="0.3"/>
<circle cx="59.81" cy="568.83" r="1.6" fill="#1a3c9b" fill-opacity="0.3"/>
<circle cx="62.84" cy="573.14" r="1.6" fill="#1a3c9b" fill-opacity="0.3"/>
<circle cx="60.4" cy="565.36" r="1.6" fill="#1a3c9b" fill-opacity="0.3"/>
<circle cx="62.12" cy="571.76" r="1.6" fill="#1a3c9b" fill-opacity="0.3"/>
<circle cx="65.47" cy="565.83" r="1.6" fill="#1a3c9b" fill-opacity="0.3"/>
<circle cx="66.34" cy="568.48" r="1.6" fill="#1a3c9b" fill-opacity="0.3"/>
<circle cx="66.42" cy="574.45" r="1.6" fill="#1a3c9b" fill-opacity="0.3"/>
<circle cx="60.83" cy="567" r="1.6" fill="#1a3c9b" fill-opacity="0.3"/>
<circle cx="66" cy="565.72" r="1.6" fill="#1a3c9b" fill-opacity="0.3"/>
<circle cx="65.95" cy="568.87" r="1.6" fill="#1a3c9b" fill-opacity="0.3"/>
<circle cx="62.22" cy="562.29" r="1.6" fill="#1a3c9b" fill-opacity="0.3"/>
<circle cx="63.78" cy="570.16" r="1.6" fill="#1a3c9b" fill-opacity="0.3"/>
<circle cx="66.42" cy="574.54" r="1.6" fill="#1a3c9b" fill-opacity="0.3"/>
<circle cx="66.39" cy="569.49" r="1.6" fill="#1a3c9b" fill-opacity="0.3"/>
<circle cx="59.74" cy="571.96" r="1.6" fill="#1a3c9b" fill-opacity="0.3"/>
<circle cx="61.93" cy="569.26" r="1.6" fill="#1a3c9b" fill-opacity="0.3"/>
<circle cx="64.54" cy="572.86" r="1.6" fill="#1a3c9b" fill-opacity="0.3"/>
<circle cx="66.41" cy="575.56" r="1.6" fill="#1a3c9b" fill-opacity="0.3"/>
<circle cx="61.17" cy="563.08" r="1.6" fill="#1a3c9b" fill-opacity="0.3"/>
<circle cx="59.8" cy="518.5" r="1.68" fill="#1a3c9b" fill-opacity="0.3"/>
<circle cx="60.9" cy="550.1" r="1.68" fill="#1a3c9b" fill-opacity="0.3"/>
<circle cx="63.2" cy="553.2" r="1.68" fill="#1a3c9b" fill-opacity="0.3"/>
<circle cx="64" cy="556" r="1.68" fill="#1a3c9b" fill-opacity="0.3"/>
<circle cx="62" cy="557.5" r="1.68" fill="#1a3c9b" fill-opacity="0.3"/>
<rect x="57.8" y="567.5" width="9.5" height="6.2" fill="none" stroke="#1a3c9b" stroke-width="0.7"/>
<line x1="62.55" y1="559.8" x2="62.55" y2="576.3" stroke="#1a3c9b" stroke-width="1.2"/>
<line x1="57.8" y1="559.8" x2="67.3" y2="559.8" stroke="#1a3c9b" stroke-width="1.2"/>
<line x1="57.8" y1="576.3" x2="67.3" y2="576.3" stroke="#1a3c9b" stroke-width="1.2"/>
<line x1="57.8" y1="570.6" x2="67.3" y2="570.6" stroke="#1a3c9b" stroke-width="1.2"/>
<circle cx="69.2" cy="575.27" r="1.6" fill="#f01818" fill-opacity="0.3"/>
<circle cx="71.48" cy="575.45" r="1.6" fill="#f01818" fill-opacity="0.3"/>
<circle cx="73.37" cy="571.39" r="1.6" fill="#f01818" fill-opacity="0.3"/>
<circle cx="73.31" cy="571.6" r="1.6" fill="#f01818" fill-opacity="0.3"/>
<circle cx="72.69" cy="567.44" r="1.6" fill="#f01818" fill-opacity="0.3"/>
<circle cx="73.78" cy="573.01" r="1.6" fill="#f01818" fill-opacity="0.3"/>
<circle cx="69.25" cy="575" r="1.6" fill="#f01818" fill-opacity="0.3"/>
<circle cx="72.95" cy="566.09" r="1.6" fill="#f01818" fill-opacity="0.3"/>
<circle cx="69" cy="570.73" r="1.6" fill="#f01818" fill-opacity="0.3"/>
<circle cx="71.27" cy="570.76" r="1.6" fill="#f01818" fill-opacity="0.3"/>
<circle cx="74.82" cy="568.29" r="1.6" fill="#f01818" fill-opacity="0.3"/>
<circle cx="69.14" cy="569.88" r="1.6" fill="#f01818" fill-opacity="0.3"/>
<circle cx="74.8" cy="576.18" r="1.6" fill="#f01818" fill-opacity="0.3"/>
<circle cx="74" cy="573.13" r="1.6" fill="#f01818" fill-opacity="0.3"/>
<circle cx="73.89" cy="571.8" r="1.6" fill="#f01818" fill-opacity="0.3"/>
<circle cx="71.48" cy="569.47" r="1.6" fill="#f01818" fill-opacity="0.3"/>
<circle cx="76.66" cy="569.83" r="1.6" fill="#f01818" fill-opacity="0.3"/>
<circle cx="70.3" cy="570.16" r="1.6" fill="#f01818" fill-opacity="0.3"/>
<circle cx="69.04" cy="574.48" r="1.6" fill="#f01818" fill-opacity="0.3"/>
<circle cx="75.8" cy="564.46" r="1.6" fill="#f01818" fill-opacity="0.3"/>
<circle cx="74.05" cy="575.42" r="1.6" fill="#f01818" fill-opacity="0.3"/>
<circle cx="76.1" cy="571.62" r="1.6" fill="#f01818" fill-opacity="0.3"/>
<circle cx="71.77" cy="572.38" r="1.6" fill="#f01818" fill-opacity="0.3"/>
<circle cx="71.09" cy="568.5" r="1.6" fill="#f01818" fill-opacity="0.3"/>
<circle cx="73.82" cy="574.85" r="1.6" fill="#f01818" fill-opacity="0.3"/>
<circle cx="71.4" cy="572.62" r="1.6" fill="#f01818" fill-opacity="0.3"/>
<circle cx="76.31" cy="575.29" r="1.6" fill="#f01818" fill-opacity="0.3"/>
<circle cx="73.68" cy="568.82" r="1.6" fill="#f01818" fill-opacity="0.3"/>
<circle cx="71.03" cy="568.24" r="1.6" fill="#f01818" fill-opacity="0.3"/>
<circle cx="72.17" cy="571.39" r="1.6" fill="#f01818" fill-opacity="0.3"/>
<circle cx="69.99" cy="574.14" r="1.6" fill="#f01818" fill-opacity="0.3"/>
<circle cx="76.63" cy="571.02" r="1.6" fill="#f01818" fill-opacity="0.3"/>
<circle cx="75.58" cy="569.57" r="1.6" fill="#f01818" fill-opacity="0.3"/>
<circle cx="76.25" cy="567.93" r="1.6" fill="#f01818" fill-opacity="0.3"/>
<circle cx="76.29" cy="574.08" r="1.6" fill="#f01818" fill-opacity="0.3"/>
<circle cx="72.4" cy="526.2" r="1.68" fill="#f01818" fill-opacity="0.3"/>
<circle cx="73.5" cy="546.2" r="1.68" fill="#f01818" fill-opacity="0.3"/>
<rect x="68.1" y="567.3" width="9.7" height="8.2" fill="none" stroke="#f01818" stroke-width="0.7"/>
<line x1="72.95" y1="564.3" x2="72.95" y2="576.3" stroke="#f01818" stroke-width="1.2"/>
<line x1="68.1" y1="564.3" x2="77.8" y2="564.3" stroke="#f01818" stroke-width="1.2"/>
<line x1="68.1" y1="576.3" x2="77.8" y2="576.3" stroke="#f01818" stroke-width="1.2"/>
<line x1="68.1" y1="570.1" x2="77.8" y2="570.1" stroke="#f01818" stroke-width="1.2"/>
<path d="M33.1,546.2 L33.1,546.2 L43.9,546.2 L43.9,546.2" fill="none" stroke="#4a4a4a" stroke-width="0.75"/>
<text x="37.8" y="548.67" font-size="9.5" text-anchor="middle" font-weight="bold" fill="#1a1a1a">**</text>
<path d="M32,543.1 L32,539.3 L62.4,539.3 L62.4,541.3" fill="none" stroke="#4a4a4a" stroke-width="0.75"/>
<text x="47.5" y="541.77" font-size="9.5" text-anchor="middle" font-weight="bold" fill="#1a1a1a">****</text>
<path d="M42.7,533.9 L42.7,530.8 L73.2,530.8 L73.2,532.4" fill="none" stroke="#4a4a4a" stroke-width="0.75"/>
<text x="58.2" y="533.27" font-size="9.5" text-anchor="middle" font-weight="bold" fill="#1a1a1a">*</text>
<text x="6.4" y="547.6" font-size="8.7" text-anchor="middle" fill="#222" transform="rotate(-90 6.4 547.6)">Cluster 11 (%)</text>
<text x="39.3" y="589.3" font-size="9.6" text-anchor="middle" fill="#222">TP1</text>
<text x="67.8" y="589.3" font-size="9.6" text-anchor="middle" fill="#222">TP2</text>
<rect x="109.3" y="515.9" width="67.8" height="63.5" fill="#fff"/>
<line x1="109.3" y1="526.35" x2="177.1" y2="526.35" stroke="#f3f3f3" stroke-width="0.5"/>
<line x1="109.3" y1="546.5" x2="177.1" y2="546.5" stroke="#f3f3f3" stroke-width="0.5"/>
<line x1="109.3" y1="566.4" x2="177.1" y2="566.4" stroke="#f3f3f3" stroke-width="0.5"/>
<line x1="109.3" y1="516.2" x2="177.1" y2="516.2" stroke="#ebebeb" stroke-width="0.6"/>
<line x1="109.3" y1="536.5" x2="177.1" y2="536.5" stroke="#ebebeb" stroke-width="0.6"/>
<line x1="109.3" y1="556.5" x2="177.1" y2="556.5" stroke="#ebebeb" stroke-width="0.6"/>
<line x1="109.3" y1="576.3" x2="177.1" y2="576.3" stroke="#ebebeb" stroke-width="0.6"/>
<line x1="127.4" y1="515.9" x2="127.4" y2="579.4" stroke="#ebebeb" stroke-width="0.6"/>
<line x1="158.7" y1="515.9" x2="158.7" y2="579.4" stroke="#ebebeb" stroke-width="0.6"/>
<rect x="109.3" y="515.9" width="67.8" height="63.5" fill="none" stroke="#c9c9c9" stroke-width="0.8"/>
<line x1="107.8" y1="516.2" x2="109.3" y2="516.2" stroke="#555" stroke-width="0.5"/>
<text x="107.3" y="518.02" font-size="5.2" text-anchor="end" fill="#666">3</text>
<line x1="107.8" y1="536.5" x2="109.3" y2="536.5" stroke="#555" stroke-width="0.5"/>
<text x="107.3" y="538.32" font-size="5.2" text-anchor="end" fill="#666">2</text>
<line x1="107.8" y1="556.5" x2="109.3" y2="556.5" stroke="#555" stroke-width="0.5"/>
<text x="107.3" y="558.32" font-size="5.2" text-anchor="end" fill="#666">1</text>
<line x1="107.8" y1="576.3" x2="109.3" y2="576.3" stroke="#555" stroke-width="0.5"/>
<text x="107.3" y="578.12" font-size="5.2" text-anchor="end" fill="#666">0</text>
<line x1="127.4" y1="579.4" x2="127.4" y2="580.9" stroke="#555" stroke-width="0.5"/>
<line x1="158.7" y1="579.4" x2="158.7" y2="580.9" stroke="#555" stroke-width="0.5"/>
<circle cx="123.94" cy="563.6" r="1.6" fill="#1a3c9b" fill-opacity="0.3"/>
<circle cx="125.29" cy="572.61" r="1.6" fill="#1a3c9b" fill-opacity="0.3"/>
<circle cx="125.15" cy="559.82" r="1.6" fill="#1a3c9b" fill-opacity="0.3"/>
<circle cx="121.31" cy="568.6" r="1.6" fill="#1a3c9b" fill-opacity="0.3"/>
<circle cx="120.02" cy="572.78" r="1.6" fill="#1a3c9b" fill-opacity="0.3"/>
<circle cx="118.93" cy="568.81" r="1.6" fill="#1a3c9b" fill-opacity="0.3"/>
<circle cx="122.77" cy="559.31" r="1.6" fill="#1a3c9b" fill-opacity="0.3"/>
<circle cx="126.26" cy="568.06" r="1.6" fill="#1a3c9b" fill-opacity="0.3"/>
<circle cx="124.79" cy="570.1" r="1.6" fill="#1a3c9b" fill-opacity="0.3"/>
<circle cx="121.83" cy="566.56" r="1.6" fill="#1a3c9b" fill-opacity="0.3"/>
<circle cx="121.34" cy="566.06" r="1.6" fill="#1a3c9b" fill-opacity="0.3"/>
<circle cx="120" cy="570.66" r="1.6" fill="#1a3c9b" fill-opacity="0.3"/>
<circle cx="126.02" cy="562.11" r="1.6" fill="#1a3c9b" fill-opacity="0.3"/>
<circle cx="119.74" cy="566.13" r="1.6" fill="#1a3c9b" fill-opacity="0.3"/>
<circle cx="121.86" cy="572.52" r="1.6" fill="#1a3c9b" fill-opacity="0.3"/>
<circle cx="122.6" cy="570.72" r="1.6" fill="#1a3c9b" fill-opacity="0.3"/>
<circle cx="123.28" cy="568.95" r="1.6" fill="#1a3c9b" fill-opacity="0.3"/>
<circle cx="123.88" cy="572.42" r="1.6" fill="#1a3c9b" fill-opacity="0.3"/>
<circle cx="125.1" cy="572.03" r="1.6" fill="#1a3c9b" fill-opacity="0.3"/>
<circle cx="121.93" cy="565.83" r="1.6" fill="#1a3c9b" fill-opacity="0.3"/>
<circle cx="119.71" cy="568.84" r="1.6" fill="#1a3c9b" fill-opacity="0.3"/>
<circle cx="125.58" cy="567.06" r="1.6" fill="#1a3c9b" fill-opacity="0.3"/>
<circle cx="122.82" cy="568.34" r="1.6" fill="#1a3c9b" fill-opacity="0.3"/>
<circle cx="118.28" cy="558.14" r="1.6" fill="#1a3c9b" fill-opacity="0.3"/>
<circle cx="119.54" cy="572.93" r="1.6" fill="#1a3c9b" fill-opacity="0.3"/>
<circle cx="118.27" cy="563.72" r="1.6" fill="#1a3c9b" fill-opacity="0.3"/>
<circle cx="121.33" cy="554.88" r="1.6" fill="#1a3c9b" fill-opacity="0.3"/>
<circle cx="123.65" cy="571.26" r="1.6" fill="#1a3c9b" fill-opacity="0.3"/>
<circle cx="121.75" cy="568.2" r="1.6" fill="#1a3c9b" fill-opacity="0.3"/>
<circle cx="123.95" cy="552.16" r="1.6" fill="#1a3c9b" fill-opacity="0.3"/>
<circle cx="120.45" cy="572.47" r="1.6" fill="#1a3c9b" fill-opacity="0.3"/>
<circle cx="119.46" cy="551.23" r="1.6" fill="#1a3c9b" fill-opacity="0.3"/>
<circle cx="121.66" cy="572.85" r="1.6" fill="#1a3c9b" fill-opacity="0.3"/>
<circle cx="121.66" cy="562.75" r="1.6" fill="#1a3c9b" fill-opacity="0.3"/>
<circle cx="122.26" cy="564.72" r="1.6" fill="#1a3c9b" fill-opacity="0.3"/>
<circle cx="120.15" cy="552.13" r="1.6" fill="#1a3c9b" fill-opacity="0.3"/>
<circle cx="123.69" cy="570.11" r="1.6" fill="#1a3c9b" fill-opacity="0.3"/>
<circle cx="126.25" cy="568.15" r="1.6" fill="#1a3c9b" fill-opacity="0.3"/>
<circle cx="126.34" cy="563.46" r="1.6" fill="#1a3c9b" fill-opacity="0.3"/>
<circle cx="125.21" cy="572.86" r="1.6" fill="#1a3c9b" fill-opacity="0.3"/>
<circle cx="120.4" cy="573.09" r="1.6" fill="#1a3c9b" fill-opacity="0.3"/>
<circle cx="124.54" cy="564.21" r="1.6" fill="#1a3c9b" fill-opacity="0.3"/>
<circle cx="119.2" cy="518.8" r="1.68" fill="#1a3c9b" fill-opacity="0.3"/>
<circle cx="123.2" cy="540.4" r="1.68" fill="#1a3c9b" fill-opacity="0.3"/>
<circle cx="125" cy="547" r="1.68" fill="#1a3c9b" fill-opacity="0.3"/>
<rect x="117.4" y="561.6" width="10" height="11.6" fill="none" stroke="#1a3c9b" stroke-width="0.7"/>
<line x1="122.4" y1="545.9" x2="122.4" y2="575.8" stroke="#1a3c9b" stroke-width="1.2"/>
<line x1="117.4" y1="545.9" x2="127.4" y2="545.9" stroke="#1a3c9b" stroke-width="1.2"/>
<line x1="117.4" y1="575.8" x2="127.4" y2="575.8" stroke="#1a3c9b" stroke-width="1.2"/>
<line x1="117.4" y1="566.6" x2="127.4" y2="566.6" stroke="#1a3c9b" stroke-width="1.2"/>
<circle cx="133.64" cy="572.43" r="1.6" fill="#f01818" fill-opacity="0.3"/>
<circle cx="137.12" cy="573.53" r="1.6" fill="#f01818" fill-opacity="0.3"/>
<circle cx="133.75" cy="573.64" r="1.6" fill="#f01818" fill-opacity="0.3"/>
<circle cx="137.37" cy="574.67" r="1.6" fill="#f01818" fill-opacity="0.3"/>
<circle cx="129.43" cy="571.17" r="1.6" fill="#f01818" fill-opacity="0.3"/>
<circle cx="134.29" cy="571.32" r="1.6" fill="#f01818" fill-opacity="0.3"/>
<circle cx="134.05" cy="572.57" r="1.6" fill="#f01818" fill-opacity="0.3"/>
<circle cx="135.22" cy="571.17" r="1.6" fill="#f01818" fill-opacity="0.3"/>
<circle cx="134.63" cy="572.31" r="1.6" fill="#f01818" fill-opacity="0.3"/>
<circle cx="129.48" cy="573.4" r="1.6" fill="#f01818" fill-opacity="0.3"/>
<circle cx="136.62" cy="568.09" r="1.6" fill="#f01818" fill-opacity="0.3"/>
<circle cx="130.43" cy="565.45" r="1.6" fill="#f01818" fill-opacity="0.3"/>
<circle cx="132.99" cy="572.79" r="1.6" fill="#f01818" fill-opacity="0.3"/>
<circle cx="131.34" cy="573.16" r="1.6" fill="#f01818" fill-opacity="0.3"/>
<circle cx="136.58" cy="575.99" r="1.6" fill="#f01818" fill-opacity="0.3"/>
<circle cx="133.74" cy="574.76" r="1.6" fill="#f01818" fill-opacity="0.3"/>
<circle cx="134.06" cy="570.89" r="1.6" fill="#f01818" fill-opacity="0.3"/>
<circle cx="129.52" cy="566.94" r="1.6" fill="#f01818" fill-opacity="0.3"/>
<circle cx="136.03" cy="572.36" r="1.6" fill="#f01818" fill-opacity="0.3"/>
<circle cx="131.62" cy="570.23" r="1.6" fill="#f01818" fill-opacity="0.3"/>
<circle cx="133.68" cy="570.81" r="1.6" fill="#f01818" fill-opacity="0.3"/>
<rect x="128.1" y="567.8" width="10.1" height="8.2" fill="none" stroke="#f01818" stroke-width="0.7"/>
<line x1="133.15" y1="562.4" x2="133.15" y2="576.3" stroke="#f01818" stroke-width="1.2"/>
<line x1="128.1" y1="562.4" x2="138.2" y2="562.4" stroke="#f01818" stroke-width="1.2"/>
<line x1="128.1" y1="576.3" x2="138.2" y2="576.3" stroke="#f01818" stroke-width="1.2"/>
<line x1="128.1" y1="571.6" x2="138.2" y2="571.6" stroke="#f01818" stroke-width="1.2"/>
<circle cx="154.1" cy="570.84" r="1.6" fill="#1a3c9b" fill-opacity="0.3"/>
<circle cx="152.5" cy="570.71" r="1.6" fill="#1a3c9b" fill-opacity="0.3"/>
<circle cx="151.02" cy="570.76" r="1.6" fill="#1a3c9b" fill-opacity="0.3"/>
<circle cx="150.71" cy="573.09" r="1.6" fill="#1a3c9b" fill-opacity="0.3"/>
<circle cx="156.69" cy="569.47" r="1.6" fill="#1a3c9b" fill-opacity="0.3"/>
<circle cx="154.73" cy="573.82" r="1.6" fill="#1a3c9b" fill-opacity="0.3"/>
<circle cx="157.37" cy="575.67" r="1.6" fill="#1a3c9b" fill-opacity="0.3"/>
<circle cx="152.03" cy="571.7" r="1.6" fill="#1a3c9b" fill-opacity="0.3"/>
<circle cx="156.8" cy="574.25" r="1.6" fill="#1a3c9b" fill-opacity="0.3"/>
<circle cx="156.78" cy="571.01" r="1.6" fill="#1a3c9b" fill-opacity="0.3"/>
<circle cx="156.61" cy="570.54" r="1.6" fill="#1a3c9b" fill-opacity="0.3"/>
<circle cx="154.12" cy="570.18" r="1.6" fill="#1a3c9b" fill-opacity="0.3"/>
<circle cx="152.28" cy="572.18" r="1.6" fill="#1a3c9b" fill-opacity="0.3"/>
<circle cx="157.11" cy="575.7" r="1.6" fill="#1a3c9b" fill-opacity="0.3"/>
<circle cx="155.03" cy="575.11" r="1.6" fill="#1a3c9b" fill-opacity="0.3"/>
<circle cx="154.79" cy="572.49" r="1.6" fill="#1a3c9b" fill-opacity="0.3"/>
<circle cx="156.76" cy="568.25" r="1.6" fill="#1a3c9b" fill-opacity="0.3"/>
<circle cx="153.67" cy="572.1" r="1.6" fill="#1a3c9b" fill-opacity="0.3"/>
<circle cx="153" cy="575.29" r="1.6" fill="#1a3c9b" fill-opacity="0.3"/>
<circle cx="154.5" cy="575.45" r="1.6" fill="#1a3c9b" fill-opacity="0.3"/>
<circle cx="152.95" cy="570.18" r="1.6" fill="#1a3c9b" fill-opacity="0.3"/>
<circle cx="150.83" cy="575.7" r="1.6" fill="#1a3c9b" fill-opacity="0.3"/>
<circle cx="155.12" cy="575.44" r="1.6" fill="#1a3c9b" fill-opacity="0.3"/>
<circle cx="154.59" cy="566.96" r="1.6" fill="#1a3c9b" fill-opacity="0.3"/>
<circle cx="155.22" cy="570.31" r="1.6" fill="#1a3c9b" fill-opacity="0.3"/>
<circle cx="151.44" cy="575.47" r="1.6" fill="#1a3c9b" fill-opacity="0.3"/>
<circle cx="151.85" cy="571.99" r="1.6" fill="#1a3c9b" fill-opacity="0.3"/>
<circle cx="152.36" cy="570.09" r="1.6" fill="#1a3c9b" fill-opacity="0.3"/>
<circle cx="149.91" cy="568.56" r="1.6" fill="#1a3c9b" fill-opacity="0.3"/>
<circle cx="153.8" cy="573.72" r="1.6" fill="#1a3c9b" fill-opacity="0.3"/>
<circle cx="153.95" cy="575.45" r="1.6" fill="#1a3c9b" fill-opacity="0.3"/>
<circle cx="157.07" cy="571.88" r="1.6" fill="#1a3c9b" fill-opacity="0.3"/>
<circle cx="156.42" cy="570.12" r="1.6" fill="#1a3c9b" fill-opacity="0.3"/>
<circle cx="152.08" cy="575.38" r="1.6" fill="#1a3c9b" fill-opacity="0.3"/>
<circle cx="151.95" cy="565.92" r="1.6" fill="#1a3c9b" fill-opacity="0.3"/>
<circle cx="155.95" cy="572.47" r="1.6" fill="#1a3c9b" fill-opacity="0.3"/>
<circle cx="154.62" cy="572.74" r="1.6" fill="#1a3c9b" fill-opacity="0.3"/>
<circle cx="150.89" cy="575.43" r="1.6" fill="#1a3c9b" fill-opacity="0.3"/>
<circle cx="155.73" cy="574.02" r="1.6" fill="#1a3c9b" fill-opacity="0.3"/>
<circle cx="153.48" cy="572.63" r="1.6" fill="#1a3c9b" fill-opacity="0.3"/>
<circle cx="154.98" cy="571.09" r="1.6" fill="#1a3c9b" fill-opacity="0.3"/>
<circle cx="155.08" cy="572.24" r="1.6" fill="#1a3c9b" fill-opacity="0.3"/>
<circle cx="152.9" cy="572.7" r="1.6" fill="#1a3c9b" fill-opacity="0.3"/>
<circle cx="149.8" cy="568.09" r="1.6" fill="#1a3c9b" fill-opacity="0.3"/>
<circle cx="150.08" cy="571.98" r="1.6" fill="#1a3c9b" fill-opacity="0.3"/>
<circle cx="151.36" cy="571.16" r="1.6" fill="#1a3c9b" fill-opacity="0.3"/>
<circle cx="154.75" cy="567.43" r="1.6" fill="#1a3c9b" fill-opacity="0.3"/>
<circle cx="151.66" cy="573.8" r="1.6" fill="#1a3c9b" fill-opacity="0.3"/>
<circle cx="150.39" cy="575.24" r="1.6" fill="#1a3c9b" fill-opacity="0.3"/>
<circle cx="153.6" cy="520" r="1.68" fill="#1a3c9b" fill-opacity="0.3"/>
<circle cx="155.1" cy="545.5" r="1.68" fill="#1a3c9b" fill-opacity="0.3"/>
<circle cx="152" cy="549" r="1.68" fill="#1a3c9b" fill-opacity="0.3"/>
<rect x="149" y="570.1" width="9.2" height="5.4" fill="none" stroke="#1a3c9b" stroke-width="0.7"/>
<line x1="153.6" y1="565.5" x2="153.6" y2="576.3" stroke="#1a3c9b" stroke-width="1.2"/>
<line x1="149" y1="565.5" x2="158.2" y2="565.5" stroke="#1a3c9b" stroke-width="1.2"/>
<line x1="149" y1="576.3" x2="158.2" y2="576.3" stroke="#1a3c9b" stroke-width="1.2"/>
<line x1="149" y1="573.2" x2="158.2" y2="573.2" stroke="#1a3c9b" stroke-width="1.2"/>
<circle cx="162.15" cy="570.43" r="1.6" fill="#f01818" fill-opacity="0.3"/>
<circle cx="163.98" cy="571.67" r="1.6" fill="#f01818" fill-opacity="0.3"/>
<circle cx="166.81" cy="572.47" r="1.6" fill="#f01818" fill-opacity="0.3"/>
<circle cx="159.91" cy="569.74" r="1.6" fill="#f01818" fill-opacity="0.3"/>
<circle cx="163.62" cy="575.34" r="1.6" fill="#f01818" fill-opacity="0.3"/>
<circle cx="160.18" cy="574.1" r="1.6" fill="#f01818" fill-opacity="0.3"/>
<circle cx="161.14" cy="574.11" r="1.6" fill="#f01818" fill-opacity="0.3"/>
<circle cx="162.32" cy="574.2" r="1.6" fill="#f01818" fill-opacity="0.3"/>
<circle cx="160.44" cy="571.46" r="1.6" fill="#f01818" fill-opacity="0.3"/>
<circle cx="162.73" cy="574.67" r="1.6" fill="#f01818" fill-opacity="0.3"/>
<circle cx="162.13" cy="574.79" r="1.6" fill="#f01818" fill-opacity="0.3"/>
<circle cx="163.58" cy="569.87" r="1.6" fill="#f01818" fill-opacity="0.3"/>
<circle cx="167.36" cy="572.27" r="1.6" fill="#f01818" fill-opacity="0.3"/>
<circle cx="163.76" cy="574.64" r="1.6" fill="#f01818" fill-opacity="0.3"/>
<circle cx="159.94" cy="575.53" r="1.6" fill="#f01818" fill-opacity="0.3"/>
<circle cx="165.9" cy="573.35" r="1.6" fill="#f01818" fill-opacity="0.3"/>
<circle cx="165.86" cy="574.4" r="1.6" fill="#f01818" fill-opacity="0.3"/>
<circle cx="160.13" cy="573.59" r="1.6" fill="#f01818" fill-opacity="0.3"/>
<circle cx="160.89" cy="574.06" r="1.6" fill="#f01818" fill-opacity="0.3"/>
<circle cx="164.73" cy="569.84" r="1.6" fill="#f01818" fill-opacity="0.3"/>
<circle cx="161.21" cy="575.94" r="1.6" fill="#f01818" fill-opacity="0.3"/>
<circle cx="163.86" cy="574.24" r="1.6" fill="#f01818" fill-opacity="0.3"/>
<circle cx="165.34" cy="570.67" r="1.6" fill="#f01818" fill-opacity="0.3"/>
<circle cx="162.88" cy="575.23" r="1.6" fill="#f01818" fill-opacity="0.3"/>
<circle cx="167.61" cy="573.59" r="1.6" fill="#f01818" fill-opacity="0.3"/>
<circle cx="162.48" cy="573.79" r="1.6" fill="#f01818" fill-opacity="0.3"/>
<circle cx="163.71" cy="575.5" r="1.6" fill="#f01818" fill-opacity="0.3"/>
<circle cx="168.1" cy="574.68" r="1.6" fill="#f01818" fill-opacity="0.3"/>
<circle cx="162.52" cy="571.81" r="1.6" fill="#f01818" fill-opacity="0.3"/>
<circle cx="164.03" cy="574.12" r="1.6" fill="#f01818" fill-opacity="0.3"/>
<circle cx="165.17" cy="570.92" r="1.6" fill="#f01818" fill-opacity="0.3"/>
<circle cx="163.96" cy="570.46" r="1.6" fill="#f01818" fill-opacity="0.3"/>
<circle cx="163.09" cy="571.69" r="1.6" fill="#f01818" fill-opacity="0.3"/>
<circle cx="166.66" cy="571.61" r="1.6" fill="#f01818" fill-opacity="0.3"/>
<circle cx="161.86" cy="570.6" r="1.6" fill="#f01818" fill-opacity="0.3"/>
<circle cx="162.8" cy="557.8" r="1.68" fill="#f01818" fill-opacity="0.3"/>
<circle cx="167.4" cy="556.7" r="1.68" fill="#f01818" fill-opacity="0.3"/>
<circle cx="166.7" cy="563.2" r="1.68" fill="#f01818" fill-opacity="0.3"/>
<circle cx="164.5" cy="558" r="1.68" fill="#f01818" fill-opacity="0.3"/>
<rect x="159" y="571.6" width="10" height="3.9" fill="none" stroke="#f01818" stroke-width="0.7"/>
<line x1="164" y1="569.6" x2="164" y2="576.3" stroke="#f01818" stroke-width="1.2"/>
<line x1="159" y1="569.6" x2="169" y2="569.6" stroke="#f01818" stroke-width="1.2"/>
<line x1="159" y1="576.3" x2="169" y2="576.3" stroke="#f01818" stroke-width="1.2"/>
<line x1="159" y1="573.7" x2="169" y2="573.7" stroke="#f01818" stroke-width="1.2"/>
<path d="M122.3,533.1 L122.3,533.1 L133.1,533.1 L133.1,533.1" fill="none" stroke="#4a4a4a" stroke-width="0.75"/>
<text x="127.4" y="535.57" font-size="9.5" text-anchor="middle" font-weight="bold" fill="#1a1a1a">*</text>
<path d="M121.2,530.8 L121.2,524.2 L153.6,524.2 L153.6,532.7" fill="none" stroke="#4a4a4a" stroke-width="0.75"/>
<text x="137.1" y="526.67" font-size="9.5" text-anchor="middle" font-weight="bold" fill="#1a1a1a">****</text>
<text x="97.2" y="547.7" font-size="8.7" text-anchor="middle" fill="#222" transform="rotate(-90 97.2 547.7)">Cluster 14 (%)</text>
<text x="127.4" y="589.3" font-size="9.6" text-anchor="middle" fill="#222">TP1</text>
<text x="158.7" y="589.3" font-size="9.6" text-anchor="middle" fill="#222">TP2</text>
<rect x="197.4" y="515.9" width="66.9" height="63.5" fill="#fff"/>
<line x1="197.4" y1="545.6" x2="264.3" y2="545.6" stroke="#f3f3f3" stroke-width="0.5"/>
<line x1="197.4" y1="566.05" x2="264.3" y2="566.05" stroke="#f3f3f3" stroke-width="0.5"/>
<line x1="197.4" y1="535.4" x2="264.3" y2="535.4" stroke="#ebebeb" stroke-width="0.6"/>
<line x1="197.4" y1="555.8" x2="264.3" y2="555.8" stroke="#ebebeb" stroke-width="0.6"/>
<line x1="197.4" y1="576.3" x2="264.3" y2="576.3" stroke="#ebebeb" stroke-width="0.6"/>
<line x1="215.8" y1="515.9" x2="215.8" y2="579.4" stroke="#ebebeb" stroke-width="0.6"/>
<line x1="246.3" y1="515.9" x2="246.3" y2="579.4" stroke="#ebebeb" stroke-width="0.6"/>
<rect x="197.4" y="515.9" width="66.9" height="63.5" fill="none" stroke="#c9c9c9" stroke-width="0.8"/>
<line x1="195.9" y1="535.4" x2="197.4" y2="535.4" stroke="#555" stroke-width="0.5"/>
<text x="195.4" y="537.22" font-size="5.2" text-anchor="end" fill="#666">4</text>
<line x1="195.9" y1="555.8" x2="197.4" y2="555.8" stroke="#555" stroke-width="0.5"/>
<text x="195.4" y="557.62" font-size="5.2" text-anchor="end" fill="#666">2</text>
<line x1="195.9" y1="576.3" x2="197.4" y2="576.3" stroke="#555" stroke-width="0.5"/>
<text x="195.4" y="578.12" font-size="5.2" text-anchor="end" fill="#666">0</text>
<line x1="215.8" y1="579.4" x2="215.8" y2="580.9" stroke="#555" stroke-width="0.5"/>
<line x1="246.3" y1="579.4" x2="246.3" y2="580.9" stroke="#555" stroke-width="0.5"/>
<circle cx="213.88" cy="568.57" r="1.6" fill="#1a3c9b" fill-opacity="0.3"/>
<circle cx="206.93" cy="573.89" r="1.6" fill="#1a3c9b" fill-opacity="0.3"/>
<circle cx="206" cy="565.74" r="1.6" fill="#1a3c9b" fill-opacity="0.3"/>
<circle cx="207.45" cy="567.06" r="1.6" fill="#1a3c9b" fill-opacity="0.3"/>
<circle cx="207.46" cy="568.77" r="1.6" fill="#1a3c9b" fill-opacity="0.3"/>
<circle cx="211.85" cy="566.64" r="1.6" fill="#1a3c9b" fill-opacity="0.3"/>
<circle cx="207.38" cy="565.88" r="1.6" fill="#1a3c9b" fill-opacity="0.3"/>
<circle cx="210.71" cy="569.92" r="1.6" fill="#1a3c9b" fill-opacity="0.3"/>
<circle cx="207.17" cy="568.51" r="1.6" fill="#1a3c9b" fill-opacity="0.3"/>
<circle cx="212.9" cy="570.71" r="1.6" fill="#1a3c9b" fill-opacity="0.3"/>
<circle cx="208.86" cy="564.54" r="1.6" fill="#1a3c9b" fill-opacity="0.3"/>
<circle cx="208.29" cy="569.55" r="1.6" fill="#1a3c9b" fill-opacity="0.3"/>
<circle cx="213.11" cy="568.53" r="1.6" fill="#1a3c9b" fill-opacity="0.3"/>
<circle cx="213.38" cy="565.67" r="1.6" fill="#1a3c9b" fill-opacity="0.3"/>
<circle cx="207.61" cy="562.28" r="1.6" fill="#1a3c9b" fill-opacity="0.3"/>
<circle cx="212.54" cy="569.35" r="1.6" fill="#1a3c9b" fill-opacity="0.3"/>
<circle cx="211.32" cy="564.18" r="1.6" fill="#1a3c9b" fill-opacity="0.3"/>
<circle cx="209.42" cy="569.99" r="1.6" fill="#1a3c9b" fill-opacity="0.3"/>
<circle cx="209.52" cy="574.56" r="1.6" fill="#1a3c9b" fill-opacity="0.3"/>
<circle cx="210.5" cy="573.2" r="1.6" fill="#1a3c9b" fill-opacity="0.3"/>
<circle cx="209.96" cy="573.54" r="1.6" fill="#1a3c9b" fill-opacity="0.3"/>
<circle cx="206.81" cy="566.59" r="1.6" fill="#1a3c9b" fill-opacity="0.3"/>
<circle cx="213.01" cy="565.16" r="1.6" fill="#1a3c9b" fill-opacity="0.3"/>
<circle cx="210.92" cy="571.74" r="1.6" fill="#1a3c9b" fill-opacity="0.3"/>
<circle cx="208.24" cy="566.8" r="1.6" fill="#1a3c9b" fill-opacity="0.3"/>
<circle cx="212.52" cy="571.29" r="1.6" fill="#1a3c9b" fill-opacity="0.3"/>
<circle cx="210.67" cy="569.56" r="1.6" fill="#1a3c9b" fill-opacity="0.3"/>
<circle cx="206.05" cy="568.94" r="1.6" fill="#1a3c9b" fill-opacity="0.3"/>
<rect x="205.1" y="564.4" width="9.6" height="9.6" fill="none" stroke="#1a3c9b" stroke-width="0.7"/>
<line x1="209.9" y1="562.1" x2="209.9" y2="574.7" stroke="#1a3c9b" stroke-width="1.2"/>
<line x1="205.1" y1="562.1" x2="214.7" y2="562.1" stroke="#1a3c9b" stroke-width="1.2"/>
<line x1="205.1" y1="574.7" x2="214.7" y2="574.7" stroke="#1a3c9b" stroke-width="1.2"/>
<line x1="205.1" y1="569.3" x2="214.7" y2="569.3" stroke="#1a3c9b" stroke-width="1.2"/>
<circle cx="219.87" cy="570.54" r="1.6" fill="#f01818" fill-opacity="0.3"/>
<circle cx="222.77" cy="569.5" r="1.6" fill="#f01818" fill-opacity="0.3"/>
<circle cx="219.96" cy="554.61" r="1.6" fill="#f01818" fill-opacity="0.3"/>
<circle cx="219.41" cy="563.03" r="1.6" fill="#f01818" fill-opacity="0.3"/>
<circle cx="216.79" cy="565.9" r="1.6" fill="#f01818" fill-opacity="0.3"/>
<circle cx="220.57" cy="572.84" r="1.6" fill="#f01818" fill-opacity="0.3"/>
<circle cx="219.47" cy="568.02" r="1.6" fill="#f01818" fill-opacity="0.3"/>
<circle cx="223.09" cy="570.94" r="1.6" fill="#f01818" fill-opacity="0.3"/>
<circle cx="217.19" cy="554.74" r="1.6" fill="#f01818" fill-opacity="0.3"/>
<circle cx="219.68" cy="569.6" r="1.6" fill="#f01818" fill-opacity="0.3"/>
<circle cx="217.61" cy="565.39" r="1.6" fill="#f01818" fill-opacity="0.3"/>
<circle cx="219.12" cy="572.84" r="1.6" fill="#f01818" fill-opacity="0.3"/>
<circle cx="218.72" cy="566.67" r="1.6" fill="#f01818" fill-opacity="0.3"/>
<circle cx="220.16" cy="557.89" r="1.6" fill="#f01818" fill-opacity="0.3"/>
<circle cx="223.63" cy="555.12" r="1.6" fill="#f01818" fill-opacity="0.3"/>
<circle cx="221.86" cy="567.56" r="1.6" fill="#f01818" fill-opacity="0.3"/>
<circle cx="222.62" cy="561.93" r="1.6" fill="#f01818" fill-opacity="0.3"/>
<circle cx="220.43" cy="558.05" r="1.6" fill="#f01818" fill-opacity="0.3"/>
<circle cx="218.47" cy="571.53" r="1.6" fill="#f01818" fill-opacity="0.3"/>
<rect x="215.9" y="560.1" width="9.6" height="11.5" fill="none" stroke="#f01818" stroke-width="0.7"/>
<line x1="220.7" y1="554.2" x2="220.7" y2="573.2" stroke="#f01818" stroke-width="1.2"/>
<line x1="215.9" y1="554.2" x2="225.5" y2="554.2" stroke="#f01818" stroke-width="1.2"/>
<line x1="215.9" y1="573.2" x2="225.5" y2="573.2" stroke="#f01818" stroke-width="1.2"/>
<line x1="215.9" y1="565.9" x2="225.5" y2="565.9" stroke="#f01818" stroke-width="1.2"/>
<circle cx="240.04" cy="573.11" r="1.6" fill="#1a3c9b" fill-opacity="0.3"/>
<circle cx="241.64" cy="570.33" r="1.6" fill="#1a3c9b" fill-opacity="0.3"/>
<circle cx="244.12" cy="548.22" r="1.6" fill="#1a3c9b" fill-opacity="0.3"/>
<circle cx="237.66" cy="557.79" r="1.6" fill="#1a3c9b" fill-opacity="0.3"/>
<circle cx="243.59" cy="571.47" r="1.6" fill="#1a3c9b" fill-opacity="0.3"/>
<circle cx="239.09" cy="566.96" r="1.6" fill="#1a3c9b" fill-opacity="0.3"/>
<circle cx="243.92" cy="565.51" r="1.6" fill="#1a3c9b" fill-opacity="0.3"/>
<circle cx="237.62" cy="569.9" r="1.6" fill="#1a3c9b" fill-opacity="0.3"/>
<circle cx="237.61" cy="550.2" r="1.6" fill="#1a3c9b" fill-opacity="0.3"/>
<circle cx="242.01" cy="573.58" r="1.6" fill="#1a3c9b" fill-opacity="0.3"/>
<circle cx="244.82" cy="560.27" r="1.6" fill="#1a3c9b" fill-opacity="0.3"/>
<circle cx="241.71" cy="563.46" r="1.6" fill="#1a3c9b" fill-opacity="0.3"/>
<circle cx="237.72" cy="552.79" r="1.6" fill="#1a3c9b" fill-opacity="0.3"/>
<circle cx="238.21" cy="554.15" r="1.6" fill="#1a3c9b" fill-opacity="0.3"/>
<circle cx="238.33" cy="575.59" r="1.6" fill="#1a3c9b" fill-opacity="0.3"/>
<circle cx="240.83" cy="572.27" r="1.6" fill="#1a3c9b" fill-opacity="0.3"/>
<circle cx="244.39" cy="548.42" r="1.6" fill="#1a3c9b" fill-opacity="0.3"/>
<circle cx="237.45" cy="572.96" r="1.6" fill="#1a3c9b" fill-opacity="0.3"/>
<circle cx="237.48" cy="571.56" r="1.6" fill="#1a3c9b" fill-opacity="0.3"/>
<circle cx="241.54" cy="562.79" r="1.6" fill="#1a3c9b" fill-opacity="0.3"/>
<circle cx="243.24" cy="558.96" r="1.6" fill="#1a3c9b" fill-opacity="0.3"/>
<circle cx="243.27" cy="570.79" r="1.6" fill="#1a3c9b" fill-opacity="0.3"/>
<circle cx="244.11" cy="555.26" r="1.6" fill="#1a3c9b" fill-opacity="0.3"/>
<circle cx="238.58" cy="554.07" r="1.6" fill="#1a3c9b" fill-opacity="0.3"/>
<circle cx="241.09" cy="569.39" r="1.6" fill="#1a3c9b" fill-opacity="0.3"/>
<circle cx="241.66" cy="567.42" r="1.6" fill="#1a3c9b" fill-opacity="0.3"/>
<circle cx="244.05" cy="569.15" r="1.6" fill="#1a3c9b" fill-opacity="0.3"/>
<circle cx="239.42" cy="547.6" r="1.6" fill="#1a3c9b" fill-opacity="0.3"/>
<circle cx="244.37" cy="569.81" r="1.6" fill="#1a3c9b" fill-opacity="0.3"/>
<circle cx="243.93" cy="547.94" r="1.6" fill="#1a3c9b" fill-opacity="0.3"/>
<circle cx="240.05" cy="574.52" r="1.6" fill="#1a3c9b" fill-opacity="0.3"/>
<circle cx="238.37" cy="562.31" r="1.6" fill="#1a3c9b" fill-opacity="0.3"/>
<circle cx="240.58" cy="572.41" r="1.6" fill="#1a3c9b" fill-opacity="0.3"/>
<circle cx="244.54" cy="559.75" r="1.6" fill="#1a3c9b" fill-opacity="0.3"/>
<circle cx="243.27" cy="569" r="1.6" fill="#1a3c9b" fill-opacity="0.3"/>
<circle cx="239.46" cy="558.03" r="1.6" fill="#1a3c9b" fill-opacity="0.3"/>
<circle cx="244.28" cy="552.5" r="1.6" fill="#1a3c9b" fill-opacity="0.3"/>
<circle cx="239.13" cy="547.06" r="1.6" fill="#1a3c9b" fill-opacity="0.3"/>
<circle cx="242.01" cy="566.3" r="1.6" fill="#1a3c9b" fill-opacity="0.3"/>
<circle cx="238.18" cy="560.81" r="1.6" fill="#1a3c9b" fill-opacity="0.3"/>
<circle cx="239.56" cy="566.55" r="1.6" fill="#1a3c9b" fill-opacity="0.3"/>
<circle cx="241.7" cy="564.91" r="1.6" fill="#1a3c9b" fill-opacity="0.3"/>
<circle cx="243.63" cy="571.16" r="1.6" fill="#1a3c9b" fill-opacity="0.3"/>
<circle cx="239.1" cy="564.77" r="1.6" fill="#1a3c9b" fill-opacity="0.3"/>
<circle cx="238.35" cy="571.82" r="1.6" fill="#1a3c9b" fill-opacity="0.3"/>
<circle cx="237.12" cy="568.21" r="1.6" fill="#1a3c9b" fill-opacity="0.3"/>
<circle cx="241.21" cy="570.1" r="1.6" fill="#1a3c9b" fill-opacity="0.3"/>
<circle cx="244.42" cy="568.03" r="1.6" fill="#1a3c9b" fill-opacity="0.3"/>
<circle cx="242.97" cy="570.65" r="1.6" fill="#1a3c9b" fill-opacity="0.3"/>
<circle cx="244.25" cy="572.21" r="1.6" fill="#1a3c9b" fill-opacity="0.3"/>
<circle cx="241.3" cy="567.93" r="1.6" fill="#1a3c9b" fill-opacity="0.3"/>
<circle cx="240.59" cy="570.56" r="1.6" fill="#1a3c9b" fill-opacity="0.3"/>
<circle cx="243.95" cy="575.78" r="1.6" fill="#1a3c9b" fill-opacity="0.3"/>
<circle cx="240.85" cy="561.56" r="1.6" fill="#1a3c9b" fill-opacity="0.3"/>
<circle cx="244.43" cy="565.76" r="1.6" fill="#1a3c9b" fill-opacity="0.3"/>
<circle cx="242.05" cy="565.81" r="1.6" fill="#1a3c9b" fill-opacity="0.3"/>
<circle cx="237.8" cy="519.7" r="1.68" fill="#1a3c9b" fill-opacity="0.3"/>
<circle cx="243.7" cy="518.8" r="1.68" fill="#1a3c9b" fill-opacity="0.3"/>
<circle cx="243.2" cy="534.7" r="1.68" fill="#1a3c9b" fill-opacity="0.3"/>
<circle cx="240.1" cy="538.5" r="1.68" fill="#1a3c9b" fill-opacity="0.3"/>
<circle cx="241" cy="542" r="1.68" fill="#1a3c9b" fill-opacity="0.3"/>
<rect x="236.3" y="563.2" width="9.5" height="12.3" fill="none" stroke="#1a3c9b" stroke-width="0.7"/>
<line x1="241.05" y1="547" x2="241.05" y2="576.3" stroke="#1a3c9b" stroke-width="1.2"/>
<line x1="236.3" y1="547" x2="245.8" y2="547" stroke="#1a3c9b" stroke-width="1.2"/>
<line x1="236.3" y1="576.3" x2="245.8" y2="576.3" stroke="#1a3c9b" stroke-width="1.2"/>
<line x1="236.3" y1="571.6" x2="245.8" y2="571.6" stroke="#1a3c9b" stroke-width="1.2"/>
<circle cx="250.32" cy="574.92" r="1.6" fill="#f01818" fill-opacity="0.3"/>
<circle cx="253.33" cy="573.06" r="1.6" fill="#f01818" fill-opacity="0.3"/>
<circle cx="251.48" cy="569.75" r="1.6" fill="#f01818" fill-opacity="0.3"/>
<circle cx="255.34" cy="570.78" r="1.6" fill="#f01818" fill-opacity="0.3"/>
<circle cx="253.71" cy="571.83" r="1.6" fill="#f01818" fill-opacity="0.3"/>
<circle cx="250.57" cy="569.35" r="1.6" fill="#f01818" fill-opacity="0.3"/>
<circle cx="253.46" cy="570.84" r="1.6" fill="#f01818" fill-opacity="0.3"/>
<circle cx="254.15" cy="572.7" r="1.6" fill="#f01818" fill-opacity="0.3"/>
<circle cx="252.06" cy="572.12" r="1.6" fill="#f01818" fill-opacity="0.3"/>
<circle cx="251.61" cy="571.18" r="1.6" fill="#f01818" fill-opacity="0.3"/>
<circle cx="253.03" cy="573.41" r="1.6" fill="#f01818" fill-opacity="0.3"/>
<circle cx="254.55" cy="571.14" r="1.6" fill="#f01818" fill-opacity="0.3"/>
<circle cx="248.76" cy="575.09" r="1.6" fill="#f01818" fill-opacity="0.3"/>
<circle cx="248.93" cy="572.76" r="1.6" fill="#f01818" fill-opacity="0.3"/>
<circle cx="253.96" cy="571" r="1.6" fill="#f01818" fill-opacity="0.3"/>
<circle cx="253.22" cy="575.67" r="1.6" fill="#f01818" fill-opacity="0.3"/>
<circle cx="252.81" cy="571.91" r="1.6" fill="#f01818" fill-opacity="0.3"/>
<circle cx="251.76" cy="570.92" r="1.6" fill="#f01818" fill-opacity="0.3"/>
<circle cx="253" cy="575.75" r="1.6" fill="#f01818" fill-opacity="0.3"/>
<circle cx="247.78" cy="573.76" r="1.6" fill="#f01818" fill-opacity="0.3"/>
<circle cx="253.76" cy="574.16" r="1.6" fill="#f01818" fill-opacity="0.3"/>
<circle cx="253.38" cy="570.77" r="1.6" fill="#f01818" fill-opacity="0.3"/>
<circle cx="249.15" cy="571.66" r="1.6" fill="#f01818" fill-opacity="0.3"/>
<circle cx="253.03" cy="571.61" r="1.6" fill="#f01818" fill-opacity="0.3"/>
<circle cx="248.48" cy="573.96" r="1.6" fill="#f01818" fill-opacity="0.3"/>
<circle cx="254.41" cy="576.11" r="1.6" fill="#f01818" fill-opacity="0.3"/>
<circle cx="248.2" cy="569.98" r="1.6" fill="#f01818" fill-opacity="0.3"/>
<circle cx="254.47" cy="570.1" r="1.6" fill="#f01818" fill-opacity="0.3"/>
<circle cx="249.26" cy="572.97" r="1.6" fill="#f01818" fill-opacity="0.3"/>
<circle cx="249.81" cy="573.96" r="1.6" fill="#f01818" fill-opacity="0.3"/>
<circle cx="252.64" cy="573.09" r="1.6" fill="#f01818" fill-opacity="0.3"/>
<circle cx="247.69" cy="572.27" r="1.6" fill="#f01818" fill-opacity="0.3"/>
<circle cx="248.89" cy="574.29" r="1.6" fill="#f01818" fill-opacity="0.3"/>
<circle cx="255.44" cy="569.64" r="1.6" fill="#f01818" fill-opacity="0.3"/>
<circle cx="250.36" cy="574.47" r="1.6" fill="#f01818" fill-opacity="0.3"/>
<circle cx="252.4" cy="548.1" r="1.68" fill="#f01818" fill-opacity="0.3"/>
<rect x="246.7" y="570.6" width="9.6" height="5.2" fill="none" stroke="#f01818" stroke-width="0.7"/>
<line x1="251.5" y1="569.3" x2="251.5" y2="576.3" stroke="#f01818" stroke-width="1.2"/>
<line x1="246.7" y1="569.3" x2="256.3" y2="569.3" stroke="#f01818" stroke-width="1.2"/>
<line x1="246.7" y1="576.3" x2="256.3" y2="576.3" stroke="#f01818" stroke-width="1.2"/>
<line x1="246.7" y1="573.7" x2="256.3" y2="573.7" stroke="#f01818" stroke-width="1.2"/>
<path d="M210.4,543.5 L210.4,543.5 L220.8,543.5 L220.8,543.5" fill="none" stroke="#4a4a4a" stroke-width="0.75"/>
<text x="215.5" y="545.97" font-size="9.5" text-anchor="middle" font-weight="bold" fill="#1a1a1a">*</text>
<path d="M221.2,537.8 L221.2,531.3 L253.2,531.3 L253.2,539.8" fill="none" stroke="#4a4a4a" stroke-width="0.75"/>
<text x="235.5" y="533.77" font-size="9.5" text-anchor="middle" font-weight="bold" fill="#1a1a1a">****</text>
<path d="M240.9,525.4 L240.9,525.4 L251.7,525.4 L251.7,525.4" fill="none" stroke="#4a4a4a" stroke-width="0.75"/>
<text x="246.3" y="527.87" font-size="9.5" text-anchor="middle" font-weight="bold" fill="#1a1a1a">**</text>
<text x="185.4" y="547.7" font-size="8.7" text-anchor="middle" fill="#222" transform="rotate(-90 185.4 547.7)">Cluster 16 (%)</text>
<text x="215.8" y="589.3" font-size="9.6" text-anchor="middle" fill="#222">TP1</text>
<text x="246.3" y="589.3" font-size="9.6" text-anchor="middle" fill="#222">TP2</text>
<rect x="292.3" y="540.4" width="14.8" height="10.3" fill="#fff" stroke="#1a3c9b" stroke-width="1.2"/>
<ellipse cx="299.7" cy="543.25" rx="4.44" ry="1" fill="#1a3c9b" fill-opacity="0.3"/>
<ellipse cx="299.7" cy="547.8" rx="4.44" ry="1" fill="#1a3c9b" fill-opacity="0.3"/>
<line x1="292.3" y1="545.5" x2="307.1" y2="545.5" stroke="#1a3c9b" stroke-width="1.56"/>
<line x1="299.7" y1="538.4" x2="299.7" y2="540.4" stroke="#1a3c9b" stroke-width="1.2"/>
<line x1="299.7" y1="550.7" x2="299.7" y2="552.4" stroke="#1a3c9b" stroke-width="1.2"/>
<text x="314.8" y="549.2" font-size="9.6" fill="#222">non-SD</text>
<rect x="292.3" y="559.7" width="14.8" height="9.8" fill="#fff" stroke="#f01818" stroke-width="1.2"/>
<ellipse cx="299.7" cy="562.45" rx="4.44" ry="1" fill="#f01818" fill-opacity="0.3"/>
<ellipse cx="299.7" cy="566.75" rx="4.44" ry="1" fill="#f01818" fill-opacity="0.3"/>
<line x1="292.3" y1="564.6" x2="307.1" y2="564.6" stroke="#f01818" stroke-width="1.56"/>
<line x1="299.7" y1="557.7" x2="299.7" y2="559.7" stroke="#f01818" stroke-width="1.2"/>
<line x1="299.7" y1="569.5" x2="299.7" y2="571.5" stroke="#f01818" stroke-width="1.2"/>
<text x="314.8" y="568.4" font-size="9.6" fill="#222">SD</text>
</svg></body></html>
